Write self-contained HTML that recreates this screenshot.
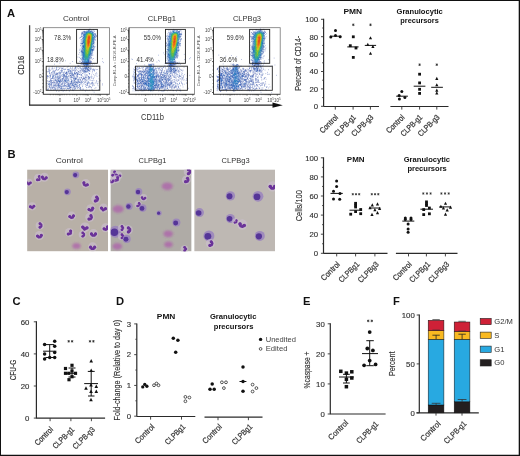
<!DOCTYPE html><html><head><meta charset="utf-8"><style>html,body{margin:0;padding:0;background:#fff;width:520px;height:456px;overflow:hidden}svg{display:block;will-change:transform}text{font-family:"Liberation Sans", sans-serif}</style></head><body><svg width="520" height="456" viewBox="0 0 520 456" font-family='"Liberation Sans", sans-serif'>
<rect x="0.00" y="0.00" width="520.00" height="456.00" fill="#fff"/>
<text x="7.00" y="16.90" font-size="11.2" fill="#111" text-anchor="start" font-weight="bold">A</text>
<g filter="url(#fb)" transform="translate(87.30 47.20) rotate(9) translate(-87.30 -47.20)"><ellipse cx="87.30" cy="46.70" rx="5.2" ry="15" fill="rgb(60,150,190)" opacity="0.55"/><ellipse cx="87.60" cy="45.20" rx="3.6" ry="12.5" fill="rgb(100,190,80)" opacity="0.75"/><ellipse cx="87.90" cy="41.70" rx="1.6" ry="6.5" fill="rgb(235,150,35)" opacity="0.8"/></g>
<path d="M89.1 63.1h.65M94.6 38.2h.65M81.9 36.6h.65M86.3 62.7h.65M93.0 49.2h.65M81.7 33.1h.65M80.8 50.6h.65M94.9 34.6h.65M92.1 59.2h.65M81.1 59.1h.65M82.1 43.6h.65M93.0 49.3h.65M84.3 65.2h.65M84.9 63.7h.65M88.3 29.9h.65M84.2 37.0h.65M92.5 54.8h.65M91.4 53.8h.65M90.5 58.1h.65M92.7 49.9h.65M93.4 50.4h.65M81.7 44.6h.65M81.9 41.8h.65M94.4 42.0h.65M89.7 60.4h.65M82.5 47.0h.65M87.0 63.3h.65M81.4 32.3h.65M81.5 36.3h.65M83.1 31.6h.65M93.6 46.9h.65M84.3 31.9h.65M89.8 60.7h.65M82.3 43.5h.65M81.3 40.0h.65M81.5 47.1h.65M81.6 42.1h.65M92.5 55.3h.65M94.3 31.5h.65M89.4 58.8h.65M94.7 36.6h.65M83.6 32.4h.65M84.5 62.7h.65M81.4 35.2h.65M81.5 50.1h.65M83.2 33.6h.65M94.4 42.8h.65M82.1 49.1h.65M88.9 29.4h.65M84.0 31.7h.65M81.5 59.9h.65M83.2 38.1h.65M83.8 29.8h.65M82.0 57.7h.65M91.8 53.0h.65M82.4 33.2h.65M95.2 35.7h.65M94.2 47.6h.65M90.8 61.2h.65M79.0 57.4h.65M93.7 48.8h.65M82.9 59.9h.65M82.5 32.8h.65M93.5 45.2h.65M93.3 48.1h.65M90.4 62.0h.65M91.7 50.9h.65M94.9 37.6h.65M91.0 58.0h.65M94.9 39.8h.65M94.2 36.7h.65M82.9 64.5h.65M86.0 65.3h.65M90.7 57.3h.65M81.8 45.1h.65M95.0 34.9h.65M80.7 63.2h.65M81.3 64.4h.65M90.6 59.1h.65M91.9 49.8h.65M90.8 57.6h.65M80.7 40.0h.65M81.0 50.0h.65M80.9 62.4h.65M82.4 61.3h.65M80.6 51.8h.65M79.0 50.1h.65M81.7 33.8h.65M80.8 55.4h.65M93.5 50.1h.65M90.8 53.9h.65M81.6 36.7h.65M80.7 43.6h.65M93.1 29.8h.65M89.7 61.7h.65M91.0 61.7h.65M93.1 58.5h.65M81.7 48.1h.65M79.8 49.0h.65M81.6 62.5h.65M93.3 45.2h.65M81.9 53.1h.65M80.4 37.6h.65M85.6 31.9h.65M92.3 49.4h.65M90.3 29.2h.65M91.1 55.6h.65M80.5 45.3h.65M86.8 64.1h.65M90.3 55.0h.65M94.8 46.7h.65M82.3 62.5h.65M81.6 52.0h.65M92.3 50.8h.65M81.4 36.9h.65M79.3 38.1h.65M87.8 64.0h.65M81.1 43.5h.65M96.0 35.6h.65M89.2 29.2h.65M96.1 36.2h.65M89.5 31.0h.65M82.4 31.9h.65M83.0 41.2h.65M81.6 43.6h.65M81.4 33.9h.65M88.3 61.8h.65M93.8 44.0h.65M95.8 36.5h.65M82.1 50.9h.65M91.2 49.6h.65M88.9 62.2h.65M91.5 63.5h.65M90.2 67.1h.65M87.1 69.8h.65M84.8 70.9h.65M85.5 64.4h.65M85.8 68.7h.65M89.4 71.1h.65M84.6 62.7h.65M83.4 68.6h.65M87.1 66.0h.65M90.1 69.0h.65M82.2 70.2h.65M89.7 61.9h.65M89.8 62.1h.65M83.9 67.1h.65M88.0 67.5h.65M87.5 64.5h.65M87.7 69.3h.65M83.3 71.1h.65M89.8 65.5h.65M88.7 66.7h.65M94.0 69.5h.65M81.3 62.7h.65M87.5 68.4h.65M78.5 68.8h.65M85.7 68.1h.65M88.0 62.5h.65M87.6 68.5h.65M86.2 71.5h.65M83.5 65.4h.65M93.1 69.3h.65M88.1 62.4h.65M89.5 63.1h.65M82.9 67.9h.65M85.8 64.5h.65M84.0 62.8h.65M87.7 62.3h.65M89.6 71.2h.65M86.0 65.7h.65M87.4 63.4h.65M90.8 62.2h.65M86.4 67.5h.65M91.4 68.3h.65M83.0 62.1h.65M89.8 62.0h.65M89.2 70.4h.65M87.4 69.4h.65M85.1 67.0h.65M84.1 63.5h.65M88.3 70.0h.65M92.9 63.5h.65M86.1 62.4h.65M83.1 64.4h.65M84.8 65.0h.65M83.1 66.3h.65M90.4 62.3h.65M86.5 63.7h.65M82.4 68.3h.65M85.2 67.7h.65M89.5 68.8h.65M82.1 61.8h.65M79.6 65.5h.65M88.4 67.6h.65M85.4 67.0h.65M77.6 65.4h.65M82.7 63.6h.65M84.7 71.7h.65M87.5 70.9h.65M83.5 70.1h.65M81.6 69.6h.65M94.1 63.9h.65M85.5 71.2h.65M75.9 75.6h.65M67.7 88.5h.65M59.9 86.3h.65M73.0 90.6h.65M74.5 71.3h.65M57.6 87.2h.65M75.4 66.5h.65M62.9 74.9h.65M54.6 80.0h.65M46.7 83.1h.65M70.8 81.7h.65M61.1 88.6h.65M66.9 69.7h.65M82.4 78.7h.65M84.9 82.4h.65M60.5 77.2h.65M75.1 73.3h.65M83.8 72.2h.65M87.0 75.9h.65M71.9 87.7h.65M53.2 81.3h.65M72.3 71.2h.65M64.9 69.1h.65M56.7 85.0h.65M59.3 68.7h.65M81.2 74.8h.65M56.7 83.0h.65M80.4 79.1h.65M47.4 75.7h.65M71.4 72.6h.65M85.3 91.0h.65M66.6 74.2h.65M67.5 83.1h.65M64.9 78.9h.65M70.7 81.7h.65M59.1 87.8h.65M68.0 88.7h.65M98.7 78.8h.65M90.5 84.2h.65M75.4 78.5h.65M68.7 81.4h.65M74.3 72.5h.65M71.2 82.7h.65M76.7 79.9h.65M64.9 88.5h.65M77.0 70.8h.65M52.4 88.7h.65M91.7 80.5h.65M92.9 79.0h.65M61.7 71.3h.65M61.7 90.2h.65M80.8 74.8h.65M62.9 69.2h.65M75.6 77.1h.65M58.4 84.3h.65M74.4 69.7h.65M85.2 84.7h.65M75.3 78.3h.65M78.7 74.5h.65M62.1 70.4h.65M50.1 77.3h.65M54.8 89.2h.65M51.1 69.0h.65M52.7 87.5h.65M79.2 82.4h.65M79.3 84.3h.65M58.4 69.9h.65M81.2 77.7h.65M82.6 84.7h.65M68.7 71.8h.65M49.6 81.3h.65M47.4 76.3h.65M77.2 80.1h.65M84.8 72.3h.65M69.9 83.9h.65M59.3 68.0h.65M57.8 85.7h.65M71.7 81.8h.65M99.5 80.1h.65M83.9 78.1h.65M53.6 79.7h.65M56.3 74.0h.65M59.9 67.8h.65M88.0 82.3h.65M52.2 68.6h.65M57.2 70.2h.65M74.1 84.4h.65M64.5 82.4h.65M91.7 83.0h.65M53.4 70.8h.65M51.1 84.4h.65M67.3 80.8h.65M58.1 79.0h.65M92.0 84.2h.65M66.1 73.3h.65M88.1 76.5h.65M65.4 80.4h.65M59.7 84.4h.65M64.4 75.7h.65M77.9 71.9h.65M51.1 81.6h.65M86.1 80.3h.65M51.8 83.0h.65M73.0 75.1h.65M60.5 73.1h.65M64.4 84.6h.65M91.8 69.7h.65M79.1 72.2h.65M50.4 75.7h.65M76.8 74.0h.65M48.0 89.2h.65M92.0 70.1h.65M74.3 80.4h.65M86.6 77.4h.65M81.6 75.5h.65M50.0 76.3h.65M63.5 78.3h.65M52.0 82.5h.65M79.2 81.3h.65M87.0 74.9h.65M92.9 78.5h.65M75.3 71.2h.65M57.1 73.7h.65M73.2 70.5h.65M94.2 75.9h.65M76.9 72.8h.65M58.0 77.0h.65M75.5 78.6h.65M62.2 88.8h.65M54.7 73.0h.65M51.9 74.8h.65M89.0 79.9h.65M74.3 75.1h.65M60.0 81.8h.65M61.3 81.0h.65M69.3 87.4h.65M52.0 78.0h.65M79.5 88.3h.65M73.0 76.0h.65M70.0 77.7h.65M87.6 90.6h.65M78.1 66.1h.65M55.3 70.1h.65M83.4 69.7h.65M54.5 85.8h.65M52.6 76.2h.65M95.2 73.8h.65M50.5 84.6h.65M57.6 78.1h.65M70.1 89.5h.65M54.7 82.3h.65M59.3 90.0h.65M86.9 83.1h.65M76.0 86.8h.65M47.5 89.2h.65M93.3 84.0h.65M83.5 78.8h.65M71.3 77.1h.65M74.2 68.4h.65M78.3 80.5h.65M93.7 70.5h.65M75.3 79.1h.65M94.2 71.1h.65M82.0 89.9h.65M58.1 69.4h.65M91.7 76.8h.65M67.6 78.8h.65M72.2 85.7h.65M50.2 74.1h.65M59.3 82.6h.65M62.8 85.5h.65M63.5 76.4h.65M65.2 73.2h.65M90.1 80.1h.65M56.5 72.8h.65M51.1 72.7h.65M95.6 83.2h.65M63.1 77.0h.65M66.8 67.8h.65M61.6 68.0h.65M54.6 80.4h.65M76.4 84.9h.65M86.0 77.2h.65M73.8 76.8h.65M77.3 74.5h.65M87.0 67.9h.65M49.0 87.5h.65M50.5 80.6h.65M56.4 85.0h.65M70.4 85.0h.65M70.2 68.2h.65M54.6 89.6h.65M93.3 69.1h.65M69.3 74.8h.65M74.5 70.5h.65M83.1 77.6h.65M59.2 76.1h.65M74.4 86.9h.65M85.4 75.0h.65M49.8 80.6h.65M49.6 70.3h.65M88.4 87.5h.65M79.7 70.1h.65M77.1 86.4h.65M92.4 82.1h.65M70.0 87.5h.65M75.7 86.7h.65M85.6 76.2h.65M86.6 83.7h.65M71.3 74.6h.65M72.6 74.1h.65M91.1 89.2h.65M52.7 75.8h.65M53.3 85.4h.65M52.8 84.7h.65M90.8 77.8h.65M61.0 88.1h.65M58.4 73.1h.65M83.7 71.9h.65M82.1 86.6h.65M96.2 72.8h.65M67.5 66.7h.65M62.7 86.5h.65M65.7 90.8h.65M50.7 89.7h.65M96.3 80.7h.65M74.0 73.5h.65M57.3 89.4h.65M62.0 78.8h.65M58.0 81.0h.65M63.3 73.8h.65M56.5 82.4h.65M80.7 81.2h.65M90.3 68.7h.65M85.3 86.3h.65M77.0 67.1h.65M49.1 71.4h.65M64.8 78.4h.65M57.6 81.4h.65M77.4 75.1h.65M48.6 68.1h.65M94.8 69.2h.65M55.6 73.9h.65M72.9 85.6h.65M62.6 72.7h.65M49.4 86.5h.65M81.4 72.2h.65M46.7 71.7h.65M70.1 83.1h.65M59.4 72.2h.65M49.6 70.6h.65M81.5 70.4h.65M85.8 80.0h.65M66.2 90.3h.65M57.0 85.2h.65M77.7 87.6h.65M73.8 81.6h.65M70.2 87.6h.65M57.4 76.6h.65M66.4 78.0h.65M67.1 83.9h.65M97.7 85.3h.65M62.1 79.2h.65M58.2 84.0h.65M54.5 82.1h.65M74.0 89.4h.65M55.5 76.4h.65M60.9 72.2h.65M73.7 86.2h.65M78.1 87.4h.65M65.2 73.4h.65M59.6 85.8h.65M82.1 79.9h.65M74.8 69.1h.65M64.0 74.9h.65M71.0 87.4h.65M76.1 69.1h.65M62.3 76.6h.65M83.5 78.7h.65M90.4 86.5h.65M51.6 78.5h.65M51.7 82.7h.65M68.3 71.8h.65M59.4 78.1h.65M68.5 83.9h.65M62.9 79.3h.65M72.7 88.9h.65M77.3 83.5h.65M64.7 76.4h.65M78.7 79.9h.65M66.3 73.5h.65M47.3 75.7h.65M84.8 76.7h.65M96.4 69.6h.65M80.4 70.3h.65M85.2 79.4h.65M73.0 87.2h.65M87.6 79.3h.65M62.9 76.0h.65M71.3 77.3h.65M52.7 68.8h.65M63.8 75.7h.65M99.6 68.6h.65M51.1 80.4h.65M47.7 76.6h.65M64.8 81.1h.65M92.2 85.3h.65M53.6 89.8h.65M67.8 85.4h.65M88.8 85.8h.65M87.1 71.9h.65M49.5 73.1h.65M59.8 77.7h.65M60.6 86.9h.65M72.4 73.0h.65M53.8 71.8h.65M50.6 86.1h.65M72.2 89.9h.65M67.8 70.6h.65M59.6 74.3h.65M62.7 86.3h.65M58.5 87.0h.65M47.3 89.6h.65M67.0 74.2h.65M56.6 86.2h.65M75.9 70.0h.65M64.3 80.1h.65M63.8 69.3h.65M52.1 87.9h.65M93.7 77.4h.65M46.9 87.0h.65M64.5 85.4h.65M60.4 70.6h.65M69.6 76.2h.65M56.0 69.8h.65M51.4 84.9h.65M71.5 83.1h.65M71.3 69.0h.65M93.6 80.6h.65M52.7 73.9h.65M87.6 83.1h.65M55.2 79.8h.65M64.6 83.4h.65M48.1 76.3h.65M56.6 77.8h.65M81.9 71.1h.65M80.3 80.1h.65M68.8 88.9h.65M81.9 82.3h.65M76.4 78.7h.65M61.2 90.2h.65M61.1 70.6h.65M53.6 71.3h.65M65.1 69.4h.65M73.8 82.9h.65M79.6 79.5h.65M81.1 81.7h.65M62.7 83.7h.65M49.7 81.8h.65M49.3 84.4h.65M89.4 87.0h.65M66.4 72.3h.65M57.6 84.6h.65M59.7 86.2h.65M74.0 77.0h.65M57.2 82.3h.65M63.5 88.6h.65M55.7 89.2h.65M66.8 88.6h.65M85.7 78.8h.65M47.6 89.2h.65M78.4 73.3h.65M64.6 75.7h.65M59.3 81.6h.65M69.9 75.7h.65M70.4 87.7h.65M88.1 78.6h.65M59.3 87.0h.65M63.7 86.4h.65M84.7 90.5h.65M93.6 83.2h.65M63.9 74.7h.65M58.5 85.9h.65M70.4 70.2h.65M64.1 80.2h.65M48.9 77.7h.65M75.9 81.6h.65M81.8 76.6h.65M79.0 86.6h.65M60.2 80.8h.65M50.8 78.9h.65M56.3 68.7h.65M79.8 70.5h.65M80.3 73.0h.65M67.5 77.1h.65M58.6 74.9h.65M66.9 86.0h.65M69.5 90.6h.65M84.7 82.1h.65M46.9 77.0h.65M97.8 81.8h.65M51.9 66.5h.65M69.5 73.5h.65M80.4 82.2h.65M80.0 79.7h.65M65.6 86.0h.65M94.6 88.4h.65M82.5 73.6h.65M56.6 73.8h.65M50.7 80.3h.65M75.3 67.9h.65M56.3 91.0h.65M89.4 90.2h.65M97.6 83.4h.65M64.0 90.5h.65M83.1 78.5h.65M73.2 83.2h.65M64.8 87.8h.65M50.1 87.8h.65M76.8 73.7h.65M87.4 85.3h.65M92.0 86.0h.65M77.2 77.6h.65M86.5 84.9h.65M47.4 81.2h.65M50.0 85.1h.65M79.8 87.9h.65M65.9 86.0h.65M74.7 67.1h.65M75.6 84.2h.65M73.5 78.8h.65M71.0 85.8h.65M64.5 83.7h.65M48.2 81.8h.65M69.7 78.3h.65M79.5 82.5h.65M61.6 68.4h.65M95.6 75.3h.65M52.0 78.0h.65M70.0 83.8h.65M91.9 72.9h.65M88.9 78.2h.65M68.3 84.8h.65M88.5 86.8h.65M58.3 80.0h.65M56.0 82.2h.65M70.0 88.8h.65M47.5 80.7h.65M54.4 71.6h.65M74.2 72.8h.65M53.6 82.5h.65M51.6 87.5h.65M50.4 89.9h.65M64.7 83.6h.65M57.9 83.6h.65M56.7 77.4h.65M93.4 74.6h.65M71.9 70.5h.65M76.5 82.7h.65M96.0 81.2h.65M75.4 67.3h.65M76.5 76.5h.65M54.0 73.3h.65M70.6 77.2h.65M55.8 86.5h.65M70.8 71.5h.65M74.1 80.8h.65M48.7 83.4h.65M57.3 82.9h.65M78.7 82.2h.65M51.0 85.8h.65M62.8 72.3h.65M70.8 83.4h.65M79.7 68.0h.65M51.6 90.3h.65M66.2 74.1h.65M85.3 77.3h.65M60.7 75.9h.65M59.8 83.1h.65M53.2 78.5h.65M64.8 77.5h.65M90.8 87.6h.65M52.3 80.6h.65M60.3 75.1h.65M57.2 81.6h.65M89.3 86.1h.65M64.9 76.5h.65M98.9 75.7h.65M77.9 66.3h.65M54.2 88.4h.65M68.3 78.8h.65M76.6 72.5h.65M60.0 76.4h.65M67.9 86.6h.65M66.6 87.1h.65M71.8 77.8h.65M77.0 82.4h.65M85.2 80.2h.65M63.3 72.9h.65M72.6 85.8h.65M54.4 87.6h.65M74.2 78.7h.65M51.9 67.6h.65M88.8 73.5h.65M61.9 90.8h.65M69.8 71.6h.65M54.8 77.7h.65M61.7 68.2h.65M84.5 79.6h.65M88.9 78.0h.65M73.7 85.7h.65M55.1 84.1h.65M68.2 83.6h.65M60.4 90.1h.65M60.0 73.1h.65M66.9 76.3h.65M84.7 71.8h.65M68.4 82.6h.65M59.2 77.6h.65M62.1 86.1h.65M72.6 75.6h.65M72.7 83.8h.65M74.8 79.3h.65M53.0 86.3h.65M60.7 87.5h.65M52.2 77.5h.65M59.7 78.3h.65M55.6 74.7h.65M86.7 69.2h.65M55.5 87.1h.65M68.8 69.7h.65M71.9 69.2h.65M70.4 71.2h.65M60.1 79.7h.65M74.6 87.0h.65M67.9 76.8h.65M54.8 70.9h.65M76.7 73.5h.65M50.1 79.6h.65M79.2 84.8h.65M63.6 88.8h.65M89.3 68.1h.65M64.9 82.0h.65M92.3 71.5h.65M69.6 77.1h.65M52.6 70.0h.65M55.3 79.7h.65M49.8 75.7h.65M77.4 76.2h.65M52.1 87.9h.65M52.6 82.7h.65M79.2 78.2h.65M55.4 78.2h.65M49.8 84.6h.65M88.2 77.1h.65M48.2 69.3h.65M56.6 79.0h.65M71.5 79.9h.65M56.6 74.3h.65M55.2 83.1h.65M59.6 73.7h.65M75.0 88.2h.65M48.5 71.7h.65M67.3 81.9h.65M49.3 73.1h.65M54.2 84.0h.65M71.5 80.4h.65M61.3 86.3h.65M79.8 72.1h.65M73.5 82.5h.65M56.6 88.1h.65M59.7 76.9h.65M78.0 66.1h.65M66.1 72.4h.65M55.5 80.3h.65M54.5 75.1h.65M75.6 82.7h.65M67.3 78.7h.65M63.1 75.2h.65M53.0 80.9h.65M68.4 71.4h.65M80.5 88.0h.65M100.3 80.8h.65M51.6 73.5h.65M68.5 73.7h.65M74.3 86.8h.65M77.3 76.1h.65M85.9 74.8h.65M72.7 83.2h.65M63.4 78.4h.65M64.5 66.5h.65M48.1 84.4h.65M52.5 71.7h.65M92.1 83.4h.65M51.2 82.3h.65M62.1 84.0h.65M75.2 74.0h.65M91.6 82.5h.65M58.0 85.0h.65M82.7 88.9h.65M91.1 76.8h.65M87.1 84.9h.65M78.0 81.3h.65M96.6 73.9h.65M83.9 80.9h.65M86.5 87.6h.65M60.2 85.7h.65M64.8 73.9h.65M47.2 78.3h.65M83.8 78.5h.65M53.7 82.8h.65M91.1 75.0h.65M74.8 74.4h.65M72.5 68.7h.65M86.1 75.1h.65M49.6 83.4h.65M87.0 83.1h.65M80.8 75.2h.65M89.2 83.9h.65M78.2 71.6h.65M48.9 87.2h.65M70.5 75.7h.65M70.3 75.5h.65M53.8 87.1h.65M77.8 78.1h.65M54.5 85.5h.65M58.0 84.7h.65M74.9 81.5h.65M61.8 82.9h.65M57.4 74.3h.65M86.6 82.0h.65M82.2 73.4h.65M82.1 79.6h.65M59.8 80.1h.65M70.1 73.1h.65M77.7 68.7h.65M84.1 70.2h.65M62.9 90.6h.65M77.0 84.9h.65M59.5 78.2h.65M91.1 87.4h.65M72.3 90.2h.65M68.5 75.6h.65M78.2 71.4h.65M61.8 81.7h.65M95.6 87.6h.65M83.3 81.6h.65M89.2 77.8h.65M55.1 84.9h.65M65.3 85.5h.65M50.3 78.8h.65M48.5 70.2h.65M49.4 68.0h.65M83.0 76.8h.65M89.1 74.3h.65M80.7 84.8h.65M72.9 85.7h.65M92.0 89.7h.65M68.5 85.3h.65M55.1 88.6h.65M55.6 76.1h.65M76.5 82.5h.65M61.4 81.2h.65M54.1 68.1h.65M96.4 66.3h.65M102.4 61.6h.65M99.0 87.7h.65M86.4 53.5h.65M62.3 68.6h.65M80.2 58.9h.65M102.2 58.7h.65M79.2 61.3h.65M61.9 83.6h.65M63.0 66.9h.65M67.9 69.7h.65M79.9 61.3h.65M58.6 91.4h.65M102.1 85.0h.65M73.6 76.1h.65M56.7 62.4h.65M80.0 58.4h.65M54.1 64.2h.65M103.3 62.6h.65M88.7 77.0h.65M69.0 86.2h.65M49.8 74.9h.65M93.8 92.2h.65M77.6 57.1h.65M74.1 88.8h.65M69.8 63.4h.65M79.0 52.7h.65M46.1 83.7h.65M72.2 61.5h.65M91.6 65.6h.65M73.3 78.1h.65M102.0 83.8h.65M71.5 75.9h.65" stroke="rgb(40, 65, 160)" stroke-width=".65" stroke-opacity="0.75"/>
<path d="M93.0 46.8h.65M88.8 59.2h.65M91.8 47.9h.65M94.8 33.7h.65M81.5 51.5h.65M80.3 37.5h.65M89.6 55.1h.65M82.2 52.6h.65M94.8 39.7h.65M92.3 50.2h.65M86.2 64.9h.65M89.2 57.5h.65M86.3 63.6h.65M83.8 62.5h.65M81.7 52.1h.65M81.9 61.1h.65M92.9 43.5h.65M94.7 40.4h.65M82.9 64.1h.65M91.9 50.0h.65M90.9 53.4h.65M92.3 53.2h.65M81.6 33.8h.65M84.5 31.5h.65M82.6 59.5h.65M83.8 63.7h.65M82.8 42.4h.65M92.8 43.1h.65M81.6 51.9h.65M92.9 34.5h.65M95.3 33.9h.65M80.1 43.2h.65M82.8 40.0h.65M80.9 39.6h.65M85.7 31.8h.65M83.3 62.4h.65M82.5 50.5h.65M90.8 54.7h.65M92.2 31.8h.65M81.8 33.5h.65M81.4 34.4h.65M78.5 54.4h.65M84.3 64.7h.65M82.5 57.1h.65M83.0 47.3h.65M82.4 58.6h.65M92.3 47.3h.65M94.3 34.2h.65M89.6 30.3h.65M82.6 43.0h.65M83.5 37.8h.65M82.9 37.5h.65M89.6 61.9h.65M82.1 58.0h.65M85.2 63.5h.65M90.6 31.0h.65M82.8 47.1h.65M91.6 31.1h.65M93.8 30.8h.65M81.6 52.1h.65M88.3 30.8h.65M80.1 45.8h.65M87.6 31.2h.65M92.9 35.5h.65M81.4 51.0h.65M88.4 60.9h.65M93.3 41.4h.65M82.7 56.9h.65M82.4 52.0h.65M91.8 32.3h.65M82.5 51.7h.65M82.6 46.4h.65M93.1 35.8h.65M93.8 39.3h.65M83.0 49.0h.65M81.9 62.1h.65M82.5 39.7h.65M90.1 56.5h.65M89.0 59.8h.65M81.9 58.8h.65M83.2 62.8h.65M82.0 49.0h.65M88.0 61.9h.65M90.9 54.8h.65M81.3 51.5h.65M87.3 64.3h.65M90.5 31.5h.65M82.5 43.5h.65M92.6 44.0h.65M86.8 31.5h.65M88.7 60.4h.65M92.2 50.0h.65M83.8 32.4h.65M83.2 46.4h.65M80.8 41.7h.65M87.6 30.8h.65M83.7 36.5h.65M88.3 61.7h.65M89.3 63.6h.65M88.3 59.6h.65M90.6 55.0h.65M88.7 30.2h.65M83.0 35.6h.65M81.6 59.8h.65M93.8 39.3h.65M91.9 49.5h.65M81.9 60.4h.65M81.5 43.3h.65M82.4 32.6h.65M93.3 40.0h.65M84.7 32.0h.65M86.1 63.0h.65M81.6 57.8h.65M83.1 58.4h.65M87.8 30.3h.65M87.5 62.5h.65M82.4 52.4h.65M83.1 34.7h.65M87.3 64.7h.65M82.9 46.5h.65M80.8 36.2h.65M89.1 58.3h.65M85.7 32.2h.65M86.8 63.3h.65M84.8 63.8h.65M82.4 33.2h.65M86.1 31.0h.65M91.4 31.0h.65M81.5 54.1h.65M82.2 55.0h.65M82.0 54.7h.65M93.2 43.3h.65M95.4 34.9h.65M88.4 62.6h.65M92.2 50.9h.65M82.7 55.8h.65M82.8 46.1h.65M82.7 41.4h.65M93.1 46.0h.65M88.6 70.0h.65M84.6 63.6h.65M91.8 69.3h.65M88.6 67.6h.65M86.1 61.9h.65M88.8 62.3h.65M90.8 62.6h.65M82.6 71.4h.65M84.1 67.9h.65M88.6 65.1h.65M80.6 64.2h.65M88.1 64.3h.65M88.1 70.3h.65M86.9 65.1h.65M82.5 68.0h.65M86.2 67.1h.65M88.3 70.6h.65M85.1 69.9h.65M84.1 70.9h.65M86.2 68.5h.65M84.7 68.6h.65M87.4 64.7h.65M83.9 68.1h.65M84.4 70.5h.65M86.7 64.6h.65M85.2 63.8h.65M86.7 70.0h.65M83.0 63.8h.65M86.3 66.7h.65M85.1 64.9h.65M87.6 69.7h.65M85.1 69.3h.65M82.7 69.7h.65M86.2 66.8h.65M86.2 64.7h.65M87.6 64.6h.65M84.0 65.4h.65M91.9 64.3h.65M86.6 64.2h.65M86.9 62.5h.65M90.2 69.4h.65M84.3 66.2h.65M87.3 67.0h.65M88.5 65.9h.65M88.7 69.0h.65M87.4 70.0h.65M84.5 62.7h.65M88.4 64.9h.65M85.6 62.4h.65M81.5 69.5h.65M82.4 70.1h.65M86.7 70.5h.65M84.5 68.0h.65M89.5 70.7h.65M87.9 64.9h.65M84.5 69.0h.65M83.1 70.9h.65M79.9 67.2h.65M84.8 65.3h.65M86.9 68.8h.65M87.3 62.2h.65M88.2 69.7h.65M82.2 66.6h.65M90.6 67.8h.65M85.8 64.2h.65M86.2 71.5h.65M88.3 67.4h.65M84.2 64.1h.65M85.7 69.5h.65M86.4 64.0h.65M87.8 63.9h.65M72.2 75.1h.65M75.2 89.0h.65M83.5 83.4h.65M66.0 79.4h.65M75.1 84.3h.65M78.1 79.7h.65M70.6 79.5h.65M54.6 84.8h.65M64.2 72.4h.65M57.6 77.9h.65M79.8 89.1h.65M69.6 71.1h.65M82.6 79.2h.65M90.7 83.6h.65M50.0 82.4h.65M88.2 77.8h.65M51.4 72.6h.65M88.1 82.2h.65M55.4 85.4h.65M81.0 78.0h.65M73.1 79.9h.65M80.3 87.3h.65M94.2 85.3h.65M73.8 88.3h.65M66.1 89.9h.65M76.1 72.5h.65M70.7 73.8h.65M62.0 78.5h.65M59.6 72.0h.65M72.9 69.9h.65M67.6 87.0h.65M60.6 80.3h.65M78.7 85.5h.65M52.2 72.1h.65M73.8 74.1h.65M98.4 89.5h.65M97.3 69.5h.65M71.2 81.7h.65M72.3 74.9h.65M59.3 75.7h.65M68.6 86.6h.65M57.5 73.3h.65M77.3 79.8h.65M79.8 88.9h.65M78.8 85.7h.65M71.8 84.1h.65M59.3 84.0h.65M63.1 82.7h.65M59.2 87.7h.65M53.4 87.8h.65M60.5 88.5h.65M63.7 74.7h.65M64.8 77.6h.65M66.7 74.5h.65M60.1 82.6h.65M76.8 82.8h.65M55.4 75.0h.65M64.3 76.4h.65M61.2 69.3h.65M63.2 77.6h.65M60.9 81.4h.65M71.9 75.7h.65M57.8 86.7h.65M80.7 74.9h.65M66.5 77.1h.65M77.2 81.8h.65M55.5 80.8h.65M47.4 71.8h.65M77.6 87.8h.65M49.4 75.9h.65M70.4 75.0h.65M74.1 73.5h.65M61.5 87.5h.65M71.8 88.7h.65M47.6 85.7h.65M71.9 81.0h.65M72.3 67.6h.65M56.2 67.0h.65M70.1 67.8h.65M63.5 81.3h.65M54.1 78.4h.65M49.3 86.2h.65M88.0 79.1h.65M73.3 81.3h.65M69.3 88.3h.65M75.1 70.4h.65M65.3 79.0h.65M53.3 90.0h.65M74.8 84.9h.65M58.5 87.1h.65M71.0 81.2h.65M51.8 86.1h.65M48.9 69.4h.65M86.4 87.3h.65M72.7 74.8h.65M80.0 89.2h.65M89.4 73.5h.65M71.8 72.9h.65M47.9 84.2h.65M57.5 88.6h.65M75.1 88.2h.65M77.1 85.5h.65M57.1 79.6h.65M62.7 69.0h.65M63.0 77.7h.65M73.7 77.0h.65M80.8 74.3h.65M51.0 78.5h.65M53.1 74.1h.65M77.6 81.8h.65M56.5 81.4h.65M53.8 75.3h.65M56.7 83.5h.65M67.6 71.6h.65M49.7 81.3h.65M64.4 85.6h.65M79.1 77.6h.65M65.0 81.6h.65M92.7 66.1h.65M79.9 87.7h.65M91.5 78.3h.65M68.7 86.2h.65M51.6 74.6h.65M72.0 84.1h.65M68.0 76.2h.65M59.1 81.5h.65M66.3 78.7h.65M80.7 80.6h.65M75.1 82.7h.65M59.7 72.6h.65M84.2 82.7h.65M91.0 83.7h.65M55.9 67.9h.65M70.9 83.8h.65M72.2 73.3h.65M79.4 74.4h.65M70.7 86.0h.65M61.1 84.5h.65M64.9 73.3h.65M64.5 81.2h.65M61.1 79.1h.65M84.8 84.4h.65M95.7 82.3h.65M74.9 73.4h.65M66.1 77.9h.65M71.7 77.4h.65M85.0 81.6h.65M77.2 86.8h.65M48.5 88.7h.65M64.3 80.3h.65M60.9 90.1h.65M64.1 86.2h.65M68.1 83.9h.65M62.5 84.2h.65M53.0 76.0h.65M59.2 83.2h.65M71.4 71.1h.65M67.6 84.7h.65M61.6 79.0h.65M71.2 79.0h.65M74.6 78.9h.65M52.9 72.0h.65M75.9 67.1h.65M61.3 83.4h.65M62.8 87.8h.65M54.7 87.0h.65M57.6 75.3h.65M84.9 77.8h.65M57.9 72.7h.65M63.9 75.1h.65M72.8 89.8h.65M51.1 83.9h.65M54.4 72.7h.65M85.9 89.9h.65M64.8 81.0h.65M75.5 79.0h.65M48.8 81.7h.65M49.4 81.7h.65M87.2 84.8h.65M82.2 80.9h.65M48.5 71.3h.65M84.7 72.3h.65M69.5 82.0h.65M76.9 88.5h.65M93.3 85.1h.65M68.8 84.8h.65M84.4 78.8h.65M80.7 83.2h.65M66.9 86.3h.65M89.2 77.8h.65M77.6 74.4h.65M68.8 85.4h.65M74.0 86.6h.65M75.2 68.2h.65M56.4 69.6h.65M66.2 80.0h.65M53.2 76.0h.65M96.7 76.4h.65M74.7 85.7h.65M69.4 84.0h.65M80.6 77.3h.65M68.1 69.3h.65M66.0 84.9h.65M54.8 74.5h.65M69.3 73.4h.65M49.0 72.4h.65M52.0 76.2h.65M88.4 72.1h.65M54.8 70.6h.65M50.3 76.1h.65M73.3 74.9h.65M54.6 85.8h.65M51.2 83.1h.65M67.0 82.4h.65M65.7 83.1h.65M56.3 83.4h.65M58.4 80.3h.65M69.1 88.3h.65M67.4 73.3h.65M75.9 82.7h.65M65.8 86.5h.65M83.4 89.4h.65M71.2 75.1h.65M74.6 73.6h.65M73.1 74.8h.65M59.5 81.7h.65M48.9 85.0h.65M58.7 80.2h.65M60.0 81.1h.65M74.8 80.9h.65M58.7 80.7h.65M59.3 85.5h.65M71.7 80.7h.65M54.2 82.1h.65M53.5 82.8h.65M80.8 77.6h.65M73.7 78.6h.65M56.7 77.9h.65M73.5 78.1h.65M65.9 71.9h.65M71.4 81.7h.65M77.5 76.4h.65M50.3 83.1h.65M56.7 79.7h.65M57.7 81.1h.65M73.6 77.9h.65M66.3 76.5h.65M88.2 76.4h.65M65.5 80.3h.65M61.0 71.3h.65M63.3 81.2h.65M59.6 80.3h.65M79.5 67.1h.65M73.7 80.2h.65M89.8 86.8h.65M65.5 79.9h.65M56.3 90.7h.65M70.3 71.0h.65M60.0 79.8h.65M79.8 82.4h.65M84.9 77.6h.65M56.3 81.2h.65M67.1 84.3h.65M67.8 81.0h.65M51.5 86.1h.65M53.6 77.6h.65M60.8 84.7h.65M67.3 69.6h.65M74.4 82.8h.65M81.9 82.7h.65M66.9 80.4h.65M84.7 71.2h.65M63.2 91.0h.65M56.5 80.5h.65M83.9 78.3h.65M66.3 72.7h.65M75.6 84.5h.65M66.4 72.4h.65M70.1 73.0h.65M69.4 69.1h.65M72.2 74.3h.65M57.1 73.7h.65M86.2 85.5h.65M71.1 81.3h.65M58.1 85.7h.65M49.7 70.0h.65M89.0 73.6h.65M58.2 89.0h.65M49.4 73.6h.65M61.2 70.3h.65M66.3 82.4h.65M48.6 86.7h.65M57.6 87.6h.65M57.8 67.3h.65M60.0 88.8h.65M64.0 90.2h.65M70.2 75.7h.65M56.1 74.4h.65M53.6 76.7h.65M52.9 86.9h.65M76.5 82.2h.65M81.3 82.1h.65M91.9 82.6h.65M77.0 73.9h.65M66.8 88.3h.65M55.0 77.3h.65M77.3 74.3h.65M78.5 73.0h.65M53.1 76.0h.65M64.7 77.1h.65M70.6 84.9h.65M60.9 86.1h.65M66.2 75.1h.65M62.7 80.0h.65M72.3 82.7h.65M97.3 83.9h.65M59.1 85.8h.65M58.3 80.8h.65M78.9 84.5h.65M92.6 90.7h.65M71.0 73.2h.65M68.4 66.3h.65M81.1 83.2h.65M75.2 68.0h.65M60.6 88.4h.65M78.9 86.2h.65M80.7 89.5h.65M79.3 74.5h.65M83.0 72.8h.65M70.6 73.1h.65M75.7 73.2h.65M55.9 73.8h.65M65.3 60.8h.65M91.8 80.6h.65M75.5 83.8h.65M51.4 81.0h.65M74.7 86.9h.65M80.4 84.0h.65M75.3 84.2h.65M68.7 86.0h.65M61.5 75.1h.65M59.6 63.2h.65M74.7 81.2h.65" stroke="rgb(38, 76, 171)" stroke-width=".65" stroke-opacity="0.75"/>
<path d="M93.1 46.5h.65M82.8 53.2h.65M93.2 32.0h.65M89.7 31.5h.65M90.3 53.5h.65M92.9 29.8h.65M88.7 62.2h.65M89.5 56.2h.65M91.2 49.2h.65M88.4 31.2h.65M93.2 38.6h.65M83.0 38.1h.65M87.4 31.9h.65M89.5 53.9h.65M82.5 61.6h.65M93.7 40.8h.65M88.3 61.9h.65M88.7 58.0h.65M90.2 53.7h.65M88.6 63.0h.65M92.0 32.8h.65M88.5 60.0h.65M83.1 34.6h.65M82.5 46.0h.65M82.9 40.4h.65M92.5 52.2h.65M93.3 34.3h.65M86.6 62.2h.65M82.9 56.4h.65M82.3 59.0h.65M82.7 47.9h.65M94.0 36.8h.65M83.5 47.9h.65M83.2 63.6h.65M87.0 62.7h.65M92.8 38.0h.65M90.2 52.7h.65M91.1 31.6h.65M83.9 37.0h.65M83.0 61.6h.65M89.2 30.5h.65M88.0 60.5h.65M83.4 63.7h.65M93.4 42.0h.65M84.1 42.6h.65M82.9 57.9h.65M92.7 41.1h.65M93.5 33.1h.65M88.6 58.2h.65M82.9 57.7h.65M82.6 45.9h.65M83.8 35.9h.65M87.1 62.0h.65M83.0 59.5h.65M91.8 49.8h.65M93.7 35.4h.65M91.9 32.0h.65M84.8 63.2h.65M83.4 36.1h.65M83.1 47.1h.65M83.4 37.3h.65M90.4 50.3h.65M83.2 40.2h.65M87.7 61.5h.65M88.7 61.1h.65M83.2 63.0h.65M85.7 62.3h.65M89.3 54.7h.65M92.9 39.9h.65M83.0 52.4h.65M94.0 39.0h.65M91.5 46.0h.65M87.5 62.8h.65M93.5 41.4h.65M83.5 55.7h.65M91.0 31.9h.65M83.0 60.1h.65M91.0 46.0h.65M84.0 35.9h.65M82.9 35.9h.65M83.1 59.1h.65M92.7 42.4h.65M84.7 62.7h.65M83.4 53.4h.65M94.7 36.2h.65M82.1 38.7h.65M90.8 52.2h.65M82.8 34.3h.65M82.3 43.5h.65M92.3 43.6h.65M82.9 56.5h.65M94.4 38.3h.65M93.6 48.9h.65M92.5 47.2h.65M93.6 38.1h.65M94.5 33.9h.65M84.3 36.1h.65M85.6 63.0h.65M88.4 61.7h.65M92.6 46.6h.65M83.1 31.8h.65M82.8 39.1h.65M83.4 58.0h.65M83.9 39.5h.65M91.6 52.6h.65M82.7 63.7h.65M94.1 46.6h.65M85.0 63.0h.65M82.6 42.2h.65M92.8 43.0h.65M84.5 63.9h.65M84.7 31.8h.65M90.3 54.2h.65M83.1 55.9h.65M94.4 33.6h.65M83.8 54.0h.65M85.5 33.0h.65M94.9 37.3h.65M84.6 34.4h.65M82.5 38.1h.65M83.9 35.5h.65M88.9 31.8h.65M94.5 35.7h.65M91.7 30.7h.65M82.4 51.1h.65M82.4 43.3h.65M83.8 34.3h.65M92.9 37.9h.65M82.7 56.1h.65M92.7 32.4h.65M92.8 35.7h.65M83.9 61.5h.65M84.6 33.1h.65M82.1 48.5h.65M84.0 63.4h.65M90.7 56.0h.65M91.1 49.4h.65M87.1 62.9h.65M83.8 33.9h.65M84.4 32.2h.65M90.1 51.8h.65M91.8 49.8h.65M84.1 34.2h.65M85.9 65.2h.65M83.3 45.9h.65M91.9 51.4h.65M92.4 44.8h.65M86.0 64.1h.65M84.0 61.7h.65M83.9 33.8h.65M83.3 35.5h.65M88.4 31.3h.65M87.9 61.3h.65M91.5 50.7h.65M87.2 61.9h.65M90.4 58.2h.65M84.9 33.0h.65M83.9 32.1h.65M88.2 60.6h.65M83.4 46.2h.65M82.4 55.1h.65M88.4 70.3h.65M86.2 64.0h.65M85.6 63.4h.65M86.3 66.6h.65M89.5 64.9h.65M85.0 68.1h.65M86.2 67.5h.65M82.3 64.6h.65M90.3 64.3h.65M87.4 63.1h.65M88.6 66.8h.65M85.6 70.3h.65M88.5 63.4h.65M90.5 63.3h.65M86.4 68.4h.65M84.9 71.5h.65M89.6 64.2h.65M81.2 68.6h.65M85.7 68.8h.65M86.1 62.2h.65M85.2 68.2h.65M86.5 62.4h.65M85.8 63.7h.65M83.7 66.5h.65M87.2 71.5h.65M85.0 71.4h.65M87.4 65.6h.65M85.2 68.3h.65M89.3 63.2h.65M87.3 64.0h.65M70.4 70.6h.65M70.0 86.9h.65M52.7 77.6h.65M66.9 72.6h.65M86.6 77.9h.65M58.3 78.4h.65M49.2 83.5h.65M59.1 81.2h.65M56.9 76.0h.65M85.0 66.1h.65M68.3 80.0h.65M88.3 81.3h.65M56.0 80.9h.65M82.4 85.9h.65M71.0 76.8h.65M51.2 83.8h.65M64.3 69.7h.65M73.6 83.0h.65M62.5 78.7h.65M65.3 76.0h.65M68.3 86.0h.65M69.9 83.7h.65M62.3 80.9h.65M76.4 75.0h.65M77.6 74.4h.65M88.8 77.1h.65M58.8 79.2h.65M50.2 88.3h.65M78.4 81.8h.65M87.1 83.4h.65M74.2 79.9h.65M61.9 79.8h.65M67.0 88.7h.65M78.1 82.0h.65M58.3 83.7h.65M61.6 76.0h.65M75.9 78.9h.65M66.2 82.6h.65M61.5 84.7h.65M59.7 81.4h.65M73.0 84.5h.65M68.8 80.1h.65M62.3 70.9h.65M67.2 77.2h.65M78.1 79.5h.65M66.1 75.7h.65M84.7 73.3h.65M71.2 82.7h.65M86.2 72.5h.65M46.8 76.8h.65M58.0 81.5h.65M69.1 85.3h.65M52.4 78.4h.65M68.9 84.0h.65M56.5 67.7h.65M63.9 82.0h.65M59.2 81.7h.65M62.1 82.3h.65M67.6 79.8h.65M86.9 80.9h.65M53.7 72.8h.65M71.7 84.0h.65M76.2 85.0h.65M78.6 82.4h.65M50.6 87.6h.65M68.9 91.0h.65M53.5 83.9h.65M94.1 70.6h.65M67.9 80.2h.65M75.7 78.6h.65M86.7 67.9h.65M83.0 68.8h.65M66.2 77.0h.65M71.9 85.5h.65M81.6 82.1h.65M89.3 82.6h.65M93.4 70.0h.65M76.2 86.7h.65M69.6 72.8h.65M55.8 85.3h.65M63.2 75.9h.65M65.8 76.3h.65M49.1 85.4h.65M84.1 74.9h.65M65.0 85.8h.65M51.1 88.2h.65M69.1 70.5h.65M76.2 72.4h.65M70.5 87.1h.65M69.0 87.2h.65M63.9 88.8h.65M65.3 80.7h.65M58.5 78.6h.65M68.3 72.1h.65M57.9 77.9h.65M64.0 71.3h.65M64.2 79.8h.65M55.5 76.3h.65M54.9 80.4h.65M62.1 80.5h.65M61.8 74.9h.65M57.3 80.3h.65M76.0 77.8h.65M57.8 82.4h.65M48.6 84.5h.65M79.9 71.5h.65M62.3 89.1h.65M73.4 87.1h.65M74.4 72.2h.65M65.8 72.7h.65M75.5 77.4h.65M88.4 83.3h.65M72.0 77.3h.65M53.7 85.5h.65M74.1 82.3h.65M80.7 68.5h.65M83.7 71.2h.65M65.8 81.5h.65M75.0 79.5h.65M73.5 85.6h.65M59.2 73.3h.65M57.6 76.6h.65M74.5 84.3h.65M64.2 84.7h.65M63.5 74.4h.65M98.8 86.8h.65M75.8 85.4h.65M63.5 85.7h.65M72.1 84.6h.65M90.1 76.9h.65M50.6 80.7h.65M61.0 72.2h.65M59.9 73.1h.65M67.9 88.9h.65" stroke="rgb(36, 87, 182)" stroke-width=".65" stroke-opacity="0.75"/>
<path d="M89.8 49.6h.65M93.7 36.3h.65M83.1 49.6h.65M91.5 34.2h.65M90.2 50.7h.65M83.4 52.3h.65M84.1 40.9h.65M84.0 52.9h.65M94.4 37.6h.65M84.8 37.4h.65M84.3 45.5h.65M84.6 59.6h.65M83.9 55.7h.65M83.0 42.4h.65M89.8 31.8h.65M83.2 52.9h.65M87.6 59.4h.65M92.4 39.2h.65M83.6 61.6h.65M83.1 46.1h.65M93.5 40.1h.65M83.0 53.0h.65M83.6 53.7h.65M92.1 32.8h.65M92.5 39.2h.65M87.6 61.3h.65M91.2 49.8h.65M84.0 60.3h.65M83.2 37.4h.65M87.4 58.7h.65M83.6 40.4h.65M82.9 45.7h.65M84.2 44.0h.65M93.0 43.5h.65M85.3 63.6h.65M83.2 50.2h.65M89.6 49.6h.65M90.3 50.6h.65M84.1 49.7h.65M85.6 62.3h.65M92.9 40.1h.65M93.3 37.5h.65M84.8 34.0h.65M83.2 54.8h.65M88.4 60.1h.65M81.8 53.6h.65M87.3 59.8h.65M91.5 39.7h.65M85.6 64.2h.65M90.8 53.4h.65M84.0 61.4h.65M84.0 59.6h.65M93.6 34.7h.65M92.3 33.7h.65M93.0 42.2h.65M84.4 63.0h.65M90.0 32.0h.65M84.3 51.4h.65M83.1 46.8h.65M88.1 31.2h.65M82.7 53.8h.65M89.6 53.7h.65M83.5 42.4h.65M83.3 51.3h.65M89.4 55.2h.65M91.9 49.5h.65M86.1 32.5h.65M93.4 34.9h.65M92.0 44.4h.65M83.6 42.9h.65M83.5 54.2h.65M84.0 65.0h.65M93.2 37.7h.65M83.9 33.5h.65M93.2 42.7h.65M85.4 62.2h.65M83.9 49.8h.65M91.6 41.7h.65M84.5 38.7h.65M85.1 32.3h.65M83.8 39.0h.65M90.5 46.7h.65M92.8 32.6h.65M83.9 34.5h.65M83.6 43.6h.65M84.6 60.1h.65M83.5 54.5h.65M87.2 32.4h.65M89.9 49.0h.65M84.7 43.5h.65M87.4 32.3h.65M83.9 56.3h.65M88.0 59.0h.65M82.5 48.4h.65M91.1 48.1h.65M84.3 36.4h.65M87.8 32.5h.65M85.2 34.7h.65M83.0 59.8h.65M82.4 38.5h.65M84.1 41.8h.65M90.2 49.7h.65M83.9 42.2h.65M82.2 34.9h.65M84.3 41.7h.65M83.7 54.7h.65M87.8 58.9h.65M83.1 56.6h.65M82.9 55.1h.65M87.7 59.9h.65M83.3 42.0h.65M92.5 37.9h.65M85.2 64.3h.65M93.2 35.8h.65M84.7 34.6h.65M90.3 52.3h.65M90.5 49.7h.65M85.7 62.0h.65M89.0 55.6h.65M87.9 60.2h.65M92.4 41.1h.65M89.3 54.7h.65M85.4 33.4h.65M92.5 40.4h.65M85.8 31.9h.65M90.8 51.0h.65M92.4 39.7h.65M92.1 34.0h.65M83.3 47.1h.65M83.4 42.5h.65M92.9 33.3h.65M92.3 34.9h.65M90.2 51.8h.65M86.7 62.2h.65M87.8 60.6h.65M83.5 39.5h.65M82.5 40.7h.65M85.8 61.9h.65M92.0 32.7h.65M94.2 36.4h.65M83.9 46.3h.65M83.5 52.2h.65M85.2 62.2h.65M83.6 47.2h.65M93.2 39.3h.65M88.0 61.0h.65M84.0 44.8h.65M84.3 46.1h.65M83.9 42.0h.65M90.0 51.7h.65M91.4 44.3h.65M90.7 50.2h.65M84.1 52.1h.65M84.1 34.7h.65M83.9 52.8h.65M85.2 61.6h.65M83.6 57.2h.65M90.5 47.5h.65M90.2 31.5h.65M91.5 41.8h.65M84.1 42.9h.65M83.8 46.6h.65M83.3 54.9h.65M92.7 36.8h.65M83.5 38.0h.65M83.6 44.9h.65M87.9 60.6h.65M90.0 31.8h.65M82.8 40.2h.65M83.8 41.9h.65M88.2 67.7h.65M86.5 65.8h.65M80.0 68.2h.65M86.2 64.7h.65M87.3 63.9h.65M87.0 65.0h.65M61.0 88.4h.65M59.2 82.0h.65M58.2 85.7h.65M69.6 86.8h.65M66.4 81.1h.65M71.7 73.5h.65M68.2 80.2h.65M52.1 76.5h.65M65.7 76.2h.65M58.6 76.6h.65M68.1 69.9h.65M72.2 84.1h.65M65.4 81.0h.65M57.7 85.6h.65M66.4 81.1h.65M55.1 89.1h.65M47.6 83.7h.65M66.9 77.9h.65M62.4 74.4h.65M77.8 83.5h.65M61.3 86.5h.65" stroke="rgb(34, 101, 191)" stroke-width=".65" stroke-opacity="0.75"/>
<path d="M90.5 51.3h.65M84.8 59.5h.65M84.5 37.8h.65M84.0 52.9h.65M92.3 34.4h.65M92.0 45.8h.65M83.9 47.8h.65M91.0 41.9h.65M84.4 45.7h.65M85.1 55.3h.65M90.1 48.8h.65M86.5 31.8h.65M88.5 32.1h.65M90.9 41.7h.65M82.7 53.3h.65M83.7 44.3h.65M83.8 38.9h.65M91.0 45.1h.65M89.4 31.9h.65M84.7 54.2h.65M84.2 56.6h.65M87.2 60.4h.65M91.2 42.4h.65M84.1 48.7h.65M91.0 47.8h.65M88.7 54.8h.65M89.5 56.8h.65M84.6 60.9h.65M83.6 41.9h.65M84.8 40.0h.65M84.4 35.3h.65M91.3 44.4h.65M87.8 58.7h.65M83.6 42.4h.65M83.5 48.1h.65M87.8 53.6h.65M84.1 49.2h.65M87.3 60.5h.65M93.8 36.8h.65M83.3 52.3h.65M85.1 59.9h.65M91.7 44.4h.65M90.3 32.9h.65M89.2 32.3h.65M84.1 53.7h.65M84.2 52.3h.65M83.7 57.5h.65M83.9 49.7h.65M83.2 45.8h.65M90.8 47.0h.65M93.0 38.4h.65M85.5 33.0h.65M90.9 43.0h.65M84.4 56.1h.65M90.5 33.2h.65M89.2 54.5h.65M84.0 48.1h.65M85.9 33.8h.65M84.6 62.3h.65M84.6 50.7h.65M82.6 49.4h.65M83.1 55.5h.65M92.1 39.1h.65M91.3 40.0h.65M85.3 34.5h.65M83.8 38.5h.65M84.1 48.5h.65M85.9 61.7h.65M84.6 35.8h.65M84.5 51.5h.65M91.7 32.9h.65M85.5 60.8h.65M84.7 37.3h.65M83.7 46.0h.65M90.8 46.8h.65M89.2 54.4h.65M83.9 39.8h.65M86.0 32.9h.65M84.3 34.8h.65M84.2 50.9h.65M91.3 44.8h.65M86.2 32.8h.65M90.1 47.6h.65M83.0 37.9h.65M84.1 50.7h.65M84.2 51.9h.65M91.1 32.9h.65M89.6 32.0h.65M83.8 56.3h.65M88.5 56.2h.65M91.0 43.5h.65M91.5 42.6h.65M84.5 51.9h.65M85.6 50.9h.65M88.9 57.4h.65M84.8 40.2h.65M84.4 59.6h.65M92.7 35.1h.65M92.2 40.7h.65M92.5 37.1h.65M89.9 52.3h.65M84.1 50.6h.65M84.4 38.3h.65M83.5 49.8h.65M91.3 33.7h.65M84.9 36.1h.65M88.5 55.0h.65M87.1 61.5h.65M91.6 37.8h.65M90.0 50.1h.65M83.9 41.8h.65M88.0 31.9h.65M84.7 43.9h.65M86.1 33.2h.65M83.5 41.6h.65M84.2 44.0h.65M91.1 43.6h.65M92.3 37.1h.65M92.2 34.4h.65M91.4 43.7h.65M87.5 60.0h.65M90.5 46.9h.65M84.1 54.9h.65M83.4 55.6h.65M90.7 50.7h.65M84.3 37.3h.65M88.7 32.8h.65M93.2 37.3h.65M89.5 55.6h.65M84.7 56.5h.65M83.1 53.6h.65M83.3 55.3h.65M84.4 45.3h.65M85.1 38.8h.65M90.8 46.6h.65M83.8 50.3h.65M85.1 60.7h.65M91.0 44.7h.65M86.0 32.7h.65M84.4 35.2h.65M86.2 33.5h.65M87.8 33.0h.65M83.8 47.8h.65M92.2 39.2h.65M85.5 62.5h.65M91.8 41.4h.65M88.7 56.8h.65M85.5 36.6h.65M86.1 61.9h.65M92.3 38.8h.65M83.8 53.7h.65M90.0 48.9h.65M83.6 40.6h.65M88.9 32.4h.65M85.1 36.8h.65M85.4 34.2h.65M91.3 43.4h.65M92.3 37.0h.65M84.2 60.6h.65M86.6 32.6h.65M83.7 54.4h.65M90.2 46.3h.65M88.2 56.8h.65M91.2 48.8h.65M89.6 33.2h.65M85.1 58.4h.65M87.1 61.0h.65M91.2 44.1h.65M94.0 37.0h.65M84.9 35.1h.65M86.8 57.4h.65M85.0 59.2h.65M90.9 32.3h.65M83.9 34.6h.65M88.6 58.1h.65M89.8 57.2h.65M87.0 33.3h.65M92.5 33.5h.65M91.8 41.8h.65M86.3 32.9h.65M90.2 52.8h.65M85.6 60.9h.65M85.2 34.2h.65M91.1 44.5h.65M84.2 54.1h.65M82.8 61.0h.65M91.9 34.6h.65M84.2 40.1h.65M91.1 47.3h.65M92.5 33.0h.65M84.7 41.5h.65M84.0 55.2h.65M90.2 32.6h.65M84.2 54.8h.65M84.5 46.7h.65M83.4 58.2h.65M85.3 42.9h.65M92.9 41.2h.65M84.3 61.8h.65M83.4 52.4h.65M91.0 44.3h.65M84.7 44.4h.65M86.7 59.8h.65M83.3 52.8h.65M91.5 39.5h.65M90.2 53.9h.65M90.2 52.1h.65M92.6 33.8h.65M92.5 37.2h.65M86.4 32.7h.65M84.4 36.5h.65M90.7 46.6h.65M84.6 57.1h.65M83.4 51.9h.65M92.5 40.5h.65M90.1 49.9h.65M87.8 32.9h.65M83.5 41.8h.65M84.2 47.4h.65M92.3 42.0h.65M83.7 50.3h.65M84.1 49.6h.65M87.9 59.1h.65M83.4 59.1h.65M87.6 32.2h.65M84.4 58.6h.65M92.7 39.9h.65M85.8 33.3h.65M84.5 35.1h.65M92.4 37.1h.65" stroke="rgb(31, 122, 196)" stroke-width=".65" stroke-opacity="0.75"/>
<path d="M89.6 49.1h.65M85.5 38.8h.65M89.0 52.8h.65M83.8 57.6h.65M87.6 33.0h.65M86.3 54.7h.65M88.6 51.2h.65M91.3 40.4h.65M92.0 39.3h.65M86.5 59.4h.65M85.6 58.2h.65M84.0 55.6h.65M84.3 49.3h.65M85.6 33.5h.65M85.6 35.9h.65M88.9 53.9h.65M84.3 39.4h.65M87.4 59.8h.65M85.1 46.1h.65M91.3 40.6h.65M88.1 52.5h.65M84.5 51.5h.65M84.0 49.5h.65M91.3 33.6h.65M87.6 57.6h.65M85.8 57.6h.65M84.5 34.9h.65M83.6 55.1h.65M84.7 45.9h.65M84.3 49.1h.65M84.7 40.6h.65M87.0 59.8h.65M85.3 59.0h.65M91.0 46.4h.65M92.5 34.8h.65M90.8 33.4h.65M84.7 43.6h.65M86.3 33.6h.65M84.5 47.1h.65M88.0 57.4h.65M84.9 37.8h.65M86.9 60.2h.65M91.8 37.7h.65M90.9 45.8h.65M92.1 36.9h.65M89.3 55.2h.65M88.0 56.8h.65M83.7 58.3h.65M87.8 55.7h.65M92.1 36.9h.65M84.7 41.6h.65M84.7 42.9h.65M84.5 57.5h.65M84.8 50.1h.65M84.9 49.3h.65M88.1 32.9h.65M92.8 34.3h.65M84.5 47.0h.65M84.6 50.0h.65M86.8 32.9h.65M86.4 58.4h.65M83.8 56.3h.65M87.2 58.5h.65M86.9 33.1h.65M85.2 59.4h.65M84.8 38.4h.65M84.6 55.0h.65M85.2 59.9h.65M84.3 40.0h.65M92.2 35.1h.65M84.4 37.5h.65M84.4 42.8h.65M86.9 61.0h.65M91.4 41.2h.65M91.8 38.1h.65M88.1 59.0h.65M84.7 56.8h.65M85.0 44.4h.65M91.2 49.1h.65M87.4 56.2h.65M84.5 55.5h.65M90.1 48.3h.65M85.5 35.1h.65M85.7 38.2h.65M91.2 41.2h.65M89.7 53.0h.65M90.9 42.2h.65M86.2 58.1h.65M92.1 35.6h.65M85.3 61.6h.65M88.7 56.0h.65M91.6 36.0h.65M84.9 55.6h.65M84.4 51.2h.65M92.0 35.0h.65M85.5 51.1h.65M87.9 56.7h.65M92.4 43.2h.65M85.2 37.8h.65M85.7 60.2h.65M85.1 55.3h.65M87.8 56.3h.65M86.1 60.7h.65M84.4 50.8h.65M89.1 50.0h.65M84.6 38.6h.65M89.0 53.0h.65M84.4 55.0h.65M84.7 56.0h.65M87.4 58.9h.65M88.3 55.0h.65M90.5 33.8h.65M84.4 55.1h.65M86.4 33.5h.65M84.6 47.3h.65M87.2 56.2h.65M84.3 39.6h.65M85.3 59.0h.65M91.7 41.5h.65M92.2 39.1h.65M90.0 48.5h.65M84.2 46.7h.65M88.4 55.4h.65M92.0 33.9h.65M86.5 61.5h.65M90.6 47.0h.65M90.1 45.2h.65M90.4 45.2h.65M90.7 47.5h.65M89.1 52.0h.65M90.3 47.2h.65M88.5 53.3h.65M85.2 41.0h.65M85.1 47.5h.65M90.1 48.4h.65M92.2 35.5h.65M92.6 34.2h.65M84.5 40.6h.65M84.6 48.4h.65M86.3 33.0h.65M88.0 54.4h.65M84.2 46.7h.65M90.3 47.6h.65M84.7 46.4h.65M85.9 56.1h.65M84.2 43.9h.65M90.4 51.0h.65M91.1 43.5h.65M86.0 34.3h.65M91.3 42.7h.65M86.2 58.6h.65M91.5 34.2h.65M84.4 47.7h.65M84.5 52.3h.65M84.4 48.5h.65M84.8 54.3h.65M85.1 37.2h.65M87.4 55.2h.65M84.1 53.2h.65M84.3 52.9h.65M91.6 35.1h.65M84.7 47.1h.65M90.9 45.7h.65M84.6 39.4h.65M84.3 48.5h.65M91.8 35.2h.65M84.8 37.1h.65M85.0 35.3h.65M92.2 39.1h.65M84.7 47.5h.65M84.7 44.9h.65M91.8 46.0h.65M85.1 39.6h.65M84.0 54.3h.65M92.0 38.8h.65M85.2 58.3h.65M87.3 31.7h.65M88.7 53.5h.65M87.3 57.1h.65M83.9 52.7h.65" stroke="rgb(32, 143, 194)" stroke-width=".65" stroke-opacity="0.9"/>
<path d="M88.5 52.6h.65M88.6 51.3h.65M91.4 38.9h.65M88.0 57.3h.65M89.9 33.3h.65M86.1 54.5h.65M91.3 37.4h.65M89.9 48.1h.65M85.4 52.7h.65M88.6 54.6h.65M84.9 36.2h.65M87.7 55.6h.65M84.7 50.2h.65M86.4 57.1h.65M87.7 54.8h.65M85.3 39.2h.65M86.7 58.9h.65M85.0 48.8h.65M91.2 39.5h.65M91.4 37.3h.65M85.2 59.7h.65M90.5 45.8h.65M85.2 50.7h.65M84.8 46.5h.65M84.4 54.0h.65M86.9 56.0h.65M85.5 37.5h.65M85.2 47.4h.65M85.1 52.9h.65M85.0 50.7h.65M90.0 46.4h.65M89.0 52.7h.65M85.3 54.7h.65M86.6 60.0h.65M90.1 47.4h.65M90.3 47.4h.65M83.9 53.1h.65M87.9 55.3h.65M91.8 38.1h.65M90.2 47.3h.65M84.9 51.5h.65M84.6 42.3h.65M85.8 55.9h.65M89.4 32.7h.65M86.0 36.8h.65M85.1 41.1h.65M89.0 50.1h.65M85.0 45.7h.65M84.3 43.9h.65M87.2 51.8h.65M85.6 49.7h.65M92.0 35.6h.65M86.9 56.1h.65M91.7 37.2h.65M87.9 55.0h.65M90.1 48.1h.65M85.5 57.2h.65M85.3 50.1h.65M86.9 34.6h.65M87.9 54.3h.65M88.7 50.6h.65M84.5 40.6h.65M84.9 46.3h.65M85.3 55.8h.65M88.8 54.5h.65M88.2 53.6h.65M87.3 54.3h.65M85.0 46.9h.65M85.3 55.1h.65M85.3 42.0h.65M85.0 35.3h.65M85.5 39.8h.65M85.7 57.6h.65M86.3 34.7h.65M85.9 55.9h.65M85.1 56.8h.65M84.6 46.6h.65M84.7 55.2h.65M87.7 53.8h.65M85.4 45.8h.65M89.4 50.6h.65M85.7 55.9h.65M85.1 38.9h.65M86.3 59.4h.65M88.5 54.4h.65M88.5 53.9h.65M87.0 59.2h.65M85.1 57.5h.65M85.3 37.2h.65M84.4 52.3h.65M84.3 49.5h.65M84.0 55.8h.65M84.7 48.4h.65M84.7 46.1h.65M84.3 51.0h.65M85.5 59.1h.65M86.8 61.7h.65M84.0 57.1h.65M88.5 53.9h.65M85.6 45.3h.65M85.8 56.7h.65M87.3 57.4h.65M90.2 33.5h.65M89.1 51.9h.65M91.2 33.8h.65M91.0 37.2h.65M85.3 45.3h.65M84.7 43.4h.65M84.4 43.2h.65M84.8 42.7h.65M89.4 52.0h.65M84.1 49.6h.65M88.6 53.9h.65M85.1 51.2h.65M86.9 59.7h.65M85.4 36.5h.65M89.0 33.4h.65M89.1 51.5h.65M84.3 43.4h.65M84.7 49.3h.65M90.6 44.3h.65M84.5 57.6h.65M84.1 56.7h.65M85.6 56.5h.65M87.6 32.7h.65M90.0 46.7h.65M89.4 49.2h.65M87.4 56.0h.65M84.7 59.6h.65M85.2 57.1h.65M87.4 32.5h.65M85.6 47.3h.65M89.2 50.7h.65M84.9 42.1h.65M89.8 48.7h.65M84.3 42.9h.65M84.2 39.9h.65M91.8 38.1h.65M92.1 38.0h.65M89.2 53.0h.65M85.5 36.6h.65M87.6 33.7h.65M92.5 38.6h.65M84.9 55.1h.65M85.0 52.0h.65M84.7 58.0h.65M90.2 47.7h.65M84.9 49.7h.65M88.3 51.9h.65M90.0 49.6h.65M91.9 39.4h.65M89.6 48.5h.65M90.4 47.0h.65M88.8 52.1h.65M85.7 49.7h.65M88.5 32.2h.65M85.3 37.9h.65M90.1 34.6h.65M88.9 51.1h.65M85.1 42.7h.65M90.6 33.6h.65M85.3 39.3h.65M84.3 39.9h.65M85.1 59.3h.65M88.0 52.4h.65M87.6 57.5h.65M87.6 57.1h.65M90.5 33.5h.65M85.1 55.9h.65M84.6 46.1h.65M84.9 52.3h.65M85.0 49.7h.65M87.1 53.7h.65M87.2 55.5h.65M86.8 34.6h.65M91.0 33.6h.65M85.4 39.0h.65M89.5 51.4h.65M84.9 47.2h.65M85.2 44.0h.65M89.6 52.1h.65M84.6 43.2h.65M88.8 53.5h.65M86.7 33.0h.65M90.3 33.7h.65M85.0 56.1h.65M87.3 55.7h.65M88.2 52.6h.65M85.7 40.6h.65M84.8 41.5h.65M87.5 56.9h.65M87.7 54.5h.65M85.5 56.2h.65M91.2 42.7h.65M85.0 44.5h.65M86.4 34.6h.65M86.2 59.3h.65M88.9 50.5h.65M88.2 52.7h.65M84.6 41.7h.65M84.5 48.0h.65M85.3 51.0h.65M84.3 57.7h.65M84.7 55.5h.65M91.0 44.3h.65M84.6 54.8h.65M91.1 33.6h.65M90.4 46.2h.65M88.7 51.7h.65M86.5 34.7h.65M85.7 35.8h.65M90.1 33.4h.65M86.6 56.5h.65M87.7 53.3h.65M91.0 34.2h.65M88.9 53.2h.65M85.6 40.7h.65M91.6 34.5h.65M89.8 33.2h.65M85.0 52.3h.65M84.7 51.3h.65M92.2 39.7h.65M85.3 55.4h.65M88.6 33.2h.65M87.6 32.8h.65M85.7 42.9h.65M85.6 53.9h.65M84.9 42.6h.65M88.8 51.9h.65M85.2 56.0h.65M85.1 42.1h.65M88.8 52.1h.65M87.3 56.1h.65M88.4 51.2h.65M90.3 32.8h.65M87.6 53.2h.65M84.3 52.5h.65M90.8 45.4h.65" stroke="rgb(42, 161, 169)" stroke-width=".65" stroke-opacity="0.9"/>
<path d="M88.3 50.4h.65M85.7 53.7h.65M90.2 41.4h.65M91.3 35.9h.65M86.8 37.0h.65M90.4 43.1h.65M85.4 39.3h.65M91.9 34.9h.65M91.6 39.3h.65M85.6 58.7h.65M85.3 44.4h.65M91.9 36.4h.65M89.7 33.2h.65M88.7 50.6h.65M85.5 36.7h.65M85.2 49.3h.65M88.1 53.7h.65M89.1 51.4h.65M86.6 51.3h.65M84.1 58.1h.65M84.8 53.8h.65M87.1 56.1h.65M85.4 45.1h.65M85.6 47.6h.65M85.0 54.3h.65M86.4 34.0h.65M90.9 40.6h.65M86.4 40.0h.65M87.2 56.9h.65M85.2 52.1h.65M88.0 56.2h.65M85.9 55.3h.65M88.5 52.6h.65M88.7 33.5h.65M91.5 36.6h.65M87.6 50.4h.65M86.2 40.9h.65M90.8 40.8h.65M91.1 41.2h.65M86.3 56.7h.65M90.6 44.8h.65M85.5 48.1h.65M85.6 45.8h.65M87.6 33.9h.65M85.2 50.0h.65M85.2 57.8h.65M86.1 38.0h.65M84.8 51.1h.65M91.5 41.5h.65M85.3 53.4h.65M85.3 47.2h.65M89.4 48.6h.65M87.0 53.0h.65M90.4 42.3h.65M89.7 48.7h.65M89.0 47.1h.65M85.9 44.4h.65M86.2 57.6h.65M85.1 56.8h.65M86.4 55.9h.65M88.4 51.5h.65M85.4 53.2h.65M85.5 39.1h.65M87.8 54.4h.65M85.3 49.6h.65M86.1 48.4h.65M85.5 41.5h.65M90.7 38.7h.65M87.5 55.3h.65M89.5 33.8h.65M90.3 43.9h.65M85.6 55.7h.65M85.5 44.8h.65M84.9 47.3h.65M85.8 49.8h.65M87.6 34.3h.65M84.9 42.4h.65M85.0 37.5h.65M86.3 56.5h.65M86.5 54.2h.65M90.4 45.1h.65M87.1 58.5h.65M89.6 46.1h.65M91.5 38.8h.65M90.0 44.0h.65M85.3 49.3h.65M91.3 37.9h.65M91.0 34.4h.65M86.4 56.8h.65M90.7 39.5h.65M90.8 39.2h.65M86.7 56.2h.65M86.2 52.7h.65M90.1 44.2h.65M86.9 52.3h.65M91.2 34.8h.65M90.1 33.9h.65M91.4 38.5h.65M85.6 40.9h.65M89.3 32.7h.65M86.0 56.7h.65M85.8 42.4h.65M87.6 33.6h.65M85.3 44.0h.65M90.1 46.6h.65M86.6 52.0h.65M85.0 49.4h.65M89.4 48.6h.65M86.6 57.2h.65M85.5 46.2h.65M84.9 41.2h.65M86.3 51.4h.65M86.2 36.5h.65M84.6 51.4h.65M85.2 51.3h.65M86.3 48.8h.65M86.1 42.7h.65M85.0 47.4h.65M85.0 54.8h.65M87.8 50.4h.65M86.8 56.9h.65M86.2 34.4h.65M88.9 47.3h.65M90.4 42.9h.65M85.1 46.2h.65M89.0 48.1h.65M85.8 39.6h.65M86.2 39.5h.65M86.6 34.2h.65M88.1 54.3h.65M89.7 47.6h.65M86.8 53.2h.65M87.8 51.6h.65M91.2 36.3h.65M85.9 39.6h.65M86.7 52.8h.65M87.5 54.2h.65M90.3 43.9h.65M85.5 52.4h.65M89.8 33.6h.65M90.2 46.4h.65M85.3 58.3h.65M90.4 34.8h.65M86.5 34.6h.65M91.2 40.7h.65M90.9 34.2h.65M86.3 45.2h.65M85.3 45.4h.65M85.7 56.9h.65M85.3 47.5h.65M91.3 34.1h.65M85.6 40.9h.65M85.1 48.5h.65M86.4 55.0h.65M86.5 55.2h.65M85.4 45.6h.65M88.2 50.1h.65M87.0 51.1h.65M86.1 54.1h.65M86.1 36.8h.65M89.4 33.0h.65M91.9 34.2h.65M85.8 56.5h.65M90.9 39.5h.65M85.1 54.8h.65M85.3 38.2h.65M85.1 50.5h.65M86.5 34.3h.65M86.1 56.0h.65M90.8 39.3h.65M85.8 48.4h.65M85.4 45.3h.65M85.9 51.9h.65M85.9 50.7h.65M85.1 52.1h.65M85.0 37.3h.65M89.3 51.0h.65M87.6 51.4h.65M90.0 44.6h.65M86.3 55.4h.65M86.4 48.5h.65M85.7 35.4h.65M85.1 53.3h.65M85.3 49.1h.65M85.4 41.3h.65M85.3 54.5h.65M89.3 48.8h.65M86.6 57.4h.65M85.7 41.0h.65M91.0 37.9h.65M84.7 42.6h.65M85.5 49.0h.65M85.0 45.6h.65M86.3 37.7h.65M85.9 52.5h.65M86.6 36.4h.65M88.5 33.6h.65M85.3 39.1h.65M88.9 50.7h.65M91.0 39.1h.65M90.3 43.5h.65M85.4 55.1h.65M85.1 52.2h.65M89.2 32.9h.65M85.6 45.4h.65M86.8 56.7h.65M86.6 59.0h.65M85.7 46.3h.65M90.6 41.3h.65M88.1 50.8h.65M91.0 42.9h.65M85.3 57.1h.65M89.6 50.9h.65M85.3 54.6h.65M85.5 49.4h.65M86.9 34.7h.65M85.6 57.2h.65" stroke="rgb(57, 177, 138)" stroke-width=".65" stroke-opacity="0.9"/>
<path d="M89.3 45.1h.65M91.1 35.2h.65M89.5 45.4h.65M86.4 54.3h.65M85.9 46.1h.65M86.8 35.9h.65M86.2 51.9h.65M86.1 37.3h.65M89.8 46.4h.65M90.8 39.8h.65M87.4 52.0h.65M85.8 53.9h.65M89.8 44.6h.65M85.7 48.3h.65M86.8 53.4h.65M91.1 37.8h.65M85.7 46.0h.65M88.3 33.9h.65M88.1 33.8h.65M90.5 35.1h.65M87.1 53.3h.65M91.0 37.8h.65M85.6 47.6h.65M90.7 40.3h.65M86.7 37.1h.65M87.0 49.4h.65M85.6 44.2h.65M89.9 33.6h.65M90.7 40.6h.65M87.3 34.8h.65M86.3 50.8h.65M85.3 44.8h.65M85.1 50.3h.65M89.0 49.6h.65M86.9 50.6h.65M85.0 46.9h.65M90.2 33.7h.65M87.1 50.0h.65M85.6 55.7h.65M88.8 50.6h.65M85.2 49.2h.65M85.6 40.5h.65M86.2 44.1h.65M87.7 50.3h.65M88.6 34.2h.65M85.1 54.1h.65M87.8 53.6h.65M86.2 49.8h.65M85.9 40.1h.65M85.9 47.4h.65M86.4 36.6h.65M88.5 52.1h.65M90.4 42.8h.65M86.1 37.7h.65M89.8 32.7h.65M86.0 49.3h.65M87.0 52.1h.65M86.6 50.0h.65M88.6 34.0h.65M90.9 38.2h.65M86.6 36.1h.65M87.0 56.0h.65M91.0 37.7h.65M86.0 36.2h.65M90.9 37.0h.65M86.1 36.1h.65M90.0 34.6h.65M89.8 45.1h.65M85.0 41.4h.65M85.7 41.7h.65M86.4 40.7h.65M85.7 48.6h.65M86.0 52.9h.65M91.0 35.1h.65M90.9 35.5h.65M85.6 53.6h.65M89.4 46.0h.65M85.2 46.2h.65M85.5 41.4h.65M85.7 43.1h.65M85.6 43.4h.65M89.1 47.0h.65M90.3 34.5h.65M85.9 50.4h.65M88.5 50.8h.65M87.7 51.1h.65M86.2 38.3h.65M89.6 47.0h.65M86.3 37.7h.65M89.7 46.4h.65M90.7 39.8h.65M86.2 39.5h.65M90.9 34.7h.65M90.7 35.2h.65M87.0 52.9h.65M85.8 49.8h.65M86.0 50.6h.65M91.1 38.1h.65M89.6 33.6h.65M86.6 50.3h.65M86.2 49.2h.65M86.0 37.2h.65M86.2 42.6h.65M90.6 41.8h.65M88.1 34.5h.65M84.7 49.6h.65M85.6 51.8h.65M87.7 53.1h.65M89.6 46.4h.65M85.7 41.0h.65M90.9 38.7h.65M86.6 36.9h.65M87.6 55.0h.65M85.5 38.6h.65M86.2 53.8h.65M86.8 56.6h.65M86.7 55.8h.65M85.6 45.9h.65M90.5 40.9h.65M86.6 53.4h.65M86.3 49.0h.65M85.9 44.4h.65M86.1 46.7h.65M86.4 40.1h.65M85.8 56.0h.65M86.3 55.4h.65M85.9 51.7h.65M90.6 34.8h.65M87.1 53.9h.65M85.0 52.4h.65M89.4 46.1h.65M90.7 34.6h.65M88.5 48.8h.65M87.0 56.0h.65M87.3 54.4h.65M86.2 36.1h.65M86.3 41.1h.65M85.1 47.0h.65M85.5 47.3h.65M89.8 44.0h.65M87.7 54.1h.65M90.3 34.8h.65M87.3 51.7h.65M87.3 35.3h.65M86.8 56.0h.65M90.1 44.1h.65M86.1 41.0h.65M87.9 35.2h.65M85.9 53.5h.65M88.4 34.4h.65M90.3 39.8h.65M90.4 41.6h.65M86.6 37.1h.65M88.7 50.3h.65M86.2 40.8h.65M85.4 50.7h.65M88.0 52.6h.65M85.4 55.1h.65M90.8 34.9h.65M87.0 35.8h.65M90.0 44.5h.65M89.1 51.8h.65M85.8 44.3h.65M88.5 50.0h.65M86.4 37.9h.65M90.6 34.3h.65M86.3 54.9h.65M85.7 43.6h.65M86.6 49.8h.65M87.1 34.1h.65M90.2 33.9h.65M89.9 44.3h.65M90.9 41.1h.65M86.3 45.8h.65M87.4 50.7h.65M86.2 52.3h.65M85.9 47.0h.65M85.5 42.9h.65M85.8 41.7h.65M90.5 44.1h.65M87.9 52.3h.65M90.7 37.6h.65M86.1 40.0h.65M88.7 49.2h.65M85.6 53.1h.65M90.5 36.5h.65M87.2 57.0h.65M85.5 54.5h.65M87.6 51.6h.65M90.7 37.8h.65M88.8 50.3h.65M88.8 49.4h.65" stroke="rgb(88, 187, 92)" stroke-width=".65" stroke-opacity="0.9"/>
<path d="M89.6 48.1h.65M86.0 45.2h.65M85.8 40.0h.65M88.4 35.4h.65M86.1 41.6h.65M86.3 43.3h.65M87.3 50.6h.65M86.7 50.8h.65M90.5 36.8h.65M87.2 51.2h.65M87.7 51.6h.65M86.4 39.3h.65M88.2 48.7h.65M90.7 37.0h.65M89.3 34.6h.65M89.2 34.2h.65M86.4 40.5h.65M86.3 48.1h.65M87.5 51.5h.65M89.4 45.7h.65M86.6 51.0h.65M89.4 34.1h.65M86.1 50.3h.65M86.6 39.3h.65M86.2 47.5h.65M87.0 37.7h.65M89.6 44.0h.65M85.6 53.2h.65M86.2 51.4h.65M90.2 42.8h.65M85.7 39.4h.65M86.8 53.2h.65M87.8 35.8h.65M86.3 41.8h.65M89.7 44.3h.65M85.9 39.7h.65M86.4 42.8h.65M88.0 34.0h.65M90.4 40.5h.65M90.1 43.4h.65M90.4 38.8h.65M86.1 42.0h.65M86.3 39.2h.65M86.7 46.3h.65M85.7 41.6h.65M87.0 52.5h.65M86.2 40.4h.65M89.3 46.9h.65M90.4 38.3h.65M86.7 53.9h.65M85.9 48.6h.65M85.6 47.9h.65M90.1 42.6h.65M90.8 42.4h.65M85.9 47.3h.65M89.8 46.2h.65M86.2 51.1h.65M85.7 51.0h.65M88.9 34.6h.65M90.2 37.6h.65M86.3 44.8h.65M86.5 39.2h.65M85.8 48.3h.65M85.9 52.9h.65M86.2 36.9h.65M88.8 46.4h.65M86.9 51.7h.65M85.4 42.0h.65M89.1 47.0h.65M86.5 43.7h.65M87.0 53.9h.65M86.3 36.3h.65M86.2 42.6h.65M86.5 40.9h.65M86.4 51.5h.65M90.2 41.0h.65M85.9 53.5h.65M90.4 39.9h.65M86.7 38.9h.65M87.8 50.6h.65M87.7 49.9h.65M87.4 52.4h.65M86.7 48.1h.65M89.3 46.5h.65M86.1 42.1h.65M86.6 38.2h.65M87.7 47.9h.65M88.8 34.0h.65M90.9 38.5h.65M90.9 36.0h.65M90.8 36.7h.65M86.3 49.1h.65M90.5 35.8h.65M87.7 45.2h.65M88.1 48.4h.65M88.2 48.1h.65M88.4 34.8h.65M85.8 45.1h.65M86.2 43.6h.65M90.1 40.8h.65M90.1 43.3h.65M85.4 50.7h.65M86.7 35.3h.65M89.7 42.6h.65M88.2 33.6h.65M85.8 46.3h.65M86.3 41.1h.65M89.5 44.6h.65M88.5 47.0h.65M89.6 46.8h.65M87.4 48.2h.65M86.3 39.2h.65M90.6 41.1h.65M86.0 44.1h.65M87.2 36.5h.65M88.6 48.0h.65M90.5 38.2h.65M85.8 40.6h.65M86.8 51.7h.65M87.2 34.8h.65M89.3 42.4h.65M85.5 45.1h.65M86.2 54.5h.65M86.5 50.3h.65M90.3 37.0h.65M90.6 35.8h.65M90.4 40.5h.65M86.2 50.6h.65M87.7 49.4h.65M87.8 34.8h.65M87.3 37.7h.65M87.1 50.9h.65M89.5 44.4h.65M85.1 51.1h.65M88.2 51.6h.65M88.0 33.8h.65M89.0 45.7h.65M87.0 55.2h.65M86.7 52.8h.65M87.3 53.8h.65M89.0 45.6h.65M89.3 35.5h.65M86.4 47.9h.65M86.8 51.5h.65M89.6 45.5h.65M86.1 41.6h.65M90.5 34.7h.65M86.0 37.2h.65M88.0 53.7h.65M87.5 49.5h.65M85.9 45.6h.65M90.0 40.7h.65M86.5 49.9h.65M88.4 34.5h.65M89.9 46.2h.65M89.1 47.4h.65M90.5 40.2h.65M89.9 42.1h.65M87.7 48.8h.65M87.3 33.9h.65M87.1 49.9h.65M86.4 50.7h.65M88.1 51.0h.65M89.6 43.9h.65M86.2 50.1h.65M86.4 34.4h.65M89.7 44.5h.65M87.6 50.0h.65M85.7 51.0h.65M86.2 39.8h.65M89.4 43.7h.65M88.0 49.0h.65M90.8 36.6h.65M86.1 46.9h.65M90.9 37.2h.65M85.6 42.0h.65M90.0 42.0h.65M90.2 40.7h.65M86.5 47.6h.65M87.7 34.3h.65M86.6 51.1h.65M86.2 43.4h.65M86.3 46.1h.65M90.3 35.5h.65M86.9 49.7h.65M86.5 51.1h.65M88.7 34.2h.65M90.8 35.4h.65M86.1 41.5h.65M86.0 49.3h.65M90.2 39.2h.65M88.2 48.8h.65M86.6 50.5h.65M86.6 52.9h.65M87.5 36.4h.65M86.7 50.7h.65M86.1 40.8h.65M86.2 50.0h.65M87.2 49.1h.65M87.9 49.4h.65M86.7 37.5h.65M85.6 51.9h.65" stroke="rgb(125, 197, 57)" stroke-width=".65" stroke-opacity="0.9"/>
<path d="M86.7 40.6h.65M87.6 36.0h.65M87.6 47.8h.65M90.4 36.5h.65M86.5 43.8h.65M88.2 33.7h.65M89.8 42.2h.65M90.5 36.2h.65M86.8 48.1h.65M90.2 35.9h.65M90.1 40.3h.65M86.9 43.9h.65M90.1 41.3h.65M89.3 43.3h.65M86.0 40.6h.65M85.9 47.1h.65M86.2 48.3h.65M86.6 47.3h.65M86.4 39.9h.65M86.1 40.9h.65M87.3 52.4h.65M89.9 41.2h.65M86.4 40.2h.65M86.4 42.8h.65M89.6 40.3h.65M87.6 35.9h.65M90.3 38.7h.65M89.3 46.4h.65M88.2 34.7h.65M85.9 42.6h.65M86.9 50.0h.65M90.4 35.6h.65M89.7 34.9h.65M90.0 43.6h.65M85.8 47.0h.65M86.2 45.4h.65M86.7 53.2h.65M86.6 55.1h.65M89.4 34.9h.65M86.9 39.2h.65M86.7 41.8h.65M89.9 35.5h.65M90.2 37.8h.65M87.6 48.1h.65M89.9 38.2h.65M90.3 38.8h.65M86.7 48.8h.65M86.0 43.8h.65M88.0 35.7h.65M89.7 41.6h.65M90.8 35.3h.65M88.1 35.7h.65M88.0 34.5h.65M90.4 37.0h.65M90.2 40.7h.65M86.5 43.9h.65M86.5 37.9h.65M87.3 50.5h.65M90.6 36.9h.65M86.7 47.7h.65M90.4 35.1h.65M86.2 48.2h.65M90.4 35.4h.65M87.3 49.0h.65M87.0 37.1h.65M88.4 34.9h.65M87.2 43.2h.65M91.0 37.3h.65M90.5 37.9h.65M89.7 41.8h.65M86.3 45.0h.65M86.0 46.1h.65M88.9 34.7h.65M86.4 42.5h.65M89.6 44.1h.65M88.3 48.2h.65M90.3 39.4h.65M87.3 47.7h.65M88.8 45.5h.65M89.5 34.4h.65M90.5 34.9h.65M86.1 39.2h.65M88.3 34.7h.65M91.1 35.3h.65M85.8 42.9h.65M86.3 51.3h.65M87.0 48.3h.65M89.8 43.3h.65M86.4 49.0h.65M89.2 46.6h.65M86.1 51.9h.65M86.3 49.2h.65M87.9 48.9h.65M87.5 37.3h.65M89.6 34.7h.65M87.3 45.8h.65M86.7 47.6h.65M86.4 40.1h.65M86.6 38.7h.65M86.4 50.0h.65M88.1 34.5h.65M89.7 33.8h.65M88.2 49.4h.65M86.6 51.6h.65M88.0 50.1h.65M87.1 37.5h.65M87.0 41.5h.65M89.6 43.0h.65M86.5 46.2h.65M86.1 38.5h.65M86.9 37.7h.65M86.2 44.8h.65M87.8 49.0h.65M85.9 44.1h.65M86.8 45.5h.65M86.1 48.5h.65M86.2 52.6h.65M86.6 39.5h.65M88.2 35.1h.65M88.4 49.0h.65M90.5 40.4h.65M87.7 37.1h.65M88.0 48.7h.65M87.0 51.4h.65M86.3 46.6h.65M86.8 39.1h.65M90.3 43.1h.65M87.1 52.7h.65M86.8 36.2h.65M88.2 47.6h.65M90.0 41.0h.65M89.9 35.3h.65M87.5 47.6h.65M89.6 45.2h.65M86.7 49.9h.65M87.2 37.6h.65M90.5 37.2h.65M86.7 42.0h.65M86.6 41.2h.65M89.7 42.9h.65M85.8 47.5h.65M90.7 39.8h.65M87.0 48.1h.65M85.9 46.3h.65M87.9 50.8h.65M88.0 46.9h.65M90.3 39.8h.65M86.9 47.2h.65M88.0 47.2h.65M87.2 39.2h.65M90.1 36.5h.65M85.9 41.7h.65M85.9 45.5h.65M87.5 50.5h.65M88.9 35.0h.65M86.2 41.1h.65M88.9 45.7h.65M87.0 36.6h.65M87.1 49.3h.65M90.7 36.4h.65M87.8 52.4h.65M90.6 39.1h.65" stroke="rgb(175, 204, 47)" stroke-width=".65" stroke-opacity="0.9"/>
<path d="M90.2 37.0h.65M88.2 35.4h.65M88.6 36.7h.65M86.5 46.1h.65M89.5 35.1h.65M87.0 41.4h.65M87.8 36.4h.65M89.8 41.6h.65M87.1 47.3h.65M86.7 46.2h.65M87.1 42.7h.65M88.9 45.8h.65M89.1 34.8h.65M87.4 39.8h.65M86.8 39.1h.65M87.5 47.4h.65M90.0 39.9h.65M86.7 39.3h.65M88.7 35.5h.65M90.1 39.3h.65M87.9 47.7h.65M88.9 43.3h.65M87.1 53.4h.65M86.8 44.1h.65M89.0 35.0h.65M89.6 41.0h.65M89.3 39.3h.65M86.6 45.4h.65M89.4 42.4h.65M89.7 36.6h.65M87.4 36.0h.65M86.9 40.8h.65M87.2 45.6h.65M89.2 34.7h.65M87.2 39.3h.65M88.4 45.6h.65M89.9 39.8h.65M87.1 40.4h.65M88.9 44.0h.65M89.5 35.4h.65M88.7 36.2h.65M87.5 38.6h.65M90.1 36.5h.65M86.9 45.7h.65M86.7 45.2h.65M87.5 36.1h.65M87.8 47.3h.65M87.1 41.0h.65M87.9 47.8h.65M89.9 40.1h.65M87.0 41.2h.65M87.1 45.2h.65M89.6 36.2h.65M87.7 35.0h.65M87.9 48.4h.65M89.0 35.5h.65M87.8 48.0h.65M87.1 36.2h.65M89.6 41.5h.65M87.7 36.9h.65M88.5 36.8h.65M88.9 45.6h.65M87.1 39.8h.65M89.4 44.0h.65M86.9 49.7h.65M90.5 37.2h.65M87.6 37.0h.65M87.4 38.2h.65M87.9 46.7h.65M90.2 37.9h.65M90.2 38.5h.65M89.4 43.9h.65M88.0 35.5h.65M89.1 35.1h.65M89.3 34.7h.65M87.6 35.3h.65M87.0 47.9h.65M89.6 38.0h.65M86.8 42.2h.65M89.2 46.4h.65M88.3 35.9h.65M87.0 46.0h.65M87.4 35.7h.65M89.8 36.1h.65M87.2 47.0h.65M86.6 47.7h.65M87.8 35.1h.65M88.2 35.7h.65M87.5 41.0h.65M87.2 37.6h.65M88.7 46.1h.65M89.4 42.1h.65M87.0 45.4h.65M87.0 47.0h.65M90.4 35.6h.65M86.9 43.8h.65M88.2 37.3h.65M86.6 46.5h.65M89.8 40.3h.65M87.1 38.8h.65M87.6 37.1h.65M88.3 45.4h.65M86.8 38.8h.65M89.0 43.3h.65M87.1 43.8h.65M88.2 36.8h.65M86.8 40.0h.65M87.5 44.7h.65M87.1 45.5h.65M89.5 35.3h.65M86.8 42.2h.65M88.3 47.3h.65M88.7 35.4h.65M87.1 49.9h.65M89.7 41.1h.65M88.8 46.0h.65M87.0 47.3h.65M86.9 38.9h.65M89.6 41.6h.65M90.0 34.8h.65M87.3 38.7h.65M89.6 36.8h.65M87.5 44.7h.65M87.2 40.2h.65M87.1 39.5h.65M86.7 39.0h.65M87.3 42.5h.65M87.0 40.0h.65M89.9 37.8h.65M86.7 39.2h.65M87.7 46.7h.65M87.7 48.7h.65M86.6 43.8h.65M86.6 44.8h.65M87.2 40.9h.65M88.7 46.7h.65M89.6 38.9h.65M90.2 35.3h.65M90.1 35.7h.65M87.4 48.1h.65M89.8 40.0h.65M86.5 48.9h.65M89.7 39.9h.65M89.0 36.1h.65M87.3 47.2h.65M86.9 43.1h.65M87.0 43.8h.65M90.1 39.8h.65M90.1 38.4h.65M89.7 36.3h.65M90.2 36.5h.65M87.1 38.3h.65M88.0 47.3h.65M87.6 47.9h.65M89.7 41.0h.65M89.8 36.8h.65M86.5 41.8h.65M86.8 37.2h.65M88.6 35.9h.65M86.7 39.7h.65M87.2 47.6h.65M86.6 39.0h.65" stroke="rgb(217, 204, 39)" stroke-width=".65" stroke-opacity="0.9"/>
<path d="M87.7 44.2h.65M89.6 37.5h.65M88.0 47.0h.65M89.0 35.4h.65M87.7 44.9h.65M89.1 36.4h.65M86.8 45.0h.65M89.7 36.0h.65M87.5 37.1h.65M87.2 39.2h.65M89.0 35.4h.65M88.9 34.7h.65M88.9 43.0h.65M88.4 45.2h.65M87.5 38.5h.65M90.1 36.1h.65M89.9 38.9h.65M86.6 42.9h.65M87.9 44.0h.65M89.1 43.8h.65M88.6 45.9h.65M87.2 41.1h.65M88.6 45.3h.65M89.6 39.0h.65M88.7 44.7h.65M87.0 46.8h.65M87.2 42.5h.65M89.5 39.1h.65M89.5 41.3h.65M88.2 38.7h.65M88.0 38.6h.65M87.3 39.6h.65M89.0 42.3h.65M87.1 41.0h.65M88.0 36.4h.65M89.1 35.8h.65M88.6 43.4h.65M86.7 46.6h.65M87.1 44.2h.65M87.4 39.9h.65M89.4 42.4h.65M88.1 46.7h.65M88.0 45.1h.65M88.7 37.0h.65M86.8 44.1h.65M87.3 44.1h.65M88.4 46.0h.65M88.1 37.0h.65M89.0 34.8h.65M89.2 43.3h.65M89.1 44.2h.65M88.4 46.9h.65M88.1 38.9h.65M88.8 41.7h.65M89.1 35.7h.65M89.7 36.6h.65M88.8 35.5h.65M87.2 48.0h.65M89.9 36.7h.65M87.4 37.7h.65M89.6 35.8h.65M88.0 48.1h.65M89.1 37.0h.65M89.1 42.3h.65M88.5 45.1h.65M89.5 36.7h.65M88.6 46.1h.65M87.6 38.0h.65M88.1 37.0h.65M88.4 43.7h.65M88.0 41.4h.65M88.3 43.5h.65M87.3 43.0h.65M89.9 38.4h.65M88.3 44.7h.65M88.3 37.2h.65M89.3 40.9h.65M88.3 46.5h.65M88.9 42.6h.65M90.0 37.3h.65M87.6 38.8h.65M90.2 36.0h.65M90.1 38.1h.65M87.5 38.9h.65M89.0 42.5h.65M88.3 43.3h.65M89.1 39.9h.65M89.4 35.5h.65M88.2 36.4h.65M88.6 38.5h.65M87.4 38.0h.65M88.9 45.5h.65M88.5 46.7h.65M89.6 40.8h.65M88.1 36.1h.65M89.7 41.5h.65M86.8 40.6h.65M86.9 43.6h.65M89.4 35.6h.65M88.5 45.0h.65M88.1 43.4h.65M88.1 47.0h.65M89.7 39.3h.65M87.0 42.4h.65M89.8 38.8h.65M87.2 46.5h.65M87.8 35.9h.65M87.9 42.7h.65M88.8 36.7h.65M89.3 41.3h.65M88.8 44.4h.65M87.4 44.6h.65M88.1 45.7h.65M88.5 44.3h.65M89.4 40.2h.65M88.4 46.4h.65M87.5 38.2h.65M88.4 42.4h.65M87.7 36.2h.65M89.6 35.6h.65M88.6 46.5h.65M87.6 39.7h.65M89.5 39.3h.65M88.2 36.3h.65M89.8 39.4h.65M89.3 40.2h.65M88.9 44.3h.65M87.9 34.7h.65M86.9 49.9h.65M87.5 45.2h.65M86.7 43.6h.65M89.2 35.9h.65M88.3 45.7h.65M87.8 38.0h.65M89.4 41.3h.65M88.3 40.7h.65M86.5 46.2h.65M87.8 36.4h.65M87.3 41.9h.65M87.8 38.6h.65M88.7 42.4h.65M87.3 48.9h.65M89.4 36.7h.65M86.8 45.9h.65M87.6 36.2h.65M88.4 44.6h.65M89.8 38.6h.65M89.4 36.1h.65M87.8 35.0h.65M89.1 37.5h.65M87.9 43.9h.65M89.6 41.8h.65M89.2 42.9h.65M87.1 46.3h.65M87.4 48.5h.65M87.8 46.7h.65M88.4 36.3h.65M87.3 46.2h.65M88.3 43.3h.65M87.5 41.2h.65M89.0 44.1h.65M89.4 37.2h.65" stroke="rgb(232, 175, 34)" stroke-width=".65" stroke-opacity="0.9"/>
<path d="M88.6 37.0h.65M88.2 44.7h.65M88.5 42.9h.65M88.1 40.9h.65M88.2 46.1h.65M88.2 38.8h.65M87.5 43.1h.65M87.9 42.1h.65M89.4 40.0h.65M87.1 44.5h.65M87.3 45.6h.65M89.7 39.4h.65M89.7 40.0h.65M89.2 43.5h.65M87.7 44.8h.65M86.9 43.1h.65M87.5 43.1h.65M89.0 38.1h.65M87.1 39.6h.65M89.3 38.8h.65M88.4 45.1h.65M88.3 37.7h.65M87.4 47.7h.65M89.6 37.5h.65M89.3 40.6h.65M88.8 37.1h.65M88.7 35.8h.65M89.9 37.5h.65M88.6 43.4h.65M88.2 41.4h.65M88.6 44.4h.65M89.3 39.0h.65M89.1 45.7h.65M88.1 45.6h.65M90.2 40.0h.65M88.3 36.3h.65M89.3 40.9h.65M89.2 39.4h.65M88.8 36.5h.65M87.9 37.5h.65M86.8 43.8h.65M88.1 45.8h.65M88.2 45.1h.65M88.4 41.5h.65M87.6 39.4h.65M89.1 39.4h.65M88.3 37.9h.65M87.7 40.4h.65M88.0 44.2h.65M88.5 42.0h.65M88.9 36.2h.65M88.0 37.2h.65M88.5 39.2h.65M87.1 46.4h.65M88.8 38.2h.65M88.1 38.0h.65M89.5 38.5h.65M87.7 43.5h.65M87.6 40.7h.65M89.3 37.5h.65M87.6 38.7h.65M87.4 41.7h.65M89.9 38.4h.65M87.8 45.0h.65M87.4 41.8h.65M88.4 39.1h.65M87.6 40.8h.65M88.1 38.6h.65M88.2 42.9h.65M87.1 42.7h.65M87.9 38.2h.65M88.8 45.2h.65M88.5 37.3h.65M88.5 36.8h.65M89.1 35.7h.65M87.4 42.7h.65M89.5 38.8h.65M87.7 41.9h.65M88.2 46.8h.65M87.2 41.7h.65M88.3 40.6h.65M87.4 45.3h.65M89.2 37.7h.65M89.5 38.6h.65M87.2 43.4h.65M88.1 44.9h.65M89.9 36.6h.65M87.9 39.9h.65M87.2 41.0h.65M87.6 45.1h.65M87.9 42.9h.65M87.2 46.9h.65M89.0 45.5h.65M88.5 46.3h.65M87.3 37.5h.65M87.1 42.6h.65M89.1 38.5h.65M89.1 38.6h.65M89.5 40.1h.65M87.5 38.9h.65M87.6 40.2h.65M88.0 41.7h.65M87.9 44.6h.65M89.1 41.8h.65M87.6 37.1h.65M88.5 36.9h.65M88.0 39.1h.65M88.1 38.8h.65M88.6 41.1h.65M87.5 39.1h.65M88.0 44.9h.65M86.9 39.8h.65M88.0 43.8h.65M89.5 40.6h.65M89.1 42.5h.65M87.6 37.5h.65" stroke="rgb(244, 146, 30)" stroke-width=".65" stroke-opacity="0.9"/>
<path d="M88.2 39.6h.65M88.9 41.8h.65M87.7 43.3h.65M88.9 42.7h.65M88.3 40.9h.65M87.4 46.9h.65M89.0 36.2h.65M89.6 39.9h.65M89.1 39.9h.65M89.1 38.6h.65M88.4 37.4h.65M87.9 42.7h.65M88.4 38.2h.65M87.5 42.3h.65M88.5 42.6h.65M89.0 36.3h.65M88.3 40.2h.65M88.8 42.8h.65M87.7 40.8h.65M87.8 40.2h.65M88.2 37.5h.65M87.6 40.3h.65M87.9 41.8h.65M88.4 42.2h.65M88.5 42.3h.65M89.1 39.5h.65M89.0 38.1h.65M88.4 42.9h.65M88.7 36.8h.65M88.8 37.3h.65M88.5 38.8h.65M88.2 43.3h.65M88.2 41.5h.65M89.1 42.0h.65M87.7 41.7h.65M88.6 40.2h.65M87.9 37.3h.65M88.0 43.4h.65M88.8 41.2h.65M88.1 41.5h.65M89.4 41.3h.65M89.0 38.4h.65M88.5 40.8h.65M87.6 43.5h.65M88.7 40.9h.65M89.1 41.8h.65M88.1 45.3h.65M88.2 37.2h.65M88.6 41.1h.65M89.1 39.2h.65M87.9 41.5h.65M89.6 39.7h.65M88.5 40.1h.65M87.4 44.3h.65M89.2 37.4h.65M88.3 44.2h.65M88.1 44.1h.65M87.4 45.3h.65M88.2 39.2h.65M88.6 37.0h.65M88.2 44.1h.65M88.3 44.0h.65M88.3 44.2h.65M89.1 42.0h.65M87.8 39.8h.65M88.2 39.3h.65M88.1 44.4h.65M87.9 41.8h.65M87.9 41.5h.65M88.2 41.4h.65M88.8 37.9h.65M89.7 36.1h.65M88.8 36.8h.65M87.8 39.3h.65M88.3 36.9h.65M87.4 39.7h.65M88.5 45.5h.65M88.5 38.9h.65M88.7 43.1h.65M89.7 36.0h.65M88.6 40.2h.65M88.1 42.2h.65M88.3 36.5h.65M87.4 45.2h.65M89.6 38.2h.65M88.8 37.5h.65M88.2 37.5h.65M88.4 44.0h.65M89.0 36.9h.65M87.7 40.6h.65M89.4 37.8h.65M88.3 39.8h.65M88.9 38.1h.65M88.6 41.0h.65M88.2 41.6h.65" stroke="rgb(238, 108, 30)" stroke-width=".65" stroke-opacity="0.9"/>
<path d="M89.3 37.7h.65M88.7 37.8h.65M88.6 38.4h.65M88.2 45.8h.65M87.5 43.1h.65M88.8 38.4h.65M89.0 38.5h.65M88.1 44.3h.65M87.8 43.6h.65M88.4 39.0h.65M88.2 35.9h.65M87.5 42.0h.65M88.6 42.1h.65M88.3 42.9h.65M88.6 39.6h.65M87.9 42.2h.65M88.3 43.2h.65M88.4 39.1h.65M89.0 37.5h.65M88.2 39.8h.65M88.2 43.0h.65M88.4 37.3h.65M87.6 40.5h.65M88.2 42.9h.65M88.4 43.4h.65M88.6 42.6h.65M88.6 41.4h.65M88.6 37.7h.65M88.0 39.4h.65M88.2 44.0h.65M88.6 41.4h.65M87.9 42.2h.65M88.6 38.0h.65M88.4 38.6h.65M88.3 40.6h.65M89.1 37.2h.65M89.2 36.9h.65M88.6 41.6h.65M88.5 37.1h.65M88.0 43.8h.65M87.9 41.4h.65M88.9 36.8h.65M88.7 41.4h.65" stroke="rgb(232, 70, 30)" stroke-width=".65" stroke-opacity="0.9"/>
<rect x="43.30" y="27.70" width="66.20" height="66.60" fill="none" stroke="#777" stroke-width="0.8"/>
<line x1="43.30" y1="27.70" x2="43.30" y2="94.30" stroke="#333" stroke-width="0.9"/>
<line x1="43.30" y1="94.30" x2="109.50" y2="94.30" stroke="#444" stroke-width="0.8"/>
<rect x="76.60" y="29.40" width="20.80" height="33.90" fill="none" stroke="#222" stroke-width="0.9"/>
<rect x="46.20" y="66.20" width="53.60" height="24.10" fill="none" stroke="#222" stroke-width="0.9"/>
<text x="62.90" y="21.00" font-size="8.1" fill="#333" text-anchor="start" textLength="26.2" lengthAdjust="spacingAndGlyphs">Control</text>
<text x="54.10" y="39.50" font-size="7.2" fill="#333" text-anchor="start" textLength="17.0" lengthAdjust="spacingAndGlyphs">78.3%</text>
<text x="47.00" y="61.80" font-size="7.2" fill="#333" text-anchor="start" textLength="16.7" lengthAdjust="spacingAndGlyphs">18.8%</text>
<text x="41.40" y="31.90" font-size="4.5" fill="#444" text-anchor="end">10<tspan font-size="3" dy="-1.8">5</tspan></text>
<line x1="41.80" y1="30.30" x2="43.30" y2="30.30" stroke="#333" stroke-width="0.8"/>
<text x="41.40" y="41.10" font-size="4.5" fill="#444" text-anchor="end">10<tspan font-size="3" dy="-1.8">4</tspan></text>
<line x1="41.80" y1="39.50" x2="43.30" y2="39.50" stroke="#333" stroke-width="0.8"/>
<text x="41.40" y="51.90" font-size="4.5" fill="#444" text-anchor="end">10<tspan font-size="3" dy="-1.8">3</tspan></text>
<line x1="41.80" y1="50.30" x2="43.30" y2="50.30" stroke="#333" stroke-width="0.8"/>
<text x="41.40" y="63.20" font-size="4.5" fill="#444" text-anchor="end">10<tspan font-size="3" dy="-1.8">2</tspan></text>
<line x1="41.80" y1="61.60" x2="43.30" y2="61.60" stroke="#333" stroke-width="0.8"/>
<text x="41.40" y="78.40" font-size="4.5" fill="#444" text-anchor="end">0</text>
<line x1="41.80" y1="76.80" x2="43.30" y2="76.80" stroke="#333" stroke-width="0.8"/>
<text x="41.40" y="94.10" font-size="4.5" fill="#444" text-anchor="end">-10<tspan font-size="3" dy="-1.8">2</tspan></text>
<line x1="41.80" y1="92.50" x2="43.30" y2="92.50" stroke="#333" stroke-width="0.8"/>
<text x="59.90" y="101.80" font-size="4.5" fill="#444" text-anchor="middle">0</text>
<line x1="59.90" y1="94.30" x2="59.90" y2="95.60" stroke="#333" stroke-width="0.8"/>
<text x="76.80" y="101.80" font-size="4.5" fill="#444" text-anchor="middle">10<tspan font-size="3" dy="-1.8">3</tspan></text>
<line x1="76.80" y1="94.30" x2="76.80" y2="95.60" stroke="#333" stroke-width="0.8"/>
<text x="88.10" y="101.80" font-size="4.5" fill="#444" text-anchor="middle">10<tspan font-size="3" dy="-1.8">4</tspan></text>
<line x1="88.10" y1="94.30" x2="88.10" y2="95.60" stroke="#333" stroke-width="0.8"/>
<text x="100.30" y="101.80" font-size="4.5" fill="#444" text-anchor="middle">10<tspan font-size="3" dy="-1.8">5</tspan></text>
<line x1="100.30" y1="94.30" x2="100.30" y2="95.60" stroke="#333" stroke-width="0.8"/>
<text x="107.10" y="101.80" font-size="4.5" fill="#444" text-anchor="middle">10<tspan font-size="3" dy="-1.8">5</tspan></text>
<line x1="107.10" y1="94.30" x2="107.10" y2="95.60" stroke="#333" stroke-width="0.8"/>
<path d="M42.4 58.20h0.9M42.4 56.21h0.9M42.4 54.80h0.9M42.4 53.70h0.9M42.4 52.81h0.9M42.4 52.05h0.9M42.4 51.40h0.9M42.4 50.82h0.9M42.4 47.05h0.9M42.4 45.15h0.9M42.4 43.80h0.9M42.4 42.75h0.9M42.4 41.90h0.9M42.4 41.17h0.9M42.4 40.55h0.9M42.4 39.99h0.9M42.4 36.73h0.9M42.4 35.11h0.9M42.4 33.96h0.9M42.4 33.07h0.9M42.4 32.34h0.9M42.4 31.73h0.9M42.4 31.19h0.9M42.4 30.72h0.9M42.4 66.00h0.9M42.4 70.00h0.9M42.4 73.50h0.9M42.4 80.00h0.9M42.4 83.50h0.9M42.4 87.00h0.9M80.20 94.3v0.9M82.19 94.3v0.9M83.60 94.3v0.9M84.70 94.3v0.9M85.59 94.3v0.9M86.35 94.3v0.9M87.00 94.3v0.9M87.58 94.3v0.9M91.77 94.3v0.9M93.92 94.3v0.9M95.45 94.3v0.9M96.63 94.3v0.9M97.59 94.3v0.9M98.41 94.3v0.9M99.12 94.3v0.9M99.74 94.3v0.9M50.30 94.3v0.9M53.30 94.3v0.9M55.80 94.3v0.9M57.30 94.3v0.9M58.60 94.3v0.9M61.30 94.3v0.9M62.60 94.3v0.9M64.30 94.3v0.9M66.80 94.3v0.9M69.80 94.3v0.9M72.80 94.3v0.9M74.80 94.3v0.9" stroke="#333" stroke-width="0.6"/>
<g filter="url(#fb)" transform="translate(173.00 47.20) rotate(9) translate(-173.00 -47.20)"><ellipse cx="173.00" cy="46.70" rx="5.2" ry="15" fill="rgb(60,150,190)" opacity="0.55"/><ellipse cx="173.30" cy="45.20" rx="3.6" ry="12.5" fill="rgb(100,190,80)" opacity="0.75"/><ellipse cx="173.60" cy="41.70" rx="1.6" ry="6.5" fill="rgb(235,150,35)" opacity="0.8"/></g>
<path d="M175.9 30.5h.65M177.4 53.4h.65M173.3 64.6h.65M175.0 63.6h.65M176.6 52.0h.65M167.8 62.6h.65M180.3 37.4h.65M179.8 30.3h.65M179.6 41.4h.65M177.3 58.0h.65M166.2 45.5h.65M164.6 65.5h.65M168.0 60.7h.65M167.6 56.5h.65M178.9 43.6h.65M177.6 53.1h.65M177.8 48.6h.65M166.6 60.4h.65M177.7 50.8h.65M168.0 42.5h.65M167.0 45.0h.65M177.0 30.8h.65M167.9 51.6h.65M165.2 55.3h.65M168.6 65.0h.65M178.3 47.5h.65M181.3 33.9h.65M168.3 64.2h.65M167.9 48.9h.65M168.6 30.1h.65M174.7 60.5h.65M166.8 43.8h.65M166.6 36.5h.65M173.3 64.5h.65M165.4 53.8h.65M169.0 65.7h.65M167.4 33.9h.65M180.4 36.3h.65M181.2 38.8h.65M167.3 39.8h.65M174.2 64.4h.65M167.7 41.8h.65M167.8 47.4h.65M166.2 62.5h.65M165.6 52.2h.65M167.6 57.9h.65M167.0 56.8h.65M173.7 64.5h.65M166.6 57.0h.65M165.1 33.3h.65M168.2 44.0h.65M167.1 58.6h.65M169.9 32.4h.65M176.4 57.0h.65M168.0 32.5h.65M178.1 51.2h.65M168.5 39.7h.65M177.8 55.3h.65M175.5 61.7h.65M167.1 52.1h.65M169.1 43.8h.65M180.1 43.3h.65M179.6 31.4h.65M179.3 31.5h.65M165.8 35.8h.65M165.7 43.6h.65M166.8 53.9h.65M168.2 65.3h.65M181.5 32.1h.65M166.8 39.7h.65M166.8 45.1h.65M166.0 42.4h.65M169.3 64.0h.65M177.9 50.8h.65M168.6 31.0h.65M177.7 56.2h.65M178.3 49.2h.65M180.8 38.9h.65M179.0 45.6h.65M164.9 32.1h.65M180.4 34.6h.65M166.7 49.2h.65M167.4 54.7h.65M165.1 38.1h.65M180.1 40.2h.65M169.7 63.2h.65M170.4 31.2h.65M168.0 53.8h.65M168.7 34.3h.65M165.2 60.7h.65M168.2 52.0h.65M172.4 31.0h.65M179.0 44.2h.65M170.4 64.9h.65M180.6 39.8h.65M177.3 55.9h.65M176.9 57.6h.65M173.9 61.8h.65M180.6 38.9h.65M165.8 43.6h.65M169.4 65.3h.65M181.5 34.3h.65M174.8 61.2h.65M166.0 51.7h.65M166.7 38.6h.65M168.1 59.6h.65M179.7 45.6h.65M180.0 45.8h.65M167.4 47.2h.65M173.5 63.3h.65M172.3 61.8h.65M167.5 62.2h.65M171.7 65.5h.65M169.5 66.1h.65M174.8 68.4h.65M171.3 68.9h.65M166.2 63.4h.65M177.8 63.5h.65M170.6 61.9h.65M174.7 63.0h.65M172.6 62.6h.65M177.5 67.7h.65M170.2 65.0h.65M175.7 62.4h.65M174.0 70.5h.65M172.0 62.4h.65M182.4 71.0h.65M169.8 62.5h.65M170.9 64.2h.65M176.8 70.2h.65M172.2 64.0h.65M175.5 69.7h.65M174.8 69.0h.65M175.9 69.2h.65M177.0 62.7h.65M178.3 71.0h.65M177.2 63.4h.65M172.1 64.4h.65M170.3 71.4h.65M176.2 63.8h.65M173.3 71.1h.65M171.3 62.5h.65M175.2 62.6h.65M165.2 67.1h.65M171.6 64.0h.65M171.3 70.1h.65M169.4 70.4h.65M169.8 63.6h.65M173.3 68.4h.65M167.5 62.4h.65M168.9 61.9h.65M176.0 63.0h.65M177.0 63.2h.65M173.5 62.4h.65M171.4 66.1h.65M171.0 67.3h.65M174.8 66.1h.65M174.3 62.0h.65M174.4 71.5h.65M173.0 70.7h.65M167.0 66.4h.65M171.2 70.0h.65M166.2 62.9h.65M172.4 62.0h.65M178.6 64.1h.65M168.2 71.3h.65M177.0 63.1h.65M171.6 62.0h.65M169.5 63.4h.65M170.4 68.8h.65M172.2 69.3h.65M172.1 69.5h.65M176.7 63.9h.65M138.6 86.0h.65M169.6 85.1h.65M161.2 78.9h.65M182.4 85.0h.65M135.4 81.9h.65M182.7 87.0h.65M160.6 90.6h.65M143.3 77.2h.65M165.4 77.6h.65M178.9 71.0h.65M142.4 69.0h.65M180.7 81.5h.65M161.3 84.1h.65M171.3 78.3h.65M174.1 81.8h.65M166.7 78.8h.65M158.7 85.1h.65M162.3 69.9h.65M161.0 85.5h.65M146.4 68.7h.65M138.9 85.4h.65M165.1 86.5h.65M133.6 80.6h.65M175.8 80.7h.65M159.0 88.6h.65M141.8 83.9h.65M171.8 86.3h.65M162.2 68.8h.65M156.3 84.6h.65M166.3 77.4h.65M145.5 69.0h.65M171.5 84.0h.65M178.0 72.0h.65M175.6 78.8h.65M162.9 86.7h.65M175.9 77.8h.65M168.8 80.3h.65M162.6 84.0h.65M174.6 80.3h.65M138.0 71.4h.65M178.4 79.5h.65M144.1 80.4h.65M141.5 89.1h.65M139.6 80.4h.65M135.8 79.1h.65M163.1 81.6h.65M166.9 71.9h.65M153.5 89.8h.65M144.2 71.4h.65M145.4 70.7h.65M136.7 67.1h.65M161.6 74.3h.65M175.9 87.1h.65M164.3 75.8h.65M141.4 77.1h.65M137.3 76.6h.65M172.3 75.3h.65M142.2 71.5h.65M141.0 82.3h.65M144.6 66.5h.65M183.7 67.3h.65M154.0 85.7h.65M160.0 74.6h.65M179.4 68.5h.65M171.2 87.0h.65M154.0 77.8h.65M166.0 75.4h.65M166.4 72.7h.65M134.3 89.3h.65M181.3 70.4h.65M170.0 86.0h.65M141.4 75.7h.65M135.1 74.0h.65M138.2 75.3h.65M172.7 86.4h.65M132.7 76.8h.65M137.3 89.0h.65M164.8 82.4h.65M135.4 88.8h.65M139.0 70.6h.65M164.5 83.2h.65M142.9 81.2h.65M145.9 68.3h.65M169.9 76.3h.65M183.1 76.7h.65M143.0 69.3h.65M166.8 73.8h.65M161.3 74.7h.65M160.5 67.2h.65M134.8 83.4h.65M179.3 75.7h.65M171.2 81.6h.65M163.6 87.7h.65M136.7 67.9h.65M156.5 78.3h.65M165.9 70.5h.65M162.1 88.2h.65M134.8 76.5h.65M136.4 90.7h.65M165.7 82.7h.65M171.6 82.2h.65M141.0 89.1h.65M169.5 75.8h.65M161.2 71.8h.65M145.6 72.7h.65M156.1 73.0h.65M137.1 75.5h.65M167.9 76.1h.65M162.7 67.6h.65M145.3 74.1h.65M173.0 76.1h.65M143.4 67.4h.65M158.3 82.4h.65M141.8 68.0h.65M133.8 70.6h.65M146.7 89.9h.65M158.1 74.1h.65M141.3 89.2h.65M140.6 82.5h.65M140.5 79.5h.65M172.3 73.2h.65M135.1 87.7h.65M138.5 90.8h.65M135.1 78.5h.65M137.6 85.9h.65M155.9 76.3h.65M159.1 78.7h.65M147.4 77.6h.65M185.8 80.6h.65M154.8 85.7h.65M166.8 78.5h.65M154.9 79.3h.65M133.8 79.2h.65M182.2 77.5h.65M161.0 81.3h.65M137.6 74.8h.65M172.8 90.6h.65M146.2 84.1h.65M147.9 67.9h.65M157.8 75.4h.65M156.3 71.2h.65M137.7 76.1h.65M138.9 71.4h.65M177.6 89.2h.65M135.9 74.5h.65M178.2 77.5h.65M182.1 73.3h.65M145.0 70.9h.65M162.4 75.4h.65M159.3 76.6h.65M162.0 79.5h.65M167.7 78.4h.65M159.8 80.7h.65M175.9 67.0h.65M142.9 78.8h.65M136.3 82.7h.65M139.6 80.8h.65M142.9 83.6h.65M134.3 72.4h.65M155.8 73.8h.65M137.6 83.8h.65M158.1 68.5h.65M144.0 89.2h.65M175.6 90.4h.65M135.7 86.6h.65M178.1 87.0h.65M172.6 90.2h.65M133.2 86.8h.65M180.6 76.6h.65M169.0 84.9h.65M163.8 89.5h.65M137.8 69.3h.65M159.1 87.2h.65M143.3 82.1h.65M161.1 72.2h.65M159.0 89.5h.65M139.1 86.4h.65M132.1 88.7h.65M141.1 87.1h.65M134.6 80.0h.65M137.0 87.6h.65M137.3 85.8h.65M133.1 80.9h.65M146.6 66.7h.65M163.3 88.0h.65M137.0 71.5h.65M136.2 73.7h.65M174.1 88.1h.65M145.6 76.7h.65M171.8 80.1h.65M146.6 67.1h.65M160.2 74.0h.65M139.8 73.9h.65M137.0 86.3h.65M159.1 82.2h.65M138.4 88.0h.65M159.7 76.6h.65M145.0 75.1h.65M158.4 89.9h.65M132.8 86.5h.65M161.2 85.1h.65M146.8 82.1h.65M176.5 83.3h.65M160.4 86.7h.65M147.3 77.2h.65M179.2 83.2h.65M162.2 74.6h.65M172.2 82.2h.65M178.8 77.9h.65M160.9 74.0h.65M165.8 81.3h.65M145.3 87.5h.65M161.6 72.4h.65M176.6 89.0h.65M141.5 67.0h.65M162.0 70.3h.65M137.0 81.1h.65M142.2 74.7h.65M135.8 90.0h.65M155.1 81.7h.65M141.3 73.0h.65M157.3 83.3h.65M156.2 83.0h.65M179.5 69.4h.65M144.2 75.0h.65M144.2 90.0h.65M140.5 90.7h.65M139.1 71.6h.65M147.1 81.0h.65M136.9 70.0h.65M142.4 85.0h.65M173.9 87.8h.65M137.1 80.6h.65M176.9 89.1h.65M135.5 77.4h.65M186.9 75.8h.65M186.3 78.7h.65M138.3 75.5h.65M164.1 71.1h.65M144.8 88.6h.65M172.7 71.2h.65M134.7 90.9h.65M147.7 90.4h.65M164.7 76.0h.65M160.9 72.5h.65M145.4 69.6h.65M174.2 77.0h.65M141.7 79.5h.65M142.1 90.9h.65M142.6 70.3h.65M135.9 69.0h.65M137.7 80.1h.65M168.8 77.0h.65M134.0 67.1h.65M180.5 69.6h.65M163.6 67.0h.65M161.9 83.9h.65M170.4 81.3h.65M184.4 74.6h.65M135.8 84.6h.65M160.0 77.3h.65M140.0 73.2h.65M166.9 83.0h.65M136.4 69.3h.65M141.5 75.1h.65M137.5 75.6h.65M137.7 76.7h.65M140.5 68.5h.65M157.9 70.2h.65M156.5 87.3h.65M171.5 77.9h.65M169.6 84.8h.65M174.3 72.8h.65M170.8 83.7h.65M169.6 87.0h.65M137.4 69.6h.65M165.0 87.9h.65M167.9 78.8h.65M137.8 68.0h.65M171.7 83.3h.65M141.5 74.9h.65M169.7 90.5h.65M178.6 80.7h.65M155.4 85.5h.65M178.3 80.5h.65M166.0 80.9h.65M169.3 82.7h.65M145.2 68.9h.65M173.3 77.1h.65M134.5 83.2h.65M163.6 90.5h.65M178.3 70.2h.65M170.6 89.7h.65M139.0 77.8h.65M175.4 73.0h.65M178.8 88.7h.65M164.2 75.5h.65M153.8 66.4h.65M155.7 72.4h.65M166.6 81.3h.65M134.5 82.4h.65M168.3 89.5h.65M181.1 73.0h.65M160.7 86.2h.65M167.4 87.8h.65M157.6 86.6h.65M168.7 84.3h.65M136.9 79.8h.65M139.7 74.0h.65M165.8 69.4h.65M180.8 70.1h.65M138.4 77.1h.65M132.6 75.9h.65M167.8 85.2h.65M138.7 76.0h.65M156.2 83.8h.65M173.4 90.6h.65M133.4 69.0h.65M137.7 89.7h.65M187.1 73.8h.65M161.2 82.2h.65M163.3 85.8h.65M140.2 71.0h.65M177.0 83.6h.65M141.8 77.3h.65M133.9 76.9h.65M181.0 83.1h.65M139.7 78.0h.65M147.2 70.0h.65M156.9 73.1h.65M161.0 70.4h.65M140.3 83.3h.65M179.6 71.7h.65M181.3 80.0h.65M179.6 75.7h.65M145.8 73.0h.65M174.7 75.8h.65M143.1 72.6h.65M155.3 87.2h.65M158.3 90.9h.65M144.9 90.6h.65M133.5 77.1h.65M157.8 86.6h.65M176.8 84.4h.65M171.9 74.3h.65M175.0 86.9h.65M144.8 76.0h.65M144.6 77.8h.65M165.9 71.9h.65M165.1 74.9h.65M140.8 89.6h.65M139.2 83.7h.65M157.6 84.8h.65M186.3 83.0h.65M166.8 69.9h.65M166.8 73.4h.65M160.2 70.6h.65M160.5 80.1h.65M157.9 86.8h.65M174.4 66.8h.65M135.6 89.0h.65M170.3 87.2h.65M132.2 85.9h.65M175.4 83.8h.65M159.2 78.0h.65M132.6 76.7h.65M173.0 85.4h.65M134.8 89.4h.65M147.1 78.2h.65M176.3 74.3h.65M168.5 85.0h.65M155.2 85.3h.65M163.8 77.0h.65M167.7 84.1h.65M137.6 87.5h.65M173.0 82.1h.65M181.1 82.7h.65M155.4 68.6h.65M163.4 67.5h.65M167.8 83.4h.65M174.1 73.0h.65M174.1 74.3h.65M143.7 75.3h.65M135.9 74.8h.65M181.2 77.8h.65M166.3 86.8h.65M167.6 82.3h.65M170.2 75.8h.65M140.5 87.5h.65M161.2 70.4h.65M145.3 81.0h.65M180.5 91.1h.65M159.0 88.8h.65M144.7 69.8h.65M175.5 86.7h.65M147.2 74.2h.65M176.9 81.5h.65M157.1 71.9h.65M178.8 90.2h.65M146.5 86.3h.65M180.3 85.8h.65M135.7 89.5h.65M141.7 85.8h.65M161.6 90.8h.65M143.3 86.2h.65M139.3 86.8h.65M164.3 70.7h.65M169.1 79.9h.65M168.3 81.5h.65M171.8 80.4h.65M165.0 73.3h.65M138.1 81.9h.65M143.2 80.0h.65M143.2 70.5h.65M158.4 77.2h.65M154.5 88.6h.65M134.6 69.9h.65M155.0 79.7h.65M139.5 75.0h.65M162.0 69.0h.65M164.8 73.5h.65M145.1 71.9h.65M168.9 85.3h.65M159.8 78.3h.65M159.2 72.6h.65M162.5 75.7h.65M177.1 71.7h.65M161.3 68.6h.65M145.3 87.2h.65M171.0 82.8h.65M156.7 80.6h.65M168.4 80.8h.65M171.5 76.2h.65M170.2 78.8h.65M138.6 71.6h.65M174.6 87.3h.65M143.5 90.9h.65M139.2 74.1h.65M181.9 79.3h.65M155.5 90.2h.65M175.8 73.2h.65M133.9 78.3h.65M141.1 85.0h.65M158.1 87.8h.65M142.0 82.6h.65M141.2 77.4h.65M173.2 87.9h.65M154.4 85.2h.65M171.9 86.8h.65M158.5 69.3h.65M180.2 90.3h.65M178.2 87.1h.65M175.4 70.4h.65M169.7 74.0h.65M171.2 88.2h.65M170.1 82.5h.65M156.3 73.0h.65M161.2 78.2h.65M183.3 77.7h.65M140.7 74.8h.65M160.7 86.1h.65M140.6 85.3h.65M135.5 90.7h.65M146.6 88.9h.65M159.6 90.7h.65M163.3 81.5h.65M182.7 70.1h.65M163.5 91.0h.65M159.5 68.1h.65M140.7 82.9h.65M169.8 72.4h.65M156.4 88.2h.65M166.5 79.0h.65M137.9 83.9h.65M140.8 80.4h.65M137.0 78.1h.65M143.2 87.3h.65M166.6 74.1h.65M159.1 71.0h.65M142.1 84.4h.65M157.5 67.3h.65M177.5 76.4h.65M142.9 73.2h.65M139.8 89.9h.65M170.2 76.5h.65M165.4 68.2h.65M172.5 75.0h.65M165.3 77.3h.65M134.3 88.0h.65M180.4 76.5h.65M164.3 79.9h.65M174.1 87.1h.65M180.0 78.8h.65M138.8 81.1h.65M162.9 72.1h.65M160.1 75.4h.65M162.8 79.0h.65M141.3 74.5h.65M160.5 74.3h.65M141.5 77.9h.65M181.8 83.4h.65M181.8 75.1h.65M160.3 83.9h.65M161.1 77.1h.65M146.4 81.3h.65M160.5 72.8h.65M138.5 80.3h.65M155.2 78.9h.65M179.8 89.1h.65M135.0 72.4h.65M179.6 79.0h.65M167.4 85.1h.65M176.2 91.1h.65M164.6 82.3h.65M139.1 81.3h.65M135.4 84.1h.65M140.1 71.6h.65M145.8 75.5h.65M182.0 84.1h.65M133.4 74.9h.65M156.7 77.0h.65M176.6 85.9h.65M159.5 80.5h.65M139.5 79.2h.65M159.2 69.0h.65M173.8 72.7h.65M134.8 76.0h.65M166.7 80.1h.65M160.9 66.9h.65M157.0 89.4h.65M145.3 89.9h.65M140.2 70.9h.65M141.5 79.5h.65M167.4 70.7h.65M140.7 71.5h.65M161.6 71.5h.65M163.0 82.3h.65M162.6 75.3h.65M146.0 84.0h.65M165.1 79.1h.65M138.6 86.8h.65M135.8 80.8h.65M163.3 85.5h.65M165.5 81.2h.65M177.0 80.0h.65M133.6 78.8h.65M136.8 81.4h.65M142.2 77.3h.65M155.0 81.0h.65M141.4 83.9h.65M183.2 75.8h.65M173.9 79.5h.65M147.5 78.9h.65M171.6 72.0h.65M156.4 76.7h.65M141.1 90.8h.65M164.5 79.5h.65M168.3 76.5h.65M161.8 87.7h.65M137.1 66.9h.65M146.5 70.3h.65M135.9 76.9h.65M179.6 75.9h.65M160.8 76.7h.65M175.0 77.2h.65M143.4 72.0h.65M134.6 69.4h.65M156.7 72.6h.65M133.2 88.8h.65M167.2 75.5h.65M143.0 84.3h.65M160.3 79.0h.65M156.2 79.4h.65M139.2 68.0h.65M135.3 71.5h.65M141.0 86.6h.65M140.6 87.4h.65M133.5 88.0h.65M162.4 87.8h.65M158.3 80.1h.65M143.3 86.6h.65M169.5 77.9h.65M139.9 85.3h.65M141.5 81.5h.65M158.0 85.1h.65M161.0 82.3h.65M164.9 77.8h.65M137.3 79.7h.65M142.7 83.5h.65M173.5 66.6h.65M145.3 87.5h.65M178.4 87.6h.65M158.5 80.7h.65M157.3 75.2h.65M165.4 78.9h.65M165.4 79.8h.65M159.3 67.9h.65M143.0 83.2h.65M162.8 80.1h.65M165.6 82.7h.65M174.8 73.2h.65M161.1 83.6h.65M176.1 80.0h.65M152.8 63.9h.65M153.5 65.3h.65M148.7 64.5h.65M155.0 88.2h.65M150.5 64.3h.65M155.3 87.5h.65M152.9 66.1h.65M149.6 72.5h.65M147.7 66.7h.65M145.5 83.6h.65M149.9 64.4h.65M150.7 64.7h.65M152.1 64.3h.65M154.8 66.8h.65M154.8 67.9h.65M146.7 72.2h.65M146.7 77.9h.65M156.7 88.3h.65M146.5 89.9h.65M144.4 64.9h.65M148.9 83.5h.65M151.0 64.6h.65M154.6 81.0h.65M153.6 64.3h.65M156.0 90.2h.65M138.8 81.9h.65M156.6 62.0h.65M182.8 80.2h.65M190.0 57.7h.65M164.9 63.5h.65M159.3 61.1h.65M171.2 68.7h.65M166.7 72.0h.65M164.8 63.5h.65M189.1 58.7h.65M164.3 74.9h.65M178.7 63.0h.65M164.6 54.6h.65M176.5 86.8h.65M189.5 75.4h.65M165.6 58.4h.65M165.9 89.2h.65M150.7 61.2h.65M186.8 79.1h.65M132.3 59.5h.65M158.3 60.4h.65M188.3 88.3h.65M183.8 79.8h.65M156.2 70.1h.65M156.8 76.0h.65M182.6 78.7h.65M148.4 57.7h.65" stroke="rgb(40, 65, 160)" stroke-width=".65" stroke-opacity="0.75"/>
<path d="M168.4 54.2h.65M174.4 59.6h.65M168.3 61.2h.65M169.3 35.5h.65M170.4 33.3h.65M178.8 42.2h.65M177.9 43.4h.65M168.8 33.4h.65M173.0 30.2h.65M168.5 46.8h.65M178.1 47.7h.65M169.1 32.6h.65M176.1 53.1h.65M170.7 30.8h.65M171.5 65.3h.65M180.7 35.6h.65M180.6 34.0h.65M167.9 50.5h.65M176.3 56.3h.65M176.5 31.4h.65M171.7 32.2h.65M179.3 31.1h.65M170.6 63.8h.65M168.3 46.1h.65M168.8 43.9h.65M169.6 63.9h.65M173.3 31.4h.65M172.0 30.7h.65M167.2 49.6h.65M169.1 37.7h.65M181.3 34.3h.65M176.2 50.4h.65M173.3 63.5h.65M168.5 46.0h.65M181.3 34.2h.65M179.8 39.9h.65M179.6 36.1h.65M166.9 36.9h.65M170.8 65.5h.65M178.8 33.3h.65M173.2 31.1h.65M173.4 29.4h.65M168.4 39.4h.65M167.0 41.1h.65M173.6 30.4h.65M172.8 65.1h.65M167.0 37.7h.65M170.5 63.9h.65M167.8 38.7h.65M178.4 31.7h.65M169.1 34.4h.65M175.1 57.9h.65M180.3 36.5h.65M168.1 54.6h.65M178.8 39.1h.65M178.1 31.6h.65M180.0 43.9h.65M167.4 44.9h.65M178.9 49.9h.65M168.1 43.1h.65M178.2 47.1h.65M167.8 61.9h.65M175.8 57.1h.65M180.2 33.4h.65M169.4 55.7h.65M176.5 54.4h.65M178.6 31.5h.65M167.0 55.9h.65M175.5 57.6h.65M174.5 61.5h.65M177.5 50.2h.65M169.3 36.7h.65M177.0 30.7h.65M178.8 37.5h.65M176.1 31.8h.65M175.2 54.8h.65M168.1 36.0h.65M177.5 54.7h.65M176.4 55.2h.65M169.1 34.2h.65M180.0 41.4h.65M168.7 39.5h.65M166.8 53.6h.65M168.8 62.4h.65M174.3 62.1h.65M167.7 49.7h.65M167.1 35.5h.65M178.7 39.4h.65M176.7 56.7h.65M168.6 39.3h.65M168.7 44.1h.65M168.3 60.5h.65M179.7 34.5h.65M166.4 46.3h.65M177.3 56.8h.65M180.7 30.7h.65M167.1 38.4h.65M178.6 50.4h.65M177.0 32.0h.65M168.7 62.3h.65M168.6 70.6h.65M175.4 70.5h.65M174.6 67.6h.65M175.1 70.5h.65M170.3 64.2h.65M169.6 67.0h.65M177.4 66.9h.65M173.2 62.6h.65M171.1 62.8h.65M173.3 68.9h.65M178.8 62.2h.65M172.8 69.2h.65M170.6 69.1h.65M169.6 64.0h.65M174.4 69.2h.65M171.2 64.2h.65M168.0 68.8h.65M173.8 66.1h.65M169.7 64.3h.65M171.8 66.1h.65M168.5 69.3h.65M167.4 63.7h.65M171.7 64.3h.65M175.1 63.6h.65M168.0 67.3h.65M173.4 63.2h.65M172.9 61.9h.65M167.4 65.9h.65M171.1 66.2h.65M168.5 66.0h.65M171.3 62.2h.65M170.5 62.9h.65M171.2 71.2h.65M175.5 70.7h.65M177.3 68.4h.65M172.7 65.3h.65M169.4 67.8h.65M172.8 68.9h.65M170.6 66.9h.65M170.1 69.6h.65M173.5 70.6h.65M171.4 70.1h.65M168.4 67.7h.65M176.4 70.5h.65M171.1 68.2h.65M175.1 71.7h.65M173.8 71.2h.65M176.2 66.6h.65M171.4 68.4h.65M167.2 69.2h.65M167.9 62.5h.65M168.6 70.0h.65M169.6 66.0h.65M180.0 64.4h.65M175.1 64.4h.65M169.7 71.6h.65M173.2 67.4h.65M171.2 70.6h.65M174.8 69.8h.65M171.1 64.6h.65M172.3 67.0h.65M171.1 70.5h.65M170.4 71.7h.65M168.8 71.3h.65M170.6 67.6h.65M176.9 69.4h.65M173.1 69.0h.65M171.6 69.2h.65M169.6 65.0h.65M167.7 66.2h.65M174.2 64.6h.65M156.6 71.1h.65M153.4 75.3h.65M162.6 79.9h.65M135.5 79.1h.65M158.4 78.1h.65M168.7 78.8h.65M137.2 76.3h.65M154.2 88.0h.65M145.3 76.7h.65M145.4 85.6h.65M183.9 84.2h.65M158.9 85.1h.65M144.3 74.6h.65M170.1 67.9h.65M138.5 88.7h.65M153.5 69.3h.65M157.6 82.2h.65M167.4 90.8h.65M140.3 80.6h.65M152.8 89.7h.65M148.9 81.6h.65M170.6 81.1h.65M161.0 87.7h.65M159.3 79.3h.65M168.8 74.7h.65M175.3 83.4h.65M134.1 69.4h.65M178.9 76.6h.65M166.7 83.8h.65M136.9 81.0h.65M163.3 86.9h.65M144.0 82.8h.65M164.7 85.2h.65M138.2 78.3h.65M147.8 76.4h.65M167.6 80.8h.65M147.2 68.6h.65M161.0 85.2h.65M141.2 70.9h.65M169.8 78.9h.65M154.3 81.1h.65M161.0 73.1h.65M162.1 78.0h.65M158.1 80.6h.65M135.6 77.6h.65M168.3 83.1h.65M142.1 71.4h.65M147.4 80.8h.65M163.6 86.4h.65M160.3 75.9h.65M157.7 76.8h.65M170.4 84.1h.65M177.1 74.3h.65M143.6 81.1h.65M170.2 82.9h.65M157.0 86.8h.65M138.4 84.0h.65M156.5 85.6h.65M142.1 81.4h.65M172.3 66.7h.65M165.1 85.9h.65M156.8 83.2h.65M155.0 85.9h.65M148.3 76.3h.65M147.8 88.1h.65M141.5 74.7h.65M142.4 75.6h.65M156.5 82.0h.65M140.7 82.7h.65M138.7 68.1h.65M159.5 88.3h.65M156.8 89.0h.65M143.3 76.1h.65M167.4 88.6h.65M138.4 78.6h.65M147.1 76.9h.65M175.8 70.2h.65M140.8 71.9h.65M140.2 82.8h.65M146.1 79.7h.65M160.4 80.9h.65M159.6 88.4h.65M162.5 79.5h.65M136.2 79.4h.65M158.0 84.4h.65M163.9 72.4h.65M174.0 71.6h.65M168.2 80.6h.65M147.7 81.7h.65M169.8 76.8h.65M165.5 83.5h.65M137.0 81.6h.65M171.7 85.4h.65M146.5 66.6h.65M157.4 79.6h.65M146.5 82.0h.65M163.3 77.4h.65M166.5 81.9h.65M145.7 73.4h.65M169.3 83.5h.65M141.7 72.9h.65M148.1 90.5h.65M155.5 74.6h.65M150.4 90.9h.65M168.6 72.5h.65M141.4 83.3h.65M159.6 84.3h.65M164.6 83.5h.65M139.1 89.0h.65M143.2 76.2h.65M164.1 76.6h.65M164.2 90.5h.65M148.4 89.9h.65M167.9 78.9h.65M134.1 75.0h.65M145.5 75.4h.65M174.5 86.9h.65M167.2 84.7h.65M142.5 89.3h.65M141.7 71.6h.65M139.4 79.3h.65M169.3 74.3h.65M139.0 89.7h.65M179.2 73.8h.65M171.6 84.6h.65M147.6 70.1h.65M161.4 77.1h.65M142.9 76.9h.65M165.5 77.8h.65M160.9 88.6h.65M145.5 89.5h.65M171.6 89.2h.65M165.2 84.8h.65M163.1 75.1h.65M147.5 87.7h.65M170.7 75.1h.65M163.7 76.5h.65M147.0 75.2h.65M175.0 85.3h.65M142.7 67.7h.65M169.3 77.3h.65M145.4 78.3h.65M146.9 81.8h.65M136.6 70.9h.65M143.9 87.1h.65M146.9 75.6h.65M164.8 79.9h.65M138.6 74.6h.65M140.9 81.0h.65M160.7 84.3h.65M148.0 83.6h.65M146.3 84.8h.65M160.1 88.1h.65M142.8 71.7h.65M139.5 83.8h.65M163.9 78.5h.65M167.4 88.0h.65M162.5 77.3h.65M170.4 84.7h.65M162.5 86.8h.65M176.9 74.8h.65M145.8 80.8h.65M145.4 78.2h.65M145.7 69.8h.65M140.4 80.5h.65M168.0 84.0h.65M178.2 86.5h.65M170.5 73.1h.65M172.8 68.7h.65M174.6 82.0h.65M166.5 74.1h.65M160.9 82.1h.65M137.0 83.0h.65M169.6 79.7h.65M163.6 84.0h.65M167.6 79.8h.65M157.4 85.1h.65M147.7 86.3h.65M141.2 85.9h.65M166.5 80.7h.65M170.7 83.2h.65M139.8 88.5h.65M164.0 81.9h.65M179.4 83.1h.65M153.8 70.4h.65M162.0 79.8h.65M172.3 85.3h.65M145.2 80.6h.65M162.4 79.9h.65M140.6 83.7h.65M146.1 81.4h.65M146.9 81.9h.65M139.1 67.8h.65M140.2 82.3h.65M155.5 86.8h.65M167.8 85.1h.65M171.5 82.6h.65M143.3 77.5h.65M155.7 83.5h.65M143.5 79.2h.65M175.6 85.5h.65M149.4 72.8h.65M157.4 74.6h.65M154.6 69.4h.65M138.0 72.6h.65M133.3 74.0h.65M160.9 79.2h.65M138.4 74.4h.65M164.9 79.5h.65M164.4 87.9h.65M156.7 74.0h.65M146.1 75.5h.65M156.4 79.9h.65M140.5 81.4h.65M181.2 74.8h.65M135.6 80.8h.65M140.8 72.4h.65M158.1 85.1h.65M175.4 82.5h.65M146.6 74.3h.65M134.0 77.6h.65M161.6 76.8h.65M164.2 86.2h.65M139.6 82.1h.65M143.5 88.4h.65M142.1 81.8h.65M160.3 87.6h.65M158.8 73.0h.65M135.7 70.9h.65M160.3 77.0h.65M148.7 75.3h.65M168.3 69.0h.65M174.9 86.7h.65M162.4 87.1h.65M146.6 82.1h.65M147.7 78.8h.65M173.6 66.7h.65M175.8 72.9h.65M137.4 81.9h.65M158.8 75.5h.65M141.4 89.3h.65M157.1 75.6h.65M141.4 74.2h.65M146.9 68.1h.65M158.7 76.8h.65M155.8 76.9h.65M158.9 86.8h.65M174.0 71.8h.65M155.0 80.2h.65M156.4 77.8h.65M137.2 86.9h.65M141.2 83.7h.65M169.2 85.4h.65M153.3 67.7h.65M133.5 87.7h.65M167.8 72.0h.65M162.5 74.9h.65M156.8 88.2h.65M137.3 86.3h.65M140.5 73.5h.65M171.0 72.2h.65M140.8 75.3h.65M137.4 75.6h.65M136.0 79.3h.65M148.2 85.8h.65M173.6 79.8h.65M170.7 80.7h.65M144.1 79.7h.65M157.8 83.3h.65M153.5 72.0h.65M144.1 87.4h.65M156.1 81.0h.65M166.4 76.7h.65M136.4 79.2h.65M148.4 82.3h.65M157.1 86.1h.65M154.1 83.1h.65M139.5 80.0h.65M165.2 86.8h.65M159.7 85.8h.65M142.7 79.6h.65M145.5 83.6h.65M164.8 85.7h.65M144.2 78.0h.65M141.7 81.2h.65M143.0 89.8h.65M158.5 68.0h.65M141.9 85.6h.65M171.5 83.5h.65M161.5 88.0h.65M161.7 86.5h.65M165.4 84.6h.65M137.5 90.8h.65M169.4 86.1h.65M153.4 70.1h.65M161.5 80.1h.65M141.0 79.2h.65M166.7 88.7h.65M161.0 86.4h.65M156.1 75.8h.65M173.7 82.1h.65M154.0 89.6h.65M146.9 73.8h.65M139.3 84.1h.65M164.9 81.0h.65M165.8 75.4h.65M142.5 88.8h.65M138.1 77.0h.65M165.5 87.1h.65M158.5 84.6h.65M152.8 70.8h.65M170.2 75.6h.65M158.0 75.0h.65M166.3 79.1h.65M162.4 77.5h.65M165.8 86.2h.65M144.0 79.0h.65M155.2 84.5h.65M173.3 84.4h.65M145.3 81.1h.65M174.8 70.7h.65M156.4 81.0h.65M169.6 82.6h.65M161.6 87.0h.65M147.4 79.2h.65M161.3 86.7h.65M175.6 75.1h.65M140.5 84.8h.65M144.0 82.3h.65M154.0 85.8h.65M172.9 72.2h.65M148.4 75.0h.65M146.8 71.9h.65M171.9 71.4h.65M156.2 77.6h.65M159.2 81.7h.65M154.2 76.9h.65M165.0 75.5h.65M144.1 90.4h.65M178.7 67.5h.65M159.1 80.6h.65M147.4 72.1h.65M137.7 83.1h.65M133.6 82.9h.65M140.6 86.4h.65M138.8 88.4h.65M159.8 82.4h.65M139.0 86.5h.65M153.3 89.3h.65M138.5 86.9h.65M142.8 82.0h.65M138.8 89.0h.65M147.8 80.6h.65M143.9 72.5h.65M134.8 71.0h.65M148.1 88.3h.65M145.9 78.1h.65M139.4 78.0h.65M143.4 72.0h.65M143.1 77.7h.65M159.5 80.1h.65M143.0 85.4h.65M166.1 71.1h.65M141.6 85.7h.65M161.1 86.9h.65M145.3 83.8h.65M166.0 76.8h.65M178.6 84.7h.65M170.9 83.4h.65M173.8 76.0h.65M144.3 71.6h.65M155.0 73.5h.65M141.1 75.9h.65M169.6 77.5h.65M155.9 77.6h.65M133.2 71.8h.65M144.5 89.3h.65M144.2 84.9h.65M153.4 88.7h.65M153.4 82.9h.65M170.8 87.1h.65M163.8 83.9h.65M155.2 87.6h.65M158.0 76.7h.65M145.6 69.1h.65M142.0 72.0h.65M166.8 73.8h.65M137.1 86.0h.65M156.5 85.9h.65M144.9 74.4h.65M141.4 78.8h.65M161.6 78.9h.65M166.3 85.4h.65M171.8 87.2h.65M144.8 80.1h.65M156.9 82.0h.65M140.1 89.6h.65M164.0 85.1h.65M168.5 79.5h.65M163.6 85.8h.65M160.9 84.9h.65M143.2 89.1h.65M140.9 76.1h.65M138.7 78.6h.65M170.2 67.9h.65M144.5 71.1h.65M171.0 71.6h.65M145.6 84.1h.65M145.8 73.2h.65M136.2 80.3h.65M170.6 71.1h.65M154.0 87.7h.65M136.4 88.6h.65M157.9 76.6h.65M154.8 68.9h.65M156.6 80.9h.65M158.9 84.1h.65M157.9 85.8h.65M158.0 81.2h.65M178.6 72.2h.65M159.7 81.6h.65M181.9 78.4h.65M171.8 88.2h.65M142.6 86.3h.65M167.0 79.4h.65M154.4 85.3h.65M155.2 72.2h.65M146.6 71.3h.65M173.6 84.7h.65M169.9 70.1h.65M160.2 83.6h.65M170.2 83.9h.65M144.9 88.6h.65M159.5 79.5h.65M153.9 76.8h.65M154.3 89.1h.65M174.6 77.3h.65M186.6 83.2h.65M140.9 86.6h.65M132.5 85.9h.65M139.9 88.5h.65M157.9 79.4h.65M164.2 89.1h.65M156.3 68.4h.65M135.9 86.1h.65M138.1 74.4h.65M158.5 87.5h.65M156.3 76.9h.65M144.3 83.7h.65M179.1 83.4h.65M142.3 85.7h.65M159.7 81.5h.65M168.8 69.0h.65M169.4 71.5h.65M153.9 73.0h.65M157.1 87.9h.65M143.1 82.8h.65M141.9 81.6h.65M159.6 75.4h.65M157.3 87.3h.65M135.0 78.8h.65M148.3 78.8h.65M173.4 72.5h.65M165.6 82.3h.65M146.7 72.0h.65M162.4 80.6h.65M170.5 73.5h.65M166.0 72.0h.65M139.9 89.7h.65M159.0 80.2h.65M135.3 86.4h.65M178.8 76.3h.65M167.9 77.5h.65M161.4 76.9h.65M135.5 76.6h.65M163.0 72.6h.65M160.2 69.5h.65M143.6 74.0h.65M137.9 82.7h.65M156.9 80.9h.65M148.6 85.2h.65M139.0 78.7h.65M169.3 87.7h.65M156.4 85.5h.65M148.2 72.8h.65M134.1 77.8h.65M146.2 90.0h.65M144.7 73.5h.65M143.6 87.1h.65M147.6 78.6h.65M147.0 67.4h.65M156.5 76.6h.65M146.6 85.8h.65M147.8 68.4h.65M155.3 84.9h.65M149.4 64.6h.65M151.5 63.9h.65M146.3 73.4h.65M148.8 65.8h.65M153.9 73.7h.65M147.2 76.9h.65M148.8 88.7h.65M153.8 85.9h.65M147.4 88.4h.65M154.9 79.5h.65M147.3 88.1h.65M153.3 66.6h.65M154.1 90.1h.65M154.7 70.1h.65M146.8 67.6h.65M148.8 69.5h.65M147.8 80.4h.65M148.4 86.3h.65M155.4 78.8h.65M153.8 72.2h.65M148.7 83.3h.65M149.3 88.9h.65M150.6 66.1h.65M153.1 71.4h.65M147.8 70.0h.65M152.5 76.4h.65M148.3 65.1h.65M145.5 89.2h.65M146.4 78.9h.65M152.8 90.0h.65M153.2 64.5h.65M151.0 67.1h.65M149.6 64.8h.65M149.1 78.5h.65M152.8 73.0h.65M154.9 82.2h.65M174.4 64.5h.65M174.5 65.7h.65M186.6 80.0h.65M131.5 59.0h.65M156.0 76.1h.65M179.6 90.6h.65M183.9 54.4h.65M158.2 55.2h.65M184.2 59.6h.65M163.4 52.9h.65M136.3 63.6h.65M143.3 83.9h.65" stroke="rgb(38, 76, 171)" stroke-width=".65" stroke-opacity="0.75"/>
<path d="M179.3 44.4h.65M178.5 39.0h.65M177.2 44.3h.65M168.6 48.2h.65M180.6 36.5h.65M168.3 57.1h.65M172.5 32.0h.65M174.0 59.6h.65M168.5 55.0h.65M169.0 42.6h.65M173.6 61.7h.65M176.8 30.7h.65M168.6 37.2h.65M168.6 40.6h.65M168.7 36.0h.65M168.0 54.1h.65M168.9 60.6h.65M169.6 45.0h.65M179.8 34.6h.65M176.7 51.8h.65M180.3 43.9h.65M178.4 43.0h.65M169.3 55.5h.65M168.6 57.2h.65M168.9 43.9h.65M177.7 50.0h.65M177.4 45.4h.65M168.9 55.2h.65M169.3 62.9h.65M168.6 57.3h.65M177.2 55.4h.65M180.5 34.8h.65M169.1 46.1h.65M170.4 61.2h.65M168.9 38.2h.65M177.5 54.0h.65M168.7 54.5h.65M178.7 37.1h.65M173.1 31.7h.65M178.8 36.5h.65M179.1 36.3h.65M169.0 44.5h.65M178.1 32.3h.65M175.8 30.2h.65M174.5 30.9h.65M178.5 41.9h.65M170.1 61.3h.65M168.7 48.0h.65M170.6 32.8h.65M173.7 60.9h.65M168.3 44.0h.65M168.3 41.0h.65M168.9 49.9h.65M177.7 45.9h.65M175.6 53.6h.65M175.9 56.1h.65M173.5 62.6h.65M169.0 45.3h.65M170.3 38.4h.65M179.2 38.3h.65M175.7 58.2h.65M167.9 55.7h.65M179.6 34.4h.65M167.9 50.1h.65M171.2 65.2h.65M169.5 57.6h.65M173.1 32.2h.65M168.4 49.7h.65M173.9 30.2h.65M168.2 58.1h.65M168.7 41.6h.65M178.4 39.0h.65M169.0 62.4h.65M167.8 55.6h.65M179.2 35.1h.65M179.1 32.2h.65M168.8 60.4h.65M178.4 34.8h.65M169.1 61.4h.65M177.4 50.4h.65M178.0 45.1h.65M176.9 47.6h.65M179.3 43.7h.65M166.8 52.1h.65M168.4 50.5h.65M170.4 64.9h.65M178.1 46.5h.65M177.8 45.7h.65M170.3 63.4h.65M174.7 55.8h.65M176.2 52.6h.65M169.2 41.1h.65M175.7 55.1h.65M168.3 45.4h.65M176.2 49.1h.65M179.3 33.1h.65M178.8 33.0h.65M168.2 36.6h.65M168.9 36.7h.65M168.9 36.1h.65M174.8 30.8h.65M168.9 44.6h.65M169.9 62.7h.65M168.6 38.9h.65M179.6 33.6h.65M168.5 40.5h.65M167.2 59.6h.65M176.9 51.8h.65M167.6 49.6h.65M175.8 55.2h.65M179.1 33.9h.65M168.0 45.0h.65M178.0 50.4h.65M169.6 57.8h.65M168.6 43.5h.65M176.1 49.8h.65M179.3 32.4h.65M169.2 50.3h.65M169.7 70.2h.65M169.8 67.9h.65M169.3 68.6h.65M172.5 65.5h.65M170.1 71.3h.65M170.1 67.9h.65M169.5 66.2h.65M174.0 68.4h.65M172.5 65.2h.65M173.3 66.3h.65M175.0 62.4h.65M170.3 70.1h.65M173.8 69.1h.65M174.3 62.9h.65M170.2 63.8h.65M174.6 68.7h.65M172.4 62.3h.65M172.7 63.2h.65M173.6 66.2h.65M170.7 65.3h.65M172.4 65.8h.65M169.2 66.4h.65M170.5 65.0h.65M174.8 66.8h.65M175.5 64.8h.65M170.0 67.6h.65M173.4 66.3h.65M173.3 68.5h.65M169.6 66.2h.65M173.1 63.2h.65M170.6 63.9h.65M170.6 70.4h.65M171.3 65.9h.65M170.0 65.9h.65M175.6 71.7h.65M170.0 66.1h.65M175.8 71.1h.65M166.6 82.3h.65M144.7 76.8h.65M167.1 71.2h.65M174.4 77.4h.65M135.9 77.3h.65M136.0 78.9h.65M146.6 84.5h.65M148.2 75.5h.65M166.3 80.0h.65M150.5 71.0h.65M146.5 89.3h.65M155.7 69.2h.65M144.7 82.5h.65M170.0 68.7h.65M139.5 73.6h.65M170.9 73.4h.65M162.4 79.8h.65M148.0 86.4h.65M164.9 76.7h.65M144.8 80.6h.65M146.5 85.5h.65M165.5 83.3h.65M145.5 83.6h.65M145.5 84.2h.65M147.4 73.6h.65M160.1 81.0h.65M149.2 71.9h.65M156.0 84.1h.65M159.4 81.4h.65M142.0 74.5h.65M137.6 80.2h.65M167.6 73.1h.65M144.5 81.8h.65M145.8 67.2h.65M162.6 84.5h.65M158.9 81.8h.65M154.9 83.1h.65M153.1 70.2h.65M160.7 83.4h.65M146.6 82.7h.65M168.2 75.6h.65M143.1 77.1h.65M156.0 75.1h.65M167.3 88.3h.65M143.4 76.0h.65M148.6 68.2h.65M147.8 76.9h.65M153.0 72.0h.65M162.8 77.8h.65M178.1 70.8h.65M145.2 88.3h.65M176.6 76.2h.65M143.7 72.2h.65M144.8 84.2h.65M164.3 77.8h.65M147.5 84.4h.65M156.3 84.8h.65M159.9 73.2h.65M147.4 85.0h.65M149.2 71.1h.65M143.5 75.0h.65M154.8 86.4h.65M148.7 75.3h.65M156.7 74.3h.65M155.5 76.2h.65M166.9 85.6h.65M150.2 86.1h.65M161.5 90.9h.65M152.3 75.4h.65M143.6 89.0h.65M159.8 79.3h.65M159.3 88.5h.65M153.4 77.4h.65M145.0 83.5h.65M144.0 88.4h.65M156.9 68.3h.65M156.1 81.8h.65M142.2 81.7h.65M169.7 69.1h.65M150.8 89.7h.65M148.0 69.3h.65M162.3 85.6h.65M151.6 77.2h.65M167.4 82.7h.65M158.2 75.2h.65M155.6 86.4h.65M144.4 71.4h.65M157.7 81.3h.65M154.1 71.5h.65M138.8 68.7h.65M144.0 83.8h.65M148.1 85.9h.65M163.3 77.0h.65M169.6 79.3h.65M147.7 78.6h.65M155.3 77.8h.65M133.9 73.1h.65M161.9 82.6h.65M143.4 83.6h.65M141.7 87.7h.65M152.3 86.6h.65M144.0 85.2h.65M152.7 88.6h.65M158.3 85.6h.65M161.1 84.8h.65M172.9 72.7h.65M163.3 78.4h.65M143.2 78.7h.65M166.7 71.6h.65M140.2 79.6h.65M165.8 84.5h.65M152.8 90.6h.65M167.6 74.1h.65M147.0 85.5h.65M147.1 80.6h.65M160.8 82.7h.65M162.5 91.1h.65M153.2 72.9h.65M150.6 90.7h.65M156.8 78.9h.65M136.1 83.0h.65M166.0 80.7h.65M141.3 76.6h.65M154.8 72.1h.65M164.9 73.0h.65M145.4 78.2h.65M146.0 80.9h.65M160.4 87.3h.65M148.2 89.5h.65M162.4 86.5h.65M135.3 89.2h.65M143.3 81.0h.65M149.7 84.0h.65M147.5 78.0h.65M145.8 68.0h.65M161.6 86.5h.65M142.7 89.1h.65M139.8 77.6h.65M136.5 68.6h.65M164.5 73.4h.65M142.6 80.7h.65M149.6 76.0h.65M170.9 83.1h.65M140.8 74.1h.65M149.8 79.0h.65M148.7 90.2h.65M170.9 66.7h.65M147.7 88.8h.65M141.5 78.5h.65M138.3 83.3h.65M146.0 83.4h.65M145.0 83.5h.65M156.9 85.1h.65M167.6 84.5h.65M162.6 77.2h.65M146.6 82.0h.65M145.3 82.3h.65M148.8 69.8h.65M166.7 76.7h.65M162.3 86.5h.65M154.2 73.4h.65M153.7 70.1h.65M162.5 84.9h.65M152.8 77.0h.65M178.7 75.0h.65M144.1 84.5h.65M145.9 83.4h.65M153.0 79.8h.65M145.6 76.1h.65M154.2 83.9h.65M149.9 78.8h.65M141.1 78.1h.65M142.4 80.6h.65M160.4 81.8h.65M149.7 85.2h.65M142.3 80.0h.65M163.8 76.8h.65M162.7 74.3h.65M145.7 82.2h.65M153.5 87.3h.65M141.3 88.9h.65M162.3 84.5h.65M148.0 79.2h.65M146.2 70.7h.65M151.7 71.4h.65M160.2 78.2h.65M156.0 82.4h.65M160.2 82.1h.65M166.1 82.2h.65M148.5 70.9h.65M137.5 81.5h.65M143.2 79.1h.65M147.8 71.8h.65M141.1 87.2h.65M146.0 72.5h.65M157.7 76.5h.65M143.9 89.3h.65M168.3 80.3h.65M161.1 77.2h.65M137.5 84.6h.65M148.4 83.1h.65M156.2 80.7h.65M145.9 84.6h.65M144.2 86.3h.65M147.8 83.1h.65M152.1 69.0h.65M155.5 87.7h.65M152.1 77.4h.65M160.8 77.9h.65M143.1 81.7h.65M137.1 80.4h.65M144.3 80.6h.65M173.8 84.8h.65M148.1 86.3h.65M152.0 76.8h.65M173.7 72.2h.65M169.6 84.9h.65M144.5 79.7h.65M134.4 79.0h.65M156.5 79.2h.65M140.0 82.7h.65M144.3 74.7h.65M137.4 84.6h.65M145.6 86.2h.65M153.1 80.5h.65M148.0 79.9h.65M153.2 71.2h.65M148.3 83.4h.65M155.2 76.5h.65M155.9 82.2h.65M166.1 83.4h.65M147.9 77.7h.65M166.9 84.5h.65M145.4 83.7h.65M163.2 85.0h.65M140.9 81.6h.65M144.8 74.1h.65M165.1 89.3h.65M153.3 87.0h.65M153.0 67.7h.65M164.4 75.9h.65M155.2 81.8h.65M151.8 78.9h.65M148.2 79.7h.65M150.3 78.1h.65M145.7 71.6h.65M133.8 79.2h.65M164.6 78.7h.65M152.5 79.3h.65M147.8 82.8h.65M156.4 87.4h.65M163.9 74.0h.65M173.4 70.0h.65M141.4 78.9h.65M163.0 74.2h.65M155.3 84.4h.65M156.4 83.9h.65M136.6 84.3h.65M141.0 78.9h.65M152.0 76.7h.65M168.8 86.2h.65M156.0 75.6h.65M140.9 74.0h.65M147.2 77.2h.65M164.7 89.0h.65M149.7 71.5h.65M177.7 85.0h.65M147.9 83.7h.65M137.5 83.5h.65M147.8 80.7h.65M142.4 81.5h.65M144.5 82.9h.65M150.3 82.4h.65M152.4 72.4h.65M161.3 82.7h.65M144.5 83.4h.65M167.3 86.6h.65M139.8 77.2h.65M156.8 86.0h.65M149.3 74.4h.65M134.6 72.3h.65M148.4 83.8h.65M158.1 77.1h.65M147.1 70.9h.65M170.4 73.1h.65M145.6 83.9h.65M134.3 76.9h.65M143.9 71.1h.65M168.3 78.8h.65M147.9 90.7h.65M153.4 87.3h.65M147.1 83.2h.65M144.6 83.2h.65M148.3 83.5h.65M151.4 71.0h.65M152.2 89.1h.65M154.2 85.6h.65M152.2 69.3h.65M149.3 88.5h.65M147.5 83.8h.65M153.3 77.0h.65M149.2 73.0h.65M153.2 87.9h.65M153.6 79.7h.65M153.3 77.8h.65M148.6 64.0h.65M151.4 66.1h.65M152.3 68.1h.65M149.0 65.7h.65M154.4 74.5h.65M154.2 77.6h.65M155.3 79.0h.65M147.3 71.3h.65M150.8 77.5h.65M154.9 80.1h.65M150.1 90.2h.65M152.1 68.8h.65M153.9 81.4h.65M150.5 89.9h.65M148.4 85.4h.65M150.3 90.6h.65M151.2 84.4h.65M148.9 75.6h.65M151.5 69.1h.65M152.4 86.5h.65M150.2 74.1h.65M149.2 68.5h.65M147.4 76.0h.65M153.3 67.9h.65M153.2 86.4h.65M151.4 65.1h.65M149.5 66.2h.65M150.8 81.9h.65M150.3 73.3h.65M152.8 70.6h.65M152.5 73.4h.65M153.9 81.8h.65M151.9 70.3h.65M150.0 64.9h.65M153.4 90.1h.65M153.0 82.4h.65M150.1 70.8h.65M153.3 86.5h.65M154.3 70.1h.65M153.5 74.2h.65M152.4 67.3h.65M148.3 87.0h.65M152.9 79.0h.65M152.9 69.2h.65M152.9 73.9h.65M151.9 88.1h.65M153.7 75.1h.65M155.8 70.7h.65M148.6 64.9h.65M148.9 77.5h.65M148.8 66.4h.65M153.7 69.7h.65M153.9 88.5h.65M153.8 88.1h.65M149.7 70.0h.65M151.4 66.1h.65M152.9 84.1h.65M153.9 70.5h.65M149.7 74.2h.65M154.3 81.8h.65M152.3 66.5h.65M150.3 67.2h.65M149.0 71.3h.65M153.5 72.3h.65M153.8 79.2h.65M153.4 84.4h.65M149.6 75.5h.65M148.8 75.2h.65M147.6 72.7h.65M153.7 83.8h.65M149.3 68.9h.65M149.9 70.4h.65M148.3 89.4h.65M154.3 85.9h.65M154.2 79.7h.65M148.6 67.4h.65M149.1 76.7h.65M144.4 89.0h.65M132.7 90.8h.65M138.4 83.6h.65M143.0 90.2h.65" stroke="rgb(36, 87, 182)" stroke-width=".65" stroke-opacity="0.75"/>
<path d="M169.7 59.6h.65M175.1 54.4h.65M170.6 62.6h.65M178.9 35.0h.65M171.3 61.1h.65M171.9 62.9h.65M177.5 47.6h.65M178.5 37.3h.65M173.7 59.6h.65M170.0 46.6h.65M169.5 61.0h.65M178.2 32.4h.65M169.6 45.1h.65M169.7 38.6h.65M170.4 39.2h.65M176.2 48.5h.65M176.0 32.4h.65M169.5 46.7h.65M173.1 59.3h.65M169.3 41.7h.65M169.4 57.5h.65M173.0 32.1h.65M178.4 35.8h.65M179.1 34.4h.65M169.5 54.4h.65M169.4 56.9h.65M169.0 33.7h.65M168.8 45.5h.65M175.2 56.2h.65M169.5 35.4h.65M178.9 34.4h.65M174.3 57.1h.65M174.3 32.4h.65M169.1 56.4h.65M171.1 61.6h.65M169.1 41.7h.65M167.9 56.0h.65M170.1 64.3h.65M172.1 63.9h.65M169.9 61.9h.65M176.0 53.8h.65M168.5 54.5h.65M168.5 41.5h.65M169.7 41.1h.65M169.8 36.4h.65M177.9 39.9h.65M169.9 62.9h.65M176.4 50.1h.65M176.3 54.0h.65M169.3 48.8h.65M177.8 45.1h.65M173.2 59.2h.65M171.4 59.7h.65M177.2 33.1h.65M176.0 49.5h.65M176.5 52.4h.65M170.7 62.8h.65M178.3 42.4h.65M169.2 65.2h.65M178.2 34.1h.65M168.4 53.8h.65M177.6 47.2h.65M177.8 32.7h.65M178.9 38.3h.65M170.2 39.2h.65M177.0 31.8h.65M176.5 51.9h.65M170.6 33.2h.65M178.7 32.0h.65M168.4 57.0h.65M170.0 59.6h.65M170.0 34.0h.65M168.8 48.3h.65M176.2 50.8h.65M169.0 58.4h.65M177.6 44.5h.65M169.0 59.1h.65M170.0 43.4h.65M177.2 32.6h.65M177.2 37.8h.65M174.4 57.2h.65M173.3 31.6h.65M169.8 60.6h.65M169.4 58.8h.65M169.7 42.7h.65M174.6 54.4h.65M173.9 59.4h.65M169.6 58.4h.65M177.3 44.9h.65M177.8 42.6h.65M176.2 52.3h.65M169.2 57.7h.65M169.6 40.4h.65M178.3 34.9h.65M169.4 43.1h.65M174.8 53.6h.65M170.6 32.0h.65M177.7 43.1h.65M168.9 60.4h.65M174.3 59.5h.65M177.9 40.6h.65M169.6 44.1h.65M180.6 39.3h.65M175.9 55.1h.65M169.1 38.4h.65M176.3 50.3h.65M177.7 38.1h.65M170.6 35.1h.65M170.2 58.3h.65M169.2 46.0h.65M169.8 46.0h.65M170.4 33.9h.65M173.6 59.3h.65M169.5 49.4h.65M174.2 59.2h.65M176.4 52.6h.65M170.3 61.3h.65M173.8 58.4h.65M177.7 40.9h.65M171.9 62.5h.65M168.6 36.5h.65M170.8 61.3h.65M173.0 32.4h.65M167.9 45.4h.65M167.7 49.4h.65M169.9 44.2h.65M176.3 51.7h.65M175.0 55.2h.65M174.5 57.9h.65M168.8 54.0h.65M168.0 54.5h.65M168.3 38.0h.65M174.1 31.1h.65M169.0 59.4h.65M170.8 63.3h.65M170.4 66.5h.65M169.6 65.6h.65M170.7 69.5h.65M170.1 64.6h.65M174.2 68.9h.65M148.2 78.5h.65M152.4 76.3h.65M147.5 66.8h.65M146.2 84.4h.65M150.0 75.8h.65M150.7 77.0h.65M149.0 75.3h.65M162.9 85.5h.65M152.3 77.8h.65M154.6 76.9h.65M151.2 68.9h.65M161.9 84.0h.65M163.4 76.0h.65M152.2 89.3h.65M148.2 79.9h.65M153.5 85.0h.65M166.9 73.9h.65M141.9 90.5h.65M153.7 79.2h.65M152.5 82.7h.65M149.4 74.3h.65M145.1 83.2h.65M149.8 67.7h.65M147.9 73.7h.65M151.3 73.1h.65M150.2 84.3h.65M147.7 84.1h.65M148.3 72.2h.65M149.2 87.5h.65M151.2 77.6h.65M149.5 82.6h.65M149.5 67.2h.65M149.6 79.7h.65M152.2 75.8h.65M145.1 73.9h.65M152.9 76.3h.65M143.2 83.6h.65M152.2 72.5h.65M151.8 78.7h.65M152.5 88.8h.65M150.4 73.5h.65M148.5 76.1h.65M163.7 90.8h.65M150.0 77.7h.65M147.9 84.9h.65M148.5 81.4h.65M149.4 90.1h.65M149.3 89.5h.65M139.4 72.7h.65M153.5 82.9h.65M149.5 72.0h.65M154.3 77.7h.65M146.8 88.1h.65M149.8 83.4h.65M150.7 79.0h.65M154.2 76.3h.65M152.1 74.6h.65M154.9 83.0h.65M149.6 75.0h.65M154.0 76.7h.65M152.6 82.5h.65M148.5 71.3h.65M148.6 78.0h.65M151.1 88.6h.65M161.0 80.7h.65M142.2 80.3h.65M139.8 74.4h.65M161.7 83.9h.65M147.8 72.0h.65M150.5 76.2h.65M150.2 76.8h.65M145.2 83.8h.65M148.9 86.7h.65M138.7 80.1h.65M156.1 84.4h.65M150.9 90.7h.65M150.2 85.7h.65M161.3 79.8h.65M141.9 79.4h.65M150.7 82.0h.65M145.2 82.1h.65M150.9 90.2h.65M152.5 91.0h.65M148.5 73.0h.65M151.8 68.7h.65M153.1 82.2h.65M161.1 84.1h.65M153.1 74.3h.65M153.4 76.2h.65M153.2 82.4h.65M144.7 82.9h.65M143.8 78.0h.65M139.3 83.5h.65M153.2 77.9h.65M154.2 87.7h.65M149.0 78.5h.65M149.4 67.3h.65M148.8 74.2h.65M148.5 89.0h.65M138.7 73.2h.65M144.4 84.5h.65M168.9 79.7h.65M147.5 73.5h.65M152.4 84.7h.65M152.9 87.9h.65M163.8 73.0h.65M144.5 81.0h.65M152.2 79.6h.65M143.4 87.5h.65M151.2 82.6h.65M169.6 80.4h.65M150.1 78.1h.65M157.7 84.2h.65M148.2 88.9h.65M150.5 82.4h.65M153.4 84.6h.65M151.3 83.3h.65M149.7 87.3h.65M144.5 77.2h.65M154.1 78.9h.65M153.3 83.1h.65M150.0 80.2h.65M149.6 89.6h.65M147.6 85.7h.65M148.8 75.5h.65M154.2 80.4h.65M148.9 79.1h.65M149.2 68.2h.65M149.3 71.8h.65M149.3 88.0h.65M149.9 83.5h.65M164.8 78.9h.65M154.4 76.7h.65M148.3 74.9h.65M153.7 73.5h.65M149.3 70.1h.65M151.8 89.4h.65M152.1 81.1h.65M149.2 81.6h.65M152.7 87.8h.65M149.5 86.9h.65M153.3 77.4h.65M148.7 86.3h.65M148.1 78.4h.65M150.7 90.0h.65M152.7 77.7h.65M150.3 66.6h.65M150.9 79.5h.65M148.8 67.5h.65M151.5 78.8h.65M150.1 89.2h.65M148.8 84.7h.65M148.8 80.2h.65M152.3 69.0h.65M151.4 85.3h.65M150.7 69.6h.65M150.3 72.6h.65M150.4 88.9h.65M152.4 70.0h.65M150.0 68.8h.65M150.3 90.1h.65M151.1 71.5h.65M148.2 84.5h.65M149.0 69.7h.65M152.9 75.3h.65M150.8 90.1h.65M152.7 73.8h.65M151.8 82.6h.65M151.2 67.2h.65M150.2 75.5h.65M150.5 84.4h.65M146.7 87.4h.65M152.9 89.9h.65M150.1 65.7h.65M150.4 66.5h.65M150.0 74.3h.65M151.8 76.6h.65M155.2 75.6h.65M152.8 88.8h.65M150.9 82.1h.65M150.0 88.7h.65M145.0 66.7h.65M148.2 71.4h.65M148.7 65.8h.65M152.8 70.9h.65M154.2 80.6h.65M150.8 79.4h.65M153.2 68.1h.65M150.1 66.8h.65M151.0 66.1h.65M153.4 69.2h.65M149.6 73.0h.65M152.6 72.8h.65M150.5 72.5h.65M152.1 84.8h.65M148.7 65.9h.65M151.4 88.4h.65M149.1 83.9h.65M151.2 65.4h.65M149.2 85.8h.65M151.0 73.6h.65M153.2 74.4h.65M148.9 89.8h.65M149.9 85.0h.65M153.3 81.2h.65M151.0 86.0h.65M150.2 76.6h.65M149.9 65.3h.65M148.3 72.7h.65M153.7 82.3h.65M148.9 69.8h.65M152.8 70.7h.65M150.5 69.3h.65M149.8 68.2h.65M150.0 87.5h.65M150.3 81.7h.65M151.1 76.7h.65M148.0 73.3h.65M152.1 87.8h.65M149.8 76.2h.65M148.4 79.9h.65M152.1 84.2h.65M151.0 86.6h.65M149.0 73.2h.65M148.3 70.0h.65M150.9 88.1h.65M152.5 75.0h.65M150.7 77.4h.65M148.1 87.1h.65M154.9 76.7h.65M152.3 85.9h.65M155.9 85.2h.65" stroke="rgb(34, 101, 191)" stroke-width=".65" stroke-opacity="0.75"/>
<path d="M177.8 43.8h.65M172.4 61.8h.65M168.4 47.4h.65M170.2 37.4h.65M176.8 42.5h.65M178.9 33.8h.65M175.7 32.6h.65M175.9 52.1h.65M177.0 45.2h.65M177.7 43.0h.65M175.9 47.3h.65M178.9 36.3h.65M169.7 45.4h.65M169.1 37.1h.65M174.4 56.0h.65M170.0 59.1h.65M176.8 46.0h.65M169.1 55.6h.65M169.6 58.9h.65M175.7 52.5h.65M178.4 39.1h.65M176.6 48.2h.65M178.6 35.2h.65M170.0 35.9h.65M170.4 43.6h.65M173.6 59.1h.65M177.7 44.0h.65M172.2 32.0h.65M176.1 52.3h.65M170.7 57.7h.65M169.9 50.2h.65M173.9 57.7h.65M172.5 33.6h.65M169.8 44.6h.65M169.5 44.2h.65M174.1 56.7h.65M171.7 62.2h.65M169.8 45.6h.65M171.6 34.9h.65M176.2 49.3h.65M171.3 32.6h.65M177.0 43.7h.65M171.1 34.7h.65M170.4 40.1h.65M169.5 57.7h.65M171.0 33.7h.65M178.1 42.1h.65M168.6 55.6h.65M172.5 31.9h.65M178.9 34.8h.65M169.0 51.6h.65M169.4 55.3h.65M176.0 52.2h.65M170.4 34.4h.65M174.4 54.6h.65M175.8 50.2h.65M171.1 40.2h.65M174.3 54.2h.65M170.5 54.4h.65M169.3 45.8h.65M169.6 55.6h.65M169.8 36.6h.65M176.6 33.4h.65M170.8 35.6h.65M177.7 42.6h.65M173.2 61.4h.65M171.0 59.4h.65M176.4 32.0h.65M177.2 32.9h.65M177.4 33.8h.65M169.7 50.3h.65M178.3 36.2h.65M174.0 57.2h.65M178.9 36.6h.65M171.8 59.2h.65M171.3 34.9h.65M170.2 41.3h.65M178.1 31.7h.65M175.3 50.6h.65M174.5 54.3h.65M175.1 53.8h.65M177.6 36.6h.65M179.1 37.0h.65M176.9 44.2h.65M169.6 59.5h.65M170.3 37.7h.65M169.9 40.9h.65M176.9 47.2h.65M177.7 36.1h.65M174.9 52.5h.65M178.8 37.5h.65M174.0 55.8h.65M173.7 32.5h.65M171.4 59.4h.65M178.3 37.0h.65M169.6 53.8h.65M170.6 36.0h.65M170.4 62.4h.65M170.1 40.1h.65M173.2 62.2h.65M177.5 45.5h.65M169.8 41.9h.65M177.0 45.1h.65M169.2 47.5h.65M169.9 48.5h.65M170.1 57.6h.65M175.2 49.2h.65M177.5 44.4h.65M169.9 58.9h.65M171.8 59.3h.65M173.9 32.6h.65M171.0 61.4h.65M170.3 34.6h.65M169.4 36.9h.65M170.3 50.5h.65M177.4 43.3h.65M175.2 53.9h.65M169.2 55.5h.65M179.6 37.0h.65M178.3 35.9h.65M170.6 62.2h.65M170.2 38.5h.65M177.0 33.3h.65M169.5 43.3h.65M177.2 42.9h.65M176.3 50.3h.65M173.9 58.2h.65M169.9 42.2h.65M172.1 70.2h.65M153.1 75.0h.65M150.4 68.4h.65M150.2 69.1h.65M153.3 82.1h.65M151.3 70.0h.65M151.1 88.6h.65M149.4 75.5h.65M153.2 82.8h.65M150.6 75.4h.65M149.1 80.2h.65M152.8 80.3h.65M153.8 78.1h.65M150.8 74.6h.65M151.6 80.5h.65M149.3 69.5h.65M148.9 80.1h.65M151.2 83.1h.65M152.9 84.5h.65M151.5 74.1h.65M145.9 82.4h.65M151.0 86.8h.65M150.5 86.4h.65M151.5 88.5h.65M151.7 83.8h.65M150.6 80.1h.65M149.1 81.9h.65M148.0 85.3h.65M147.6 74.3h.65M149.5 73.9h.65M152.0 81.4h.65M150.7 86.4h.65M150.9 85.1h.65M152.9 81.9h.65M152.6 82.6h.65M152.1 69.4h.65M152.0 86.3h.65M151.8 85.3h.65M151.0 83.4h.65M152.8 86.3h.65M149.7 81.1h.65M151.7 87.3h.65M153.9 77.6h.65M149.1 85.0h.65M150.4 79.0h.65M151.3 79.1h.65M152.6 78.5h.65M152.1 84.4h.65M151.6 78.1h.65M150.9 76.5h.65M151.6 77.0h.65M149.9 89.8h.65M151.3 80.1h.65M150.4 85.5h.65M148.3 81.4h.65M148.5 81.0h.65M149.9 78.9h.65M153.4 82.0h.65M146.2 85.1h.65M151.1 76.8h.65M149.1 79.5h.65M153.4 85.5h.65M152.5 76.8h.65M153.6 71.9h.65M151.7 73.8h.65M150.2 83.8h.65M149.0 89.6h.65M152.9 89.7h.65M150.0 67.9h.65M151.5 78.0h.65M149.1 84.3h.65M153.2 75.9h.65M150.2 75.4h.65M149.9 85.1h.65M148.8 83.5h.65M151.9 80.8h.65M148.0 72.2h.65M150.0 86.1h.65M151.7 85.5h.65M150.6 88.7h.65M153.7 78.0h.65M152.5 87.0h.65M153.6 83.5h.65M149.9 80.3h.65M149.7 69.4h.65M151.1 82.1h.65M149.9 74.2h.65M150.0 70.8h.65M148.3 81.2h.65M152.5 81.4h.65M150.7 88.1h.65M149.7 80.1h.65M151.5 88.8h.65M149.8 78.2h.65M150.5 86.0h.65M153.1 84.1h.65M150.5 81.2h.65M152.2 74.0h.65M149.8 72.7h.65M149.4 71.9h.65M153.0 72.5h.65M151.3 79.1h.65M149.8 69.5h.65M150.7 75.8h.65M151.8 78.8h.65M151.4 71.3h.65M153.4 81.6h.65M150.4 82.5h.65M149.2 70.8h.65M151.1 85.5h.65M151.1 89.9h.65M150.2 67.9h.65M149.7 70.4h.65M151.0 68.5h.65M150.1 66.9h.65M149.2 66.1h.65M148.4 89.8h.65M150.9 69.9h.65M150.6 68.8h.65M151.8 83.6h.65M152.5 72.0h.65M152.8 80.0h.65M149.0 81.3h.65M150.6 75.3h.65M150.6 68.9h.65M152.7 87.1h.65M152.6 83.9h.65M149.1 75.5h.65M152.9 82.4h.65M151.8 80.9h.65M150.5 74.6h.65M151.9 80.5h.65M148.2 84.9h.65M151.6 81.5h.65M148.2 77.0h.65M150.9 73.9h.65M152.1 83.2h.65M149.8 85.2h.65M152.9 81.4h.65M151.3 86.3h.65M150.5 66.6h.65M151.8 84.0h.65M152.4 87.4h.65M151.0 85.3h.65M152.1 77.6h.65M149.3 81.5h.65M150.6 77.0h.65M152.0 68.0h.65M150.4 81.6h.65M150.9 78.3h.65M153.0 74.3h.65M151.0 73.6h.65M152.7 76.2h.65M150.8 87.8h.65M151.1 69.5h.65M151.4 70.6h.65M150.6 83.7h.65M153.0 76.3h.65M151.0 74.4h.65M152.8 83.8h.65M150.3 90.4h.65M151.5 66.1h.65M148.5 82.1h.65M150.3 69.5h.65M151.3 74.3h.65M152.0 81.6h.65M153.0 81.3h.65M146.7 85.2h.65" stroke="rgb(31, 122, 196)" stroke-width=".65" stroke-opacity="0.75"/>
<path d="M170.1 56.4h.65M177.6 37.6h.65M170.2 53.9h.65M171.2 34.7h.65M175.2 33.0h.65M176.8 43.4h.65M175.7 50.1h.65M170.6 42.8h.65M177.8 35.6h.65M171.2 37.4h.65M171.8 36.2h.65M170.1 46.9h.65M172.7 60.7h.65M176.6 41.1h.65M170.1 55.3h.65M173.2 57.4h.65M177.8 34.4h.65M176.3 45.9h.65M172.6 57.2h.65M170.5 38.7h.65M174.1 33.1h.65M172.1 60.3h.65M170.2 42.5h.65M176.9 45.5h.65M171.0 34.0h.65M174.8 52.7h.65M170.7 59.2h.65M170.3 42.0h.65M172.7 33.3h.65M170.3 47.6h.65M175.4 32.3h.65M170.5 34.2h.65M170.6 40.7h.65M177.9 40.1h.65M170.9 48.8h.65M176.3 33.7h.65M170.5 36.5h.65M172.7 59.2h.65M170.2 39.8h.65M173.0 57.8h.65M171.8 58.8h.65M170.3 44.8h.65M175.4 51.4h.65M169.2 50.9h.65M171.3 39.7h.65M170.7 50.2h.65M175.3 32.4h.65M173.4 56.2h.65M173.8 55.1h.65M174.3 53.6h.65M176.2 33.6h.65M174.6 53.7h.65M175.2 49.9h.65M170.0 47.2h.65M170.9 36.3h.65M170.4 50.5h.65M170.2 57.1h.65M174.6 32.8h.65M174.1 53.4h.65M177.2 34.7h.65M177.9 39.6h.65M170.5 50.5h.65M171.0 58.4h.65M172.6 60.5h.65M173.3 31.6h.65M170.7 41.8h.65M177.0 44.5h.65M174.8 32.6h.65M173.6 55.9h.65M176.4 37.2h.65M169.1 55.4h.65M177.3 38.9h.65M176.1 33.3h.65M171.9 33.5h.65M170.2 54.3h.65M173.8 56.0h.65M169.0 52.5h.65M170.2 40.0h.65M172.8 52.2h.65M173.7 32.9h.65M171.2 51.6h.65M176.5 43.7h.65M173.1 58.0h.65M178.1 35.5h.65M178.2 33.2h.65M176.0 47.9h.65M177.8 34.8h.65M172.6 57.0h.65M174.9 52.6h.65M173.0 32.4h.65M171.8 35.6h.65M176.1 48.8h.65M170.7 58.4h.65M170.5 50.0h.65M176.2 44.5h.65M170.2 50.8h.65M175.5 48.6h.65M170.3 59.2h.65M170.0 51.4h.65M173.5 32.6h.65M172.4 62.1h.65M172.6 59.7h.65M169.6 37.7h.65M170.2 60.0h.65M169.6 57.0h.65M170.5 50.8h.65M174.3 32.4h.65M171.0 48.2h.65M176.1 32.4h.65M177.4 33.3h.65M179.1 35.0h.65M170.1 51.9h.65M170.4 40.7h.65M173.8 54.2h.65M174.7 54.1h.65M176.9 43.2h.65M170.5 49.4h.65M177.6 33.4h.65M175.7 49.8h.65M171.7 61.0h.65M176.7 49.1h.65M177.7 40.1h.65M177.8 36.4h.65M170.9 33.4h.65M173.7 55.7h.65M175.6 51.1h.65M170.1 49.1h.65M170.3 59.6h.65M174.8 50.5h.65M176.8 33.8h.65M175.4 50.0h.65M171.0 34.5h.65M170.8 60.8h.65M174.5 53.9h.65M177.5 36.9h.65M175.7 51.5h.65M170.8 35.5h.65M176.5 44.7h.65M169.6 53.0h.65M153.7 76.3h.65M150.5 80.8h.65M151.6 79.7h.65M150.3 80.9h.65M152.6 84.1h.65M151.6 84.2h.65M150.2 82.5h.65M150.0 70.2h.65M151.0 89.6h.65M148.5 85.2h.65M150.2 82.1h.65M151.5 82.6h.65M152.5 81.6h.65M148.4 78.9h.65M152.0 74.3h.65M150.3 79.0h.65M151.1 78.7h.65M150.4 69.8h.65M150.0 85.8h.65M151.7 85.6h.65M152.6 81.4h.65M151.5 77.0h.65M151.9 85.9h.65M149.3 86.3h.65M151.7 82.3h.65M151.9 75.7h.65M150.8 88.2h.65M153.0 83.3h.65M150.9 87.9h.65M151.9 85.2h.65M150.5 86.1h.65M149.2 75.1h.65M149.4 80.9h.65M151.7 86.0h.65M151.5 83.3h.65M152.0 84.5h.65M150.0 80.1h.65M150.0 81.1h.65M152.7 82.6h.65M151.6 89.1h.65M149.7 81.5h.65M151.1 69.2h.65M151.5 81.5h.65M151.3 85.4h.65M152.7 88.1h.65M149.8 66.1h.65M151.8 69.0h.65M150.8 90.6h.65M150.4 71.5h.65M150.1 89.3h.65M151.4 74.1h.65M150.6 67.6h.65M151.1 70.2h.65M150.6 80.3h.65M151.7 79.9h.65M151.4 69.5h.65M151.3 84.4h.65M150.8 76.3h.65M151.6 87.5h.65M152.3 79.2h.65M151.8 83.2h.65M151.3 80.8h.65M150.6 75.4h.65M151.9 70.1h.65M150.4 74.7h.65M152.5 82.7h.65M150.2 80.4h.65M152.0 80.9h.65M152.7 80.5h.65M151.1 71.7h.65M151.7 78.8h.65M151.0 87.7h.65M151.4 80.3h.65M152.2 76.2h.65M152.3 77.9h.65M152.3 81.7h.65M150.6 80.1h.65" stroke="rgb(32, 143, 194)" stroke-width=".65" stroke-opacity="0.9"/>
<path d="M171.2 36.6h.65M174.0 51.7h.65M170.9 58.5h.65M170.0 44.2h.65M176.4 33.9h.65M177.7 37.9h.65M177.1 35.2h.65M175.9 47.2h.65M170.9 43.7h.65M176.9 39.5h.65M169.8 52.0h.65M171.2 35.2h.65M170.2 50.3h.65M172.2 58.1h.65M176.7 40.9h.65M169.1 51.3h.65M175.0 50.5h.65M172.8 34.3h.65M171.0 47.7h.65M171.1 42.2h.65M172.2 59.2h.65M173.3 59.2h.65M177.4 44.9h.65M177.0 42.9h.65M173.6 51.5h.65M170.5 56.0h.65M170.9 56.8h.65M170.7 44.3h.65M176.0 45.9h.65M176.7 40.8h.65M170.0 47.3h.65M171.2 57.2h.65M170.3 51.0h.65M175.0 49.5h.65M171.0 46.6h.65M171.1 55.8h.65M175.8 49.0h.65M177.4 38.3h.65M176.1 43.4h.65M173.9 55.9h.65M176.5 42.3h.65M170.8 44.0h.65M170.3 44.4h.65M176.6 44.3h.65M173.1 33.2h.65M175.1 33.6h.65M173.1 55.8h.65M171.2 43.1h.65M174.5 53.5h.65M170.6 44.8h.65M176.6 34.5h.65M176.3 33.3h.65M176.1 32.5h.65M171.2 36.3h.65M171.2 41.7h.65M177.4 35.0h.65M171.3 36.7h.65M173.1 56.8h.65M177.3 34.7h.65M170.4 58.9h.65M171.1 40.3h.65M172.6 57.4h.65M172.2 34.3h.65M174.3 52.0h.65M171.4 56.3h.65M170.7 46.7h.65M170.3 43.5h.65M170.5 57.9h.65M170.5 47.3h.65M171.0 39.0h.65M176.6 42.1h.65M170.6 52.8h.65M172.3 58.1h.65M175.1 51.5h.65M175.8 49.5h.65M171.2 48.5h.65M172.2 33.9h.65M172.8 58.6h.65M177.4 36.1h.65M176.7 40.6h.65M177.0 33.7h.65M172.1 34.0h.65M170.8 39.2h.65M170.6 54.9h.65M170.6 47.2h.65M176.5 33.1h.65M171.2 54.4h.65M177.0 37.0h.65M170.3 56.7h.65M171.6 37.8h.65M172.3 59.5h.65M175.4 49.2h.65M170.5 35.7h.65M171.1 43.3h.65M170.0 49.4h.65M170.7 47.9h.65M169.9 59.6h.65M172.4 60.3h.65M177.2 38.2h.65M170.4 43.6h.65M177.0 34.8h.65M171.0 53.6h.65M178.0 37.8h.65M174.1 53.8h.65M171.0 41.6h.65M171.0 35.7h.65M170.4 48.2h.65M176.9 35.3h.65M171.1 38.6h.65M175.7 47.9h.65M175.3 47.2h.65M176.8 33.9h.65M175.2 50.6h.65M175.8 49.0h.65M170.0 45.2h.65M171.2 40.1h.65M176.2 43.5h.65M177.3 34.9h.65M171.6 35.3h.65M174.0 54.4h.65M170.9 56.5h.65M178.2 35.1h.65M170.5 56.4h.65M176.3 42.6h.65M170.5 44.3h.65M174.8 33.1h.65M173.5 55.2h.65M171.6 55.4h.65M170.8 51.0h.65M170.7 46.5h.65M170.3 55.5h.65M176.4 43.4h.65M170.7 58.6h.65M172.6 57.3h.65M171.8 57.0h.65M176.4 44.0h.65M171.9 59.1h.65M176.6 41.4h.65M175.7 48.0h.65M170.5 36.9h.65M174.0 49.8h.65M174.8 51.3h.65M170.8 47.0h.65M171.0 50.0h.65M170.8 41.9h.65M170.7 42.5h.65M170.9 57.7h.65M171.2 38.9h.65M171.4 54.7h.65M177.6 35.3h.65M170.3 48.1h.65M174.5 52.3h.65M172.3 58.1h.65M174.4 33.2h.65M175.2 52.4h.65M171.8 59.8h.65M171.3 39.3h.65M175.3 49.5h.65M171.3 42.4h.65M170.8 41.6h.65M174.1 50.5h.65M176.6 43.2h.65M172.4 60.2h.65M170.1 51.2h.65M150.9 70.1h.65M151.4 85.2h.65M151.1 81.7h.65M150.8 87.9h.65M150.9 68.5h.65M150.0 86.5h.65M150.6 85.6h.65M151.6 82.1h.65M150.7 82.5h.65M149.8 84.5h.65M150.2 65.7h.65M150.7 80.8h.65M150.9 78.2h.65M151.5 88.4h.65M150.3 72.0h.65" stroke="rgb(42, 161, 169)" stroke-width=".65" stroke-opacity="0.9"/>
<path d="M171.1 41.5h.65M176.6 38.4h.65M176.0 45.1h.65M175.0 34.1h.65M173.6 51.3h.65M172.5 57.2h.65M170.3 54.9h.65M177.1 35.2h.65M172.2 56.8h.65M172.7 51.1h.65M170.8 49.3h.65M171.2 37.5h.65M177.4 37.3h.65M177.1 40.6h.65M173.7 49.7h.65M176.9 35.8h.65M171.7 36.2h.65M171.1 43.4h.65M177.2 37.9h.65M176.6 39.4h.65M175.8 44.1h.65M170.4 53.7h.65M174.2 51.0h.65M176.8 35.0h.65M175.2 48.8h.65M174.6 48.2h.65M173.6 57.3h.65M173.1 52.3h.65M171.4 37.9h.65M171.2 51.1h.65M171.5 35.9h.65M171.7 53.0h.65M175.4 48.4h.65M170.7 51.0h.65M171.4 44.2h.65M173.2 34.6h.65M176.7 35.2h.65M171.6 38.6h.65M173.1 57.6h.65M170.4 58.4h.65M171.0 37.9h.65M172.8 54.8h.65M173.1 35.5h.65M176.4 43.8h.65M172.7 55.0h.65M171.2 48.5h.65M170.1 50.4h.65M173.4 55.9h.65M171.2 44.9h.65M173.6 51.6h.65M170.9 54.0h.65M176.6 34.4h.65M173.4 52.4h.65M171.0 36.3h.65M171.8 56.2h.65M172.3 39.9h.65M176.1 41.9h.65M170.7 50.5h.65M171.8 36.6h.65M177.8 35.7h.65M176.3 36.3h.65M173.8 53.7h.65M170.7 51.0h.65M172.7 58.5h.65M174.2 49.0h.65M172.9 55.2h.65M172.6 57.0h.65M172.1 36.6h.65M176.4 42.4h.65M174.5 33.9h.65M170.8 50.0h.65M173.1 55.4h.65M170.8 57.3h.65M177.2 35.2h.65M174.0 53.9h.65M171.6 45.0h.65M171.9 37.4h.65M175.8 45.0h.65M170.8 47.0h.65M171.5 57.2h.65M171.6 52.8h.65M176.2 40.7h.65M171.8 35.8h.65M171.2 49.7h.65M172.8 34.3h.65M170.6 53.6h.65M171.8 34.3h.65M173.3 52.9h.65M172.3 34.0h.65M173.7 52.5h.65M174.9 49.8h.65M171.2 49.3h.65M173.6 49.8h.65M173.9 53.4h.65M170.9 52.1h.65M171.7 36.7h.65M171.2 54.2h.65M174.7 49.5h.65M173.2 56.7h.65M170.7 42.9h.65M171.7 52.1h.65M176.2 38.8h.65M171.2 54.2h.65M174.5 33.3h.65M172.3 57.2h.65M171.0 54.6h.65M176.5 43.6h.65M174.0 50.3h.65M176.1 43.0h.65M175.6 46.1h.65M170.2 49.7h.65M174.2 53.0h.65M171.4 37.5h.65M170.2 49.7h.65M171.0 47.3h.65M171.2 48.0h.65M170.9 46.4h.65M171.2 55.5h.65M174.7 33.2h.65M171.0 48.9h.65M172.1 37.8h.65M174.3 50.1h.65M170.7 53.5h.65M175.3 46.2h.65M170.7 46.3h.65M171.7 35.8h.65M172.3 56.0h.65M170.0 51.7h.65M173.1 33.8h.65M171.8 35.6h.65M173.8 55.2h.65M176.3 33.9h.65M171.8 53.7h.65M171.8 55.9h.65M171.7 36.9h.65M176.3 43.1h.65M177.5 37.1h.65M171.6 51.3h.65M176.9 37.5h.65M173.8 51.5h.65M170.8 60.1h.65M170.8 52.6h.65M171.0 44.7h.65M172.5 51.1h.65M176.5 34.3h.65M171.6 49.2h.65M172.1 51.7h.65M173.9 55.7h.65M176.5 43.5h.65M175.8 46.1h.65M172.4 34.5h.65M172.0 54.8h.65M173.1 56.5h.65M177.0 36.1h.65M174.0 34.0h.65M173.0 55.3h.65M171.0 57.1h.65M176.7 41.9h.65M172.5 55.6h.65M173.7 33.8h.65M172.0 53.8h.65M170.9 53.0h.65M173.2 34.7h.65M171.4 56.6h.65M177.5 39.3h.65M175.8 45.7h.65M175.3 46.4h.65M177.1 35.7h.65M172.3 55.3h.65M173.9 51.3h.65M173.1 53.9h.65M173.1 53.4h.65M171.1 55.8h.65M174.7 50.1h.65M170.9 52.9h.65M176.1 41.2h.65M176.0 40.7h.65M171.0 53.3h.65M171.5 44.7h.65M172.7 33.9h.65M174.7 32.8h.65M177.0 34.3h.65M170.3 48.7h.65M171.2 35.5h.65M176.2 46.1h.65M177.1 36.4h.65M171.7 37.9h.65M174.5 50.3h.65M171.3 48.3h.65M175.6 46.4h.65M171.1 55.1h.65M175.1 49.4h.65M170.9 36.7h.65" stroke="rgb(57, 177, 138)" stroke-width=".65" stroke-opacity="0.9"/>
<path d="M172.0 36.6h.65M172.7 56.7h.65M176.0 42.1h.65M172.6 51.0h.65M173.0 55.4h.65M174.7 50.7h.65M176.4 35.8h.65M171.9 51.1h.65M172.8 51.7h.65M171.0 50.4h.65M171.6 43.3h.65M173.1 50.9h.65M172.1 53.0h.65M176.2 34.9h.65M171.4 51.5h.65M171.7 39.7h.65M171.6 51.2h.65M176.3 42.5h.65M174.0 50.4h.65M172.3 52.3h.65M173.9 48.7h.65M172.5 52.4h.65M171.0 51.3h.65M171.8 38.1h.65M172.7 55.4h.65M172.1 53.7h.65M172.2 52.1h.65M171.7 48.6h.65M172.9 34.3h.65M172.5 34.3h.65M172.2 35.8h.65M175.7 44.6h.65M174.2 49.5h.65M172.5 39.8h.65M171.8 52.3h.65M172.2 54.6h.65M172.2 52.4h.65M177.3 38.5h.65M174.2 49.9h.65M171.7 50.2h.65M175.5 42.9h.65M172.0 49.8h.65M171.6 56.1h.65M171.8 47.3h.65M175.4 44.3h.65M172.0 36.8h.65M172.6 52.5h.65M172.2 53.6h.65M171.7 49.9h.65M171.2 41.9h.65M171.5 45.0h.65M171.1 42.5h.65M172.4 52.8h.65M175.8 43.8h.65M171.6 34.9h.65M171.3 54.3h.65M171.8 49.6h.65M176.2 45.7h.65M176.3 40.7h.65M174.5 48.8h.65M171.8 37.4h.65M171.4 39.8h.65M174.8 49.2h.65M175.1 50.7h.65M173.4 53.3h.65M175.5 34.2h.65M172.9 50.4h.65M171.9 52.5h.65M174.9 48.1h.65M171.6 53.9h.65M171.6 42.4h.65M171.4 42.9h.65M171.3 38.8h.65M176.6 39.6h.65M172.1 49.6h.65M172.8 56.0h.65M173.0 55.5h.65M172.8 56.6h.65M173.5 50.8h.65M172.1 35.6h.65M172.5 52.1h.65M175.2 34.1h.65M172.4 56.0h.65M173.7 54.2h.65M175.4 47.0h.65M171.9 37.2h.65M176.5 38.2h.65M172.5 55.5h.65M171.9 36.5h.65M172.2 54.0h.65M171.9 54.5h.65M174.5 48.7h.65M174.4 34.3h.65M176.2 43.1h.65M171.9 52.4h.65M175.6 46.2h.65M171.7 42.7h.65M171.7 51.8h.65M172.4 50.4h.65M172.5 50.6h.65M176.0 34.2h.65M171.6 54.4h.65M172.9 55.0h.65M171.5 45.9h.65M172.6 34.7h.65M175.9 42.4h.65M172.0 50.2h.65M176.5 34.4h.65M176.3 35.8h.65M172.7 50.7h.65M172.6 53.3h.65M171.4 56.0h.65M176.5 38.3h.65M171.5 50.4h.65M173.6 53.5h.65M172.0 55.9h.65M175.8 44.4h.65M171.0 44.2h.65M175.2 47.2h.65M175.5 43.2h.65M174.6 47.8h.65M171.1 44.3h.65M170.8 49.2h.65M174.2 49.7h.65M173.8 50.0h.65M175.3 33.8h.65M176.6 33.9h.65M172.6 54.4h.65M173.8 50.4h.65M170.4 50.1h.65M171.7 53.1h.65M172.0 37.2h.65M174.8 51.1h.65M175.5 46.8h.65M175.1 33.5h.65M171.4 53.2h.65M174.3 49.0h.65M172.1 44.7h.65M172.5 52.6h.65M174.7 47.1h.65M171.9 41.4h.65M171.7 49.7h.65M172.4 55.8h.65M172.0 40.2h.65M171.8 51.8h.65M173.9 50.5h.65M172.5 50.4h.65M174.8 33.4h.65M175.2 33.6h.65M172.9 52.7h.65M171.9 35.7h.65M176.7 39.2h.65M171.2 47.5h.65M171.3 51.8h.65M172.8 51.1h.65M171.6 43.4h.65M171.0 51.8h.65M174.4 48.9h.65M173.2 52.3h.65M171.7 43.0h.65M170.9 52.5h.65M172.5 51.0h.65M176.0 36.1h.65M171.9 41.0h.65M171.4 46.8h.65M170.9 47.2h.65M175.8 44.0h.65M170.9 46.3h.65M173.3 51.7h.65M171.9 50.5h.65M172.7 55.2h.65M174.0 50.3h.65M174.5 48.1h.65M176.6 38.6h.65M175.3 48.1h.65M171.6 36.8h.65M175.8 42.3h.65M172.2 34.0h.65M173.4 35.2h.65M172.8 54.5h.65" stroke="rgb(88, 187, 92)" stroke-width=".65" stroke-opacity="0.9"/>
<path d="M175.3 44.6h.65M176.1 41.9h.65M172.6 49.8h.65M174.0 47.4h.65M173.6 48.2h.65M172.1 48.8h.65M172.1 48.4h.65M173.5 51.7h.65M171.9 51.4h.65M176.5 35.7h.65M176.4 35.6h.65M175.3 46.7h.65M173.2 48.2h.65M174.5 33.9h.65M174.0 49.6h.65M170.9 50.2h.65M174.9 47.8h.65M173.9 48.5h.65M174.6 48.5h.65M171.6 39.3h.65M175.4 34.1h.65M172.4 55.1h.65M171.2 53.0h.65M171.7 50.9h.65M174.8 47.5h.65M172.6 51.3h.65M175.5 43.6h.65M171.5 53.8h.65M172.3 48.9h.65M173.2 51.7h.65M174.0 50.1h.65M176.5 38.1h.65M171.6 46.4h.65M174.9 47.6h.65M176.1 38.1h.65M171.6 38.7h.65M176.0 34.6h.65M171.7 42.7h.65M175.1 45.1h.65M172.2 46.6h.65M175.7 34.1h.65M176.0 35.1h.65M173.2 48.9h.65M171.5 47.5h.65M172.4 48.5h.65M172.5 48.4h.65M171.1 48.1h.65M172.6 36.9h.65M172.9 50.2h.65M171.9 36.7h.65M172.9 34.8h.65M171.7 46.5h.65M171.6 53.0h.65M176.9 37.7h.65M172.1 46.1h.65M176.0 40.2h.65M172.6 51.2h.65M174.8 47.8h.65M172.5 54.3h.65M175.5 41.5h.65M174.0 48.2h.65M172.2 46.4h.65M172.5 36.3h.65M172.5 50.1h.65M172.4 51.5h.65M172.1 37.8h.65M173.2 35.3h.65M171.8 43.1h.65M174.6 45.8h.65M172.0 36.7h.65M171.9 40.4h.65M172.9 34.6h.65M175.9 39.9h.65M174.3 51.3h.65M171.5 42.7h.65M174.7 47.5h.65M172.4 38.1h.65M175.5 42.0h.65M175.6 41.8h.65M172.5 55.0h.65M172.0 45.0h.65M172.0 44.0h.65M173.0 36.1h.65M171.5 50.9h.65M176.2 39.3h.65M173.1 36.7h.65M172.0 43.1h.65M174.6 34.4h.65M172.4 38.1h.65M174.5 47.0h.65M172.6 37.1h.65M171.6 55.0h.65M171.2 45.5h.65M172.4 48.3h.65M171.8 48.2h.65M174.0 34.2h.65M172.1 48.3h.65M175.9 41.3h.65M174.6 46.7h.65M173.9 50.2h.65M174.4 34.6h.65M175.3 40.0h.65M175.9 34.9h.65M174.6 49.0h.65M171.6 51.7h.65M171.9 54.9h.65M172.2 53.2h.65M174.1 49.0h.65M172.2 38.2h.65M176.4 38.8h.65M172.7 49.6h.65M176.9 38.9h.65M176.2 38.0h.65M175.9 40.3h.65M176.3 40.7h.65M171.6 41.8h.65M172.3 40.6h.65M175.4 35.8h.65M175.7 42.0h.65M173.5 51.8h.65M173.3 50.1h.65M172.8 47.8h.65M174.8 34.1h.65M172.1 39.3h.65M174.5 34.0h.65M172.1 41.1h.65M170.6 42.8h.65M174.6 34.1h.65M174.9 48.5h.65M175.2 47.7h.65M173.1 49.6h.65M175.0 45.5h.65M173.3 51.2h.65M171.7 43.6h.65M172.0 42.2h.65M171.7 50.6h.65M172.6 52.6h.65M172.3 51.0h.65M173.2 35.8h.65M175.4 44.9h.65M171.3 45.1h.65M171.4 52.0h.65M171.8 51.7h.65M176.1 41.5h.65M171.7 50.0h.65M171.6 46.3h.65M172.1 35.9h.65M173.4 50.7h.65M171.9 41.7h.65M172.9 34.8h.65M176.4 36.0h.65M171.8 50.5h.65M175.8 35.1h.65M176.2 36.4h.65M172.2 44.3h.65M175.0 47.1h.65M174.1 47.5h.65M172.3 54.5h.65M175.6 35.1h.65M173.5 53.5h.65M175.0 46.1h.65M172.9 52.3h.65M173.0 46.8h.65M172.8 35.4h.65M171.4 42.0h.65" stroke="rgb(125, 197, 57)" stroke-width=".65" stroke-opacity="0.9"/>
<path d="M175.8 39.8h.65M174.6 48.8h.65M172.7 51.3h.65M176.6 35.2h.65M173.6 35.8h.65M176.0 41.8h.65M176.1 36.8h.65M176.0 35.8h.65M176.0 38.5h.65M172.9 50.3h.65M173.5 50.0h.65M174.4 34.5h.65M174.8 46.0h.65M173.5 47.6h.65M174.3 45.3h.65M173.0 47.4h.65M173.3 47.9h.65M172.8 45.7h.65M175.4 42.1h.65M172.1 46.2h.65M173.4 49.9h.65M172.1 42.1h.65M175.7 41.4h.65M173.2 50.5h.65M173.5 48.8h.65M172.4 45.4h.65M172.1 48.5h.65M172.0 43.0h.65M175.4 44.6h.65M172.1 42.4h.65M172.0 39.2h.65M172.9 40.5h.65M172.1 43.2h.65M176.0 40.3h.65M173.7 47.9h.65M172.7 38.4h.65M174.1 46.0h.65M175.8 39.9h.65M174.1 34.9h.65M175.8 38.8h.65M172.1 48.6h.65M172.6 46.5h.65M175.8 35.1h.65M173.9 47.8h.65M172.9 48.4h.65M175.7 35.6h.65M172.4 49.3h.65M172.8 38.7h.65M176.1 40.7h.65M176.3 35.1h.65M175.3 42.9h.65M175.3 42.8h.65M172.0 44.1h.65M176.0 36.4h.65M172.7 48.7h.65M174.1 34.6h.65M172.4 45.3h.65M175.0 44.6h.65M174.0 46.0h.65M175.5 42.3h.65M174.4 47.8h.65M175.7 38.3h.65M173.0 51.3h.65M172.5 37.6h.65M174.8 34.6h.65M176.3 38.8h.65M173.3 50.0h.65M171.6 40.7h.65M172.6 50.6h.65M172.4 39.3h.65M172.3 37.6h.65M176.0 36.7h.65M172.7 49.7h.65M172.4 47.6h.65M175.9 39.0h.65M173.3 49.1h.65M173.8 46.8h.65M174.6 46.4h.65M173.5 48.7h.65M173.1 39.1h.65M173.7 35.5h.65M175.3 39.7h.65M172.1 43.1h.65M172.8 52.2h.65M171.6 42.3h.65M175.5 43.9h.65M175.6 39.4h.65M171.5 49.8h.65M174.7 45.6h.65M172.6 51.5h.65M173.8 49.5h.65M175.7 42.3h.65M173.3 37.6h.65M171.4 51.9h.65M172.7 37.3h.65M174.9 45.9h.65M172.2 45.7h.65M174.4 35.6h.65M174.8 46.6h.65M173.1 52.0h.65M175.2 43.6h.65M173.1 47.9h.65M176.2 36.5h.65M174.2 47.3h.65M175.0 45.1h.65M172.3 52.7h.65M171.9 50.4h.65M172.0 48.0h.65M176.0 36.8h.65M172.4 47.2h.65M176.4 38.6h.65M172.1 43.4h.65M171.9 48.2h.65M171.9 46.4h.65M172.4 36.2h.65M173.4 49.0h.65M172.6 51.8h.65M172.0 42.5h.65M173.9 46.7h.65M175.7 41.2h.65M175.7 36.3h.65M172.0 46.5h.65M173.1 51.7h.65M175.5 41.1h.65M172.8 42.2h.65M173.4 46.3h.65M173.6 35.5h.65" stroke="rgb(175, 204, 47)" stroke-width=".65" stroke-opacity="0.9"/>
<path d="M172.3 36.9h.65M175.5 40.2h.65M172.3 46.7h.65M173.2 48.5h.65M172.5 47.7h.65M174.3 46.3h.65M172.9 40.6h.65M173.7 49.5h.65M173.6 45.6h.65M175.5 43.6h.65M172.7 37.7h.65M175.3 43.4h.65M173.6 44.2h.65M174.2 47.7h.65M175.8 36.4h.65M172.6 45.6h.65M173.3 47.9h.65M175.9 34.9h.65M172.7 38.7h.65M175.6 34.7h.65M172.5 45.2h.65M173.8 35.9h.65M174.3 46.2h.65M172.5 50.0h.65M172.6 42.6h.65M175.0 42.8h.65M175.7 42.0h.65M172.8 48.6h.65M173.0 44.3h.65M174.8 35.1h.65M173.1 38.7h.65M173.6 35.5h.65M172.6 43.6h.65M172.7 41.2h.65M173.8 47.0h.65M172.7 46.0h.65M173.0 47.8h.65M173.9 35.6h.65M173.5 37.6h.65M174.9 46.7h.65M173.6 47.1h.65M173.0 47.5h.65M173.1 44.9h.65M173.1 40.8h.65M175.5 35.6h.65M175.2 43.7h.65M172.4 46.7h.65M172.1 43.1h.65M173.5 45.6h.65M173.0 36.6h.65M175.4 42.9h.65M174.0 36.6h.65M173.1 48.1h.65M172.9 41.1h.65M175.7 39.4h.65M172.5 52.2h.65M175.6 41.9h.65M173.9 36.0h.65M172.7 47.1h.65M175.0 35.2h.65M172.6 39.4h.65M172.9 46.7h.65M175.9 37.0h.65M173.6 46.5h.65M173.8 46.5h.65M172.4 46.8h.65M172.6 45.3h.65M175.7 37.8h.65M175.5 42.8h.65M173.2 36.9h.65M172.9 48.6h.65M173.8 47.0h.65M171.9 46.5h.65M175.4 38.3h.65M172.4 46.7h.65M172.2 46.0h.65M174.9 45.0h.65M175.9 36.3h.65M172.9 41.8h.65M175.5 40.6h.65M175.2 41.3h.65M173.4 35.7h.65M172.2 48.1h.65M172.5 43.4h.65M173.2 39.2h.65M174.0 47.3h.65M173.1 48.5h.65M173.9 47.0h.65M174.6 44.8h.65M175.0 35.0h.65M176.3 36.8h.65M174.9 43.3h.65M172.1 50.1h.65M174.6 34.6h.65M173.3 46.0h.65M172.9 47.8h.65M172.2 49.9h.65M175.5 39.9h.65M172.2 44.1h.65M174.6 46.2h.65M173.2 37.6h.65M175.3 42.3h.65M174.9 44.7h.65M172.9 46.3h.65M173.0 46.0h.65M175.1 42.3h.65M176.1 38.4h.65M173.9 35.9h.65M174.9 38.4h.65M172.9 40.1h.65M175.9 39.8h.65M173.6 45.3h.65M172.7 40.3h.65M175.8 34.8h.65M174.5 43.7h.65M172.5 43.6h.65M172.9 47.8h.65M172.3 49.4h.65M175.7 39.3h.65M172.5 44.1h.65M172.8 39.2h.65M171.9 47.0h.65M175.2 42.0h.65M173.0 40.3h.65M172.8 45.8h.65" stroke="rgb(217, 204, 39)" stroke-width=".65" stroke-opacity="0.9"/>
<path d="M175.8 37.2h.65M173.0 38.2h.65M173.0 46.5h.65M173.8 44.7h.65M173.6 36.5h.65M172.9 37.3h.65M175.6 42.9h.65M174.3 44.2h.65M175.4 39.1h.65M173.6 42.8h.65M172.6 46.9h.65M175.4 36.3h.65M173.1 43.9h.65M175.5 36.4h.65M174.8 44.5h.65M173.6 38.5h.65M173.5 40.2h.65M174.7 41.9h.65M173.5 39.9h.65M175.7 37.0h.65M173.7 46.6h.65M172.8 40.4h.65M174.5 42.4h.65M173.6 36.4h.65M173.0 45.6h.65M173.1 37.4h.65M172.7 44.0h.65M175.0 41.1h.65M172.4 40.5h.65M173.8 43.0h.65M174.2 43.8h.65M172.6 44.7h.65M173.8 38.5h.65M174.4 36.4h.65M174.1 36.2h.65M174.2 44.4h.65M175.4 37.1h.65M172.8 38.0h.65M172.7 46.8h.65M173.2 48.3h.65M172.8 40.8h.65M174.4 45.2h.65M173.9 35.9h.65M174.8 44.3h.65M172.7 38.1h.65M174.8 43.2h.65M175.1 41.8h.65M173.3 46.3h.65M172.8 39.8h.65M174.7 43.9h.65M175.7 40.0h.65M175.2 40.6h.65M175.0 42.1h.65M173.2 38.6h.65M174.7 44.8h.65M173.4 37.9h.65M173.6 40.6h.65M173.0 44.2h.65M173.3 43.1h.65M174.6 44.1h.65M173.5 36.9h.65M173.7 45.4h.65M174.2 36.0h.65M173.1 40.0h.65M174.5 36.2h.65M173.7 43.7h.65M173.6 35.9h.65M173.5 44.5h.65M172.6 44.4h.65M173.0 41.6h.65M174.2 38.6h.65M174.8 41.4h.65M175.4 42.5h.65M175.3 37.6h.65M174.5 40.9h.65M173.1 41.8h.65M175.4 37.5h.65M174.6 43.4h.65M174.7 36.8h.65M175.0 38.2h.65M173.0 42.6h.65M173.3 36.5h.65M172.5 47.9h.65M174.1 44.2h.65M175.3 38.4h.65M175.1 40.4h.65M173.5 44.1h.65M175.3 39.1h.65M175.1 38.6h.65M173.8 45.2h.65M173.0 39.1h.65M173.7 36.8h.65M174.9 42.8h.65M173.4 39.8h.65M173.3 45.5h.65M173.8 36.2h.65M174.6 43.7h.65M174.7 43.6h.65M174.0 44.4h.65M174.6 45.6h.65M174.5 42.6h.65M174.5 45.8h.65M174.6 42.2h.65M173.7 35.3h.65M173.1 38.6h.65M173.0 44.8h.65M173.0 39.7h.65M172.8 45.6h.65M172.8 41.2h.65M175.0 36.3h.65M175.4 40.3h.65M173.1 42.6h.65M174.5 38.9h.65M174.5 46.2h.65M172.3 48.3h.65M172.8 40.0h.65M175.1 35.6h.65M173.1 40.9h.65M174.7 44.6h.65M174.5 46.2h.65M173.4 44.6h.65M174.6 43.0h.65M173.2 43.9h.65M173.7 46.7h.65M174.8 42.2h.65" stroke="rgb(232, 175, 34)" stroke-width=".65" stroke-opacity="0.9"/>
<path d="M172.6 43.2h.65M173.2 43.5h.65M173.9 42.0h.65M174.1 36.7h.65M173.4 46.0h.65M174.4 43.0h.65M174.3 43.6h.65M173.2 42.6h.65M173.7 44.4h.65M173.6 36.9h.65M174.3 43.1h.65M173.7 38.7h.65M173.2 39.4h.65M173.9 40.8h.65M174.9 41.5h.65M175.1 35.4h.65M174.6 37.2h.65M175.3 37.4h.65M174.5 40.3h.65M173.3 43.2h.65M174.8 42.1h.65M173.3 42.1h.65M173.1 42.7h.65M174.8 39.9h.65M173.9 43.6h.65M173.3 45.7h.65M174.4 41.4h.65M174.1 42.9h.65M175.5 40.8h.65M173.6 43.7h.65M174.6 42.5h.65M173.0 44.2h.65M174.2 36.3h.65M175.2 37.8h.65M172.9 44.0h.65M173.3 44.8h.65M173.4 45.3h.65M173.3 45.2h.65M174.4 42.8h.65M173.5 47.6h.65M173.6 45.8h.65M173.9 41.0h.65M175.1 42.2h.65M175.1 39.1h.65M173.8 40.2h.65M173.3 40.4h.65M174.8 39.2h.65M174.7 36.1h.65M173.8 37.2h.65M173.1 45.6h.65M173.4 36.9h.65M173.6 44.2h.65M173.3 42.6h.65M175.1 37.5h.65M173.4 40.9h.65M174.5 37.1h.65M174.3 43.4h.65M174.6 35.2h.65M172.7 45.5h.65M173.1 45.4h.65M173.8 45.1h.65M175.2 36.9h.65M174.6 43.5h.65M173.5 40.9h.65M173.4 36.7h.65M175.3 38.5h.65M174.8 41.7h.65M174.3 38.4h.65M174.4 37.9h.65M175.5 38.6h.65M173.3 46.3h.65M174.5 44.2h.65M173.9 37.1h.65M173.8 39.8h.65M173.5 42.5h.65M173.7 40.0h.65M175.2 41.5h.65M174.7 38.7h.65M173.8 46.5h.65M173.3 40.9h.65M174.7 43.3h.65M173.7 39.6h.65M175.0 38.4h.65M173.6 43.7h.65M173.7 38.2h.65M173.8 44.2h.65M175.8 37.9h.65M172.7 45.2h.65M173.4 46.2h.65M174.6 44.7h.65M174.7 42.8h.65M174.3 42.2h.65M174.2 35.7h.65M173.1 40.1h.65M174.2 39.0h.65M173.0 41.6h.65M173.8 44.4h.65M174.0 45.8h.65M174.4 46.0h.65M173.8 37.9h.65M173.5 45.1h.65M173.1 39.3h.65M174.0 42.3h.65M172.7 43.8h.65M175.2 37.5h.65M172.8 40.4h.65M174.4 42.2h.65" stroke="rgb(244, 146, 30)" stroke-width=".65" stroke-opacity="0.9"/>
<path d="M175.1 40.5h.65M173.2 44.7h.65M175.2 36.8h.65M173.9 40.3h.65M174.1 39.2h.65M174.5 44.1h.65M174.4 40.4h.65M173.4 45.1h.65M173.2 47.3h.65M173.7 38.5h.65M174.7 44.4h.65M173.3 45.0h.65M173.9 42.8h.65M174.1 42.5h.65M175.0 39.6h.65M174.0 41.8h.65M175.0 39.1h.65M174.2 43.6h.65M173.6 39.8h.65M174.0 38.6h.65M174.4 38.9h.65M175.0 36.3h.65M173.6 39.2h.65M173.2 45.4h.65M174.8 41.5h.65M173.6 42.7h.65M173.5 41.0h.65M174.2 36.2h.65M174.2 42.3h.65M174.7 40.6h.65M174.7 38.6h.65M174.0 43.5h.65M173.1 44.3h.65M174.5 40.0h.65M174.5 36.3h.65M173.7 45.6h.65M173.5 44.3h.65M174.6 39.0h.65M174.5 36.8h.65M173.9 39.0h.65M174.8 41.5h.65M174.1 41.7h.65M174.6 41.7h.65M173.2 42.3h.65M174.4 40.0h.65M173.5 42.2h.65M173.6 43.5h.65M174.2 44.6h.65M174.2 39.6h.65M175.2 36.9h.65M173.6 42.9h.65M173.4 46.2h.65M173.6 46.0h.65M174.5 38.2h.65M174.6 38.8h.65M175.0 36.8h.65M173.8 41.9h.65M173.8 42.5h.65M175.1 39.2h.65M173.7 40.0h.65M173.9 39.0h.65M174.3 41.4h.65M173.6 45.9h.65M173.6 44.3h.65M173.6 42.9h.65M174.1 38.9h.65" stroke="rgb(238, 108, 30)" stroke-width=".65" stroke-opacity="0.9"/>
<path d="M174.0 44.3h.65M174.3 36.7h.65M174.1 40.9h.65M175.2 38.0h.65M173.5 38.2h.65M174.2 41.5h.65M174.2 41.6h.65M173.7 41.6h.65M173.4 42.3h.65M174.4 39.9h.65M174.7 36.6h.65M174.7 38.4h.65M174.5 37.6h.65M174.2 39.6h.65M174.7 38.6h.65M174.3 39.2h.65M174.8 41.6h.65M173.9 42.4h.65M174.4 39.8h.65M174.6 43.0h.65M173.4 42.2h.65" stroke="rgb(232, 70, 30)" stroke-width=".65" stroke-opacity="0.9"/>
<rect x="129.00" y="27.70" width="65.40" height="66.60" fill="none" stroke="#777" stroke-width="0.8"/>
<line x1="129.00" y1="27.70" x2="129.00" y2="94.30" stroke="#333" stroke-width="0.9"/>
<line x1="129.00" y1="94.30" x2="194.40" y2="94.30" stroke="#444" stroke-width="0.8"/>
<rect x="165.50" y="29.40" width="19.90" height="33.90" fill="none" stroke="#222" stroke-width="0.9"/>
<rect x="135.50" y="66.20" width="51.90" height="24.10" fill="none" stroke="#222" stroke-width="0.9"/>
<text x="147.80" y="21.00" font-size="8.1" fill="#333" text-anchor="start" textLength="28.2" lengthAdjust="spacingAndGlyphs">CLPBg1</text>
<text x="143.80" y="39.50" font-size="7.2" fill="#333" text-anchor="start" textLength="17.2" lengthAdjust="spacingAndGlyphs">55.0%</text>
<text x="136.50" y="61.80" font-size="7.2" fill="#333" text-anchor="start" textLength="17.3" lengthAdjust="spacingAndGlyphs">41.4%</text>
<text x="127.10" y="31.90" font-size="4.5" fill="#444" text-anchor="end">10<tspan font-size="3" dy="-1.8">5</tspan></text>
<line x1="127.50" y1="30.30" x2="129.00" y2="30.30" stroke="#333" stroke-width="0.8"/>
<text x="127.10" y="41.10" font-size="4.5" fill="#444" text-anchor="end">10<tspan font-size="3" dy="-1.8">4</tspan></text>
<line x1="127.50" y1="39.50" x2="129.00" y2="39.50" stroke="#333" stroke-width="0.8"/>
<text x="127.10" y="51.90" font-size="4.5" fill="#444" text-anchor="end">10<tspan font-size="3" dy="-1.8">3</tspan></text>
<line x1="127.50" y1="50.30" x2="129.00" y2="50.30" stroke="#333" stroke-width="0.8"/>
<text x="127.10" y="63.20" font-size="4.5" fill="#444" text-anchor="end">10<tspan font-size="3" dy="-1.8">2</tspan></text>
<line x1="127.50" y1="61.60" x2="129.00" y2="61.60" stroke="#333" stroke-width="0.8"/>
<text x="127.10" y="78.40" font-size="4.5" fill="#444" text-anchor="end">0</text>
<line x1="127.50" y1="76.80" x2="129.00" y2="76.80" stroke="#333" stroke-width="0.8"/>
<text x="127.10" y="94.10" font-size="4.5" fill="#444" text-anchor="end">-10<tspan font-size="3" dy="-1.8">2</tspan></text>
<line x1="127.50" y1="92.50" x2="129.00" y2="92.50" stroke="#333" stroke-width="0.8"/>
<text x="145.60" y="101.80" font-size="4.5" fill="#444" text-anchor="middle">0</text>
<line x1="145.60" y1="94.30" x2="145.60" y2="95.60" stroke="#333" stroke-width="0.8"/>
<text x="162.50" y="101.80" font-size="4.5" fill="#444" text-anchor="middle">10<tspan font-size="3" dy="-1.8">3</tspan></text>
<line x1="162.50" y1="94.30" x2="162.50" y2="95.60" stroke="#333" stroke-width="0.8"/>
<text x="173.80" y="101.80" font-size="4.5" fill="#444" text-anchor="middle">10<tspan font-size="3" dy="-1.8">4</tspan></text>
<line x1="173.80" y1="94.30" x2="173.80" y2="95.60" stroke="#333" stroke-width="0.8"/>
<text x="186.00" y="101.80" font-size="4.5" fill="#444" text-anchor="middle">10<tspan font-size="3" dy="-1.8">5</tspan></text>
<line x1="186.00" y1="94.30" x2="186.00" y2="95.60" stroke="#333" stroke-width="0.8"/>
<text x="192.80" y="101.80" font-size="4.5" fill="#444" text-anchor="middle">10<tspan font-size="3" dy="-1.8">5</tspan></text>
<line x1="192.80" y1="94.30" x2="192.80" y2="95.60" stroke="#333" stroke-width="0.8"/>
<text x="116.00" y="60.90" font-size="3.6" fill="#444" text-anchor="middle" textLength="50.9" lengthAdjust="spacingAndGlyphs" transform="rotate(-90 116.00 60.90)">Comp-R1-A :: CD16-R-PE-A</text>
<path d="M128.1 58.20h0.9M128.1 56.21h0.9M128.1 54.80h0.9M128.1 53.70h0.9M128.1 52.81h0.9M128.1 52.05h0.9M128.1 51.40h0.9M128.1 50.82h0.9M128.1 47.05h0.9M128.1 45.15h0.9M128.1 43.80h0.9M128.1 42.75h0.9M128.1 41.90h0.9M128.1 41.17h0.9M128.1 40.55h0.9M128.1 39.99h0.9M128.1 36.73h0.9M128.1 35.11h0.9M128.1 33.96h0.9M128.1 33.07h0.9M128.1 32.34h0.9M128.1 31.73h0.9M128.1 31.19h0.9M128.1 30.72h0.9M128.1 66.00h0.9M128.1 70.00h0.9M128.1 73.50h0.9M128.1 80.00h0.9M128.1 83.50h0.9M128.1 87.00h0.9M165.90 94.3v0.9M167.89 94.3v0.9M169.30 94.3v0.9M170.40 94.3v0.9M171.29 94.3v0.9M172.05 94.3v0.9M172.70 94.3v0.9M173.28 94.3v0.9M177.47 94.3v0.9M179.62 94.3v0.9M181.15 94.3v0.9M182.33 94.3v0.9M183.29 94.3v0.9M184.11 94.3v0.9M184.82 94.3v0.9M185.44 94.3v0.9M136.00 94.3v0.9M139.00 94.3v0.9M141.50 94.3v0.9M143.00 94.3v0.9M144.30 94.3v0.9M147.00 94.3v0.9M148.30 94.3v0.9M150.00 94.3v0.9M152.50 94.3v0.9M155.50 94.3v0.9M158.50 94.3v0.9M160.50 94.3v0.9" stroke="#333" stroke-width="0.6"/>
<g filter="url(#fb)" transform="translate(257.50 47.20) rotate(9) translate(-257.50 -47.20)"><ellipse cx="257.50" cy="46.70" rx="5.2" ry="15" fill="rgb(60,150,190)" opacity="0.55"/><ellipse cx="257.80" cy="45.20" rx="3.6" ry="12.5" fill="rgb(100,190,80)" opacity="0.75"/><ellipse cx="258.10" cy="41.70" rx="1.6" ry="6.5" fill="rgb(235,150,35)" opacity="0.8"/></g>
<path d="M265.1 32.3h.65M249.1 33.8h.65M260.4 29.3h.65M249.8 29.8h.65M252.4 63.6h.65M251.7 46.3h.65M261.3 59.1h.65M253.0 38.4h.65M251.4 37.9h.65M249.6 37.1h.65M252.3 44.1h.65M263.5 33.2h.65M260.4 29.3h.65M249.3 31.2h.65M262.9 29.3h.65M256.3 29.5h.65M263.8 47.3h.65M264.7 38.7h.65M252.8 34.6h.65M258.4 31.0h.65M259.1 61.2h.65M262.0 48.3h.65M255.3 63.8h.65M250.5 45.2h.65M264.3 30.9h.65M252.3 36.7h.65M250.9 32.4h.65M260.0 61.8h.65M252.1 60.8h.65M264.0 31.9h.65M263.0 49.3h.65M263.4 47.7h.65M263.8 29.4h.65M260.4 30.3h.65M263.0 52.3h.65M255.4 29.8h.65M259.3 60.2h.65M259.8 30.3h.65M251.2 36.7h.65M253.3 50.9h.65M259.3 30.9h.65M253.7 35.9h.65M260.6 57.9h.65M251.1 55.6h.65M263.5 51.7h.65M251.9 40.1h.65M265.1 49.1h.65M265.6 48.0h.65M249.6 42.5h.65M263.7 41.3h.65M251.8 57.5h.65M252.7 47.3h.65M260.5 30.0h.65M252.4 53.2h.65M260.8 55.9h.65M252.1 53.9h.65M260.5 61.8h.65M252.5 41.3h.65M263.4 51.0h.65M264.1 43.3h.65M262.5 43.9h.65M249.4 46.8h.65M251.6 36.2h.65M266.3 33.7h.65M252.5 36.8h.65M255.8 64.2h.65M264.8 50.9h.65M250.3 36.7h.65M256.4 29.5h.65M261.6 53.6h.65M251.5 52.3h.65M251.5 59.5h.65M260.5 62.0h.65M262.6 30.0h.65M262.2 53.9h.65M250.2 54.1h.65M252.7 63.1h.65M252.1 62.5h.65M254.3 65.6h.65M262.8 52.3h.65M250.7 49.7h.65M251.3 32.6h.65M252.6 60.9h.65M251.8 64.2h.65M264.7 32.0h.65M250.2 55.1h.65M251.5 52.4h.65M265.3 32.3h.65M259.9 29.1h.65M251.6 55.3h.65M250.9 39.0h.65M252.0 33.5h.65M251.9 39.2h.65M254.8 31.7h.65M250.8 34.2h.65M252.4 64.5h.65M252.2 56.0h.65M262.7 53.1h.65M263.1 48.2h.65M263.5 56.3h.65M252.9 65.3h.65M260.3 59.0h.65M265.8 36.6h.65M262.9 47.0h.65M252.5 48.0h.65M252.5 47.9h.65M264.3 49.7h.65M251.5 48.1h.65M263.5 46.8h.65M261.2 57.5h.65M261.5 29.9h.65M252.5 47.2h.65M263.8 43.1h.65M251.2 41.4h.65M252.3 46.1h.65M252.0 38.4h.65M252.0 42.2h.65M263.9 36.0h.65M262.9 46.5h.65M252.2 56.1h.65M258.8 62.4h.65M253.3 31.8h.65M263.4 44.0h.65M252.5 30.6h.65M263.2 49.7h.65M262.5 51.1h.65M262.6 57.3h.65M249.7 51.9h.65M250.8 47.9h.65M252.3 49.0h.65M251.2 37.3h.65M265.4 37.9h.65M250.3 36.1h.65M261.1 30.4h.65M260.2 66.3h.65M255.7 61.8h.65M259.0 70.1h.65M256.0 63.8h.65M253.0 67.9h.65M256.3 63.7h.65M257.5 62.6h.65M255.6 66.2h.65M255.6 70.0h.65M248.8 64.1h.65M255.6 64.7h.65M260.1 69.9h.65M253.7 69.7h.65M258.5 61.9h.65M253.3 71.2h.65M260.2 70.6h.65M258.3 64.3h.65M254.2 65.9h.65M253.5 69.6h.65M255.9 67.4h.65M245.3 69.5h.65M256.1 62.5h.65M258.4 61.8h.65M260.0 65.0h.65M257.2 68.9h.65M258.9 63.3h.65M257.3 64.0h.65M257.9 68.7h.65M250.6 64.5h.65M263.3 64.9h.65M256.9 63.7h.65M261.6 71.4h.65M258.9 61.8h.65M257.4 70.8h.65M257.3 66.9h.65M258.1 62.2h.65M258.6 66.4h.65M256.5 66.6h.65M253.1 68.0h.65M261.0 68.6h.65M255.8 71.3h.65M259.1 64.9h.65M255.7 68.2h.65M258.5 70.1h.65M256.6 66.6h.65M256.2 66.9h.65M252.7 63.5h.65M254.0 68.2h.65M252.1 62.6h.65M249.0 70.8h.65M256.1 67.6h.65M251.8 70.0h.65M259.4 64.8h.65M257.5 64.5h.65M252.7 63.6h.65M253.0 61.9h.65M252.8 66.7h.65M261.1 71.1h.65M259.5 70.9h.65M256.2 69.0h.65M259.1 63.0h.65M260.9 69.2h.65M263.2 68.2h.65M262.5 65.5h.65M259.6 68.3h.65M261.7 66.4h.65M254.9 64.0h.65M252.6 62.4h.65M254.8 63.1h.65M264.0 62.9h.65M256.7 66.0h.65M259.3 70.3h.65M256.0 64.2h.65M251.4 69.9h.65M260.9 67.4h.65M254.2 68.6h.65M254.9 64.8h.65M263.3 69.5h.65M253.9 70.7h.65M261.4 63.5h.65M260.6 71.6h.65M252.3 64.9h.65M260.4 62.1h.65M254.9 63.2h.65M253.1 65.5h.65M258.7 67.1h.65M254.4 68.3h.65M254.0 69.3h.65M250.0 89.1h.65M259.5 74.5h.65M219.9 66.9h.65M228.0 88.3h.65M247.2 78.6h.65M217.6 77.7h.65M252.9 76.7h.65M256.4 71.6h.65M229.0 79.7h.65M248.1 86.7h.65M227.0 76.1h.65M254.4 72.2h.65M244.6 70.7h.65M242.8 75.9h.65M257.0 77.1h.65M244.8 84.9h.65M253.4 72.6h.65M218.3 79.7h.65M223.1 75.6h.65M257.6 69.8h.65M222.4 72.6h.65M258.9 82.4h.65M226.5 78.7h.65M248.6 69.4h.65M258.5 70.3h.65M255.5 76.3h.65M249.7 84.4h.65M241.1 79.2h.65M221.0 81.1h.65M218.4 72.1h.65M245.6 81.9h.65M238.3 89.2h.65M240.2 78.9h.65M225.2 72.7h.65M255.9 88.7h.65M261.6 85.2h.65M251.0 81.5h.65M248.1 79.5h.65M226.5 86.9h.65M236.9 89.9h.65M242.9 68.8h.65M245.5 70.5h.65M239.1 73.2h.65M246.8 74.6h.65M220.6 91.1h.65M224.4 89.2h.65M246.5 85.1h.65M266.3 87.2h.65M229.4 73.4h.65M254.9 71.1h.65M251.3 81.7h.65M258.5 82.3h.65M219.9 74.4h.65M246.4 77.9h.65M240.6 82.0h.65M252.9 71.9h.65M225.3 87.6h.65M246.8 84.5h.65M248.5 71.3h.65M226.8 74.1h.65M231.9 73.0h.65M249.1 80.9h.65M252.9 82.4h.65M224.5 70.5h.65M230.4 70.7h.65M232.3 83.9h.65M244.8 75.5h.65M256.4 78.5h.65M249.3 87.7h.65M217.8 67.5h.65M251.7 76.1h.65M253.6 82.9h.65M242.8 68.3h.65M249.6 71.2h.65M253.7 88.4h.65M260.7 74.8h.65M240.4 84.1h.65M229.5 71.5h.65M219.3 71.5h.65M244.1 79.8h.65M252.5 84.4h.65M221.0 71.0h.65M219.0 69.3h.65M241.5 88.9h.65M230.8 78.3h.65M230.3 79.1h.65M219.9 78.6h.65M247.6 89.5h.65M242.7 89.3h.65M228.7 71.6h.65M268.7 84.4h.65M227.9 79.1h.65M217.9 70.3h.65M264.5 86.3h.65M220.3 91.0h.65M223.9 75.6h.65M221.7 82.1h.65M249.8 88.6h.65M248.5 73.2h.65M242.6 68.3h.65M223.6 82.9h.65M252.2 87.7h.65M267.5 74.2h.65M231.3 81.1h.65M226.6 73.2h.65M241.9 71.1h.65M252.5 76.2h.65M216.7 80.7h.65M218.0 74.5h.65M252.2 84.2h.65M247.0 87.5h.65M220.5 71.2h.65M219.9 91.0h.65M223.2 67.9h.65M248.9 86.8h.65M264.3 84.3h.65M248.3 73.9h.65M248.9 90.8h.65M258.8 71.7h.65M247.5 86.2h.65M268.2 69.7h.65M252.3 77.2h.65M241.1 84.2h.65M254.9 79.0h.65M217.3 76.9h.65M258.1 76.1h.65M245.0 81.6h.65M225.1 78.3h.65M247.3 77.0h.65M229.1 72.0h.65M229.5 68.3h.65M255.4 75.2h.65M262.2 75.6h.65M230.4 75.7h.65M245.7 80.2h.65M239.2 76.4h.65M221.1 82.2h.65M248.0 90.0h.65M246.2 81.6h.65M219.8 79.7h.65M261.4 83.1h.65M245.9 83.1h.65M226.9 74.1h.65M249.1 89.3h.65M259.2 88.6h.65M224.6 87.2h.65M224.1 86.6h.65M245.7 79.3h.65M226.2 90.6h.65M220.1 75.5h.65M224.9 76.3h.65M246.4 75.9h.65M265.4 77.5h.65M220.9 89.8h.65M222.7 90.0h.65M217.1 86.8h.65M252.7 82.0h.65M240.6 80.6h.65M218.0 77.5h.65M247.2 77.4h.65M239.9 84.6h.65M240.4 84.4h.65M261.6 72.5h.65M229.9 86.1h.65M220.9 74.5h.65M241.4 87.5h.65M242.4 76.5h.65M252.3 72.9h.65M249.8 81.4h.65M232.2 90.2h.65M227.7 84.2h.65M238.5 79.4h.65M221.8 87.4h.65M222.9 72.6h.65M233.4 66.6h.65M255.4 78.8h.65M249.8 81.4h.65M257.8 77.8h.65M241.0 82.0h.65M225.6 89.0h.65M251.0 91.0h.65M249.9 87.5h.65M262.5 83.7h.65M245.4 71.3h.65M239.1 81.3h.65M267.7 74.4h.65M250.0 71.2h.65M242.2 73.5h.65M253.2 77.1h.65M226.0 89.2h.65M238.6 85.0h.65M259.5 88.1h.65M229.1 69.4h.65M233.3 89.6h.65M247.9 80.9h.65M251.3 81.3h.65M247.8 75.4h.65M240.9 86.7h.65M251.5 80.0h.65M260.9 75.3h.65M225.3 79.9h.65M222.9 70.3h.65M256.7 74.3h.65M227.1 69.3h.65M227.3 80.9h.65M217.4 79.7h.65M249.1 68.7h.65M232.3 76.9h.65M223.5 78.2h.65M239.2 74.1h.65M220.2 91.0h.65M224.9 78.3h.65M240.3 82.1h.65M222.3 73.7h.65M266.8 86.8h.65M228.6 81.1h.65M244.9 86.5h.65M255.6 81.1h.65M243.6 79.1h.65M221.4 75.8h.65M240.7 71.7h.65M217.6 85.8h.65M244.6 80.0h.65M246.8 72.9h.65M222.6 78.5h.65M250.0 84.4h.65M246.8 68.9h.65M217.4 76.8h.65M241.4 70.0h.65M221.6 83.6h.65M251.3 80.9h.65M254.3 85.2h.65M261.6 85.3h.65M249.0 68.2h.65M221.1 83.8h.65M230.1 68.3h.65M246.2 81.5h.65M248.3 77.0h.65M249.4 78.2h.65M238.5 71.6h.65M257.4 82.4h.65M255.4 78.7h.65M230.0 83.9h.65M221.7 79.1h.65M227.4 79.2h.65M252.5 81.0h.65M228.4 81.2h.65M217.5 80.0h.65M242.9 76.6h.65M241.9 73.3h.65M227.1 67.6h.65M253.2 74.0h.65M225.7 89.5h.65M263.5 79.2h.65M217.3 68.6h.65M223.7 81.1h.65M261.5 80.1h.65M231.4 75.7h.65M253.4 75.2h.65M244.4 72.6h.65M218.5 74.8h.65M245.5 88.5h.65M247.0 85.3h.65M245.4 79.5h.65M223.7 70.6h.65M242.5 75.7h.65M248.0 75.3h.65M250.3 70.8h.65M247.8 81.3h.65M253.0 74.3h.65M226.7 80.5h.65M219.8 83.1h.65M259.0 73.6h.65M228.1 71.1h.65M222.2 69.8h.65M256.5 82.4h.65M255.8 82.3h.65M262.4 89.8h.65M222.6 78.6h.65M263.9 78.2h.65M240.7 81.8h.65M225.1 79.2h.65M225.6 72.0h.65M257.8 80.1h.65M223.0 67.9h.65M227.8 69.7h.65M226.8 82.7h.65M232.0 72.7h.65M217.3 87.2h.65M230.4 72.7h.65M229.1 74.3h.65M267.3 72.4h.65M217.8 68.9h.65M220.5 83.7h.65M230.6 67.1h.65M251.8 78.8h.65M219.4 82.3h.65M220.2 75.4h.65M229.8 88.7h.65M255.7 88.6h.65M240.2 81.7h.65M261.3 77.3h.65M217.4 81.5h.65M255.0 73.3h.65M229.6 89.1h.65M219.1 71.7h.65M244.5 85.7h.65M262.5 74.3h.65M252.3 76.2h.65M255.4 73.1h.65M223.3 89.8h.65M244.6 83.7h.65M217.5 86.3h.65M249.0 82.5h.65M253.7 84.1h.65M257.3 85.4h.65M217.0 84.8h.65M242.3 82.5h.65M222.9 69.8h.65M226.1 85.7h.65M218.8 88.9h.65M256.4 84.7h.65M244.4 85.0h.65M265.0 89.4h.65M224.9 83.9h.65M241.5 76.8h.65M219.3 86.5h.65M222.0 86.8h.65M259.3 74.3h.65M263.1 83.1h.65M230.5 88.2h.65M225.1 83.2h.65M265.5 73.6h.65M247.3 86.0h.65M249.6 70.7h.65M223.8 85.8h.65M252.9 75.5h.65M255.0 86.0h.65M229.3 81.8h.65M232.3 72.9h.65M223.9 79.3h.65M249.3 68.2h.65M249.8 87.9h.65M261.5 79.1h.65M221.8 86.7h.65M254.7 89.5h.65M251.4 80.1h.65M226.5 74.8h.65M225.9 69.1h.65M217.4 86.3h.65M228.5 73.8h.65M232.2 77.8h.65M248.7 74.8h.65M230.6 90.5h.65M233.0 91.1h.65M223.5 78.8h.65M230.6 71.7h.65M238.7 82.2h.65M237.2 85.3h.65M248.7 66.7h.65M247.6 89.2h.65M256.7 74.4h.65M218.1 80.4h.65M227.4 87.8h.65M226.5 78.1h.65M221.5 90.3h.65M252.2 86.8h.65M247.4 88.9h.65M244.7 89.2h.65M221.5 77.8h.65M227.5 70.0h.65M262.0 82.9h.65M244.1 76.5h.65M224.4 80.8h.65M255.3 80.2h.65M259.0 88.2h.65M226.7 71.6h.65M244.9 73.9h.65M220.9 69.2h.65M243.1 69.5h.65M219.1 89.9h.65M220.2 72.8h.65M243.0 71.9h.65M242.9 81.9h.65M257.7 81.5h.65M252.1 89.3h.65M256.4 76.0h.65M223.8 82.2h.65M262.0 70.2h.65M217.3 80.8h.65M241.5 86.7h.65M223.1 89.6h.65M242.7 80.4h.65M218.5 71.8h.65M244.8 77.8h.65M223.0 66.6h.65M229.6 79.1h.65M241.2 79.0h.65M245.5 85.3h.65M224.1 78.4h.65M250.2 75.9h.65M223.3 74.3h.65M239.2 84.5h.65M226.2 89.6h.65M223.1 77.9h.65M224.0 71.6h.65M227.2 69.7h.65M222.2 83.6h.65M240.4 85.6h.65M266.3 90.1h.65M221.4 73.3h.65M224.3 69.8h.65M219.0 85.6h.65M230.6 78.3h.65M225.6 86.6h.65M250.9 70.9h.65M220.3 87.4h.65M226.8 88.4h.65M253.1 74.7h.65M246.3 70.9h.65M226.1 72.2h.65M219.1 82.3h.65M254.6 74.2h.65M265.5 84.1h.65M269.8 66.6h.65M225.5 89.5h.65M240.7 70.6h.65M221.6 75.2h.65M226.2 66.9h.65M224.6 87.4h.65M249.1 89.0h.65M217.5 76.6h.65M246.3 73.8h.65M265.0 81.6h.65M222.1 86.9h.65M245.2 75.7h.65M255.8 79.7h.65M222.5 71.6h.65M244.6 74.7h.65M223.1 82.2h.65M222.4 73.5h.65M226.7 70.5h.65M221.2 82.5h.65M253.1 69.0h.65M226.4 76.5h.65M245.9 79.7h.65M260.9 83.9h.65M225.4 73.1h.65M222.6 80.4h.65M244.1 72.7h.65M251.4 87.5h.65M219.3 71.9h.65M217.3 89.3h.65M248.3 76.8h.65M222.0 69.6h.65M220.4 70.0h.65M258.4 82.1h.65M241.4 71.6h.65M243.9 87.0h.65M216.8 69.4h.65M239.3 67.1h.65M252.5 86.0h.65M245.1 70.3h.65M239.6 72.0h.65M242.5 81.1h.65M253.5 90.7h.65M243.1 85.7h.65M228.7 81.3h.65M229.5 82.7h.65M226.1 85.3h.65M255.5 82.9h.65M226.1 76.6h.65M241.1 76.0h.65M243.4 71.8h.65M239.9 72.5h.65M229.3 85.1h.65M222.0 87.8h.65M226.0 91.1h.65M238.8 67.0h.65M249.0 67.9h.65M252.3 79.5h.65M239.5 77.4h.65M239.2 81.9h.65M229.4 77.9h.65M248.4 74.2h.65M250.2 70.6h.65M218.2 87.8h.65M230.9 88.4h.65M242.0 89.3h.65M224.9 70.6h.65M232.0 85.6h.65M248.3 86.8h.65M244.5 73.6h.65M247.5 74.2h.65M241.6 85.4h.65M246.2 84.1h.65M225.9 85.3h.65M243.7 85.3h.65M246.1 71.1h.65M222.8 85.4h.65M242.2 75.6h.65M244.3 74.3h.65M261.2 89.7h.65M257.5 88.7h.65M220.2 71.2h.65M264.8 83.0h.65M248.7 82.6h.65M227.5 90.3h.65M240.7 84.1h.65M220.4 72.7h.65M265.8 79.2h.65M231.9 83.0h.65M251.6 76.5h.65M222.9 67.0h.65M240.8 88.0h.65M216.7 88.6h.65M246.8 71.7h.65M220.1 73.6h.65M242.6 83.6h.65M216.7 90.4h.65M217.4 80.4h.65M256.3 88.6h.65M225.2 83.3h.65M239.9 88.7h.65M248.9 87.5h.65M225.5 89.1h.65M219.2 87.8h.65M229.7 78.6h.65M222.0 69.6h.65M218.1 76.4h.65M228.9 79.3h.65M261.6 88.0h.65M246.9 79.2h.65M231.8 81.2h.65M231.0 70.0h.65M218.7 66.7h.65M254.1 73.4h.65M244.7 71.7h.65M260.3 85.9h.65M246.8 90.7h.65M221.6 68.5h.65M225.5 74.9h.65M250.4 72.7h.65M225.9 72.8h.65M258.9 84.5h.65M227.0 69.5h.65M240.3 69.5h.65M242.6 78.7h.65M256.4 84.5h.65M230.8 75.8h.65M225.4 73.0h.65M219.1 75.1h.65M244.7 70.0h.65M256.7 85.6h.65M217.2 82.7h.65M217.1 69.3h.65M226.2 68.1h.65M237.7 88.1h.65M251.4 67.9h.65M220.1 68.0h.65M256.0 87.3h.65M224.4 75.3h.65M217.9 77.1h.65M250.5 80.0h.65M217.6 90.7h.65M248.6 83.4h.65M240.2 82.1h.65M218.4 68.2h.65M222.0 71.5h.65M227.6 75.5h.65M229.1 88.0h.65M238.7 84.5h.65M233.3 90.0h.65M237.9 68.4h.65M232.7 69.1h.65M233.0 83.2h.65M238.5 86.8h.65M237.0 90.0h.65M230.6 89.2h.65M231.6 73.5h.65M233.4 65.7h.65M237.9 90.1h.65M240.2 66.2h.65M233.1 64.3h.65M230.3 77.0h.65M233.2 82.0h.65M231.2 85.7h.65M232.5 68.4h.65M238.1 88.5h.65M238.3 65.6h.65M239.5 68.0h.65M237.3 64.7h.65M231.9 65.2h.65M240.1 73.9h.65M238.1 65.0h.65M238.9 67.9h.65M232.0 69.6h.65M241.0 84.2h.65M232.8 65.9h.65M236.5 64.4h.65M235.6 83.8h.65M232.0 64.5h.65M236.2 65.6h.65M238.7 72.7h.65M233.3 89.5h.65M239.2 66.3h.65M231.2 83.8h.65M233.1 70.0h.65M218.5 55.1h.65M271.4 92.7h.65M249.1 56.5h.65M231.0 55.5h.65M217.4 69.2h.65M236.4 56.8h.65M225.5 56.2h.65M224.1 83.2h.65M274.6 65.0h.65M246.6 69.9h.65M256.2 61.4h.65M264.2 78.7h.65M264.7 70.1h.65M241.1 59.5h.65M230.7 64.0h.65M248.8 65.8h.65M260.0 53.9h.65M269.6 86.9h.65M268.2 59.7h.65M268.0 88.0h.65M257.0 61.0h.65M276.2 75.3h.65M222.8 63.9h.65M264.1 60.9h.65M250.8 60.0h.65M260.1 90.3h.65M263.8 55.8h.65M271.8 65.8h.65M273.8 58.1h.65M243.6 68.8h.65" stroke="rgb(40, 65, 160)" stroke-width=".65" stroke-opacity="0.75"/>
<path d="M253.7 60.4h.65M263.1 32.5h.65M253.5 39.5h.65M259.8 31.3h.65M264.1 38.1h.65M264.3 31.8h.65M262.0 45.4h.65M253.8 61.9h.65M260.1 30.6h.65M254.9 62.7h.65M252.7 56.7h.65M252.6 33.6h.65M262.0 51.9h.65M253.3 36.5h.65M252.8 34.0h.65M258.0 31.6h.65M264.1 38.2h.65M252.1 49.7h.65M258.7 30.8h.65M261.3 31.9h.65M263.9 40.2h.65M252.9 57.5h.65M251.4 55.7h.65M252.9 32.3h.65M258.8 61.2h.65M252.7 43.8h.65M261.9 51.0h.65M257.8 64.5h.65M255.8 63.2h.65M252.3 58.6h.65M258.4 64.3h.65M263.2 33.5h.65M251.4 53.4h.65M253.4 53.2h.65M253.1 45.0h.65M254.6 32.5h.65M263.7 32.8h.65M257.4 63.7h.65M259.5 62.2h.65M250.8 60.0h.65M252.6 46.2h.65M254.0 64.9h.65M263.7 34.9h.65M254.6 35.6h.65M255.9 30.3h.65M253.0 33.8h.65M253.4 54.9h.65M252.1 37.8h.65M252.8 41.3h.65M251.9 55.7h.65M261.5 51.5h.65M254.1 33.0h.65M257.6 65.4h.65M252.7 63.5h.65M264.2 35.5h.65M261.8 49.9h.65M252.9 62.6h.65M261.3 53.1h.65M253.7 57.8h.65M252.9 36.4h.65M255.6 64.2h.65M252.4 38.7h.65M252.3 60.8h.65M258.9 60.1h.65M252.2 52.4h.65M251.1 38.9h.65M263.0 36.5h.65M260.4 57.3h.65M263.8 36.8h.65M258.1 65.2h.65M252.3 49.5h.65M252.8 48.5h.65M251.4 46.8h.65M263.2 32.5h.65M256.9 63.2h.65M263.1 38.0h.65M262.7 43.3h.65M260.8 57.0h.65M262.0 48.3h.65M260.3 57.5h.65M264.1 36.7h.65M260.7 55.4h.65M253.9 34.5h.65M254.8 63.4h.65M257.9 64.9h.65M261.1 50.6h.65M261.2 54.4h.65M251.5 39.3h.65M262.2 41.9h.65M252.6 54.8h.65M253.1 51.0h.65M263.6 40.4h.65M260.7 50.7h.65M257.0 64.2h.65M254.1 32.1h.65M262.5 53.8h.65M263.6 38.3h.65M257.4 65.1h.65M252.4 56.1h.65M252.5 38.2h.65M260.4 55.6h.65M254.0 37.8h.65M262.7 58.6h.65M264.4 43.9h.65M252.7 62.1h.65M252.6 34.4h.65M253.7 32.8h.65M260.3 57.0h.65M253.8 61.1h.65M260.8 31.7h.65M253.2 55.6h.65M252.0 46.0h.65M251.6 60.4h.65M263.9 46.4h.65M264.9 45.7h.65M256.3 65.7h.65M255.8 70.2h.65M253.0 63.4h.65M254.6 67.1h.65M254.0 63.4h.65M253.7 67.0h.65M255.6 63.2h.65M257.7 63.1h.65M261.1 62.8h.65M256.6 62.2h.65M258.3 66.4h.65M254.9 69.7h.65M254.2 62.7h.65M261.7 68.0h.65M252.9 67.1h.65M254.0 65.3h.65M257.9 65.6h.65M250.2 71.0h.65M258.8 66.3h.65M256.8 70.2h.65M260.8 70.5h.65M257.4 71.4h.65M254.4 65.9h.65M256.8 66.4h.65M253.9 68.6h.65M258.1 67.9h.65M260.7 66.6h.65M254.8 62.8h.65M254.8 65.4h.65M257.1 68.8h.65M259.1 70.8h.65M256.3 66.9h.65M255.9 63.4h.65M255.0 68.5h.65M257.0 68.7h.65M252.0 64.3h.65M259.5 63.0h.65M251.7 66.9h.65M254.1 64.9h.65M257.1 67.8h.65M255.0 68.3h.65M257.0 68.9h.65M257.7 67.3h.65M251.7 67.7h.65M253.5 68.3h.65M259.7 69.9h.65M257.0 70.4h.65M258.3 66.4h.65M256.3 66.4h.65M260.4 66.7h.65M257.8 65.1h.65M263.6 61.9h.65M252.0 66.6h.65M259.0 69.2h.65M258.9 65.8h.65M252.0 71.0h.65M257.2 70.4h.65M254.6 66.2h.65M260.3 65.9h.65M259.8 71.7h.65M260.5 63.8h.65M239.9 85.2h.65M243.6 78.8h.65M224.9 84.6h.65M218.5 79.2h.65M257.7 79.9h.65M223.4 87.0h.65M225.1 83.9h.65M224.9 80.0h.65M237.1 88.6h.65M226.7 84.1h.65M255.8 79.4h.65M250.5 67.7h.65M218.9 86.2h.65M224.5 76.9h.65M249.1 82.0h.65M228.8 80.4h.65M227.2 85.1h.65M231.3 73.5h.65M219.8 77.8h.65M231.6 80.9h.65M253.2 84.7h.65M244.9 84.1h.65M252.6 83.4h.65M264.0 85.6h.65M248.8 80.8h.65M219.7 77.9h.65M217.1 84.8h.65M245.0 84.9h.65M252.3 76.0h.65M245.3 80.0h.65M231.8 76.3h.65M219.3 78.6h.65M242.2 87.9h.65M247.8 82.1h.65M233.3 90.5h.65M229.2 85.7h.65M244.4 87.0h.65M222.4 87.0h.65M257.9 80.1h.65M241.8 75.9h.65M241.0 78.0h.65M242.1 84.5h.65M223.9 68.0h.65M220.0 78.9h.65M231.0 84.8h.65M239.4 87.0h.65M219.1 79.7h.65M244.6 80.0h.65M231.1 70.1h.65M254.2 86.2h.65M255.5 82.5h.65M227.0 68.2h.65M262.1 84.8h.65M232.4 88.4h.65M260.5 85.4h.65M240.5 74.0h.65M219.8 82.9h.65M256.1 68.0h.65M220.6 84.9h.65M253.3 84.1h.65M222.1 82.2h.65M247.0 86.1h.65M241.7 83.6h.65M229.1 88.1h.65M220.7 74.8h.65M241.7 72.9h.65M243.9 84.3h.65M229.5 83.3h.65M227.1 79.5h.65M229.2 77.0h.65M230.4 73.8h.65M227.4 88.0h.65M241.0 75.8h.65M219.6 80.8h.65M242.6 81.8h.65M227.5 84.3h.65M218.4 80.2h.65M265.6 89.9h.65M246.4 76.4h.65M229.0 81.2h.65M248.5 84.9h.65M220.1 81.8h.65M260.3 67.3h.65M231.2 81.5h.65M245.1 80.4h.65M239.2 78.9h.65M218.1 80.0h.65M231.3 72.9h.65M244.3 84.9h.65M221.8 71.5h.65M248.4 76.2h.65M218.1 89.3h.65M227.4 75.0h.65M231.2 85.6h.65M224.5 89.1h.65M239.3 80.4h.65M245.8 82.8h.65M251.2 84.3h.65M221.1 85.5h.65M248.2 89.4h.65M245.1 87.7h.65M225.8 73.9h.65M218.2 88.0h.65M217.0 68.7h.65M233.2 71.5h.65M220.6 78.6h.65M235.0 87.2h.65M240.9 81.2h.65M221.7 79.6h.65M244.9 85.9h.65M232.1 80.9h.65M249.2 85.6h.65M244.8 88.6h.65M228.9 82.7h.65M254.7 89.6h.65M224.0 84.5h.65M245.7 80.0h.65M226.9 76.0h.65M218.5 71.0h.65M236.1 85.6h.65M254.4 86.9h.65M238.2 82.6h.65M226.4 76.7h.65M227.0 74.8h.65M226.0 86.0h.65M247.5 83.8h.65M252.8 81.7h.65M221.2 73.5h.65M231.8 84.6h.65M254.1 69.8h.65M245.2 76.4h.65M228.3 76.1h.65M229.3 81.5h.65M217.7 88.4h.65M249.8 70.8h.65M239.4 88.0h.65M229.6 77.1h.65M222.4 77.6h.65M244.4 80.0h.65M227.8 81.9h.65M231.2 80.4h.65M229.5 88.9h.65M241.9 78.9h.65M239.8 79.9h.65M227.4 84.7h.65M247.5 72.5h.65M228.2 87.2h.65M243.6 70.2h.65M235.4 88.9h.65M238.6 80.9h.65M223.4 72.9h.65M222.3 77.6h.65M226.8 74.1h.65M243.8 86.6h.65M243.4 72.7h.65M237.4 72.9h.65M220.1 88.8h.65M256.4 85.2h.65M250.7 85.0h.65M254.5 90.1h.65M221.1 75.4h.65M220.5 85.8h.65M230.4 81.4h.65M243.5 80.2h.65M230.9 84.4h.65M226.0 83.0h.65M248.8 75.2h.65M264.3 85.0h.65M230.2 89.4h.65M254.9 77.0h.65M255.7 80.4h.65M239.9 77.9h.65M227.3 80.0h.65M232.0 79.1h.65M230.8 76.2h.65M240.2 84.5h.65M224.2 85.7h.65M242.4 79.0h.65M218.0 82.8h.65M241.0 74.9h.65M228.3 81.9h.65M220.0 75.4h.65M229.1 85.1h.65M238.1 75.1h.65M229.6 74.9h.65M224.6 85.2h.65M230.4 82.8h.65M239.9 89.3h.65M241.5 81.1h.65M257.5 86.3h.65M219.1 73.3h.65M240.3 82.7h.65M220.8 90.2h.65M230.3 76.4h.65M232.4 69.6h.65M249.8 85.3h.65M243.3 75.3h.65M256.7 84.7h.65M229.2 88.2h.65M228.1 79.6h.65M259.9 90.6h.65M227.6 84.8h.65M219.0 88.5h.65M242.5 73.5h.65M248.5 84.3h.65M238.1 81.8h.65M262.9 82.8h.65M250.3 76.4h.65M224.1 75.7h.65M231.1 84.8h.65M261.8 74.0h.65M251.0 75.4h.65M229.7 74.9h.65M257.7 71.6h.65M228.7 89.7h.65M219.8 86.9h.65M240.6 74.6h.65M218.3 80.5h.65M253.1 79.4h.65M219.5 79.8h.65M221.4 78.8h.65M221.7 78.5h.65M225.0 84.8h.65M246.3 87.2h.65M220.4 85.1h.65M252.3 85.0h.65M228.3 88.8h.65M222.1 85.2h.65M243.7 74.7h.65M243.7 71.8h.65M228.4 87.1h.65M244.7 70.7h.65M242.0 76.7h.65M219.3 86.0h.65M216.5 76.0h.65M241.2 73.8h.65M225.7 79.5h.65M222.0 88.7h.65M230.5 78.6h.65M222.5 87.9h.65M233.0 69.9h.65M232.8 67.7h.65M238.2 80.3h.65M227.7 88.0h.65M225.7 80.3h.65M244.5 71.4h.65M231.9 73.7h.65M221.0 78.6h.65M248.6 87.2h.65M217.5 87.8h.65M230.4 78.0h.65M228.9 79.8h.65M244.3 86.6h.65M241.2 88.1h.65M231.3 71.1h.65M220.8 67.1h.65M218.0 84.3h.65M228.0 72.4h.65M230.9 87.8h.65M251.0 76.3h.65M258.0 80.7h.65M240.7 77.7h.65M229.8 86.2h.65M220.6 73.0h.65M249.6 78.5h.65M239.5 79.1h.65M226.1 83.7h.65M266.1 87.2h.65M216.8 76.3h.65M250.3 81.1h.65M232.0 76.5h.65M248.7 74.6h.65M258.8 84.6h.65M241.5 90.5h.65M218.6 76.6h.65M243.1 71.5h.65M245.2 83.8h.65M256.5 74.0h.65M228.5 77.0h.65M224.6 75.3h.65M217.3 81.3h.65M232.2 73.9h.65M244.2 74.6h.65M253.4 82.8h.65M227.4 86.6h.65M252.2 75.0h.65M226.2 84.0h.65M262.6 87.9h.65M252.8 88.4h.65M240.2 84.9h.65M257.5 72.8h.65M238.0 86.0h.65M228.1 68.8h.65M218.5 81.7h.65M230.6 70.4h.65M234.7 70.7h.65M228.0 74.1h.65M221.8 69.9h.65M242.3 85.7h.65M247.8 70.3h.65M230.4 73.1h.65M252.0 80.6h.65M221.0 85.5h.65M250.5 80.7h.65M226.8 68.4h.65M246.3 73.8h.65M239.4 75.2h.65M225.8 76.0h.65M246.4 75.6h.65M221.2 79.8h.65M217.0 83.9h.65M230.2 88.4h.65M250.1 78.9h.65M244.2 71.8h.65M257.3 77.5h.65M228.3 78.2h.65M219.3 78.4h.65M224.8 83.7h.65M221.4 88.7h.65M222.7 69.5h.65M240.4 74.0h.65M225.8 69.9h.65M222.3 76.6h.65M242.3 69.1h.65M227.5 85.2h.65M231.8 79.9h.65M228.7 84.1h.65M218.8 85.0h.65M246.0 80.1h.65M228.4 81.8h.65M237.3 73.0h.65M221.8 70.8h.65M238.1 81.1h.65M231.7 87.7h.65M222.2 89.6h.65M233.3 75.3h.65M229.1 84.0h.65M222.1 87.7h.65M249.9 83.5h.65M229.0 67.0h.65M249.2 90.6h.65M238.7 72.0h.65M229.3 77.6h.65M243.0 83.8h.65M231.2 73.8h.65M220.6 77.1h.65M245.8 74.1h.65M227.6 78.2h.65M226.5 80.0h.65M229.8 85.4h.65M245.9 76.4h.65M222.5 75.5h.65M242.4 76.0h.65M227.1 68.2h.65M220.3 75.7h.65M242.8 81.6h.65M246.3 82.1h.65M239.4 85.5h.65M225.8 68.7h.65M249.2 88.3h.65M256.8 79.9h.65M242.6 74.6h.65M225.4 71.3h.65M243.3 74.4h.65M244.5 76.4h.65M227.1 89.4h.65M219.2 85.4h.65M244.1 80.3h.65M231.7 73.6h.65M219.6 81.7h.65M225.8 81.2h.65M221.0 75.0h.65M260.5 72.6h.65M225.3 83.1h.65M224.9 77.5h.65M231.0 85.6h.65M241.5 70.5h.65M230.6 75.1h.65M230.8 66.5h.65M231.2 81.1h.65M232.2 77.5h.65M224.8 68.1h.65M226.5 77.8h.65M221.5 73.5h.65M250.5 79.2h.65M231.5 80.6h.65M221.4 77.0h.65M229.9 76.3h.65M250.9 70.1h.65M232.3 87.9h.65M237.6 72.8h.65M227.7 77.9h.65M217.7 87.1h.65M242.6 87.0h.65M221.6 75.7h.65M244.2 73.9h.65M223.7 82.4h.65M261.7 75.1h.65M237.9 79.2h.65M223.8 76.9h.65M245.3 70.2h.65M229.6 83.2h.65M218.3 78.1h.65M234.6 91.0h.65M228.1 86.4h.65M260.1 83.4h.65M225.5 81.3h.65M223.9 73.6h.65M221.2 83.4h.65M247.8 69.7h.65M264.3 77.8h.65M227.5 72.4h.65M228.1 81.6h.65M245.5 86.5h.65M240.0 75.3h.65M220.7 80.5h.65M220.8 80.8h.65M253.2 80.8h.65M232.2 82.2h.65M219.1 78.1h.65M225.7 85.0h.65M250.8 80.1h.65M242.9 73.7h.65M241.0 66.2h.65M225.0 87.5h.65M229.5 74.1h.65M236.7 83.2h.65M222.0 76.6h.65M225.0 82.2h.65M239.7 72.0h.65M247.5 74.9h.65M225.5 85.7h.65M227.4 78.3h.65M238.3 79.3h.65M226.5 81.2h.65M224.5 72.1h.65M227.9 80.2h.65M230.0 70.9h.65M251.6 84.7h.65M221.9 86.7h.65M243.0 86.5h.65M239.5 90.2h.65M220.9 74.3h.65M247.3 78.6h.65M252.1 82.1h.65M250.1 86.8h.65M235.9 76.1h.65M228.2 83.6h.65M250.0 76.8h.65M231.8 84.2h.65M242.0 79.1h.65M224.8 72.0h.65M253.1 88.3h.65M226.9 81.1h.65M221.0 84.7h.65M243.2 84.0h.65M253.3 90.3h.65M241.2 86.7h.65M226.3 83.4h.65M231.7 76.9h.65M220.1 76.5h.65M247.5 78.6h.65M220.5 81.1h.65M224.2 68.6h.65M261.2 77.1h.65M224.4 89.4h.65M228.5 74.5h.65M258.8 73.2h.65M229.5 77.0h.65M233.2 77.8h.65M240.4 88.5h.65M249.5 75.4h.65M222.1 80.6h.65M228.8 84.2h.65M243.0 86.4h.65M230.2 75.0h.65M252.5 75.7h.65M224.8 82.2h.65M252.9 83.1h.65M224.6 79.9h.65M232.5 79.3h.65M218.7 87.9h.65M222.6 77.0h.65M230.6 87.4h.65M236.3 88.7h.65M230.8 87.5h.65M242.2 75.6h.65M220.0 88.0h.65M245.1 76.6h.65M247.9 82.9h.65M232.9 77.0h.65M227.8 73.2h.65M269.3 74.2h.65M230.5 72.6h.65M241.8 77.7h.65M236.8 83.9h.65M239.8 88.7h.65M232.7 88.8h.65M239.4 75.9h.65M235.7 66.7h.65M237.0 81.5h.65M236.7 64.7h.65M236.0 87.2h.65M237.3 68.8h.65M231.9 86.2h.65M234.6 90.3h.65M232.8 63.8h.65M234.4 81.4h.65M231.5 87.2h.65M239.9 80.8h.65M236.1 87.8h.65M239.2 80.4h.65M236.7 74.4h.65M233.6 65.0h.65M240.2 70.2h.65M237.4 67.0h.65M236.6 73.3h.65M236.4 85.4h.65M236.1 80.2h.65M234.1 72.8h.65M237.6 76.4h.65M234.8 86.9h.65M234.3 65.9h.65M237.4 66.1h.65M233.4 79.0h.65M238.7 70.1h.65M233.8 89.2h.65M233.7 67.8h.65M237.6 80.7h.65M233.7 66.2h.65M238.1 73.2h.65M234.4 88.2h.65M237.1 79.0h.65M237.6 78.7h.65M237.8 68.0h.65M233.1 90.7h.65M234.1 78.8h.65M237.8 67.7h.65M241.3 71.9h.65M236.1 70.0h.65M231.6 72.4h.65M238.6 87.8h.65M234.8 66.7h.65M231.2 82.0h.65M233.8 64.7h.65M233.7 89.8h.65M239.2 90.0h.65M234.8 88.3h.65M233.7 67.5h.65M237.8 73.3h.65M231.3 87.5h.65M236.4 88.8h.65M234.1 83.7h.65M233.2 69.5h.65M235.3 84.5h.65M236.9 64.5h.65M235.0 65.3h.65M235.5 71.7h.65M231.8 86.5h.65M234.0 88.9h.65M233.6 82.8h.65M239.5 76.9h.65M232.1 67.3h.65M256.9 81.3h.65M260.7 92.4h.65M253.8 62.3h.65M262.8 73.9h.65M219.4 78.0h.65M258.5 87.0h.65M241.5 85.6h.65M223.1 84.6h.65" stroke="rgb(38, 76, 171)" stroke-width=".65" stroke-opacity="0.75"/>
<path d="M259.1 57.8h.65M262.2 45.2h.65M261.0 54.6h.65M263.3 38.8h.65M262.0 46.5h.65M259.4 57.3h.65M253.4 50.4h.65M257.9 59.6h.65M252.5 55.1h.65M253.9 50.8h.65M256.9 61.0h.65M253.7 37.0h.65M253.0 49.5h.65M256.4 62.4h.65M253.6 51.4h.65M253.5 48.3h.65M255.3 33.4h.65M262.0 49.6h.65M261.2 50.9h.65M262.8 47.2h.65M262.6 42.4h.65M262.2 41.7h.65M263.0 45.9h.65M253.1 41.9h.65M259.9 30.9h.65M253.6 48.8h.65M260.6 51.3h.65M254.3 33.5h.65M259.7 31.8h.65M253.7 34.4h.65M257.1 31.0h.65M251.9 47.5h.65M253.2 52.1h.65M252.5 48.8h.65M260.3 52.2h.65M253.1 48.7h.65M258.3 59.9h.65M260.7 49.9h.65M265.3 34.5h.65M256.9 32.7h.65M262.6 43.3h.65M252.7 47.1h.65M253.2 38.3h.65M252.7 60.9h.65M258.5 30.7h.65M253.5 46.3h.65M254.1 41.2h.65M256.7 63.6h.65M255.0 62.1h.65M261.6 48.8h.65M257.0 63.0h.65M262.4 49.4h.65M263.0 31.9h.65M259.6 57.6h.65M253.6 37.9h.65M253.0 34.3h.65M261.7 47.5h.65M263.2 43.2h.65M263.0 33.8h.65M258.8 61.9h.65M254.2 60.1h.65M253.3 49.5h.65M253.4 42.5h.65M263.4 38.1h.65M262.4 32.0h.65M252.7 52.2h.65M259.8 55.8h.65M254.5 32.0h.65M253.3 41.6h.65M259.0 59.4h.65M257.4 63.3h.65M260.1 51.0h.65M259.7 56.3h.65M254.6 51.6h.65M263.3 45.2h.65M262.1 43.1h.65M255.7 63.1h.65M261.8 45.2h.65M264.1 39.2h.65M251.4 41.2h.65M253.5 47.4h.65M254.0 46.4h.65M264.1 39.2h.65M262.2 32.8h.65M263.0 45.6h.65M260.0 58.8h.65M252.5 37.6h.65M261.6 51.2h.65M261.3 49.5h.65M256.8 63.0h.65M256.3 64.0h.65M250.3 51.6h.65M262.7 38.3h.65M259.9 59.1h.65M263.4 35.2h.65M259.7 54.8h.65M259.9 55.1h.65M264.3 38.9h.65M261.6 45.2h.65M260.6 55.1h.65M260.2 54.1h.65M253.8 58.5h.65M254.7 34.0h.65M255.1 59.9h.65M260.8 50.7h.65M264.0 33.8h.65M252.5 38.1h.65M264.4 42.1h.65M252.9 32.6h.65M256.4 32.3h.65M253.4 37.2h.65M261.1 46.2h.65M254.9 33.4h.65M262.9 41.7h.65M253.5 54.2h.65M258.8 59.5h.65M264.0 33.3h.65M253.1 37.3h.65M252.2 33.9h.65M253.5 64.1h.65M255.0 65.7h.65M257.3 70.1h.65M257.0 68.9h.65M257.0 66.3h.65M255.9 68.8h.65M255.5 62.6h.65M260.8 65.3h.65M261.0 63.8h.65M257.0 70.3h.65M254.4 69.5h.65M258.3 64.0h.65M252.7 64.2h.65M254.5 70.8h.65M257.4 63.0h.65M256.6 63.4h.65M256.7 69.9h.65M255.9 71.4h.65M254.1 65.4h.65M258.9 63.7h.65M257.8 62.8h.65M259.5 70.1h.65M257.0 69.2h.65M258.4 62.9h.65M256.1 70.0h.65M257.6 62.2h.65M257.9 62.9h.65M254.4 65.1h.65M221.7 83.8h.65M231.5 77.6h.65M223.9 85.4h.65M250.2 78.4h.65M233.0 72.8h.65M218.9 79.7h.65M221.2 80.9h.65M234.2 73.6h.65M228.1 80.2h.65M223.3 80.7h.65M226.5 68.9h.65M230.0 85.2h.65M238.4 76.9h.65M232.5 68.8h.65M242.0 75.6h.65M230.7 79.7h.65M237.3 79.8h.65M219.0 76.8h.65M221.6 83.9h.65M229.1 76.7h.65M232.8 71.3h.65M217.5 84.1h.65M238.7 74.3h.65M220.0 85.2h.65M235.1 76.9h.65M232.2 85.5h.65M236.9 89.1h.65M232.1 87.7h.65M229.5 87.1h.65M220.8 75.7h.65M240.2 78.2h.65M229.5 80.8h.65M251.7 83.0h.65M247.8 72.7h.65M233.0 77.6h.65M233.0 69.9h.65M249.5 81.2h.65M227.5 86.2h.65M240.3 85.7h.65M231.7 72.0h.65M229.1 74.2h.65M233.2 85.5h.65M222.1 77.5h.65M216.9 86.0h.65M237.8 82.2h.65M224.7 84.7h.65M221.3 74.8h.65M221.6 87.1h.65M242.7 79.4h.65M236.5 71.6h.65M235.3 77.1h.65M225.9 84.2h.65M250.9 77.3h.65M227.8 75.6h.65M238.3 70.6h.65M241.4 76.2h.65M220.5 78.3h.65M238.2 77.7h.65M221.7 76.1h.65M256.1 71.1h.65M233.9 75.6h.65M225.9 81.7h.65M219.4 77.1h.65M238.4 75.9h.65M229.9 78.8h.65M238.1 74.3h.65M220.5 77.3h.65M220.3 87.2h.65M220.2 84.0h.65M224.9 86.0h.65M224.7 77.8h.65M245.7 83.1h.65M225.4 88.9h.65M239.7 76.4h.65M226.1 78.2h.65M236.2 83.7h.65M242.8 76.5h.65M233.8 87.9h.65M228.2 73.6h.65M229.7 77.6h.65M227.7 77.3h.65M233.7 75.1h.65M220.7 73.4h.65M252.4 77.2h.65M238.5 81.6h.65M239.7 73.7h.65M219.9 78.5h.65M233.8 89.0h.65M230.5 69.9h.65M220.7 68.3h.65M233.0 75.4h.65M245.3 76.7h.65M219.1 78.6h.65M233.1 85.0h.65M228.9 84.6h.65M222.3 74.7h.65M223.7 83.1h.65M220.8 88.1h.65M230.6 71.8h.65M244.1 84.1h.65M240.2 80.3h.65M219.4 77.2h.65M217.0 81.5h.65M231.6 75.8h.65M237.0 82.0h.65M233.2 77.8h.65M235.5 82.1h.65M228.2 81.7h.65M235.1 83.6h.65M234.2 85.9h.65M220.6 84.1h.65M233.4 75.0h.65M220.2 78.1h.65M232.3 75.3h.65M228.4 85.8h.65M226.7 83.9h.65M244.3 83.8h.65M231.8 82.1h.65M225.1 72.1h.65M235.7 68.6h.65M231.7 76.7h.65M228.5 76.4h.65M228.9 87.9h.65M226.7 81.2h.65M230.9 82.5h.65M218.3 80.2h.65M223.6 72.0h.65M240.2 83.8h.65M217.0 77.7h.65M233.3 85.5h.65M219.7 85.4h.65M231.5 76.1h.65M225.7 74.0h.65M232.2 86.0h.65M241.1 86.3h.65M219.7 79.6h.65M241.4 83.7h.65M221.0 83.9h.65M221.3 81.0h.65M231.0 79.2h.65M231.8 86.2h.65M232.6 72.6h.65M237.5 76.3h.65M226.8 78.6h.65M232.1 80.6h.65M240.7 78.1h.65M231.2 83.0h.65M227.7 80.0h.65M232.6 85.6h.65M232.5 76.9h.65M225.9 81.8h.65M225.6 81.2h.65M232.0 82.2h.65M235.0 71.8h.65M229.9 87.6h.65M230.3 85.0h.65M225.5 71.1h.65M220.6 79.0h.65M229.3 71.9h.65M223.7 82.9h.65M232.4 87.3h.65M226.3 84.3h.65M231.8 76.7h.65M260.4 77.0h.65M219.4 79.2h.65M243.0 87.5h.65M229.7 80.0h.65M242.0 77.4h.65M223.5 83.7h.65M235.5 85.0h.65M247.6 75.2h.65M229.0 81.1h.65M225.8 79.9h.65M255.5 88.6h.65M242.5 73.0h.65M232.9 87.0h.65M244.1 79.7h.65M232.3 71.0h.65M235.0 81.9h.65M220.6 87.2h.65M239.4 74.8h.65M227.7 85.4h.65M230.8 72.7h.65M229.5 82.6h.65M244.5 83.0h.65M237.0 67.9h.65M238.7 72.3h.65M247.0 78.7h.65M231.2 70.9h.65M230.9 70.8h.65M239.1 79.2h.65M235.8 74.6h.65M244.9 77.7h.65M230.2 80.7h.65M235.2 69.5h.65M221.6 79.6h.65M225.5 78.8h.65M253.3 68.4h.65M246.7 77.7h.65M220.0 70.2h.65M227.0 74.6h.65M232.8 70.8h.65M221.3 80.7h.65M245.7 79.8h.65M243.8 71.9h.65M219.9 77.4h.65M218.1 86.6h.65M220.9 80.6h.65M239.1 84.7h.65M223.3 82.9h.65M233.4 68.5h.65M222.0 76.3h.65M219.0 85.9h.65M237.1 73.7h.65M250.0 76.7h.65M233.7 87.4h.65M220.9 83.2h.65M231.7 87.0h.65M250.6 89.5h.65M234.0 71.6h.65M220.5 77.3h.65M255.8 71.2h.65M245.4 80.2h.65M228.0 84.5h.65M234.4 80.0h.65M220.8 79.0h.65M238.2 78.8h.65M229.5 79.6h.65M233.5 83.5h.65M237.4 83.0h.65M239.0 80.1h.65M238.1 85.9h.65M247.3 81.8h.65M242.1 86.6h.65M240.8 79.1h.65M236.7 70.0h.65M233.8 78.9h.65M231.0 84.5h.65M228.1 70.0h.65M220.2 86.2h.65M220.3 88.8h.65M222.9 75.3h.65M238.0 72.7h.65M221.8 79.9h.65M221.4 81.2h.65M233.1 68.7h.65M228.6 71.9h.65M236.3 69.4h.65M233.1 86.4h.65M216.6 81.6h.65M228.2 76.9h.65M233.2 86.4h.65M251.0 78.1h.65M226.0 77.3h.65M236.6 77.3h.65M227.9 73.9h.65M219.7 80.6h.65M219.7 74.9h.65M238.3 81.9h.65M238.3 79.4h.65M233.4 88.8h.65M231.8 69.3h.65M239.4 85.0h.65M231.6 71.0h.65M237.1 84.7h.65M244.2 77.6h.65M233.1 84.4h.65M240.2 77.1h.65M223.0 81.6h.65M251.5 68.4h.65M237.4 68.7h.65M225.4 89.2h.65M224.3 71.1h.65M236.7 76.0h.65M232.0 88.4h.65M218.2 84.5h.65M237.5 83.7h.65M219.8 76.2h.65M238.4 73.4h.65M238.4 75.8h.65M233.4 79.0h.65M233.5 77.2h.65M258.9 71.4h.65M226.3 73.2h.65M245.5 82.0h.65M237.9 79.3h.65M225.0 86.7h.65M221.1 81.5h.65M235.8 88.8h.65M228.6 85.8h.65M243.1 75.6h.65M227.8 81.4h.65M236.8 83.5h.65M244.1 83.0h.65M221.4 75.1h.65M223.4 75.5h.65M229.4 77.8h.65M244.6 80.0h.65M225.6 80.5h.65M237.7 68.4h.65M228.3 69.9h.65M231.7 82.7h.65M233.0 81.1h.65M222.0 87.3h.65M229.0 86.9h.65M232.7 84.8h.65M236.2 89.1h.65M229.6 82.3h.65M241.7 76.4h.65M226.0 89.8h.65M229.8 80.0h.65M239.9 74.2h.65M232.5 84.5h.65M226.6 75.7h.65M227.2 72.5h.65M238.0 87.5h.65M234.6 80.1h.65M236.3 65.2h.65M235.9 67.9h.65M235.3 87.8h.65M234.9 79.8h.65M238.0 75.4h.65M235.7 69.5h.65M233.8 80.6h.65M234.2 80.9h.65M232.2 75.7h.65M237.8 85.9h.65M235.0 72.6h.65M236.9 76.8h.65M235.1 74.8h.65M233.5 78.6h.65M234.9 71.3h.65M233.4 80.9h.65M234.4 68.9h.65M233.7 83.8h.65M236.0 86.8h.65M234.6 66.1h.65M237.1 89.4h.65M235.9 66.9h.65M236.9 73.1h.65M236.8 80.9h.65M235.2 68.9h.65M232.9 68.3h.65M234.3 71.4h.65M236.7 65.3h.65M237.2 70.7h.65M238.1 86.6h.65M232.5 83.7h.65M231.2 79.1h.65M233.1 69.3h.65M232.9 88.5h.65M238.3 69.9h.65M234.3 67.2h.65M237.0 65.2h.65M237.1 73.0h.65M235.6 67.1h.65M233.7 69.5h.65M237.2 69.9h.65M237.2 72.2h.65M231.5 76.7h.65M235.1 86.0h.65M233.2 68.3h.65M237.3 75.6h.65M233.5 74.8h.65M239.4 81.3h.65M236.9 71.3h.65M233.4 85.6h.65M238.0 82.0h.65M233.3 68.9h.65M235.4 77.2h.65M232.2 70.4h.65M236.2 83.3h.65M235.0 78.8h.65M236.4 65.2h.65M233.4 68.0h.65M235.4 65.9h.65M237.0 77.4h.65M235.2 71.6h.65M234.1 75.6h.65M235.3 88.0h.65M232.5 70.4h.65M234.3 66.6h.65M232.7 72.2h.65M238.7 77.8h.65M233.4 76.8h.65M235.4 77.4h.65M234.0 77.6h.65M235.8 85.5h.65M235.9 70.2h.65M236.2 78.6h.65M235.8 68.8h.65M235.9 73.1h.65M241.0 86.6h.65M237.5 72.0h.65M238.5 73.8h.65M234.4 82.6h.65M236.3 69.9h.65M232.8 83.9h.65M238.0 73.7h.65M234.4 68.0h.65M235.7 86.6h.65M234.9 67.1h.65M238.1 86.6h.65M238.5 73.2h.65M234.5 88.2h.65M234.3 85.4h.65M237.2 87.0h.65M233.6 71.2h.65M236.3 89.1h.65M236.2 89.2h.65M236.3 86.6h.65M233.8 86.2h.65M238.1 77.8h.65M234.7 76.3h.65M236.9 86.7h.65M234.7 86.8h.65M236.2 72.4h.65M236.5 80.3h.65M236.8 76.5h.65M233.0 79.2h.65M235.2 87.7h.65M237.4 69.6h.65M236.0 69.2h.65M235.6 80.6h.65M236.4 80.0h.65M234.6 88.0h.65M235.3 90.2h.65M236.6 67.2h.65M235.1 83.1h.65M233.8 81.6h.65M236.9 69.7h.65M237.6 71.3h.65M236.5 68.1h.65M235.5 67.8h.65M232.0 90.6h.65M236.1 79.8h.65M235.0 90.2h.65M235.3 72.8h.65M233.9 91.0h.65M221.0 74.0h.65M219.8 81.7h.65" stroke="rgb(36, 87, 182)" stroke-width=".65" stroke-opacity="0.75"/>
<path d="M254.5 44.1h.65M263.0 38.9h.65M253.0 39.8h.65M256.2 62.8h.65M253.6 52.0h.65M256.9 31.9h.65M263.0 39.9h.65M263.0 34.2h.65M254.9 60.4h.65M262.1 48.1h.65M262.0 33.1h.65M258.2 58.0h.65M255.2 62.5h.65M262.4 42.7h.65M253.2 47.8h.65M262.2 43.6h.65M258.6 59.2h.65M253.8 46.4h.65M255.1 36.1h.65M255.5 61.7h.65M260.1 52.5h.65M262.6 42.9h.65M254.4 61.5h.65M255.3 33.6h.65M254.2 37.5h.65M263.9 33.4h.65M253.4 36.2h.65M253.7 56.6h.65M254.0 37.6h.65M262.4 38.8h.65M261.3 43.6h.65M254.0 57.8h.65M261.0 48.8h.65M262.7 33.7h.65M255.8 32.5h.65M261.8 47.6h.65M252.9 39.9h.65M255.1 62.2h.65M255.2 60.6h.65M263.0 35.9h.65M253.7 35.7h.65M254.2 48.2h.65M259.5 31.9h.65M253.5 58.4h.65M262.0 43.3h.65M262.6 33.3h.65M252.8 53.7h.65M259.3 56.7h.65M255.0 63.7h.65M255.1 32.8h.65M253.6 45.1h.65M257.5 31.3h.65M253.8 45.3h.65M254.2 34.8h.65M261.8 46.1h.65M259.4 31.6h.65M255.1 33.9h.65M261.7 31.1h.65M253.5 50.2h.65M254.6 59.1h.65M253.5 59.2h.65M253.1 51.6h.65M253.9 57.0h.65M252.6 48.6h.65M253.4 57.4h.65M253.3 57.9h.65M253.4 50.1h.65M254.4 35.6h.65M258.0 60.4h.65M262.1 35.2h.65M258.0 59.5h.65M261.6 33.3h.65M263.2 41.1h.65M253.8 49.8h.65M254.5 47.5h.65M254.3 56.3h.65M262.3 33.6h.65M257.7 58.1h.65M262.4 34.2h.65M253.7 38.0h.65M253.8 56.2h.65M253.2 55.0h.65M255.9 33.0h.65M253.8 39.0h.65M258.6 57.5h.65M258.6 59.2h.65M254.0 54.5h.65M254.5 40.5h.65M253.9 56.1h.65M253.2 43.5h.65M253.5 38.3h.65M263.2 38.5h.65M263.8 33.4h.65M255.1 34.2h.65M260.9 47.2h.65M259.9 57.1h.65M256.7 31.7h.65M263.8 37.5h.65M255.4 61.3h.65M260.4 32.3h.65M253.2 41.2h.65M258.5 31.9h.65M255.4 63.5h.65M259.9 32.1h.65M256.8 61.4h.65M253.5 44.9h.65M253.1 50.7h.65M258.0 58.9h.65M262.7 34.0h.65M256.4 60.8h.65M260.4 50.0h.65M261.2 48.7h.65M258.0 58.5h.65M255.5 32.0h.65M254.4 52.3h.65M261.7 31.4h.65M253.8 54.4h.65M254.6 35.1h.65M253.4 43.3h.65M259.8 55.1h.65M253.6 39.8h.65M257.0 61.2h.65M255.2 33.3h.65M258.0 59.0h.65M261.9 44.9h.65M254.7 61.5h.65M253.6 43.9h.65M254.0 55.8h.65M255.2 64.0h.65M257.2 59.8h.65M254.3 55.0h.65M260.5 53.4h.65M260.9 53.4h.65M253.5 50.5h.65M253.3 51.2h.65M255.6 32.5h.65M262.4 40.4h.65M261.6 43.0h.65M253.7 36.5h.65M261.9 43.5h.65M257.8 32.8h.65M261.7 40.8h.65M260.0 55.0h.65M262.4 38.1h.65M255.5 60.9h.65M252.9 39.1h.65M260.6 50.4h.65M253.7 42.4h.65M255.3 69.1h.65M251.8 65.7h.65M220.7 74.4h.65M235.0 74.0h.65M240.4 82.9h.65M236.9 71.4h.65M236.6 76.0h.65M239.1 79.1h.65M225.9 82.9h.65M235.7 84.8h.65M229.5 78.0h.65M237.2 83.4h.65M222.3 80.1h.65M230.7 85.3h.65M231.6 72.3h.65M234.2 85.8h.65M234.8 86.1h.65M232.9 73.9h.65M237.5 70.0h.65M222.1 80.6h.65M234.7 68.1h.65M236.6 70.0h.65M234.0 86.7h.65M222.7 79.2h.65M230.6 85.9h.65M228.9 77.8h.65M238.4 73.9h.65M236.1 71.4h.65M234.2 84.7h.65M240.0 77.1h.65M226.0 84.3h.65M237.6 86.1h.65M243.1 74.3h.65M222.5 76.6h.65M220.2 78.2h.65M235.2 80.1h.65M233.8 70.5h.65M233.8 89.9h.65M233.6 82.0h.65M224.4 75.2h.65M238.4 75.3h.65M235.7 75.1h.65M225.1 73.2h.65M232.6 75.2h.65M232.7 81.5h.65M243.1 76.5h.65M232.3 72.0h.65M226.0 84.7h.65M234.9 73.3h.65M247.6 82.3h.65M245.1 83.7h.65M226.5 82.2h.65M233.8 73.0h.65M223.7 74.8h.65M235.6 83.6h.65M219.7 80.4h.65M220.8 79.8h.65M238.2 81.2h.65M224.0 87.1h.65M238.0 83.2h.65M229.2 79.7h.65M234.8 81.9h.65M227.4 79.1h.65M233.2 82.8h.65M235.8 81.0h.65M227.4 82.9h.65M234.6 89.4h.65M236.1 77.4h.65M237.5 81.9h.65M235.5 68.0h.65M258.0 68.0h.65M224.9 72.9h.65M233.9 83.2h.65M234.3 85.3h.65M223.1 74.4h.65M235.6 71.5h.65M230.4 82.5h.65M236.2 80.6h.65M234.4 81.7h.65M234.6 82.2h.65M234.2 73.5h.65M230.2 78.8h.65M235.5 74.3h.65M235.9 86.5h.65M236.0 76.2h.65M233.0 84.1h.65M220.5 82.9h.65M243.2 84.5h.65M235.0 85.5h.65M221.1 73.4h.65M239.1 75.9h.65M238.3 86.5h.65M250.1 86.3h.65M228.9 87.6h.65M235.0 75.3h.65M234.6 78.9h.65M232.0 81.9h.65M232.9 74.7h.65M231.8 71.2h.65M236.0 72.6h.65M217.9 85.3h.65M222.8 66.6h.65M233.7 70.9h.65M238.7 81.3h.65M226.0 82.9h.65M235.8 82.8h.65M237.5 86.0h.65M221.1 84.2h.65M242.4 74.4h.65M239.9 76.9h.65M232.8 73.9h.65M219.8 74.8h.65M239.0 72.3h.65M234.9 81.4h.65M237.3 71.4h.65M235.3 73.5h.65M233.1 84.6h.65M236.7 76.3h.65M227.3 76.4h.65M232.1 86.8h.65M229.9 85.1h.65M234.7 71.7h.65M230.6 84.6h.65M255.7 66.1h.65M237.3 71.3h.65M220.9 81.4h.65M234.7 78.5h.65M236.0 84.9h.65M235.3 72.8h.65M235.3 66.1h.65M233.7 82.9h.65M235.0 74.6h.65M234.4 74.7h.65M235.7 77.7h.65M235.6 76.8h.65M238.5 66.8h.65M234.2 70.1h.65M234.8 76.6h.65M236.7 80.8h.65M234.5 73.3h.65M234.5 74.2h.65M237.0 83.5h.65M236.0 70.6h.65M235.7 78.5h.65M234.3 69.6h.65M237.2 86.6h.65M238.0 78.3h.65M236.1 86.1h.65M236.2 69.1h.65M234.3 85.9h.65M232.5 82.7h.65M233.8 86.0h.65M238.8 80.6h.65M235.4 78.1h.65M236.1 67.8h.65M233.5 80.6h.65M236.5 83.5h.65M233.1 75.0h.65M236.0 73.1h.65M235.1 81.3h.65M236.5 86.6h.65M233.9 80.3h.65M232.8 74.9h.65M236.0 68.7h.65M232.7 85.9h.65M238.0 76.6h.65M238.0 72.5h.65M236.8 66.9h.65M233.7 77.3h.65M237.0 66.4h.65M236.4 75.2h.65M234.8 69.8h.65M235.8 67.1h.65M235.8 81.9h.65M236.5 77.0h.65M236.6 73.6h.65M235.8 84.8h.65M234.0 88.4h.65M232.4 70.0h.65M235.8 83.9h.65M233.2 70.0h.65M234.5 75.0h.65M235.8 77.3h.65M232.9 82.1h.65M236.5 74.3h.65M234.9 74.0h.65M235.1 83.8h.65M237.0 81.1h.65M232.8 71.6h.65M235.2 68.1h.65M236.4 78.6h.65M233.7 87.7h.65M236.6 82.3h.65M235.2 68.1h.65M235.5 74.5h.65M236.1 66.9h.65M234.6 79.7h.65M237.4 87.3h.65M234.8 74.1h.65M233.0 65.1h.65M236.3 86.6h.65M232.8 86.3h.65M234.8 78.0h.65M232.7 74.1h.65M234.3 72.6h.65M234.4 70.1h.65M238.2 85.2h.65M237.1 74.2h.65M236.3 66.7h.65M236.7 78.3h.65M236.9 81.7h.65M237.4 71.7h.65M232.6 76.1h.65M235.9 74.2h.65M234.1 80.6h.65M234.3 76.9h.65M234.0 87.3h.65M236.1 78.2h.65M234.1 77.1h.65M235.2 70.2h.65M235.6 77.1h.65M234.4 75.4h.65M231.6 84.3h.65M233.9 73.7h.65M235.5 81.6h.65M234.7 77.6h.65M236.2 88.2h.65M234.3 77.3h.65M232.6 75.2h.65M234.4 86.6h.65M235.5 67.4h.65M245.5 83.5h.65" stroke="rgb(34, 101, 191)" stroke-width=".65" stroke-opacity="0.75"/>
<path d="M258.0 59.2h.65M254.7 49.5h.65M254.1 42.4h.65M255.0 59.4h.65M259.2 55.3h.65M257.6 60.6h.65M256.5 61.6h.65M254.6 55.0h.65M255.2 60.2h.65M261.2 45.1h.65M255.8 59.7h.65M263.4 35.9h.65M254.8 41.7h.65M254.8 57.3h.65M259.6 30.5h.65M258.6 57.5h.65M254.5 37.0h.65M259.2 57.3h.65M262.0 40.4h.65M261.0 47.3h.65M261.8 31.5h.65M255.0 47.4h.65M257.5 59.4h.65M257.1 61.0h.65M253.4 52.6h.65M254.0 62.2h.65M254.2 44.3h.65M257.7 59.7h.65M254.2 51.9h.65M263.4 34.7h.65M254.2 41.8h.65M261.1 47.7h.65M259.8 32.6h.65M261.0 32.3h.65M254.3 52.0h.65M254.7 43.9h.65M261.6 40.4h.65M262.2 46.6h.65M254.5 47.5h.65M261.0 32.5h.65M254.0 35.5h.65M259.4 54.8h.65M262.0 44.6h.65M262.9 34.7h.65M255.8 32.6h.65M255.6 34.6h.65M254.3 50.6h.65M253.4 38.1h.65M254.9 46.6h.65M255.6 34.1h.65M256.6 61.4h.65M262.8 37.5h.65M261.0 49.7h.65M257.4 61.9h.65M254.8 46.3h.65M262.4 39.5h.65M262.5 39.5h.65M257.0 59.6h.65M255.7 61.7h.65M254.6 38.6h.65M261.5 42.8h.65M261.8 39.8h.65M259.9 54.1h.65M258.2 58.3h.65M263.6 35.3h.65M255.3 39.1h.65M261.8 36.9h.65M258.8 54.2h.65M254.4 57.7h.65M259.1 31.9h.65M262.0 43.1h.65M254.3 42.6h.65M253.6 36.3h.65M262.1 44.2h.65M254.3 36.0h.65M258.4 58.3h.65M254.8 51.2h.65M259.2 32.7h.65M259.8 52.2h.65M254.6 39.7h.65M262.3 39.8h.65M254.9 40.6h.65M254.4 41.3h.65M254.3 40.9h.65M260.0 50.5h.65M262.3 40.6h.65M253.6 55.3h.65M259.2 57.6h.65M254.5 47.0h.65M255.3 40.0h.65M261.6 33.3h.65M262.0 43.4h.65M254.2 35.9h.65M263.4 35.1h.65M262.9 33.8h.65M255.1 36.8h.65M262.6 41.3h.65M256.5 60.9h.65M253.9 49.8h.65M258.3 58.8h.65M257.7 31.9h.65M258.3 58.0h.65M262.4 33.5h.65M257.9 57.9h.65M254.8 37.0h.65M257.0 58.0h.65M261.7 41.1h.65M256.4 63.1h.65M256.4 60.4h.65M261.7 43.1h.65M254.2 48.9h.65M260.6 48.3h.65M259.8 49.4h.65M257.9 57.8h.65M253.4 46.4h.65M253.8 35.1h.65M255.5 62.9h.65M259.7 52.5h.65M263.6 40.5h.65M255.8 34.3h.65M262.2 34.6h.65M261.1 47.3h.65M259.5 32.3h.65M253.8 56.9h.65M254.4 39.5h.65M262.6 32.7h.65M254.6 48.1h.65M261.9 43.8h.65M261.2 42.5h.65M254.2 35.4h.65M254.0 52.3h.65M253.5 56.0h.65M262.9 36.2h.65M263.2 35.1h.65M254.5 37.9h.65M259.9 31.9h.65M256.3 33.0h.65M259.7 32.3h.65M257.7 32.5h.65M260.2 50.6h.65M259.4 51.5h.65M254.7 39.8h.65M253.8 51.6h.65M255.2 49.7h.65M255.9 35.5h.65M253.9 50.1h.65M258.2 59.2h.65M255.6 60.1h.65M254.7 58.7h.65M254.4 59.6h.65M254.8 36.4h.65M255.9 62.2h.65M258.0 58.3h.65M254.9 40.3h.65M257.6 66.8h.65M234.6 68.0h.65M234.4 82.6h.65M234.9 69.9h.65M237.6 75.7h.65M235.4 70.2h.65M235.4 74.3h.65M227.2 77.0h.65M220.8 79.7h.65M235.3 82.0h.65M235.5 73.6h.65M232.8 82.9h.65M234.7 74.1h.65M234.8 78.0h.65M236.6 83.5h.65M236.1 75.7h.65M236.1 73.9h.65M237.3 84.5h.65M235.1 81.4h.65M234.0 83.0h.65M236.9 71.3h.65M219.9 78.7h.65M236.2 87.0h.65M225.0 86.2h.65M234.6 80.6h.65M234.7 72.0h.65M234.9 74.6h.65M234.7 68.2h.65M237.3 83.4h.65M233.9 74.3h.65M233.9 76.4h.65M233.8 72.9h.65M235.7 82.3h.65M237.3 79.8h.65M232.5 83.5h.65M237.1 81.6h.65M234.4 81.2h.65M235.2 73.6h.65M235.1 78.0h.65M235.8 81.3h.65M234.1 75.2h.65M237.3 69.6h.65M235.2 80.2h.65M235.2 81.3h.65M235.0 84.5h.65M233.8 74.9h.65M233.2 82.1h.65M233.8 74.7h.65M233.9 70.5h.65M235.2 69.0h.65M236.3 67.9h.65M234.8 80.0h.65M234.0 81.3h.65M235.4 84.0h.65M233.7 83.3h.65M234.5 68.8h.65M236.8 78.6h.65M237.8 74.3h.65M235.6 71.0h.65M237.9 85.8h.65M237.3 77.9h.65M235.3 68.8h.65M237.4 81.4h.65M234.2 88.7h.65M234.0 72.6h.65M235.8 68.5h.65M233.6 69.7h.65M235.2 70.3h.65M236.0 67.2h.65M233.9 80.3h.65M236.3 83.9h.65M236.8 80.3h.65M235.4 83.4h.65M234.9 78.5h.65M234.1 87.0h.65M233.2 85.8h.65" stroke="rgb(31, 122, 196)" stroke-width=".65" stroke-opacity="0.75"/>
<path d="M254.3 55.0h.65M255.2 59.1h.65M255.0 41.8h.65M255.9 34.6h.65M259.6 32.4h.65M256.0 59.5h.65M254.8 57.8h.65M257.2 59.7h.65M253.8 55.8h.65M259.1 56.3h.65M259.1 32.9h.65M257.1 32.9h.65M254.7 53.8h.65M254.2 48.5h.65M260.3 48.4h.65M255.8 58.1h.65M255.3 59.4h.65M254.5 56.1h.65M254.1 40.2h.65M261.7 38.9h.65M262.3 38.8h.65M254.6 47.8h.65M255.0 40.9h.65M255.0 47.5h.65M254.0 41.1h.65M262.2 35.8h.65M257.6 55.3h.65M255.3 59.5h.65M256.4 33.5h.65M258.9 51.7h.65M261.3 34.1h.65M257.9 58.7h.65M258.3 58.8h.65M261.0 44.7h.65M252.9 48.1h.65M254.9 40.6h.65M261.0 44.4h.65M260.0 48.4h.65M254.1 56.9h.65M256.0 60.9h.65M259.5 52.6h.65M255.2 59.1h.65M256.0 61.8h.65M257.4 58.5h.65M255.1 36.0h.65M260.8 47.6h.65M256.2 58.7h.65M257.9 59.6h.65M261.8 35.3h.65M255.4 58.9h.65M261.2 42.0h.65M258.4 33.0h.65M258.2 53.3h.65M258.5 54.3h.65M254.9 47.3h.65M254.7 44.3h.65M262.6 40.0h.65M255.3 52.9h.65M256.0 59.1h.65M255.6 34.3h.65M254.6 51.5h.65M260.1 32.8h.65M262.5 37.2h.65M254.8 48.7h.65M260.1 50.2h.65M255.8 52.9h.65M258.9 32.4h.65M255.8 34.9h.65M255.3 35.1h.65M257.7 58.1h.65M256.2 59.7h.65M261.9 38.8h.65M261.4 42.9h.65M255.7 35.7h.65M261.9 38.7h.65M255.7 38.1h.65M261.1 46.4h.65M255.4 39.5h.65M254.2 36.7h.65M255.4 53.5h.65M255.7 56.7h.65M262.5 35.8h.65M261.9 33.9h.65M255.2 61.8h.65M254.9 42.1h.65M256.9 58.0h.65M261.8 37.7h.65M254.8 57.4h.65M254.5 60.2h.65M262.2 38.6h.65M254.2 53.2h.65M255.2 35.7h.65M254.2 57.3h.65M255.7 47.1h.65M261.6 37.9h.65M254.3 57.1h.65M262.1 35.1h.65M255.0 37.5h.65M257.2 58.1h.65M259.2 54.4h.65M262.3 42.3h.65M259.0 56.4h.65M255.0 44.2h.65M260.9 46.5h.65M254.3 51.4h.65M254.6 43.3h.65M254.9 41.4h.65M255.3 53.7h.65M261.1 43.0h.65M254.6 57.6h.65M261.3 33.2h.65M256.8 57.6h.65M254.6 47.0h.65M255.4 57.3h.65M261.0 44.5h.65M261.5 34.3h.65M255.1 40.8h.65M255.4 48.0h.65M260.3 47.9h.65M261.8 41.8h.65M253.3 52.3h.65M257.2 32.9h.65M255.1 51.8h.65M261.6 41.7h.65M262.6 38.1h.65M257.2 58.9h.65M254.5 47.0h.65M261.5 39.4h.65M259.9 55.5h.65M254.3 49.2h.65M254.6 39.7h.65M254.8 48.5h.65M254.0 46.2h.65M253.0 51.8h.65M254.5 57.4h.65M254.9 47.5h.65M261.1 32.6h.65M259.1 33.2h.65M261.2 34.1h.65M262.1 37.9h.65M259.5 54.8h.65M257.2 59.9h.65M254.7 56.7h.65M255.5 53.5h.65M257.7 33.2h.65M256.7 59.5h.65M261.3 38.7h.65M255.5 42.7h.65M262.5 35.9h.65M259.2 49.4h.65M254.0 48.7h.65M259.2 51.0h.65M262.3 37.1h.65M259.1 52.3h.65M255.7 35.9h.65M262.3 36.1h.65M254.4 50.5h.65M257.7 59.1h.65M260.9 46.0h.65M254.5 58.3h.65M256.7 60.0h.65M261.6 42.9h.65M254.7 48.3h.65M259.4 52.2h.65M255.9 37.0h.65M260.9 43.4h.65M255.0 46.8h.65M256.7 33.6h.65M258.1 52.5h.65M256.5 55.1h.65M261.1 42.3h.65M257.5 60.5h.65M254.9 44.1h.65M260.5 48.7h.65M256.7 57.8h.65M258.1 55.3h.65M259.1 55.5h.65M255.5 40.4h.65M257.3 56.9h.65M254.6 34.5h.65M254.5 35.6h.65M261.8 36.0h.65M261.4 33.1h.65M257.6 57.2h.65M261.0 43.6h.65M254.8 58.0h.65M262.5 33.1h.65M256.2 33.4h.65M258.0 57.8h.65M258.4 54.8h.65M255.3 39.4h.65M235.7 81.3h.65M234.1 74.4h.65M233.9 82.2h.65M235.1 76.6h.65M234.1 79.3h.65M235.3 79.5h.65M236.9 81.9h.65M234.6 80.1h.65M234.8 80.6h.65M236.6 76.9h.65M235.8 83.0h.65M236.9 66.8h.65M233.7 83.9h.65M236.5 80.8h.65M237.1 78.9h.65M239.4 81.5h.65M235.5 81.3h.65M235.1 70.7h.65" stroke="rgb(32, 143, 194)" stroke-width=".65" stroke-opacity="0.9"/>
<path d="M258.6 54.6h.65M254.8 50.8h.65M254.6 50.6h.65M256.0 39.5h.65M261.3 42.3h.65M254.4 40.9h.65M261.7 38.3h.65M258.0 33.9h.65M258.9 51.4h.65M260.2 46.5h.65M255.6 35.8h.65M257.1 57.7h.65M255.1 54.5h.65M254.9 54.1h.65M260.8 46.5h.65M258.8 51.5h.65M255.0 41.2h.65M262.9 35.7h.65M261.4 35.7h.65M256.3 57.9h.65M254.6 42.9h.65M255.3 52.9h.65M257.5 55.8h.65M258.6 33.0h.65M255.1 40.3h.65M260.6 46.0h.65M257.7 50.6h.65M260.9 46.3h.65M257.7 55.6h.65M259.2 53.7h.65M256.2 36.1h.65M255.2 59.0h.65M255.5 52.8h.65M260.5 43.9h.65M257.1 33.1h.65M258.6 54.5h.65M260.9 46.7h.65M257.0 57.9h.65M254.5 56.6h.65M255.2 42.8h.65M261.4 39.8h.65M261.0 33.3h.65M256.7 58.7h.65M255.1 51.0h.65M256.8 35.2h.65M256.8 54.1h.65M259.9 48.8h.65M257.9 54.9h.65M255.3 54.8h.65M257.7 55.9h.65M261.4 41.4h.65M256.4 59.2h.65M261.8 37.0h.65M257.0 57.4h.65M255.3 39.6h.65M257.4 55.9h.65M255.3 54.7h.65M256.8 56.9h.65M255.5 50.6h.65M262.0 37.2h.65M259.6 48.7h.65M255.9 34.9h.65M254.4 59.4h.65M257.6 53.7h.65M255.7 43.6h.65M260.2 46.1h.65M255.1 50.7h.65M260.9 43.9h.65M259.2 49.8h.65M257.6 56.4h.65M261.3 40.2h.65M261.3 46.5h.65M255.0 53.3h.65M260.5 34.1h.65M255.2 36.3h.65M258.3 56.4h.65M260.0 48.1h.65M258.0 33.4h.65M254.9 52.7h.65M261.4 42.2h.65M255.0 45.3h.65M255.0 53.1h.65M255.9 36.9h.65M256.0 34.5h.65M258.1 55.0h.65M254.7 43.5h.65M258.5 53.7h.65M255.5 57.4h.65M257.5 58.2h.65M258.2 53.7h.65M261.2 40.8h.65M256.5 35.3h.65M259.8 49.2h.65M261.3 34.2h.65M255.0 40.6h.65M254.7 53.2h.65M255.1 54.0h.65M255.8 41.2h.65M258.6 52.6h.65M257.8 58.2h.65M257.0 32.2h.65M256.0 35.9h.65M259.8 50.9h.65M260.7 45.0h.65M256.0 37.4h.65M261.0 46.1h.65M255.4 36.3h.65M255.4 38.6h.65M254.8 37.3h.65M255.0 42.1h.65M255.4 54.0h.65M256.0 55.7h.65M255.9 37.6h.65M254.9 48.9h.65M254.9 51.2h.65M261.9 36.4h.65M255.7 46.2h.65M260.5 33.1h.65M261.3 41.7h.65M260.7 44.3h.65M260.9 47.0h.65M258.3 54.7h.65M256.3 37.4h.65M256.0 54.6h.65M255.0 51.9h.65M262.1 33.1h.65M254.3 57.6h.65M254.5 56.2h.65M254.4 46.9h.65M262.1 35.8h.65M260.9 43.5h.65M260.7 33.2h.65M261.3 36.9h.65M255.6 37.9h.65M256.9 56.9h.65M257.0 35.4h.65M259.6 33.3h.65M256.4 34.2h.65M256.5 35.0h.65M261.5 41.2h.65M260.6 44.9h.65M260.9 45.9h.65M260.5 45.6h.65M255.9 42.6h.65M255.2 46.9h.65M262.0 37.4h.65M261.6 35.0h.65M260.9 33.9h.65M255.2 37.4h.65M257.6 58.1h.65M259.5 50.6h.65M258.5 50.1h.65M255.9 45.7h.65M257.6 56.0h.65M255.3 47.1h.65M256.3 57.4h.65M256.1 53.9h.65M254.9 47.7h.65M254.7 54.4h.65M255.5 46.5h.65M256.5 56.8h.65M260.3 47.2h.65M255.1 48.1h.65M255.6 38.2h.65M255.5 34.6h.65M260.3 48.2h.65M255.4 38.4h.65M256.0 36.6h.65M255.1 46.6h.65M261.0 44.9h.65M255.8 34.7h.65M255.9 61.7h.65M257.0 58.4h.65M262.6 34.0h.65M255.1 39.6h.65M254.8 46.1h.65M257.3 58.5h.65M256.3 57.6h.65M258.3 32.9h.65M261.8 40.2h.65M255.3 58.3h.65M254.4 54.7h.65M255.1 44.4h.65M257.9 57.7h.65M257.3 33.7h.65M255.1 37.5h.65M260.2 45.1h.65M256.8 34.5h.65M258.6 56.0h.65M259.4 52.2h.65M257.6 55.5h.65M254.7 51.3h.65M255.5 40.0h.65M258.0 58.6h.65M235.0 68.7h.65M234.0 74.4h.65" stroke="rgb(42, 161, 169)" stroke-width=".65" stroke-opacity="0.9"/>
<path d="M258.9 52.0h.65M259.7 47.8h.65M261.5 35.5h.65M259.0 54.4h.65M260.9 43.7h.65M259.3 48.1h.65M255.9 39.2h.65M256.4 35.5h.65M255.1 42.9h.65M255.7 45.1h.65M255.5 46.9h.65M256.3 56.9h.65M255.6 48.5h.65M260.2 46.8h.65M255.7 54.6h.65M255.3 45.8h.65M255.6 51.8h.65M257.2 56.3h.65M255.4 57.9h.65M257.2 35.1h.65M257.9 52.3h.65M255.7 49.1h.65M255.6 42.0h.65M255.2 40.3h.65M256.2 35.6h.65M259.3 48.6h.65M255.9 56.1h.65M256.2 40.9h.65M255.4 48.7h.65M255.9 53.4h.65M256.3 57.8h.65M261.6 35.1h.65M255.9 43.7h.65M261.5 36.5h.65M262.0 35.2h.65M255.8 43.5h.65M255.3 49.1h.65M255.7 48.5h.65M255.1 53.7h.65M256.5 46.7h.65M257.2 53.7h.65M258.7 53.2h.65M259.6 49.3h.65M254.9 44.8h.65M255.8 33.9h.65M257.3 55.2h.65M256.5 57.6h.65M259.1 52.1h.65M256.2 37.2h.65M260.6 38.9h.65M261.4 37.4h.65M255.1 48.8h.65M259.9 47.6h.65M255.8 47.6h.65M255.6 54.4h.65M259.3 51.3h.65M255.5 56.6h.65M255.2 45.6h.65M258.7 48.8h.65M255.5 49.8h.65M255.2 44.1h.65M261.1 39.4h.65M255.1 49.4h.65M262.1 34.5h.65M255.6 49.4h.65M260.0 46.1h.65M256.4 57.8h.65M255.2 40.4h.65M256.2 37.7h.65M255.1 49.4h.65M257.6 33.7h.65M260.6 44.2h.65M256.1 44.2h.65M261.4 36.3h.65M257.0 56.4h.65M259.3 33.3h.65M258.9 33.2h.65M255.7 56.9h.65M261.8 36.3h.65M254.9 43.7h.65M259.4 52.1h.65M255.5 41.8h.65M256.8 55.5h.65M255.5 41.2h.65M256.4 53.8h.65M256.0 54.5h.65M255.4 53.3h.65M261.8 36.4h.65M258.9 33.6h.65M261.2 38.6h.65M256.1 41.6h.65M262.1 34.9h.65M257.9 57.1h.65M255.6 46.1h.65M256.5 58.5h.65M257.1 56.8h.65M255.2 53.3h.65M254.9 54.6h.65M258.4 52.8h.65M255.4 49.3h.65M258.1 53.7h.65M255.7 50.5h.65M260.6 43.4h.65M260.1 49.2h.65M255.7 45.9h.65M256.4 39.3h.65M261.4 35.1h.65M255.8 49.8h.65M259.9 44.9h.65M256.7 57.9h.65M255.9 54.1h.65M256.2 40.3h.65M255.8 57.0h.65M258.8 50.7h.65M259.2 49.6h.65M260.8 33.9h.65M255.1 48.1h.65M258.8 48.8h.65M257.8 33.2h.65M255.6 53.2h.65M255.8 54.5h.65M257.2 35.1h.65M256.1 56.0h.65M259.1 48.5h.65M257.0 56.1h.65M258.5 50.8h.65M258.0 50.2h.65M261.2 40.5h.65M256.1 45.7h.65M255.6 46.1h.65M259.2 49.0h.65M258.1 52.4h.65M255.4 45.0h.65M256.0 55.2h.65M260.6 44.8h.65M257.6 55.2h.65M262.0 37.8h.65M255.9 56.2h.65M256.0 40.0h.65M256.3 52.8h.65M260.9 34.4h.65M257.0 34.0h.65M259.6 47.1h.65M258.0 55.8h.65M255.6 36.2h.65M255.6 46.5h.65M254.6 49.4h.65M260.5 33.9h.65M255.9 56.2h.65M255.2 48.1h.65M257.1 55.2h.65M258.2 53.0h.65M255.9 47.3h.65M259.8 33.9h.65M258.2 54.6h.65M255.3 54.6h.65M260.5 42.1h.65M255.3 43.5h.65M255.7 49.0h.65M255.2 50.5h.65M256.1 37.0h.65M256.4 55.0h.65M258.5 52.8h.65M258.2 53.9h.65M261.3 36.5h.65" stroke="rgb(57, 177, 138)" stroke-width=".65" stroke-opacity="0.9"/>
<path d="M255.3 55.1h.65M256.4 53.4h.65M261.6 39.0h.65M256.9 38.3h.65M259.1 49.5h.65M256.4 37.1h.65M260.3 44.5h.65M258.6 51.7h.65M255.9 41.4h.65M256.1 35.8h.65M256.9 55.5h.65M256.5 35.5h.65M255.9 48.1h.65M257.4 49.6h.65M258.0 34.9h.65M256.7 52.6h.65M261.3 39.9h.65M261.3 37.2h.65M258.9 53.4h.65M257.6 54.2h.65M258.4 33.9h.65M256.1 39.0h.65M260.1 33.7h.65M261.1 37.5h.65M261.5 36.7h.65M257.0 53.0h.65M256.5 52.9h.65M257.5 51.8h.65M259.7 46.1h.65M257.1 52.9h.65M256.5 38.8h.65M261.7 35.9h.65M259.6 32.5h.65M256.3 44.9h.65M255.7 41.5h.65M260.8 38.9h.65M256.7 35.9h.65M260.8 40.1h.65M261.1 37.2h.65M256.1 51.7h.65M261.4 36.7h.65M257.1 51.8h.65M256.5 55.6h.65M258.7 34.3h.65M255.4 50.3h.65M259.2 48.1h.65M256.6 47.3h.65M258.0 51.3h.65M261.0 37.6h.65M255.4 49.3h.65M256.3 41.0h.65M257.1 56.0h.65M256.4 50.0h.65M261.3 38.2h.65M256.7 37.1h.65M257.2 35.2h.65M255.5 53.2h.65M257.1 52.7h.65M256.1 42.1h.65M256.4 45.7h.65M257.0 55.8h.65M261.0 36.6h.65M259.4 33.7h.65M258.5 33.8h.65M256.1 48.4h.65M256.2 38.6h.65M258.3 50.3h.65M257.5 35.1h.65M255.9 35.0h.65M257.7 49.8h.65M260.8 37.0h.65M259.5 46.8h.65M256.1 40.8h.65M256.6 35.7h.65M256.9 55.3h.65M257.5 50.6h.65M256.1 40.8h.65M260.9 36.9h.65M258.0 51.7h.65M256.3 41.5h.65M260.9 37.1h.65M256.3 47.4h.65M255.8 52.7h.65M258.9 33.7h.65M255.3 57.2h.65M256.4 48.4h.65M256.9 53.4h.65M256.8 49.4h.65M260.6 35.2h.65M256.2 50.7h.65M257.1 36.0h.65M257.0 51.4h.65M256.4 47.2h.65M256.0 52.9h.65M255.7 44.2h.65M255.3 57.0h.65M260.8 39.1h.65M257.2 50.4h.65M256.7 50.8h.65M256.8 53.5h.65M260.3 45.0h.65M259.1 33.1h.65M260.6 42.6h.65M256.4 39.4h.65M260.8 41.9h.65M256.8 34.6h.65M257.3 55.2h.65M256.2 43.9h.65M258.9 49.1h.65M256.2 44.2h.65M255.9 42.7h.65M258.0 50.0h.65M256.7 49.9h.65M261.3 38.2h.65M255.5 48.9h.65M259.0 49.5h.65M255.5 47.2h.65M256.3 43.0h.65M259.5 46.6h.65M261.1 38.3h.65M255.8 53.7h.65M255.4 40.3h.65M256.9 43.2h.65M256.3 47.0h.65M260.6 37.5h.65M257.2 54.2h.65M260.5 40.3h.65M255.9 38.5h.65M256.0 40.6h.65M258.3 34.6h.65M256.7 51.9h.65M256.7 57.8h.65M256.2 56.0h.65M259.4 33.6h.65M258.9 48.1h.65M260.7 40.5h.65M255.7 46.0h.65M256.1 55.5h.65M257.9 51.4h.65M256.0 40.8h.65M255.9 46.9h.65M259.4 47.3h.65M257.2 34.5h.65M256.0 46.6h.65M255.1 47.6h.65M258.9 34.0h.65M259.8 44.1h.65M258.0 34.4h.65M255.9 41.4h.65M259.7 33.6h.65M257.3 53.6h.65M260.8 34.9h.65M257.1 35.2h.65M256.3 54.6h.65M257.6 56.1h.65M257.2 34.4h.65M259.3 47.3h.65M256.9 53.7h.65M256.6 46.0h.65M257.2 50.0h.65M259.7 45.7h.65M257.1 54.9h.65M257.1 53.3h.65M260.7 39.2h.65M260.8 37.0h.65M260.4 34.1h.65" stroke="rgb(88, 187, 92)" stroke-width=".65" stroke-opacity="0.9"/>
<path d="M256.6 41.2h.65M255.9 49.6h.65M256.0 45.7h.65M258.9 34.4h.65M260.9 39.6h.65M259.8 41.5h.65M256.7 41.5h.65M257.5 47.4h.65M261.0 39.3h.65M260.7 40.7h.65M257.6 48.3h.65M259.1 47.1h.65M260.0 34.9h.65M256.1 40.3h.65M256.8 50.1h.65M258.9 46.5h.65M259.2 48.6h.65M258.3 49.4h.65M260.1 43.1h.65M257.5 48.4h.65M256.7 37.2h.65M256.2 43.6h.65M257.0 48.2h.65M257.0 49.3h.65M257.3 54.4h.65M258.5 49.2h.65M257.5 51.0h.65M257.8 34.8h.65M256.5 48.0h.65M260.9 40.4h.65M255.3 54.9h.65M259.4 49.1h.65M256.7 39.9h.65M255.9 46.7h.65M258.1 54.6h.65M256.1 41.6h.65M257.3 36.9h.65M256.9 54.0h.65M257.3 38.4h.65M256.6 37.4h.65M256.2 50.1h.65M259.5 46.9h.65M261.0 37.4h.65M260.4 35.5h.65M256.0 43.9h.65M258.7 47.4h.65M261.0 35.9h.65M256.5 41.3h.65M256.5 45.5h.65M257.8 50.0h.65M256.1 48.8h.65M261.1 38.4h.65M257.2 37.2h.65M257.2 52.0h.65M256.7 51.0h.65M257.1 43.1h.65M257.2 49.0h.65M257.4 50.0h.65M255.7 42.9h.65M257.1 47.2h.65M258.0 50.2h.65M256.8 39.0h.65M258.1 49.5h.65M257.7 54.5h.65M257.5 52.0h.65M259.1 49.2h.65M259.0 49.5h.65M260.0 43.1h.65M256.8 51.7h.65M258.9 46.6h.65M260.2 33.9h.65M257.5 38.0h.65M259.5 34.4h.65M255.6 40.9h.65M257.4 48.7h.65M259.2 47.4h.65M260.0 46.0h.65M257.2 53.5h.65M257.6 53.2h.65M257.2 48.9h.65M260.5 39.8h.65M256.9 35.0h.65M260.7 37.1h.65M257.2 36.6h.65M256.3 47.7h.65M258.5 50.6h.65M260.9 41.0h.65M256.9 40.2h.65M257.0 50.2h.65M259.0 49.3h.65M256.0 42.7h.65M257.0 48.8h.65M257.8 50.4h.65M256.8 50.2h.65M255.8 46.6h.65M256.1 43.5h.65M255.3 51.5h.65M261.0 35.2h.65M261.1 36.3h.65M256.9 48.8h.65M257.4 35.7h.65M260.5 42.1h.65M259.7 45.8h.65M256.6 40.3h.65M256.1 44.1h.65M257.4 34.9h.65M257.1 51.2h.65M256.5 42.0h.65M256.5 53.9h.65M256.4 48.3h.65M257.1 38.4h.65M256.1 44.0h.65M256.2 44.7h.65M256.1 56.0h.65M256.2 48.1h.65M257.6 36.0h.65M256.2 43.8h.65M257.8 35.0h.65M259.4 47.7h.65M260.4 34.2h.65M256.2 44.3h.65M261.3 36.7h.65M256.8 51.9h.65M256.6 48.3h.65M257.5 37.8h.65M256.7 40.1h.65M260.3 35.3h.65M256.5 44.5h.65M257.0 48.4h.65M257.1 48.9h.65M257.7 35.1h.65M256.9 53.0h.65M261.3 37.7h.65M256.7 46.5h.65M257.9 50.6h.65M256.1 37.2h.65M256.8 38.8h.65M259.9 43.5h.65M256.8 53.9h.65M256.4 45.1h.65M256.6 50.4h.65M257.2 50.8h.65M257.0 52.5h.65M259.3 47.5h.65M257.2 53.1h.65M257.1 40.9h.65M258.0 51.3h.65M258.1 48.2h.65M260.7 34.9h.65M257.1 51.8h.65M259.8 42.2h.65M259.1 48.5h.65M255.9 46.1h.65M259.3 45.3h.65M260.8 35.0h.65M257.0 39.5h.65M256.5 48.6h.65M255.9 45.6h.65M256.2 50.1h.65" stroke="rgb(125, 197, 57)" stroke-width=".65" stroke-opacity="0.9"/>
<path d="M256.2 39.4h.65M259.3 47.9h.65M258.1 48.6h.65M259.6 42.9h.65M259.0 47.0h.65M256.6 42.1h.65M256.4 40.7h.65M257.5 47.9h.65M259.6 43.2h.65M257.9 49.9h.65M257.5 48.1h.65M257.3 48.6h.65M258.7 47.8h.65M258.8 47.6h.65M256.3 45.8h.65M257.1 45.6h.65M257.6 48.2h.65M257.0 50.6h.65M260.7 36.0h.65M257.9 35.5h.65M257.3 45.8h.65M256.9 42.1h.65M260.3 39.5h.65M259.6 44.3h.65M260.3 39.8h.65M256.9 41.5h.65M256.7 45.7h.65M256.5 54.2h.65M256.8 49.2h.65M260.1 36.1h.65M259.6 43.9h.65M257.0 37.0h.65M256.3 40.4h.65M258.4 34.3h.65M256.8 42.2h.65M257.5 37.5h.65M257.2 47.3h.65M257.0 40.8h.65M256.6 48.0h.65M256.9 43.7h.65M256.9 43.9h.65M256.9 38.2h.65M256.1 40.7h.65M258.6 48.2h.65M257.3 48.7h.65M258.1 35.0h.65M257.5 38.7h.65M256.7 38.5h.65M256.4 43.4h.65M257.6 49.0h.65M257.6 37.3h.65M257.3 35.1h.65M256.7 46.4h.65M257.7 35.0h.65M258.2 47.5h.65M257.7 51.8h.65M256.9 43.0h.65M257.2 40.0h.65M259.5 45.3h.65M256.3 39.6h.65M256.8 45.9h.65M258.9 35.4h.65M260.1 37.2h.65M256.7 41.5h.65M258.5 47.8h.65M257.9 39.8h.65M260.2 44.0h.65M257.5 46.0h.65M258.5 47.6h.65M260.7 38.0h.65M257.3 38.8h.65M258.2 48.9h.65M259.0 46.5h.65M259.7 34.6h.65M257.0 39.1h.65M259.8 36.0h.65M257.1 39.8h.65M256.7 37.8h.65M256.9 47.2h.65M256.1 51.7h.65M256.8 49.6h.65M258.9 46.7h.65M259.7 44.6h.65M257.3 50.6h.65M260.5 37.7h.65M259.3 42.5h.65M259.6 43.0h.65M256.5 46.8h.65M259.2 46.5h.65M259.5 45.6h.65M257.1 53.0h.65M260.4 35.4h.65M259.7 45.3h.65M257.3 49.9h.65M257.7 50.5h.65M257.0 45.9h.65M259.5 45.3h.65M257.2 52.0h.65M256.4 40.0h.65M256.9 42.1h.65M257.0 46.5h.65M257.0 45.2h.65M257.5 35.7h.65M256.6 42.4h.65M260.3 40.4h.65M257.4 52.5h.65M259.0 46.9h.65M257.4 49.1h.65M260.5 37.6h.65M258.4 49.4h.65M259.2 34.8h.65M256.8 40.5h.65M256.9 49.0h.65M259.5 45.1h.65M260.5 37.6h.65M259.0 35.2h.65M256.5 38.3h.65M257.5 37.0h.65M257.0 39.1h.65M258.5 48.3h.65M260.4 38.8h.65M257.9 48.4h.65M257.3 53.5h.65M257.6 36.9h.65M260.6 38.9h.65M260.2 41.8h.65M260.5 38.0h.65M259.8 38.8h.65M260.2 35.5h.65M261.0 38.0h.65M259.5 35.0h.65M258.2 49.5h.65M257.0 45.7h.65" stroke="rgb(175, 204, 47)" stroke-width=".65" stroke-opacity="0.9"/>
<path d="M257.7 48.9h.65M258.3 42.7h.65M257.2 40.7h.65M257.0 44.4h.65M257.5 45.2h.65M257.7 46.2h.65M257.6 39.9h.65M257.6 49.7h.65M257.3 38.8h.65M256.7 46.0h.65M258.6 38.8h.65M260.2 39.7h.65M258.4 46.9h.65M257.9 45.1h.65M258.5 47.1h.65M257.9 48.0h.65M257.6 49.0h.65M259.6 42.4h.65M257.0 43.7h.65M257.3 39.5h.65M258.8 45.1h.65M260.6 39.8h.65M259.3 44.8h.65M257.0 44.4h.65M257.3 39.0h.65M257.7 46.6h.65M258.3 45.7h.65M257.3 49.7h.65M259.1 42.7h.65M259.4 42.8h.65M259.9 43.7h.65M260.1 38.9h.65M257.5 49.4h.65M257.3 36.9h.65M257.1 40.7h.65M259.5 43.1h.65M258.6 35.2h.65M258.3 47.7h.65M256.7 48.8h.65M258.2 34.8h.65M257.9 40.1h.65M257.2 42.1h.65M256.9 41.5h.65M258.6 46.1h.65M257.6 48.5h.65M257.5 41.4h.65M260.4 37.1h.65M257.3 45.5h.65M259.5 35.2h.65M256.4 46.2h.65M258.0 35.8h.65M257.6 39.5h.65M257.1 36.4h.65M259.8 35.1h.65M257.0 45.4h.65M260.5 37.4h.65M257.3 48.3h.65M260.4 37.8h.65M258.1 38.0h.65M257.3 38.2h.65M259.7 42.7h.65M260.5 36.2h.65M257.9 35.5h.65M256.7 38.8h.65M256.8 49.5h.65M257.3 47.3h.65M258.1 48.5h.65M257.9 47.2h.65M259.8 35.1h.65M257.8 43.1h.65M259.9 34.8h.65M257.7 47.8h.65M257.4 39.7h.65M258.0 45.3h.65M256.8 39.3h.65M256.7 43.3h.65M257.5 40.2h.65M259.8 38.1h.65M257.0 49.6h.65M257.0 55.6h.65M259.4 35.8h.65M260.8 37.6h.65M258.3 49.0h.65M259.2 46.0h.65M256.7 44.2h.65M260.4 37.5h.65M257.1 36.2h.65M258.5 44.0h.65M260.1 41.9h.65M259.5 36.0h.65M259.8 35.8h.65M257.0 45.1h.65M260.3 38.8h.65M258.6 46.3h.65M260.4 40.8h.65M260.3 35.1h.65M258.9 45.7h.65M260.6 37.0h.65M259.6 35.5h.65M259.9 34.4h.65M257.4 45.4h.65M260.2 36.1h.65M257.4 49.1h.65M258.7 44.2h.65M258.1 36.5h.65M259.8 36.4h.65M258.0 38.2h.65M257.5 38.3h.65M258.8 46.7h.65M257.3 46.1h.65M259.7 38.7h.65M257.8 47.8h.65M256.9 48.7h.65M257.4 38.1h.65" stroke="rgb(217, 204, 39)" stroke-width=".65" stroke-opacity="0.9"/>
<path d="M259.2 39.2h.65M259.8 41.6h.65M260.2 38.0h.65M257.9 37.0h.65M259.9 36.9h.65M259.5 41.6h.65M257.7 38.6h.65M258.6 36.5h.65M259.0 45.4h.65M257.9 40.5h.65M259.9 40.6h.65M258.2 36.5h.65M258.6 35.3h.65M258.9 37.0h.65M258.7 37.9h.65M257.8 38.2h.65M258.4 43.7h.65M260.0 41.1h.65M258.7 43.4h.65M257.3 39.1h.65M257.3 41.2h.65M257.4 37.2h.65M258.1 45.0h.65M258.3 38.3h.65M259.6 42.3h.65M257.6 41.1h.65M260.3 37.1h.65M258.8 44.4h.65M259.5 41.4h.65M257.9 45.0h.65M259.9 37.8h.65M258.1 37.4h.65M256.8 45.7h.65M257.1 43.7h.65M257.7 38.4h.65M259.1 45.4h.65M260.0 37.0h.65M257.1 48.4h.65M259.1 42.3h.65M259.5 35.5h.65M258.0 46.9h.65M257.2 43.2h.65M259.9 37.5h.65M258.0 44.1h.65M258.9 42.2h.65M259.8 35.3h.65M257.9 44.9h.65M258.0 39.8h.65M259.1 44.9h.65M259.4 40.2h.65M257.4 40.2h.65M257.2 48.3h.65M257.7 46.8h.65M260.0 36.4h.65M258.1 35.8h.65M258.9 36.9h.65M258.8 45.0h.65M258.0 47.7h.65M257.4 48.6h.65M256.4 42.2h.65M258.5 37.5h.65M257.7 40.6h.65M257.6 40.9h.65M258.3 44.6h.65M260.5 36.8h.65M259.8 38.8h.65M258.2 46.6h.65M256.9 47.9h.65M259.3 44.5h.65M256.8 45.6h.65M258.1 38.5h.65M258.9 35.4h.65M258.0 44.5h.65M259.3 43.7h.65M257.8 44.2h.65M258.9 36.4h.65M258.6 42.2h.65M258.9 35.8h.65M259.3 43.9h.65M258.3 37.7h.65M258.5 42.2h.65M259.4 39.7h.65M258.0 42.4h.65M260.2 37.5h.65M259.9 37.0h.65M257.1 40.3h.65M257.9 45.4h.65M259.7 41.9h.65M258.3 45.7h.65M260.1 37.0h.65M257.8 37.7h.65M259.1 34.8h.65M257.2 42.2h.65M256.8 43.0h.65M258.0 41.3h.65M258.1 39.0h.65M258.0 47.5h.65M258.3 37.4h.65M257.4 37.7h.65M258.9 37.2h.65M257.1 41.6h.65M260.4 38.7h.65M257.9 38.9h.65M259.9 39.9h.65M258.7 46.6h.65M257.5 44.1h.65M258.0 47.5h.65" stroke="rgb(232, 175, 34)" stroke-width=".65" stroke-opacity="0.9"/>
<path d="M258.9 37.0h.65M257.2 47.9h.65M258.0 40.0h.65M258.7 45.0h.65M258.1 38.5h.65M258.4 44.4h.65M258.9 42.5h.65M259.0 38.8h.65M257.4 46.3h.65M259.0 38.4h.65M259.0 36.9h.65M258.5 36.9h.65M258.5 45.0h.65M258.6 41.5h.65M259.0 45.0h.65M259.9 38.2h.65M258.5 42.2h.65M258.1 42.0h.65M257.9 43.6h.65M260.3 38.2h.65M257.7 41.8h.65M259.3 36.9h.65M259.5 35.9h.65M259.5 38.5h.65M258.6 45.1h.65M260.0 36.5h.65M257.8 44.6h.65M259.4 39.8h.65M257.4 45.2h.65M258.4 40.6h.65M258.3 39.9h.65M258.3 42.2h.65M257.4 41.2h.65M259.1 38.3h.65M257.5 45.4h.65M258.1 37.1h.65M257.7 43.8h.65M258.1 38.8h.65M259.0 38.2h.65M259.5 37.5h.65M258.1 41.6h.65M258.1 37.6h.65M260.0 40.2h.65M258.7 36.1h.65M258.0 42.2h.65M257.0 44.3h.65M258.0 42.8h.65M259.0 40.3h.65M258.3 43.3h.65M258.2 43.9h.65M258.4 37.5h.65M258.5 37.0h.65M258.5 39.5h.65M257.0 46.1h.65M257.7 39.3h.65M258.0 43.3h.65M259.4 40.8h.65M258.3 36.6h.65M259.4 36.6h.65M257.5 43.8h.65M259.4 40.9h.65M258.6 36.9h.65M259.2 45.2h.65M259.1 36.6h.65M257.7 39.2h.65M258.4 39.7h.65M258.2 46.2h.65M258.5 41.0h.65M259.1 36.8h.65M259.4 41.1h.65M258.5 37.5h.65M258.5 37.8h.65M259.5 40.2h.65M259.4 38.5h.65M259.2 44.3h.65M259.3 39.0h.65M259.2 37.8h.65M259.6 36.5h.65M258.4 43.1h.65M258.5 42.6h.65M258.3 40.3h.65M258.6 36.7h.65M258.3 38.7h.65M257.9 40.2h.65M257.3 41.2h.65M257.8 43.2h.65M258.5 42.8h.65M258.2 39.8h.65M257.3 45.9h.65M258.9 40.5h.65M259.3 44.1h.65M258.6 41.2h.65M259.1 42.2h.65M260.0 38.1h.65M258.8 45.2h.65M259.0 38.7h.65M259.4 40.1h.65M257.8 42.5h.65M258.1 37.1h.65M258.3 36.4h.65M260.5 36.5h.65M257.3 46.2h.65M258.6 44.3h.65M257.9 44.4h.65" stroke="rgb(244, 146, 30)" stroke-width=".65" stroke-opacity="0.9"/>
<path d="M257.8 40.3h.65M258.7 39.6h.65M258.5 37.9h.65M259.1 35.7h.65M258.5 41.6h.65M258.9 41.2h.65M258.8 40.0h.65M258.8 41.4h.65M257.9 43.6h.65M258.2 38.1h.65M258.2 42.1h.65M259.3 37.1h.65M258.6 43.6h.65M258.0 38.4h.65M259.5 36.7h.65M258.5 43.0h.65M258.2 45.0h.65M258.3 38.3h.65M257.8 41.9h.65M258.0 43.9h.65M258.1 43.0h.65M258.7 36.8h.65M258.0 42.7h.65M259.1 37.8h.65M259.3 40.5h.65M258.8 38.2h.65M259.6 37.5h.65M259.0 39.1h.65M258.3 43.8h.65M258.8 39.2h.65M259.3 42.1h.65M259.4 39.0h.65M259.4 43.4h.65M259.2 40.0h.65M258.2 37.6h.65M258.3 44.5h.65M259.3 40.4h.65M257.9 41.6h.65M258.6 43.4h.65M258.4 45.2h.65M259.4 38.3h.65M258.8 39.4h.65M258.8 41.2h.65M258.4 41.2h.65M259.4 37.3h.65M258.0 44.6h.65M259.4 37.6h.65M258.0 36.8h.65M257.8 40.2h.65M257.9 44.3h.65M258.4 39.2h.65M259.7 37.5h.65M258.4 38.9h.65M258.8 37.8h.65M258.9 41.6h.65M257.6 43.4h.65M257.6 41.7h.65M259.0 37.0h.65M258.9 37.7h.65M259.4 39.5h.65M257.8 45.9h.65M258.5 42.6h.65M258.7 42.8h.65M259.4 38.9h.65M258.4 43.7h.65M257.9 47.3h.65M259.0 40.2h.65M258.5 41.6h.65M258.8 42.1h.65M259.6 41.2h.65M258.2 37.7h.65" stroke="rgb(238, 108, 30)" stroke-width=".65" stroke-opacity="0.9"/>
<path d="M259.0 38.8h.65M259.5 37.8h.65M258.8 42.7h.65M257.7 37.5h.65M258.7 39.8h.65M259.1 38.6h.65M259.3 37.7h.65M258.5 37.6h.65M259.2 40.3h.65M258.6 43.8h.65M259.0 40.0h.65M258.9 41.8h.65M258.2 42.1h.65M258.8 40.5h.65M259.0 40.7h.65M259.2 37.8h.65M258.7 41.5h.65M257.4 44.8h.65M259.8 39.1h.65M258.1 41.3h.65M258.6 40.7h.65M258.2 40.4h.65M258.4 41.2h.65M259.2 39.2h.65M259.4 37.5h.65M258.8 42.3h.65" stroke="rgb(232, 70, 30)" stroke-width=".65" stroke-opacity="0.9"/>
<rect x="213.50" y="27.70" width="66.70" height="66.60" fill="none" stroke="#777" stroke-width="0.8"/>
<line x1="213.50" y1="27.70" x2="213.50" y2="94.30" stroke="#333" stroke-width="0.9"/>
<line x1="213.50" y1="94.30" x2="280.20" y2="94.30" stroke="#444" stroke-width="0.8"/>
<rect x="249.60" y="29.40" width="20.10" height="33.90" fill="none" stroke="#222" stroke-width="0.9"/>
<rect x="219.50" y="66.20" width="52.80" height="24.10" fill="none" stroke="#222" stroke-width="0.9"/>
<text x="232.90" y="21.00" font-size="8.1" fill="#333" text-anchor="start" textLength="28.2" lengthAdjust="spacingAndGlyphs">CLPBg3</text>
<text x="226.80" y="39.50" font-size="7.2" fill="#333" text-anchor="start" textLength="17.2" lengthAdjust="spacingAndGlyphs">59.6%</text>
<text x="219.50" y="61.80" font-size="7.2" fill="#333" text-anchor="start" textLength="17.7" lengthAdjust="spacingAndGlyphs">36.6%</text>
<text x="211.60" y="31.90" font-size="4.5" fill="#444" text-anchor="end">10<tspan font-size="3" dy="-1.8">5</tspan></text>
<line x1="212.00" y1="30.30" x2="213.50" y2="30.30" stroke="#333" stroke-width="0.8"/>
<text x="211.60" y="41.10" font-size="4.5" fill="#444" text-anchor="end">10<tspan font-size="3" dy="-1.8">4</tspan></text>
<line x1="212.00" y1="39.50" x2="213.50" y2="39.50" stroke="#333" stroke-width="0.8"/>
<text x="211.60" y="51.90" font-size="4.5" fill="#444" text-anchor="end">10<tspan font-size="3" dy="-1.8">3</tspan></text>
<line x1="212.00" y1="50.30" x2="213.50" y2="50.30" stroke="#333" stroke-width="0.8"/>
<text x="211.60" y="63.20" font-size="4.5" fill="#444" text-anchor="end">10<tspan font-size="3" dy="-1.8">2</tspan></text>
<line x1="212.00" y1="61.60" x2="213.50" y2="61.60" stroke="#333" stroke-width="0.8"/>
<text x="211.60" y="78.40" font-size="4.5" fill="#444" text-anchor="end">0</text>
<line x1="212.00" y1="76.80" x2="213.50" y2="76.80" stroke="#333" stroke-width="0.8"/>
<text x="211.60" y="94.10" font-size="4.5" fill="#444" text-anchor="end">-10<tspan font-size="3" dy="-1.8">2</tspan></text>
<line x1="212.00" y1="92.50" x2="213.50" y2="92.50" stroke="#333" stroke-width="0.8"/>
<text x="230.10" y="101.80" font-size="4.5" fill="#444" text-anchor="middle">0</text>
<line x1="230.10" y1="94.30" x2="230.10" y2="95.60" stroke="#333" stroke-width="0.8"/>
<text x="247.00" y="101.80" font-size="4.5" fill="#444" text-anchor="middle">10<tspan font-size="3" dy="-1.8">3</tspan></text>
<line x1="247.00" y1="94.30" x2="247.00" y2="95.60" stroke="#333" stroke-width="0.8"/>
<text x="258.30" y="101.80" font-size="4.5" fill="#444" text-anchor="middle">10<tspan font-size="3" dy="-1.8">4</tspan></text>
<line x1="258.30" y1="94.30" x2="258.30" y2="95.60" stroke="#333" stroke-width="0.8"/>
<text x="270.50" y="101.80" font-size="4.5" fill="#444" text-anchor="middle">10<tspan font-size="3" dy="-1.8">5</tspan></text>
<line x1="270.50" y1="94.30" x2="270.50" y2="95.60" stroke="#333" stroke-width="0.8"/>
<text x="277.30" y="101.80" font-size="4.5" fill="#444" text-anchor="middle">10<tspan font-size="3" dy="-1.8">5</tspan></text>
<line x1="277.30" y1="94.30" x2="277.30" y2="95.60" stroke="#333" stroke-width="0.8"/>
<text x="200.50" y="60.90" font-size="3.6" fill="#444" text-anchor="middle" textLength="50.9" lengthAdjust="spacingAndGlyphs" transform="rotate(-90 200.50 60.90)">Comp-R1-A :: CD16-R-PE-A</text>
<path d="M212.6 58.20h0.9M212.6 56.21h0.9M212.6 54.80h0.9M212.6 53.70h0.9M212.6 52.81h0.9M212.6 52.05h0.9M212.6 51.40h0.9M212.6 50.82h0.9M212.6 47.05h0.9M212.6 45.15h0.9M212.6 43.80h0.9M212.6 42.75h0.9M212.6 41.90h0.9M212.6 41.17h0.9M212.6 40.55h0.9M212.6 39.99h0.9M212.6 36.73h0.9M212.6 35.11h0.9M212.6 33.96h0.9M212.6 33.07h0.9M212.6 32.34h0.9M212.6 31.73h0.9M212.6 31.19h0.9M212.6 30.72h0.9M212.6 66.00h0.9M212.6 70.00h0.9M212.6 73.50h0.9M212.6 80.00h0.9M212.6 83.50h0.9M212.6 87.00h0.9M250.40 94.3v0.9M252.39 94.3v0.9M253.80 94.3v0.9M254.90 94.3v0.9M255.79 94.3v0.9M256.55 94.3v0.9M257.20 94.3v0.9M257.78 94.3v0.9M261.97 94.3v0.9M264.12 94.3v0.9M265.65 94.3v0.9M266.83 94.3v0.9M267.79 94.3v0.9M268.61 94.3v0.9M269.32 94.3v0.9M269.94 94.3v0.9M220.50 94.3v0.9M223.50 94.3v0.9M226.00 94.3v0.9M227.50 94.3v0.9M228.80 94.3v0.9M231.50 94.3v0.9M232.80 94.3v0.9M234.50 94.3v0.9M237.00 94.3v0.9M240.00 94.3v0.9M243.00 94.3v0.9M245.00 94.3v0.9" stroke="#333" stroke-width="0.6"/>
<line x1="29.60" y1="25.20" x2="29.60" y2="105.20" stroke="#444" stroke-width="1.3"/>
<line x1="29.00" y1="105.20" x2="276.00" y2="105.20" stroke="#222" stroke-width="1.3"/>
<path d="M272.5 102.6L282.8 105.2L272.5 107.8Z" fill="#111"/>
<text x="24.30" y="65.30" font-size="9.9" fill="#333" text-anchor="middle" textLength="19.1" lengthAdjust="spacingAndGlyphs" transform="rotate(-90 24.30 65.30)" stroke="#333" stroke-width="0.15">CD16</text>
<text x="141.00" y="119.60" font-size="9.6" fill="#333" text-anchor="start" textLength="23.0" lengthAdjust="spacingAndGlyphs">CD11b</text>
<line x1="323.60" y1="18.80" x2="323.60" y2="106.60" stroke="#2a2a2a" stroke-width="1.2"/>
<line x1="321.00" y1="106.30" x2="323.60" y2="106.30" stroke="#333" stroke-width="0.9"/>
<text x="318.20" y="109.10" font-size="7.8" fill="#333" text-anchor="end" stroke="#333" stroke-width="0.15">0</text>
<line x1="321.00" y1="88.90" x2="323.60" y2="88.90" stroke="#333" stroke-width="0.9"/>
<text x="318.20" y="91.70" font-size="7.8" fill="#333" text-anchor="end" stroke="#333" stroke-width="0.15">20</text>
<line x1="321.00" y1="71.50" x2="323.60" y2="71.50" stroke="#333" stroke-width="0.9"/>
<text x="318.20" y="74.30" font-size="7.8" fill="#333" text-anchor="end" stroke="#333" stroke-width="0.15">40</text>
<line x1="321.00" y1="54.10" x2="323.60" y2="54.10" stroke="#333" stroke-width="0.9"/>
<text x="318.20" y="56.90" font-size="7.8" fill="#333" text-anchor="end" stroke="#333" stroke-width="0.15">60</text>
<line x1="321.00" y1="36.70" x2="323.60" y2="36.70" stroke="#333" stroke-width="0.9"/>
<text x="318.20" y="39.50" font-size="7.8" fill="#333" text-anchor="end" stroke="#333" stroke-width="0.15">80</text>
<line x1="321.00" y1="19.30" x2="323.60" y2="19.30" stroke="#333" stroke-width="0.9"/>
<text x="318.20" y="22.10" font-size="7.8" fill="#333" text-anchor="end" stroke="#333" stroke-width="0.15">100</text>
<line x1="322.10" y1="97.60" x2="323.60" y2="97.60" stroke="#333" stroke-width="0.8"/>
<line x1="322.10" y1="80.20" x2="323.60" y2="80.20" stroke="#333" stroke-width="0.8"/>
<line x1="322.10" y1="62.80" x2="323.60" y2="62.80" stroke="#333" stroke-width="0.8"/>
<line x1="322.10" y1="45.40" x2="323.60" y2="45.40" stroke="#333" stroke-width="0.8"/>
<line x1="322.10" y1="28.00" x2="323.60" y2="28.00" stroke="#333" stroke-width="0.8"/>
<line x1="323.60" y1="106.50" x2="379.00" y2="106.50" stroke="#2a2a2a" stroke-width="1.2"/>
<line x1="390.40" y1="106.50" x2="448.50" y2="106.50" stroke="#2a2a2a" stroke-width="1.2"/>
<line x1="335.30" y1="106.50" x2="335.30" y2="109.60" stroke="#333" stroke-width="0.9"/>
<line x1="353.10" y1="106.50" x2="353.10" y2="109.60" stroke="#333" stroke-width="0.9"/>
<line x1="370.40" y1="106.50" x2="370.40" y2="109.60" stroke="#333" stroke-width="0.9"/>
<line x1="401.80" y1="106.50" x2="401.80" y2="109.60" stroke="#333" stroke-width="0.9"/>
<line x1="419.60" y1="106.50" x2="419.60" y2="109.60" stroke="#333" stroke-width="0.9"/>
<line x1="436.80" y1="106.50" x2="436.80" y2="109.60" stroke="#333" stroke-width="0.9"/>
<text x="301.40" y="63.20" font-size="8.8" fill="#333" text-anchor="middle" textLength="55.0" lengthAdjust="spacingAndGlyphs" transform="rotate(-90 301.40 63.20)" stroke="#333" stroke-width="0.15">Percent of CD14-</text>
<text x="352.80" y="14.40" font-size="7.6" fill="#111" text-anchor="middle" font-weight="bold" textLength="18.7" lengthAdjust="spacingAndGlyphs">PMN</text>
<text x="419.60" y="13.80" font-size="7.6" fill="#111" text-anchor="middle" font-weight="bold" textLength="46.2" lengthAdjust="spacingAndGlyphs">Granulocytic</text>
<text x="419.60" y="23.20" font-size="7.6" fill="#111" text-anchor="middle" font-weight="bold" textLength="38.5" lengthAdjust="spacingAndGlyphs">precursors</text>
<circle cx="335.50" cy="30.50" r="1.5" fill="#111"/>
<circle cx="330.80" cy="36.90" r="1.5" fill="#111"/>
<circle cx="335.50" cy="35.60" r="1.5" fill="#111"/>
<circle cx="340.20" cy="36.80" r="1.5" fill="#111"/>
<line x1="330.00" y1="36.20" x2="341.20" y2="36.20" stroke="#111" stroke-width="1.0"/>
<path d="M353.30 23.50L353.30 26.10M354.43 24.15L352.17 25.45M354.43 25.45L352.17 24.15" stroke="#222" stroke-width="0.7"/>
<path d="M370.50 23.50L370.50 26.10M371.63 24.15L369.37 25.45M371.63 25.45L369.37 24.15" stroke="#222" stroke-width="0.7"/>
<rect x="351.90" y="35.40" width="2.80" height="2.80" fill="#111"/>
<rect x="348.90" y="44.30" width="2.80" height="2.80" fill="#111"/>
<rect x="354.60" y="46.60" width="2.80" height="2.80" fill="#111"/>
<rect x="351.90" y="56.00" width="2.80" height="2.80" fill="#111"/>
<line x1="347.30" y1="46.90" x2="358.60" y2="46.90" stroke="#111" stroke-width="1.0"/>
<path d="M370.50 36.16L372.10 39.34L368.90 39.34Z" fill="#111"/>
<path d="M367.80 42.86L369.40 46.04L366.20 46.04Z" fill="#111"/>
<path d="M372.90 44.86L374.50 48.04L371.30 48.04Z" fill="#111"/>
<path d="M370.50 51.66L372.10 54.84L368.90 54.84Z" fill="#111"/>
<line x1="364.80" y1="45.40" x2="376.10" y2="45.40" stroke="#111" stroke-width="1.0"/>
<circle cx="401.80" cy="91.60" r="1.5" fill="#111"/>
<circle cx="399.10" cy="95.40" r="1.5" fill="#111"/>
<circle cx="404.90" cy="97.40" r="1.5" fill="#111"/>
<circle cx="399.40" cy="99.10" r="1.5" fill="#111"/>
<line x1="396.20" y1="96.20" x2="407.90" y2="96.20" stroke="#111" stroke-width="1.0"/>
<path d="M419.60 63.40L419.60 66.00M420.73 64.05L418.47 65.35M420.73 65.35L418.47 64.05" stroke="#222" stroke-width="0.7"/>
<path d="M436.80 63.40L436.80 66.00M437.93 64.05L435.67 65.35M437.93 65.35L435.67 64.05" stroke="#222" stroke-width="0.7"/>
<rect x="418.20" y="72.80" width="2.80" height="2.80" fill="#111"/>
<rect x="418.20" y="81.50" width="2.80" height="2.80" fill="#111"/>
<rect x="418.20" y="87.90" width="2.80" height="2.80" fill="#111"/>
<rect x="418.20" y="92.00" width="2.80" height="2.80" fill="#111"/>
<line x1="413.70" y1="86.20" x2="425.40" y2="86.20" stroke="#111" stroke-width="1.0"/>
<path d="M436.80 76.86L438.40 80.04L435.20 80.04Z" fill="#111"/>
<path d="M436.80 83.16L438.40 86.34L435.20 86.34Z" fill="#111"/>
<path d="M436.80 88.56L438.40 91.74L435.20 91.74Z" fill="#111"/>
<path d="M436.80 91.36L438.40 94.54L435.20 94.54Z" fill="#111"/>
<line x1="431.20" y1="87.30" x2="442.90" y2="87.30" stroke="#111" stroke-width="1.0"/>
<text x="338.70" y="117.80" font-size="8" fill="#333" text-anchor="end" textLength="22.5" lengthAdjust="spacingAndGlyphs" transform="rotate(-45 338.70 117.80)" stroke="#333" stroke-width="0.22">Control</text>
<text x="356.50" y="117.80" font-size="8" fill="#333" text-anchor="end" textLength="27.2" lengthAdjust="spacingAndGlyphs" transform="rotate(-45 356.50 117.80)" stroke="#333" stroke-width="0.22">CLPB-g1</text>
<text x="373.80" y="117.80" font-size="8" fill="#333" text-anchor="end" textLength="27.2" lengthAdjust="spacingAndGlyphs" transform="rotate(-45 373.80 117.80)" stroke="#333" stroke-width="0.22">CLPB-g3</text>
<text x="405.20" y="117.80" font-size="8" fill="#333" text-anchor="end" textLength="22.5" lengthAdjust="spacingAndGlyphs" transform="rotate(-45 405.20 117.80)" stroke="#333" stroke-width="0.22">Control</text>
<text x="423.00" y="117.80" font-size="8" fill="#333" text-anchor="end" textLength="27.2" lengthAdjust="spacingAndGlyphs" transform="rotate(-45 423.00 117.80)" stroke="#333" stroke-width="0.22">CLPB-g1</text>
<text x="440.20" y="117.80" font-size="8" fill="#333" text-anchor="end" textLength="27.2" lengthAdjust="spacingAndGlyphs" transform="rotate(-45 440.20 117.80)" stroke="#333" stroke-width="0.22">CLPB-g3</text>
<text x="7.40" y="158.40" font-size="11.2" fill="#111" text-anchor="start" font-weight="bold">B</text>
<text x="55.80" y="163.20" font-size="8.1" fill="#333" text-anchor="start" textLength="27.1" lengthAdjust="spacingAndGlyphs">Control</text>
<text x="138.60" y="163.20" font-size="8.1" fill="#333" text-anchor="start" textLength="27.7" lengthAdjust="spacingAndGlyphs">CLPBg1</text>
<text x="221.60" y="163.20" font-size="8.1" fill="#333" text-anchor="start" textLength="28.0" lengthAdjust="spacingAndGlyphs">CLPBg3</text>
<defs><filter id="bl" x="-20%" y="-20%" width="140%" height="140%"><feGaussianBlur stdDeviation="0.65"/></filter><filter id="bl2" x="-50%" y="-50%" width="200%" height="200%"><feGaussianBlur stdDeviation="1.1"/></filter><filter id="fb" x="-50%" y="-50%" width="200%" height="200%"><feGaussianBlur stdDeviation="1.0"/></filter><clipPath id="c1"><rect x="27.1" y="169.4" width="80.9" height="82"/></clipPath><clipPath id="c2"><rect x="110.4" y="169.4" width="81.2" height="82"/></clipPath><clipPath id="c3"><rect x="194.2" y="169.4" width="80.8" height="82"/></clipPath></defs>
<g clip-path="url(#c1)">
<rect x="27.10" y="169.40" width="80.90" height="82.00" fill="rgb(184,176,167)"/>
<g filter="url(#bl)">
<circle cx="38.3" cy="178.1" r="4.38" fill="#cdbfd2" opacity="0.6"/>
<path d="M39.39 176.54L40.20 178.16L39.30 179.72L37.50 179.83" fill="none" stroke="#6a3399" stroke-width="2.36" stroke-linecap="round" stroke-linejoin="round"/>
<circle cx="39.39" cy="176.54" r="1.52" fill="#6a3399"/>
<circle cx="37.50" cy="179.83" r="1.52" fill="#6a3399"/>
<circle cx="44.3" cy="177.2" r="4.51" fill="#cdbfd2" opacity="0.6"/>
<path d="M46.19 177.71L44.92 179.06L43.08 178.74L42.35 177.03" fill="none" stroke="#6a3399" stroke-width="2.43" stroke-linecap="round" stroke-linejoin="round"/>
<circle cx="46.19" cy="177.71" r="1.57" fill="#6a3399"/>
<circle cx="42.35" cy="177.03" r="1.57" fill="#6a3399"/>
<circle cx="75.8" cy="174.8" r="3.4" fill="#9a82bd" opacity="0.85"/>
<circle cx="75.19" cy="175.07" r="2.11" fill="#553497"/>
<circle cx="85.7" cy="183.6" r="4.51" fill="#cdbfd2" opacity="0.6"/>
<path d="M87.31 184.72L85.64 185.56L84.03 184.63L83.92 182.77" fill="none" stroke="#6a3399" stroke-width="2.43" stroke-linecap="round" stroke-linejoin="round"/>
<circle cx="87.31" cy="184.72" r="1.57" fill="#6a3399"/>
<circle cx="83.92" cy="182.77" r="1.57" fill="#6a3399"/>
<circle cx="28.8" cy="182.7" r="3.86" fill="#cdbfd2" opacity="0.6"/>
<path d="M30.47 182.85L28.80 184.38L27.13 182.85" fill="none" stroke="#6a3399" stroke-width="2.08" stroke-linecap="round" stroke-linejoin="round"/>
<circle cx="30.47" cy="182.85" r="1.34" fill="#6a3399"/>
<circle cx="27.13" cy="182.85" r="1.34" fill="#6a3399"/>
<circle cx="67.4" cy="191.8" r="3.4" fill="#9a82bd" opacity="0.85"/>
<circle cx="66.79" cy="192.07" r="2.11" fill="#553497"/>
<circle cx="95.9" cy="199" r="4.64" fill="#cdbfd2" opacity="0.6"/>
<path d="M96.75 197.17L97.89 198.71L97.24 200.51L95.38 200.95" fill="none" stroke="#6a3399" stroke-width="2.50" stroke-linecap="round" stroke-linejoin="round"/>
<circle cx="96.75" cy="197.17" r="1.61" fill="#6a3399"/>
<circle cx="95.38" cy="200.95" r="1.61" fill="#6a3399"/>
<circle cx="32.1" cy="206.3" r="4.12" fill="#cdbfd2" opacity="0.6"/>
<path d="M33.89 206.14L32.41 208.06L30.37 206.76" fill="none" stroke="#6a3399" stroke-width="2.22" stroke-linecap="round" stroke-linejoin="round"/>
<circle cx="33.89" cy="206.14" r="1.43" fill="#6a3399"/>
<circle cx="30.37" cy="206.76" r="1.43" fill="#6a3399"/>
<circle cx="90.8" cy="208.7" r="4.51" fill="#cdbfd2" opacity="0.6"/>
<path d="M92.69 208.19L92.26 210.00L90.52 210.64L89.02 209.53" fill="none" stroke="#6a3399" stroke-width="2.43" stroke-linecap="round" stroke-linejoin="round"/>
<circle cx="92.69" cy="208.19" r="1.57" fill="#6a3399"/>
<circle cx="89.02" cy="209.53" r="1.57" fill="#6a3399"/>
<circle cx="103.5" cy="208.2" r="4.64" fill="#cdbfd2" opacity="0.6"/>
<path d="M105.45 208.72L103.15 210.19L101.49 208.02" fill="none" stroke="#6a3399" stroke-width="2.50" stroke-linecap="round" stroke-linejoin="round"/>
<circle cx="105.45" cy="208.72" r="1.61" fill="#6a3399"/>
<circle cx="101.49" cy="208.02" r="1.61" fill="#6a3399"/>
<circle cx="71.6" cy="216" r="4.38" fill="#cdbfd2" opacity="0.6"/>
<path d="M73.50 215.83L72.78 217.49L71.00 217.81L69.76 216.49" fill="none" stroke="#6a3399" stroke-width="2.36" stroke-linecap="round" stroke-linejoin="round"/>
<circle cx="73.50" cy="215.83" r="1.52" fill="#6a3399"/>
<circle cx="69.76" cy="216.49" r="1.52" fill="#6a3399"/>
<circle cx="89.8" cy="217.3" r="4.51" fill="#cdbfd2" opacity="0.6"/>
<path d="M90.92 215.69L91.76 217.36L90.83 218.97L88.97 219.08" fill="none" stroke="#6a3399" stroke-width="2.43" stroke-linecap="round" stroke-linejoin="round"/>
<circle cx="90.92" cy="215.69" r="1.57" fill="#6a3399"/>
<circle cx="88.97" cy="219.08" r="1.57" fill="#6a3399"/>
<circle cx="39.8" cy="225.5" r="4.12" fill="#cdbfd2" opacity="0.6"/>
<path d="M39.96 223.71L41.38 224.65L41.38 226.35L39.96 227.29" fill="none" stroke="#6a3399" stroke-width="2.22" stroke-linecap="round" stroke-linejoin="round"/>
<circle cx="39.96" cy="223.71" r="1.43" fill="#6a3399"/>
<circle cx="39.96" cy="227.29" r="1.43" fill="#6a3399"/>
<circle cx="84.9" cy="227.3" r="4.89" fill="#cdbfd2" opacity="0.6"/>
<path d="M86.96 227.85L84.53 229.40L82.78 227.11" fill="none" stroke="#6a3399" stroke-width="2.64" stroke-linecap="round" stroke-linejoin="round"/>
<circle cx="86.96" cy="227.85" r="1.70" fill="#6a3399"/>
<circle cx="82.78" cy="227.11" r="1.70" fill="#6a3399"/>
<circle cx="105.7" cy="227.7" r="4.51" fill="#cdbfd2" opacity="0.6"/>
<path d="M107.48 226.87L107.37 228.73L105.76 229.66L104.09 228.82" fill="none" stroke="#6a3399" stroke-width="2.43" stroke-linecap="round" stroke-linejoin="round"/>
<circle cx="107.48" cy="226.87" r="1.57" fill="#6a3399"/>
<circle cx="104.09" cy="228.82" r="1.57" fill="#6a3399"/>
<circle cx="39.4" cy="235.5" r="4.51" fill="#cdbfd2" opacity="0.6"/>
<path d="M41.35 235.33L40.62 237.04L38.78 237.36L37.51 236.01" fill="none" stroke="#6a3399" stroke-width="2.43" stroke-linecap="round" stroke-linejoin="round"/>
<circle cx="41.35" cy="235.33" r="1.57" fill="#6a3399"/>
<circle cx="37.51" cy="236.01" r="1.57" fill="#6a3399"/>
<circle cx="69.3" cy="232.4" r="4.38" fill="#cdbfd2" opacity="0.6"/>
<path d="M70.65 231.05L70.76 233.62L68.21 233.96" fill="none" stroke="#6a3399" stroke-width="2.36" stroke-linecap="round" stroke-linejoin="round"/>
<circle cx="70.65" cy="231.05" r="1.52" fill="#6a3399"/>
<circle cx="68.21" cy="233.96" r="1.52" fill="#6a3399"/>
<circle cx="82.6" cy="234.6" r="3.86" fill="#cdbfd2" opacity="0.6"/>
<path d="M82.75 232.93L84.08 233.80L84.08 235.40L82.75 236.27" fill="none" stroke="#6a3399" stroke-width="2.08" stroke-linecap="round" stroke-linejoin="round"/>
<circle cx="82.75" cy="232.93" r="1.34" fill="#6a3399"/>
<circle cx="82.75" cy="236.27" r="1.34" fill="#6a3399"/>
<circle cx="93.5" cy="233.7" r="4.64" fill="#cdbfd2" opacity="0.6"/>
<path d="M95.51 233.88L94.46 235.47L92.54 235.47L91.49 233.88" fill="none" stroke="#6a3399" stroke-width="2.50" stroke-linecap="round" stroke-linejoin="round"/>
<circle cx="95.51" cy="233.88" r="1.61" fill="#6a3399"/>
<circle cx="91.49" cy="233.88" r="1.61" fill="#6a3399"/>
<ellipse cx="76.5" cy="245.9" rx="4.2" ry="2.94" fill="#ad5cab" opacity="0.7" filter="url(#bl2)"/>
<circle cx="92.6" cy="247" r="4.64" fill="#cdbfd2" opacity="0.6"/>
<path d="M94.61 247.18L93.56 248.77L91.64 248.77L90.59 247.18" fill="none" stroke="#6a3399" stroke-width="2.50" stroke-linecap="round" stroke-linejoin="round"/>
<circle cx="94.61" cy="247.18" r="1.61" fill="#6a3399"/>
<circle cx="90.59" cy="247.18" r="1.61" fill="#6a3399"/>
</g></g>
<g clip-path="url(#c2)">
<rect x="110.40" y="169.40" width="81.20" height="82.00" fill="rgb(175,171,166)"/>
<g filter="url(#bl)">
<ellipse cx="167.3" cy="186.3" rx="5.5" ry="3.8499999999999996" fill="#ad5cab" opacity="0.7" filter="url(#bl2)"/>
<ellipse cx="118.2" cy="209" rx="5.5" ry="3.8499999999999996" fill="#ad5cab" opacity="0.7" filter="url(#bl2)"/>
<ellipse cx="168.2" cy="233.8" rx="4.8" ry="3.36" fill="#ad5cab" opacity="0.7" filter="url(#bl2)"/>
<ellipse cx="168.5" cy="244.5" rx="4.2" ry="2.94" fill="#ad5cab" opacity="0.7" filter="url(#bl2)"/>
<ellipse cx="117.3" cy="246.3" rx="4.8" ry="3.36" fill="#ad5cab" opacity="0.7" filter="url(#bl2)"/>
<circle cx="113.6" cy="173.5" r="4.25" fill="#cdbfd2" opacity="0.6"/>
<path d="M114.66 171.99L115.45 173.55L114.57 175.07L112.82 175.17" fill="none" stroke="#6a3399" stroke-width="2.29" stroke-linecap="round" stroke-linejoin="round"/>
<circle cx="114.66" cy="171.99" r="1.48" fill="#6a3399"/>
<circle cx="112.82" cy="175.17" r="1.48" fill="#6a3399"/>
<circle cx="118.2" cy="175.4" r="4.12" fill="#cdbfd2" opacity="0.6"/>
<path d="M119.93 175.86L117.89 177.16L116.41 175.24" fill="none" stroke="#6a3399" stroke-width="2.22" stroke-linecap="round" stroke-linejoin="round"/>
<circle cx="119.93" cy="175.86" r="1.43" fill="#6a3399"/>
<circle cx="116.41" cy="175.24" r="1.43" fill="#6a3399"/>
<circle cx="116.4" cy="179" r="4.12" fill="#cdbfd2" opacity="0.6"/>
<path d="M117.67 177.73L117.77 180.15L115.37 180.47" fill="none" stroke="#6a3399" stroke-width="2.22" stroke-linecap="round" stroke-linejoin="round"/>
<circle cx="117.67" cy="177.73" r="1.43" fill="#6a3399"/>
<circle cx="115.37" cy="180.47" r="1.43" fill="#6a3399"/>
<circle cx="111.5" cy="180.8" r="3.86" fill="#cdbfd2" opacity="0.6"/>
<path d="M113.17 180.95L112.30 182.28L110.70 182.28L109.83 180.95" fill="none" stroke="#6a3399" stroke-width="2.08" stroke-linecap="round" stroke-linejoin="round"/>
<circle cx="113.17" cy="180.95" r="1.34" fill="#6a3399"/>
<circle cx="109.83" cy="180.95" r="1.34" fill="#6a3399"/>
<circle cx="188.2" cy="171.7" r="4.51" fill="#cdbfd2" opacity="0.6"/>
<path d="M188.37 169.75L189.93 170.77L189.93 172.63L188.37 173.65" fill="none" stroke="#6a3399" stroke-width="2.43" stroke-linecap="round" stroke-linejoin="round"/>
<circle cx="188.37" cy="169.75" r="1.57" fill="#6a3399"/>
<circle cx="188.37" cy="173.65" r="1.57" fill="#6a3399"/>
<circle cx="186.4" cy="179.9" r="4.51" fill="#cdbfd2" opacity="0.6"/>
<path d="M187.52 178.29L188.36 179.96L187.43 181.57L185.57 181.68" fill="none" stroke="#6a3399" stroke-width="2.43" stroke-linecap="round" stroke-linejoin="round"/>
<circle cx="187.52" cy="178.29" r="1.57" fill="#6a3399"/>
<circle cx="185.57" cy="181.68" r="1.57" fill="#6a3399"/>
<circle cx="138.7" cy="191.7" r="3.6" fill="#9a82bd" opacity="0.85"/>
<circle cx="138.05" cy="191.99" r="2.23" fill="#553497"/>
<circle cx="143.6" cy="197.7" r="3.61" fill="#cdbfd2" opacity="0.6"/>
<path d="M145.11 198.11L144.09 199.19L142.63 198.93L142.04 197.56" fill="none" stroke="#6a3399" stroke-width="1.94" stroke-linecap="round" stroke-linejoin="round"/>
<circle cx="145.11" cy="198.11" r="1.25" fill="#6a3399"/>
<circle cx="142.04" cy="197.56" r="1.25" fill="#6a3399"/>
<circle cx="129.1" cy="206.3" r="3.6" fill="#9a82bd" opacity="0.85"/>
<circle cx="128.45" cy="206.59" r="2.23" fill="#553497"/>
<circle cx="138.2" cy="204.5" r="3.61" fill="#cdbfd2" opacity="0.6"/>
<path d="M139.10 203.22L139.77 204.55L139.02 205.83L137.54 205.92" fill="none" stroke="#6a3399" stroke-width="1.94" stroke-linecap="round" stroke-linejoin="round"/>
<circle cx="139.10" cy="203.22" r="1.25" fill="#6a3399"/>
<circle cx="137.54" cy="205.92" r="1.25" fill="#6a3399"/>
<circle cx="142.7" cy="208.1" r="3.8" fill="#9a82bd" opacity="0.85"/>
<circle cx="142.02" cy="208.40" r="2.36" fill="#553497"/>
<circle cx="159.1" cy="213" r="2.6" fill="#9a82bd" opacity="0.85"/>
<circle cx="158.63" cy="213.21" r="1.61" fill="#553497"/>
<circle cx="176.4" cy="222.6" r="4" fill="#9a82bd" opacity="0.85"/>
<circle cx="175.68" cy="222.92" r="2.48" fill="#553497"/>
<circle cx="115.5" cy="231.7" r="6" fill="#9a82bd" opacity="0.85"/>
<circle cx="114.42" cy="232.18" r="3.72" fill="#553497"/>
<circle cx="121.8" cy="228.1" r="3.86" fill="#cdbfd2" opacity="0.6"/>
<path d="M121.95 226.43L123.48 228.10L121.95 229.77" fill="none" stroke="#6a3399" stroke-width="2.08" stroke-linecap="round" stroke-linejoin="round"/>
<circle cx="121.95" cy="226.43" r="1.34" fill="#6a3399"/>
<circle cx="121.95" cy="229.77" r="1.34" fill="#6a3399"/>
<circle cx="128.2" cy="229.9" r="4.64" fill="#cdbfd2" opacity="0.6"/>
<path d="M128.38 227.89L129.97 228.94L129.97 230.86L128.38 231.91" fill="none" stroke="#6a3399" stroke-width="2.50" stroke-linecap="round" stroke-linejoin="round"/>
<circle cx="128.38" cy="227.89" r="1.61" fill="#6a3399"/>
<circle cx="128.38" cy="231.91" r="1.61" fill="#6a3399"/>
<circle cx="121.8" cy="236.3" r="3.86" fill="#cdbfd2" opacity="0.6"/>
<path d="M121.95 234.63L123.48 236.30L121.95 237.97" fill="none" stroke="#6a3399" stroke-width="2.08" stroke-linecap="round" stroke-linejoin="round"/>
<circle cx="121.95" cy="234.63" r="1.34" fill="#6a3399"/>
<circle cx="121.95" cy="237.97" r="1.34" fill="#6a3399"/>
<circle cx="126.7" cy="239" r="4" fill="#9a82bd" opacity="0.85"/>
<circle cx="125.98" cy="239.32" r="2.48" fill="#553497"/>
<circle cx="184.5" cy="249" r="3.86" fill="#cdbfd2" opacity="0.6"/>
<path d="M184.65 247.33L186.18 249.00L184.65 250.67" fill="none" stroke="#6a3399" stroke-width="2.08" stroke-linecap="round" stroke-linejoin="round"/>
<circle cx="184.65" cy="247.33" r="1.34" fill="#6a3399"/>
<circle cx="184.65" cy="250.67" r="1.34" fill="#6a3399"/>
</g></g>
<g clip-path="url(#c3)">
<rect x="194.20" y="169.40" width="80.80" height="82.00" fill="rgb(190,184,179)"/>
<g filter="url(#bl)">
<circle cx="230.4" cy="195.9" r="4.7" fill="#9a82bd" opacity="0.85"/>
<circle cx="229.55" cy="196.28" r="2.91" fill="#553497"/>
<circle cx="258" cy="196.3" r="5.4" fill="#9a82bd" opacity="0.85"/>
<circle cx="257.03" cy="196.73" r="3.35" fill="#553497"/>
<circle cx="272.5" cy="186.3" r="5.15" fill="#cdbfd2" opacity="0.6"/>
<path d="M274.73 186.50L273.56 188.27L271.44 188.27L270.27 186.50" fill="none" stroke="#6a3399" stroke-width="2.78" stroke-linecap="round" stroke-linejoin="round"/>
<circle cx="274.73" cy="186.50" r="1.79" fill="#6a3399"/>
<circle cx="270.27" cy="186.50" r="1.79" fill="#6a3399"/>
<circle cx="199.5" cy="212.6" r="4.5" fill="#9a82bd" opacity="0.85"/>
<circle cx="198.69" cy="212.96" r="2.79" fill="#553497"/>
<circle cx="230.4" cy="218.5" r="4.5" fill="#9a82bd" opacity="0.85"/>
<circle cx="229.59" cy="218.86" r="2.79" fill="#553497"/>
<circle cx="235.5" cy="221.4" r="3.22" fill="#cdbfd2" opacity="0.6"/>
<path d="M236.49 220.41L236.57 222.30L234.70 222.55" fill="none" stroke="#6a3399" stroke-width="1.74" stroke-linecap="round" stroke-linejoin="round"/>
<circle cx="236.49" cy="220.41" r="1.12" fill="#6a3399"/>
<circle cx="234.70" cy="222.55" r="1.12" fill="#6a3399"/>
<circle cx="242.2" cy="224.5" r="5.15" fill="#cdbfd2" opacity="0.6"/>
<path d="M244.23 225.45L242.52 226.72L240.53 225.99L240.04 223.92" fill="none" stroke="#6a3399" stroke-width="2.78" stroke-linecap="round" stroke-linejoin="round"/>
<circle cx="244.23" cy="225.45" r="1.79" fill="#6a3399"/>
<circle cx="240.04" cy="223.92" r="1.79" fill="#6a3399"/>
<circle cx="208.9" cy="235.9" r="5.5" fill="#9a82bd" opacity="0.85"/>
<circle cx="207.91" cy="236.34" r="3.41" fill="#553497"/>
<circle cx="210.4" cy="243.5" r="4.51" fill="#cdbfd2" opacity="0.6"/>
<path d="M211.23 241.72L212.34 243.22L211.70 244.96L209.89 245.39" fill="none" stroke="#6a3399" stroke-width="2.43" stroke-linecap="round" stroke-linejoin="round"/>
<circle cx="211.23" cy="241.72" r="1.57" fill="#6a3399"/>
<circle cx="209.89" cy="245.39" r="1.57" fill="#6a3399"/>
<circle cx="259.8" cy="235.9" r="5" fill="#9a82bd" opacity="0.85"/>
<circle cx="258.90" cy="236.30" r="3.10" fill="#553497"/>
</g></g>
<line x1="323.50" y1="157.30" x2="323.50" y2="253.60" stroke="#2a2a2a" stroke-width="1.2"/>
<line x1="320.90" y1="253.30" x2="323.50" y2="253.30" stroke="#333" stroke-width="0.9"/>
<text x="318.20" y="256.10" font-size="7.8" fill="#333" text-anchor="end" stroke="#333" stroke-width="0.15">0</text>
<line x1="320.90" y1="234.20" x2="323.50" y2="234.20" stroke="#333" stroke-width="0.9"/>
<text x="318.20" y="237.00" font-size="7.8" fill="#333" text-anchor="end" stroke="#333" stroke-width="0.15">20</text>
<line x1="320.90" y1="215.10" x2="323.50" y2="215.10" stroke="#333" stroke-width="0.9"/>
<text x="318.20" y="217.90" font-size="7.8" fill="#333" text-anchor="end" stroke="#333" stroke-width="0.15">40</text>
<line x1="320.90" y1="196.00" x2="323.50" y2="196.00" stroke="#333" stroke-width="0.9"/>
<text x="318.20" y="198.80" font-size="7.8" fill="#333" text-anchor="end" stroke="#333" stroke-width="0.15">60</text>
<line x1="320.90" y1="176.90" x2="323.50" y2="176.90" stroke="#333" stroke-width="0.9"/>
<text x="318.20" y="179.70" font-size="7.8" fill="#333" text-anchor="end" stroke="#333" stroke-width="0.15">80</text>
<line x1="320.90" y1="157.80" x2="323.50" y2="157.80" stroke="#333" stroke-width="0.9"/>
<text x="318.20" y="160.60" font-size="7.8" fill="#333" text-anchor="end" stroke="#333" stroke-width="0.15">100</text>
<line x1="322.00" y1="243.75" x2="323.50" y2="243.75" stroke="#333" stroke-width="0.8"/>
<line x1="322.00" y1="224.65" x2="323.50" y2="224.65" stroke="#333" stroke-width="0.8"/>
<line x1="322.00" y1="205.55" x2="323.50" y2="205.55" stroke="#333" stroke-width="0.8"/>
<line x1="322.00" y1="186.45" x2="323.50" y2="186.45" stroke="#333" stroke-width="0.8"/>
<line x1="322.00" y1="167.35" x2="323.50" y2="167.35" stroke="#333" stroke-width="0.8"/>
<line x1="323.50" y1="253.30" x2="387.50" y2="253.30" stroke="#2a2a2a" stroke-width="1.2"/>
<line x1="395.90" y1="253.30" x2="457.50" y2="253.30" stroke="#2a2a2a" stroke-width="1.2"/>
<line x1="336.70" y1="253.30" x2="336.70" y2="256.40" stroke="#333" stroke-width="0.9"/>
<line x1="355.60" y1="253.30" x2="355.60" y2="256.40" stroke="#333" stroke-width="0.9"/>
<line x1="374.90" y1="253.30" x2="374.90" y2="256.40" stroke="#333" stroke-width="0.9"/>
<line x1="408.50" y1="253.30" x2="408.50" y2="256.40" stroke="#333" stroke-width="0.9"/>
<line x1="426.40" y1="253.30" x2="426.40" y2="256.40" stroke="#333" stroke-width="0.9"/>
<line x1="445.40" y1="253.30" x2="445.40" y2="256.40" stroke="#333" stroke-width="0.9"/>
<text x="301.70" y="205.70" font-size="8.8" fill="#333" text-anchor="middle" textLength="31.2" lengthAdjust="spacingAndGlyphs" transform="rotate(-90 301.70 205.70)" stroke="#333" stroke-width="0.15">Cells/100</text>
<text x="355.70" y="162.40" font-size="7.6" fill="#111" text-anchor="middle" font-weight="bold" textLength="17.7" lengthAdjust="spacingAndGlyphs">PMN</text>
<text x="426.90" y="161.50" font-size="7.6" fill="#111" text-anchor="middle" font-weight="bold" textLength="46.4" lengthAdjust="spacingAndGlyphs">Granulocytic</text>
<text x="427.10" y="171.20" font-size="7.6" fill="#111" text-anchor="middle" font-weight="bold" textLength="39.4" lengthAdjust="spacingAndGlyphs">precursors</text>
<circle cx="336.60" cy="181.10" r="1.5" fill="#111"/>
<circle cx="336.60" cy="186.60" r="1.5" fill="#111"/>
<circle cx="333.50" cy="191.20" r="1.5" fill="#111"/>
<circle cx="340.00" cy="193.50" r="1.5" fill="#111"/>
<circle cx="333.50" cy="199.00" r="1.5" fill="#111"/>
<circle cx="339.70" cy="199.20" r="1.5" fill="#111"/>
<line x1="330.50" y1="193.40" x2="342.80" y2="193.40" stroke="#111" stroke-width="1.0"/>
<path d="M352.80 193.00L352.80 195.40M353.84 193.60L351.76 194.80M353.84 194.80L351.76 193.60" stroke="#222" stroke-width="0.65"/>
<path d="M356.00 193.00L356.00 195.40M357.04 193.60L354.96 194.80M357.04 194.80L354.96 193.60" stroke="#222" stroke-width="0.65"/>
<path d="M359.20 193.00L359.20 195.40M360.24 193.60L358.16 194.80M360.24 194.80L358.16 193.60" stroke="#222" stroke-width="0.65"/>
<path d="M371.80 193.00L371.80 195.40M372.84 193.60L370.76 194.80M372.84 194.80L370.76 193.60" stroke="#222" stroke-width="0.65"/>
<path d="M375.05 193.00L375.05 195.40M376.09 193.60L374.01 194.80M376.09 194.80L374.01 193.60" stroke="#222" stroke-width="0.65"/>
<path d="M378.30 193.00L378.30 195.40M379.34 193.60L377.26 194.80M379.34 194.80L377.26 193.60" stroke="#222" stroke-width="0.65"/>
<rect x="354.20" y="201.90" width="2.80" height="2.80" fill="#111"/>
<rect x="354.20" y="203.80" width="2.80" height="2.80" fill="#111"/>
<rect x="354.20" y="205.60" width="2.80" height="2.80" fill="#111"/>
<rect x="349.30" y="212.80" width="2.80" height="2.80" fill="#111"/>
<rect x="359.30" y="208.10" width="2.80" height="2.80" fill="#111"/>
<rect x="359.30" y="212.30" width="2.80" height="2.80" fill="#111"/>
<rect x="354.20" y="210.20" width="2.80" height="2.80" fill="#111"/>
<line x1="349.50" y1="210.20" x2="362.00" y2="210.20" stroke="#111" stroke-width="1.0"/>
<path d="M372.30 203.26L373.90 206.44L370.70 206.44Z" fill="#111"/>
<path d="M377.50 202.26L379.10 205.44L375.90 205.44Z" fill="#111"/>
<path d="M370.00 205.96L371.60 209.14L368.40 209.14Z" fill="#111"/>
<path d="M379.60 206.86L381.20 210.04L378.00 210.04Z" fill="#111"/>
<path d="M374.90 208.06L376.50 211.24L373.30 211.24Z" fill="#111"/>
<path d="M372.00 212.86L373.60 216.04L370.40 216.04Z" fill="#111"/>
<path d="M377.50 211.06L379.10 214.24L375.90 214.24Z" fill="#111"/>
<line x1="369.00" y1="208.00" x2="380.50" y2="208.00" stroke="#111" stroke-width="1.0"/>
<circle cx="405.30" cy="217.90" r="1.5" fill="#111"/>
<circle cx="411.00" cy="217.90" r="1.5" fill="#111"/>
<circle cx="405.30" cy="219.50" r="1.5" fill="#111"/>
<circle cx="411.00" cy="219.50" r="1.5" fill="#111"/>
<circle cx="408.10" cy="223.90" r="1.5" fill="#111"/>
<circle cx="408.10" cy="229.00" r="1.5" fill="#111"/>
<circle cx="408.10" cy="232.20" r="1.5" fill="#111"/>
<line x1="402.30" y1="221.10" x2="414.30" y2="221.10" stroke="#111" stroke-width="1.0"/>
<path d="M423.30 192.30L423.30 194.70M424.34 192.90L422.26 194.10M424.34 194.10L422.26 192.90" stroke="#222" stroke-width="0.65"/>
<path d="M426.95 192.30L426.95 194.70M427.99 192.90L425.91 194.10M427.99 194.10L425.91 192.90" stroke="#222" stroke-width="0.65"/>
<path d="M430.60 192.30L430.60 194.70M431.64 192.90L429.56 194.10M431.64 194.10L429.56 192.90" stroke="#222" stroke-width="0.65"/>
<path d="M441.40 192.30L441.40 194.70M442.44 192.90L440.36 194.10M442.44 194.10L440.36 192.90" stroke="#222" stroke-width="0.65"/>
<path d="M445.05 192.30L445.05 194.70M446.09 192.90L444.01 194.10M446.09 194.10L444.01 192.90" stroke="#222" stroke-width="0.65"/>
<path d="M448.70 192.30L448.70 194.70M449.74 192.90L447.66 194.10M449.74 194.10L447.66 192.90" stroke="#222" stroke-width="0.65"/>
<rect x="425.10" y="200.50" width="2.80" height="2.80" fill="#111"/>
<rect x="425.10" y="202.50" width="2.80" height="2.80" fill="#111"/>
<rect x="425.10" y="204.10" width="2.80" height="2.80" fill="#111"/>
<rect x="422.30" y="208.20" width="2.80" height="2.80" fill="#111"/>
<rect x="428.00" y="206.60" width="2.80" height="2.80" fill="#111"/>
<rect x="422.30" y="213.20" width="2.80" height="2.80" fill="#111"/>
<rect x="428.00" y="212.40" width="2.80" height="2.80" fill="#111"/>
<line x1="420.40" y1="209.20" x2="433.00" y2="209.20" stroke="#111" stroke-width="1.0"/>
<path d="M445.50 201.66L447.10 204.84L443.90 204.84Z" fill="#111"/>
<path d="M440.90 204.66L442.50 207.84L439.30 207.84Z" fill="#111"/>
<path d="M450.50 205.46L452.10 208.64L448.90 208.64Z" fill="#111"/>
<path d="M443.40 206.26L445.00 209.44L441.80 209.44Z" fill="#111"/>
<path d="M447.20 208.36L448.80 211.54L445.60 211.54Z" fill="#111"/>
<path d="M445.50 212.46L447.10 215.64L443.90 215.64Z" fill="#111"/>
<line x1="439.30" y1="206.90" x2="451.10" y2="206.90" stroke="#111" stroke-width="1.0"/>
<text x="340.50" y="264.80" font-size="8" fill="#333" text-anchor="end" textLength="23.2" lengthAdjust="spacingAndGlyphs" transform="rotate(-45 340.50 264.80)" stroke="#333" stroke-width="0.22">Control</text>
<text x="360.00" y="264.80" font-size="8" fill="#333" text-anchor="end" textLength="25.7" lengthAdjust="spacingAndGlyphs" transform="rotate(-45 360.00 264.80)" stroke="#333" stroke-width="0.22">CLPBg1</text>
<text x="379.30" y="264.80" font-size="8" fill="#333" text-anchor="end" textLength="26.0" lengthAdjust="spacingAndGlyphs" transform="rotate(-45 379.30 264.80)" stroke="#333" stroke-width="0.22">CLPBg3</text>
<text x="412.30" y="264.80" font-size="8" fill="#333" text-anchor="end" textLength="23.2" lengthAdjust="spacingAndGlyphs" transform="rotate(-45 412.30 264.80)" stroke="#333" stroke-width="0.22">Control</text>
<text x="430.80" y="264.80" font-size="8" fill="#333" text-anchor="end" textLength="25.7" lengthAdjust="spacingAndGlyphs" transform="rotate(-45 430.80 264.80)" stroke="#333" stroke-width="0.22">CLPBg1</text>
<text x="449.80" y="264.80" font-size="8" fill="#333" text-anchor="end" textLength="26.0" lengthAdjust="spacingAndGlyphs" transform="rotate(-45 449.80 264.80)" stroke="#333" stroke-width="0.22">CLPBg3</text>
<text x="12.50" y="305.00" font-size="11.2" fill="#111" text-anchor="start" font-weight="bold">C</text>
<line x1="36.40" y1="321.30" x2="36.40" y2="418.40" stroke="#2a2a2a" stroke-width="1.2"/>
<line x1="33.80" y1="418.10" x2="36.40" y2="418.10" stroke="#333" stroke-width="0.9"/>
<text x="29.40" y="420.90" font-size="7.8" fill="#333" text-anchor="end" stroke="#333" stroke-width="0.15">0</text>
<line x1="33.80" y1="386.00" x2="36.40" y2="386.00" stroke="#333" stroke-width="0.9"/>
<text x="29.40" y="388.80" font-size="7.8" fill="#333" text-anchor="end" stroke="#333" stroke-width="0.15">20</text>
<line x1="33.80" y1="353.90" x2="36.40" y2="353.90" stroke="#333" stroke-width="0.9"/>
<text x="29.40" y="356.70" font-size="7.8" fill="#333" text-anchor="end" stroke="#333" stroke-width="0.15">40</text>
<line x1="33.80" y1="321.80" x2="36.40" y2="321.80" stroke="#333" stroke-width="0.9"/>
<text x="29.40" y="324.60" font-size="7.8" fill="#333" text-anchor="end" stroke="#333" stroke-width="0.15">60</text>
<line x1="36.40" y1="418.10" x2="105.10" y2="418.10" stroke="#2a2a2a" stroke-width="1.2"/>
<line x1="50.10" y1="418.10" x2="50.10" y2="421.20" stroke="#333" stroke-width="0.9"/>
<line x1="70.90" y1="418.10" x2="70.90" y2="421.20" stroke="#333" stroke-width="0.9"/>
<line x1="91.40" y1="418.10" x2="91.40" y2="421.20" stroke="#333" stroke-width="0.9"/>
<text x="15.50" y="370.00" font-size="8.8" fill="#333" text-anchor="middle" textLength="20.7" lengthAdjust="spacingAndGlyphs" transform="rotate(-90 15.50 370.00)" stroke="#333" stroke-width="0.15">CFU-G</text>
<circle cx="54.70" cy="341.30" r="1.75" fill="#111"/>
<circle cx="44.60" cy="344.50" r="1.75" fill="#111"/>
<circle cx="54.70" cy="346.20" r="1.75" fill="#111"/>
<circle cx="54.70" cy="352.50" r="1.75" fill="#111"/>
<circle cx="44.60" cy="353.90" r="1.75" fill="#111"/>
<circle cx="49.70" cy="357.40" r="1.75" fill="#111"/>
<circle cx="54.70" cy="357.40" r="1.75" fill="#111"/>
<circle cx="44.60" cy="358.90" r="1.75" fill="#111"/>
<line x1="43.10" y1="351.20" x2="56.40" y2="351.20" stroke="#111" stroke-width="1.0"/>
<line x1="49.70" y1="344.60" x2="49.70" y2="357.00" stroke="#111" stroke-width="1.0"/>
<line x1="45.50" y1="344.60" x2="54.00" y2="344.60" stroke="#111" stroke-width="1.0"/>
<line x1="45.50" y1="357.50" x2="54.00" y2="357.50" stroke="#111" stroke-width="1.0"/>
<path d="M68.70 340.00L68.70 342.60M69.83 340.65L67.57 341.95M69.83 341.95L67.57 340.65" stroke="#222" stroke-width="0.7"/>
<path d="M72.10 340.00L72.10 342.60M73.23 340.65L70.97 341.95M73.23 341.95L70.97 340.65" stroke="#222" stroke-width="0.7"/>
<path d="M90.00 340.00L90.00 342.60M91.13 340.65L88.87 341.95M91.13 341.95L88.87 340.65" stroke="#222" stroke-width="0.7"/>
<path d="M93.40 340.00L93.40 342.60M94.53 340.65L92.27 341.95M94.53 341.95L92.27 340.65" stroke="#222" stroke-width="0.7"/>
<rect x="70.40" y="363.70" width="3.20" height="3.20" fill="#111"/>
<rect x="63.90" y="366.90" width="3.20" height="3.20" fill="#111"/>
<rect x="70.40" y="369.40" width="3.20" height="3.20" fill="#111"/>
<rect x="63.90" y="371.70" width="3.20" height="3.20" fill="#111"/>
<rect x="67.20" y="371.70" width="3.20" height="3.20" fill="#111"/>
<rect x="73.90" y="371.70" width="3.20" height="3.20" fill="#111"/>
<rect x="70.40" y="375.10" width="3.20" height="3.20" fill="#111"/>
<rect x="67.40" y="378.10" width="3.20" height="3.20" fill="#111"/>
<line x1="64.00" y1="373.30" x2="77.00" y2="373.30" stroke="#111" stroke-width="1.0"/>
<line x1="72.00" y1="368.00" x2="72.00" y2="377.00" stroke="#111" stroke-width="1.0"/>
<line x1="68.50" y1="368.00" x2="75.50" y2="368.00" stroke="#111" stroke-width="1.0"/>
<line x1="68.50" y1="377.00" x2="75.50" y2="377.00" stroke="#111" stroke-width="1.0"/>
<path d="M91.20 359.08L93.00 362.62L89.40 362.62Z" fill="#111"/>
<path d="M91.20 368.48L93.00 372.02L89.40 372.02Z" fill="#111"/>
<path d="M91.00 383.08L92.80 386.62L89.20 386.62Z" fill="#111"/>
<path d="M86.00 386.28L87.80 389.82L84.20 389.82Z" fill="#111"/>
<path d="M96.30 384.48L98.10 388.02L94.50 388.02Z" fill="#111"/>
<path d="M91.00 389.58L92.80 393.12L89.20 393.12Z" fill="#111"/>
<path d="M96.30 389.58L98.10 393.12L94.50 393.12Z" fill="#111"/>
<path d="M91.00 397.68L92.80 401.22L89.20 401.22Z" fill="#111"/>
<line x1="84.20" y1="383.60" x2="98.00" y2="383.60" stroke="#111" stroke-width="1.0"/>
<line x1="91.20" y1="371.40" x2="91.20" y2="396.00" stroke="#111" stroke-width="1.0"/>
<line x1="87.80" y1="371.40" x2="94.70" y2="371.40" stroke="#111" stroke-width="1.0"/>
<line x1="88.00" y1="396.00" x2="94.50" y2="396.00" stroke="#111" stroke-width="1.0"/>
<text x="53.70" y="430.00" font-size="8" fill="#333" text-anchor="end" textLength="22.7" lengthAdjust="spacingAndGlyphs" transform="rotate(-45 53.70 430.00)" stroke="#333" stroke-width="0.22">Control</text>
<text x="75.00" y="430.00" font-size="8" fill="#333" text-anchor="end" textLength="27.3" lengthAdjust="spacingAndGlyphs" transform="rotate(-45 75.00 430.00)" stroke="#333" stroke-width="0.22">CLPB-g1</text>
<text x="95.50" y="430.00" font-size="8" fill="#333" text-anchor="end" textLength="27.8" lengthAdjust="spacingAndGlyphs" transform="rotate(-45 95.50 430.00)" stroke="#333" stroke-width="0.22">CLPB-g3</text>
<text x="115.90" y="305.00" font-size="11.2" fill="#111" text-anchor="start" font-weight="bold">D</text>
<line x1="136.80" y1="323.40" x2="136.80" y2="416.50" stroke="#2a2a2a" stroke-width="1.2"/>
<line x1="134.20" y1="416.20" x2="136.80" y2="416.20" stroke="#333" stroke-width="0.9"/>
<text x="131.20" y="419.00" font-size="7.8" fill="#333" text-anchor="end" stroke="#333" stroke-width="0.15">0</text>
<line x1="134.20" y1="385.43" x2="136.80" y2="385.43" stroke="#333" stroke-width="0.9"/>
<text x="131.20" y="388.23" font-size="7.8" fill="#333" text-anchor="end" stroke="#333" stroke-width="0.15">1</text>
<line x1="134.20" y1="354.67" x2="136.80" y2="354.67" stroke="#333" stroke-width="0.9"/>
<text x="131.20" y="357.47" font-size="7.8" fill="#333" text-anchor="end" stroke="#333" stroke-width="0.15">2</text>
<line x1="134.20" y1="323.90" x2="136.80" y2="323.90" stroke="#333" stroke-width="0.9"/>
<text x="131.20" y="326.70" font-size="7.8" fill="#333" text-anchor="end" stroke="#333" stroke-width="0.15">3</text>
<line x1="135.30" y1="400.82" x2="136.80" y2="400.82" stroke="#333" stroke-width="0.8"/>
<line x1="135.30" y1="370.05" x2="136.80" y2="370.05" stroke="#333" stroke-width="0.8"/>
<line x1="135.30" y1="339.28" x2="136.80" y2="339.28" stroke="#333" stroke-width="0.8"/>
<line x1="136.80" y1="416.50" x2="195.30" y2="416.50" stroke="#2a2a2a" stroke-width="1.2"/>
<line x1="204.50" y1="417.10" x2="262.50" y2="417.10" stroke="#2a2a2a" stroke-width="1.2"/>
<line x1="150.60" y1="416.50" x2="150.60" y2="419.60" stroke="#333" stroke-width="0.9"/>
<line x1="181.50" y1="416.50" x2="181.50" y2="419.60" stroke="#333" stroke-width="0.9"/>
<line x1="218.00" y1="417.10" x2="218.00" y2="420.20" stroke="#333" stroke-width="0.9"/>
<line x1="248.40" y1="417.10" x2="248.40" y2="420.20" stroke="#333" stroke-width="0.9"/>
<text x="120.30" y="370.20" font-size="8.8" fill="#333" text-anchor="middle" textLength="100.5" lengthAdjust="spacingAndGlyphs" transform="rotate(-90 120.30 370.20)" stroke="#333" stroke-width="0.15">Fold-change (Relative to day 0)</text>
<text x="166.10" y="318.50" font-size="7.6" fill="#111" text-anchor="middle" font-weight="bold" textLength="18.5" lengthAdjust="spacingAndGlyphs">PMN</text>
<text x="233.20" y="318.70" font-size="7.6" fill="#111" text-anchor="middle" font-weight="bold" textLength="46.5" lengthAdjust="spacingAndGlyphs">Granulocytic</text>
<text x="233.60" y="328.90" font-size="7.6" fill="#111" text-anchor="middle" font-weight="bold" textLength="39.6" lengthAdjust="spacingAndGlyphs">precursors</text>
<circle cx="142.75" cy="386.90" r="1.65" fill="#111"/>
<circle cx="144.75" cy="384.40" r="1.65" fill="#111"/>
<circle cx="146.90" cy="386.25" r="1.65" fill="#111"/>
<circle cx="154.00" cy="385.25" r="1.4" fill="#fff" stroke="#222" stroke-width="0.75"/>
<circle cx="156.50" cy="383.50" r="1.4" fill="#fff" stroke="#222" stroke-width="0.75"/>
<circle cx="158.50" cy="385.25" r="1.4" fill="#fff" stroke="#222" stroke-width="0.75"/>
<circle cx="173.30" cy="338.30" r="1.75" fill="#111"/>
<circle cx="177.90" cy="340.20" r="1.75" fill="#111"/>
<circle cx="175.70" cy="352.20" r="1.75" fill="#111"/>
<circle cx="185.40" cy="396.90" r="1.4" fill="#fff" stroke="#222" stroke-width="0.75"/>
<circle cx="189.40" cy="397.50" r="1.4" fill="#fff" stroke="#222" stroke-width="0.75"/>
<circle cx="185.40" cy="401.25" r="1.4" fill="#fff" stroke="#222" stroke-width="0.75"/>
<circle cx="212.20" cy="384.10" r="1.75" fill="#111"/>
<circle cx="210.00" cy="389.20" r="1.75" fill="#111"/>
<circle cx="214.20" cy="389.20" r="1.75" fill="#111"/>
<circle cx="221.90" cy="382.30" r="1.4" fill="#fff" stroke="#222" stroke-width="0.75"/>
<circle cx="226.00" cy="382.30" r="1.4" fill="#fff" stroke="#222" stroke-width="0.75"/>
<circle cx="223.90" cy="388.10" r="1.4" fill="#fff" stroke="#222" stroke-width="0.75"/>
<circle cx="243.00" cy="366.90" r="1.75" fill="#111"/>
<circle cx="243.00" cy="381.50" r="1.75" fill="#111"/>
<circle cx="243.00" cy="391.20" r="1.75" fill="#111"/>
<line x1="239.50" y1="381.50" x2="246.40" y2="381.50" stroke="#111" stroke-width="1.0"/>
<circle cx="252.60" cy="384.60" r="1.4" fill="#fff" stroke="#222" stroke-width="0.75"/>
<circle cx="256.40" cy="388.10" r="1.4" fill="#fff" stroke="#222" stroke-width="0.75"/>
<circle cx="252.60" cy="391.50" r="1.4" fill="#fff" stroke="#222" stroke-width="0.75"/>
<circle cx="260.60" cy="339.40" r="1.7" fill="#111"/>
<text x="265.70" y="341.60" font-size="7.8" fill="#444" text-anchor="start" textLength="30.2" lengthAdjust="spacingAndGlyphs">Unedited</text>
<circle cx="260.60" cy="348.90" r="1.35" fill="#fff" stroke="#222" stroke-width="0.75"/>
<text x="265.70" y="351.30" font-size="7.8" fill="#444" text-anchor="start" textLength="21.8" lengthAdjust="spacingAndGlyphs">Edited</text>
<text x="155.00" y="427.30" font-size="8" fill="#333" text-anchor="end" textLength="24.0" lengthAdjust="spacingAndGlyphs" transform="rotate(-45 155.00 427.30)" stroke="#333" stroke-width="0.22">Control</text>
<text x="185.90" y="427.30" font-size="8" fill="#333" text-anchor="end" textLength="25.3" lengthAdjust="spacingAndGlyphs" transform="rotate(-45 185.90 427.30)" stroke="#333" stroke-width="0.22">CLPBg1</text>
<text x="222.40" y="427.30" font-size="8" fill="#333" text-anchor="end" textLength="24.0" lengthAdjust="spacingAndGlyphs" transform="rotate(-45 222.40 427.30)" stroke="#333" stroke-width="0.22">Control</text>
<text x="252.80" y="427.30" font-size="8" fill="#333" text-anchor="end" textLength="25.3" lengthAdjust="spacingAndGlyphs" transform="rotate(-45 252.80 427.30)" stroke="#333" stroke-width="0.22">CLPBg1</text>
<text x="303.00" y="305.00" font-size="11.2" fill="#111" text-anchor="start" font-weight="bold">E</text>
<line x1="330.30" y1="323.30" x2="330.30" y2="414.30" stroke="#2a2a2a" stroke-width="1.2"/>
<line x1="327.70" y1="414.00" x2="330.30" y2="414.00" stroke="#333" stroke-width="0.9"/>
<text x="324.80" y="416.80" font-size="7.8" fill="#333" text-anchor="end" stroke="#333" stroke-width="0.15">0</text>
<line x1="327.70" y1="383.93" x2="330.30" y2="383.93" stroke="#333" stroke-width="0.9"/>
<text x="324.80" y="386.73" font-size="7.8" fill="#333" text-anchor="end" stroke="#333" stroke-width="0.15">10</text>
<line x1="327.70" y1="353.87" x2="330.30" y2="353.87" stroke="#333" stroke-width="0.9"/>
<text x="324.80" y="356.67" font-size="7.8" fill="#333" text-anchor="end" stroke="#333" stroke-width="0.15">20</text>
<line x1="327.70" y1="323.80" x2="330.30" y2="323.80" stroke="#333" stroke-width="0.9"/>
<text x="324.80" y="326.60" font-size="7.8" fill="#333" text-anchor="end" stroke="#333" stroke-width="0.15">30</text>
<line x1="330.30" y1="414.00" x2="385.60" y2="414.00" stroke="#2a2a2a" stroke-width="1.2"/>
<text x="310.30" y="370.00" font-size="8.8" fill="#333" text-anchor="middle" textLength="37.0" lengthAdjust="spacingAndGlyphs" transform="rotate(-90 310.30 370.00)" stroke="#333" stroke-width="0.15">%caspase +</text>
<path d="M368.20 319.60L368.20 322.20M369.33 320.25L367.07 321.55M369.33 321.55L367.07 320.25" stroke="#222" stroke-width="0.7"/>
<path d="M371.80 319.60L371.80 322.20M372.93 320.25L370.67 321.55M372.93 321.55L370.67 320.25" stroke="#222" stroke-width="0.7"/>
<rect x="339.05" y="369.55" width="3.50" height="3.50" fill="#111"/>
<rect x="344.65" y="371.35" width="3.50" height="3.50" fill="#111"/>
<rect x="350.05" y="370.05" width="3.50" height="3.50" fill="#111"/>
<rect x="344.65" y="377.55" width="3.50" height="3.50" fill="#111"/>
<rect x="350.05" y="376.25" width="3.50" height="3.50" fill="#111"/>
<rect x="344.65" y="384.95" width="3.50" height="3.50" fill="#111"/>
<line x1="339.00" y1="377.00" x2="353.80" y2="377.00" stroke="#111" stroke-width="1.0"/>
<line x1="346.40" y1="374.30" x2="346.40" y2="383.00" stroke="#111" stroke-width="1.0"/>
<line x1="343.00" y1="374.30" x2="349.80" y2="374.30" stroke="#111" stroke-width="1.0"/>
<line x1="343.00" y1="383.00" x2="349.80" y2="383.00" stroke="#111" stroke-width="1.0"/>
<circle cx="369.70" cy="332.10" r="1.9" fill="#111"/>
<circle cx="367.30" cy="348.50" r="1.9" fill="#111"/>
<circle cx="372.90" cy="350.40" r="1.9" fill="#111"/>
<circle cx="369.70" cy="360.60" r="1.9" fill="#111"/>
<circle cx="364.10" cy="365.30" r="1.9" fill="#111"/>
<circle cx="375.60" cy="364.40" r="1.9" fill="#111"/>
<line x1="362.00" y1="353.60" x2="378.00" y2="353.60" stroke="#111" stroke-width="1.0"/>
<line x1="369.70" y1="340.70" x2="369.70" y2="365.70" stroke="#111" stroke-width="1.0"/>
<line x1="366.30" y1="340.70" x2="373.80" y2="340.70" stroke="#111" stroke-width="1.0"/>
<line x1="366.30" y1="365.70" x2="373.80" y2="365.70" stroke="#111" stroke-width="1.0"/>
<text x="348.70" y="423.20" font-size="8" fill="#333" text-anchor="end" textLength="24.5" lengthAdjust="spacingAndGlyphs" transform="rotate(-45 348.70 423.20)" stroke="#333" stroke-width="0.22">Control</text>
<text x="379.00" y="424.60" font-size="8" fill="#333" text-anchor="end" textLength="27.5" lengthAdjust="spacingAndGlyphs" transform="rotate(-45 379.00 424.60)" stroke="#333" stroke-width="0.22">CLPB-g1</text>
<text x="393.00" y="304.80" font-size="11.2" fill="#111" text-anchor="start" font-weight="bold">F</text>
<line x1="419.30" y1="314.50" x2="419.30" y2="413.10" stroke="#2a2a2a" stroke-width="1.2"/>
<line x1="416.70" y1="412.80" x2="419.30" y2="412.80" stroke="#333" stroke-width="0.9"/>
<text x="414.80" y="415.60" font-size="7.8" fill="#333" text-anchor="end" stroke="#333" stroke-width="0.15">0</text>
<line x1="416.70" y1="363.90" x2="419.30" y2="363.90" stroke="#333" stroke-width="0.9"/>
<text x="414.80" y="366.70" font-size="7.8" fill="#333" text-anchor="end" stroke="#333" stroke-width="0.15">50</text>
<line x1="416.70" y1="315.00" x2="419.30" y2="315.00" stroke="#333" stroke-width="0.9"/>
<text x="414.80" y="317.80" font-size="7.8" fill="#333" text-anchor="end" stroke="#333" stroke-width="0.15">100</text>
<line x1="416.40" y1="412.80" x2="478.80" y2="412.80" stroke="#2a2a2a" stroke-width="1.2"/>
<line x1="436.00" y1="412.80" x2="436.00" y2="415.60" stroke="#333" stroke-width="0.9"/>
<line x1="462.00" y1="412.80" x2="462.00" y2="415.60" stroke="#333" stroke-width="0.9"/>
<text x="395.40" y="363.80" font-size="8.8" fill="#333" text-anchor="middle" textLength="24.6" lengthAdjust="spacingAndGlyphs" transform="rotate(-90 395.40 363.80)" stroke="#333" stroke-width="0.15">Percent</text>
<rect x="428.20" y="405.00" width="15.70" height="7.80" fill="#231f20" stroke="#111" stroke-width="0.5"/>
<rect x="428.20" y="339.30" width="15.70" height="65.70" fill="#28a9e1" stroke="#111" stroke-width="0.5"/>
<rect x="428.20" y="330.60" width="15.70" height="8.70" fill="#f9b921" stroke="#111" stroke-width="0.5"/>
<rect x="428.20" y="320.30" width="15.70" height="10.30" fill="#cf2137" stroke="#111" stroke-width="0.5"/>
<rect x="454.20" y="401.80" width="15.70" height="11.00" fill="#231f20" stroke="#111" stroke-width="0.5"/>
<rect x="454.20" y="339.30" width="15.70" height="62.50" fill="#28a9e1" stroke="#111" stroke-width="0.5"/>
<rect x="454.20" y="331.50" width="15.70" height="7.80" fill="#f9b921" stroke="#111" stroke-width="0.5"/>
<rect x="454.20" y="322.00" width="15.70" height="9.50" fill="#cf2137" stroke="#111" stroke-width="0.5"/>
<line x1="432.40" y1="319.60" x2="439.80" y2="319.60" stroke="#444" stroke-width="0.8"/>
<line x1="458.40" y1="321.30" x2="465.80" y2="321.30" stroke="#444" stroke-width="0.8"/>
<line x1="432.40" y1="335.20" x2="439.80" y2="335.20" stroke="#222" stroke-width="0.8"/>
<line x1="436.10" y1="335.20" x2="436.10" y2="339.20" stroke="#222" stroke-width="0.8"/>
<line x1="458.40" y1="334.20" x2="465.80" y2="334.20" stroke="#222" stroke-width="0.8"/>
<line x1="462.10" y1="334.20" x2="462.10" y2="339.20" stroke="#222" stroke-width="0.8"/>
<line x1="431.70" y1="403.30" x2="440.50" y2="403.30" stroke="#333" stroke-width="0.8"/>
<line x1="436.10" y1="403.30" x2="436.10" y2="405.00" stroke="#333" stroke-width="0.8"/>
<line x1="457.70" y1="399.50" x2="466.50" y2="399.50" stroke="#333" stroke-width="0.8"/>
<line x1="462.10" y1="399.50" x2="462.10" y2="401.80" stroke="#333" stroke-width="0.8"/>
<line x1="432.40" y1="330.00" x2="439.80" y2="330.00" stroke="#333" stroke-width="0.6"/>
<line x1="458.40" y1="331.00" x2="465.80" y2="331.00" stroke="#333" stroke-width="0.6"/>
<rect x="480.20" y="318.40" width="11.00" height="6.30" fill="#cf2137" stroke="#222" stroke-width="0.6"/>
<text x="494.30" y="324.10" font-size="7.6" fill="#333" text-anchor="start">G2/M</text>
<rect x="480.20" y="332.10" width="11.00" height="6.30" fill="#f9b921" stroke="#222" stroke-width="0.6"/>
<text x="494.30" y="337.80" font-size="7.6" fill="#333" text-anchor="start">S</text>
<rect x="480.20" y="346.10" width="11.00" height="6.30" fill="#28a9e1" stroke="#222" stroke-width="0.6"/>
<text x="494.30" y="351.80" font-size="7.6" fill="#333" text-anchor="start">G1</text>
<rect x="480.20" y="359.70" width="11.00" height="6.30" fill="#231f20" stroke="#222" stroke-width="0.6"/>
<text x="494.30" y="365.40" font-size="7.6" fill="#333" text-anchor="start">G0</text>
<text x="441.10" y="424.20" font-size="8" fill="#333" text-anchor="end" textLength="24.8" lengthAdjust="spacingAndGlyphs" transform="rotate(-45 441.10 424.20)" stroke="#333" stroke-width="0.22">Control</text>
<text x="467.10" y="424.20" font-size="8" fill="#333" text-anchor="end" textLength="28.3" lengthAdjust="spacingAndGlyphs" transform="rotate(-45 467.10 424.20)" stroke="#333" stroke-width="0.22">CLPB-g1</text>
<path d="M0 0H520V1H0ZM0 0H1V456H0ZM518.7 0H520V456H518.7ZM0 454.7H520V456H0Z" fill="#111"/>
</svg></body></html>
